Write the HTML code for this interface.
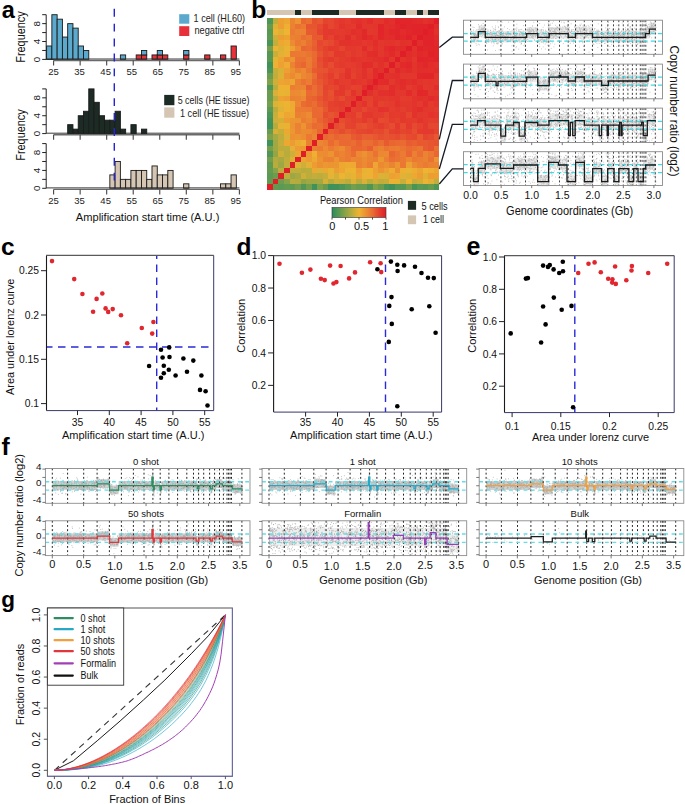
<!DOCTYPE html>
<html><head><meta charset="utf-8"><style>
html,body{margin:0;padding:0;background:#fff;}
svg{display:block;font-family:"Liberation Sans", sans-serif;}
</style></head><body>
<svg width="685" height="804" viewBox="0 0 685 804">
<rect width="685" height="804" fill="#fff"/>
<text x="1.8" y="17.6" font-size="23.5" text-anchor="start" fill="#000" font-weight="bold" >a</text>
<rect x="136.19" y="54.93" width="5.27" height="4.47" fill="#e8303a" stroke="#1a1a1a" stroke-width="0.9"/>
<rect x="141.46" y="54.93" width="5.27" height="4.47" fill="#e8303a" stroke="#1a1a1a" stroke-width="0.9"/>
<rect x="152" y="54.93" width="5.27" height="4.47" fill="#e8303a" stroke="#1a1a1a" stroke-width="0.9"/>
<rect x="157.27" y="54.93" width="5.27" height="4.47" fill="#e8303a" stroke="#1a1a1a" stroke-width="0.9"/>
<rect x="162.54" y="54.93" width="5.27" height="4.47" fill="#e8303a" stroke="#1a1a1a" stroke-width="0.9"/>
<rect x="183.62" y="54.93" width="5.27" height="4.47" fill="#e8303a" stroke="#1a1a1a" stroke-width="0.9"/>
<rect x="204.7" y="54.93" width="5.27" height="4.47" fill="#e8303a" stroke="#1a1a1a" stroke-width="0.9"/>
<rect x="220.51" y="54.93" width="5.27" height="4.47" fill="#e8303a" stroke="#1a1a1a" stroke-width="0.9"/>
<rect x="231.05" y="45.99" width="5.27" height="13.41" fill="#e8303a" stroke="#1a1a1a" stroke-width="0.9"/>
<rect x="46.6" y="45.99" width="5.27" height="13.41" fill="#5ba9cc" stroke="#1a1a1a" stroke-width="0.9"/>
<rect x="51.87" y="14.7" width="5.27" height="44.7" fill="#5ba9cc" stroke="#1a1a1a" stroke-width="0.9"/>
<rect x="57.14" y="19.17" width="5.27" height="40.23" fill="#5ba9cc" stroke="#1a1a1a" stroke-width="0.9"/>
<rect x="62.41" y="37.05" width="5.27" height="22.35" fill="#5ba9cc" stroke="#1a1a1a" stroke-width="0.9"/>
<rect x="67.68" y="23.64" width="5.27" height="35.76" fill="#5ba9cc" stroke="#1a1a1a" stroke-width="0.9"/>
<rect x="72.95" y="28.11" width="5.27" height="31.29" fill="#5ba9cc" stroke="#1a1a1a" stroke-width="0.9"/>
<rect x="78.22" y="45.99" width="5.27" height="13.41" fill="#5ba9cc" stroke="#1a1a1a" stroke-width="0.9"/>
<rect x="83.49" y="50.46" width="5.27" height="8.94" fill="#5ba9cc" stroke="#1a1a1a" stroke-width="0.9"/>
<rect x="120.38" y="54.93" width="5.27" height="4.47" fill="#5ba9cc" stroke="#1a1a1a" stroke-width="0.9"/>
<rect x="141.46" y="50.46" width="5.27" height="4.47" fill="#5ba9cc" stroke="#1a1a1a" stroke-width="0.9"/>
<rect x="157.27" y="50.46" width="5.27" height="4.47" fill="#5ba9cc" stroke="#1a1a1a" stroke-width="0.9"/>
<rect x="183.62" y="50.46" width="5.27" height="4.47" fill="#5ba9cc" stroke="#1a1a1a" stroke-width="0.9"/>
<line x1="46.2" y1="14.7" x2="46.2" y2="59.4" stroke="#222" stroke-width="1" />
<line x1="42.2" y1="59.4" x2="46.2" y2="59.4" stroke="#222" stroke-width="1" />
<line x1="42.2" y1="50.46" x2="46.2" y2="50.46" stroke="#222" stroke-width="1" />
<line x1="42.2" y1="41.52" x2="46.2" y2="41.52" stroke="#222" stroke-width="1" />
<line x1="42.2" y1="32.58" x2="46.2" y2="32.58" stroke="#222" stroke-width="1" />
<line x1="42.2" y1="23.64" x2="46.2" y2="23.64" stroke="#222" stroke-width="1" />
<line x1="42.2" y1="14.7" x2="46.2" y2="14.7" stroke="#222" stroke-width="1" />
<text x="39.6" y="59.4" font-size="9.8" text-anchor="middle" fill="#222" font-weight="normal" transform="rotate(-90 39.6 59.4)" >0</text>
<text x="39.6" y="41.52" font-size="9.8" text-anchor="middle" fill="#222" font-weight="normal" transform="rotate(-90 39.6 41.52)" >4</text>
<text x="39.6" y="23.64" font-size="9.8" text-anchor="middle" fill="#222" font-weight="normal" transform="rotate(-90 39.6 23.64)" >8</text>
<line x1="46.2" y1="59" x2="239.4" y2="59" stroke="#222" stroke-width="0.9" />
<line x1="53.6" y1="60.5" x2="239.38" y2="60.5" stroke="#6a6a6a" stroke-width="1.4" />
<line x1="53.6" y1="60.5" x2="53.6" y2="65.5" stroke="#444" stroke-width="1.1" />
<text x="53.6" y="74.6" font-size="9.5" text-anchor="middle" fill="#222" font-weight="normal" >25</text>
<line x1="80.14" y1="60.5" x2="80.14" y2="65.5" stroke="#444" stroke-width="1.1" />
<text x="79.63" y="74.6" font-size="9.5" text-anchor="middle" fill="#222" font-weight="normal" >35</text>
<line x1="106.68" y1="60.5" x2="106.68" y2="65.5" stroke="#444" stroke-width="1.1" />
<text x="105.66" y="74.6" font-size="9.5" text-anchor="middle" fill="#222" font-weight="normal" >45</text>
<line x1="133.22" y1="60.5" x2="133.22" y2="65.5" stroke="#444" stroke-width="1.1" />
<text x="131.69" y="74.6" font-size="9.5" text-anchor="middle" fill="#222" font-weight="normal" >55</text>
<line x1="159.76" y1="60.5" x2="159.76" y2="65.5" stroke="#444" stroke-width="1.1" />
<text x="157.72" y="74.6" font-size="9.5" text-anchor="middle" fill="#222" font-weight="normal" >65</text>
<line x1="186.3" y1="60.5" x2="186.3" y2="65.5" stroke="#444" stroke-width="1.1" />
<text x="183.75" y="74.6" font-size="9.5" text-anchor="middle" fill="#222" font-weight="normal" >75</text>
<line x1="212.84" y1="60.5" x2="212.84" y2="65.5" stroke="#444" stroke-width="1.1" />
<text x="209.78" y="74.6" font-size="9.5" text-anchor="middle" fill="#222" font-weight="normal" >85</text>
<line x1="239.38" y1="60.5" x2="239.38" y2="65.5" stroke="#444" stroke-width="1.1" />
<text x="235.81" y="74.6" font-size="9.5" text-anchor="middle" fill="#222" font-weight="normal" >95</text>
<rect x="67.68" y="124.66" width="5.27" height="8.94" fill="#1d2b25" stroke="#1a1a1a" stroke-width="0.9"/>
<rect x="72.95" y="129.13" width="5.27" height="4.47" fill="#1d2b25" stroke="#1a1a1a" stroke-width="0.9"/>
<rect x="78.22" y="115.72" width="5.27" height="17.88" fill="#1d2b25" stroke="#1a1a1a" stroke-width="0.9"/>
<rect x="83.49" y="111.25" width="5.27" height="22.35" fill="#1d2b25" stroke="#1a1a1a" stroke-width="0.9"/>
<rect x="88.76" y="88.9" width="5.27" height="44.7" fill="#1d2b25" stroke="#1a1a1a" stroke-width="0.9"/>
<rect x="94.03" y="102.31" width="5.27" height="31.29" fill="#1d2b25" stroke="#1a1a1a" stroke-width="0.9"/>
<rect x="99.3" y="115.72" width="5.27" height="17.88" fill="#1d2b25" stroke="#1a1a1a" stroke-width="0.9"/>
<rect x="104.57" y="120.19" width="5.27" height="13.41" fill="#1d2b25" stroke="#1a1a1a" stroke-width="0.9"/>
<rect x="109.84" y="120.19" width="5.27" height="13.41" fill="#1d2b25" stroke="#1a1a1a" stroke-width="0.9"/>
<rect x="115.11" y="111.25" width="5.27" height="22.35" fill="#1d2b25" stroke="#1a1a1a" stroke-width="0.9"/>
<rect x="120.38" y="129.13" width="5.27" height="4.47" fill="#1d2b25" stroke="#1a1a1a" stroke-width="0.9"/>
<rect x="130.92" y="124.66" width="5.27" height="8.94" fill="#1d2b25" stroke="#1a1a1a" stroke-width="0.9"/>
<rect x="141.46" y="129.13" width="5.27" height="4.47" fill="#1d2b25" stroke="#1a1a1a" stroke-width="0.9"/>
<line x1="46.2" y1="88.9" x2="46.2" y2="133.6" stroke="#222" stroke-width="1" />
<line x1="42.2" y1="133.6" x2="46.2" y2="133.6" stroke="#222" stroke-width="1" />
<line x1="42.2" y1="124.66" x2="46.2" y2="124.66" stroke="#222" stroke-width="1" />
<line x1="42.2" y1="115.72" x2="46.2" y2="115.72" stroke="#222" stroke-width="1" />
<line x1="42.2" y1="106.78" x2="46.2" y2="106.78" stroke="#222" stroke-width="1" />
<line x1="42.2" y1="97.84" x2="46.2" y2="97.84" stroke="#222" stroke-width="1" />
<line x1="42.2" y1="88.9" x2="46.2" y2="88.9" stroke="#222" stroke-width="1" />
<text x="39.6" y="133.6" font-size="9.8" text-anchor="middle" fill="#222" font-weight="normal" transform="rotate(-90 39.6 133.6)" >0</text>
<text x="39.6" y="115.72" font-size="9.8" text-anchor="middle" fill="#222" font-weight="normal" transform="rotate(-90 39.6 115.72)" >4</text>
<text x="39.6" y="97.84" font-size="9.8" text-anchor="middle" fill="#222" font-weight="normal" transform="rotate(-90 39.6 97.84)" >8</text>
<line x1="46.2" y1="133.2" x2="239.4" y2="133.2" stroke="#222" stroke-width="0.9" />
<line x1="53.6" y1="134.7" x2="239.38" y2="134.7" stroke="#6a6a6a" stroke-width="1.4" />
<line x1="53.6" y1="134.7" x2="53.6" y2="139.7" stroke="#444" stroke-width="1.1" />
<line x1="80.14" y1="134.7" x2="80.14" y2="139.7" stroke="#444" stroke-width="1.1" />
<line x1="106.68" y1="134.7" x2="106.68" y2="139.7" stroke="#444" stroke-width="1.1" />
<line x1="133.22" y1="134.7" x2="133.22" y2="139.7" stroke="#444" stroke-width="1.1" />
<line x1="159.76" y1="134.7" x2="159.76" y2="139.7" stroke="#444" stroke-width="1.1" />
<line x1="186.3" y1="134.7" x2="186.3" y2="139.7" stroke="#444" stroke-width="1.1" />
<line x1="212.84" y1="134.7" x2="212.84" y2="139.7" stroke="#444" stroke-width="1.1" />
<line x1="239.38" y1="134.7" x2="239.38" y2="139.7" stroke="#444" stroke-width="1.1" />
<rect x="109.84" y="174.89" width="5.27" height="13.41" fill="#d5c6b3" stroke="#1a1a1a" stroke-width="0.9"/>
<rect x="115.11" y="161.48" width="5.27" height="26.82" fill="#d5c6b3" stroke="#1a1a1a" stroke-width="0.9"/>
<rect x="120.38" y="179.36" width="5.27" height="8.94" fill="#d5c6b3" stroke="#1a1a1a" stroke-width="0.9"/>
<rect x="125.65" y="179.36" width="5.27" height="8.94" fill="#d5c6b3" stroke="#1a1a1a" stroke-width="0.9"/>
<rect x="130.92" y="170.42" width="5.27" height="17.88" fill="#d5c6b3" stroke="#1a1a1a" stroke-width="0.9"/>
<rect x="136.19" y="170.42" width="5.27" height="17.88" fill="#d5c6b3" stroke="#1a1a1a" stroke-width="0.9"/>
<rect x="141.46" y="170.42" width="5.27" height="17.88" fill="#d5c6b3" stroke="#1a1a1a" stroke-width="0.9"/>
<rect x="146.73" y="179.36" width="5.27" height="8.94" fill="#d5c6b3" stroke="#1a1a1a" stroke-width="0.9"/>
<rect x="152" y="165.95" width="5.27" height="22.35" fill="#d5c6b3" stroke="#1a1a1a" stroke-width="0.9"/>
<rect x="157.27" y="174.89" width="5.27" height="13.41" fill="#d5c6b3" stroke="#1a1a1a" stroke-width="0.9"/>
<rect x="162.54" y="174.89" width="5.27" height="13.41" fill="#d5c6b3" stroke="#1a1a1a" stroke-width="0.9"/>
<rect x="167.81" y="170.42" width="5.27" height="17.88" fill="#d5c6b3" stroke="#1a1a1a" stroke-width="0.9"/>
<rect x="183.62" y="183.83" width="5.27" height="4.47" fill="#d5c6b3" stroke="#1a1a1a" stroke-width="0.9"/>
<rect x="220.51" y="183.83" width="5.27" height="4.47" fill="#d5c6b3" stroke="#1a1a1a" stroke-width="0.9"/>
<rect x="225.78" y="183.83" width="5.27" height="4.47" fill="#d5c6b3" stroke="#1a1a1a" stroke-width="0.9"/>
<rect x="231.05" y="174.89" width="5.27" height="13.41" fill="#d5c6b3" stroke="#1a1a1a" stroke-width="0.9"/>
<line x1="46.2" y1="143.6" x2="46.2" y2="188.3" stroke="#222" stroke-width="1" />
<line x1="42.2" y1="188.3" x2="46.2" y2="188.3" stroke="#222" stroke-width="1" />
<line x1="42.2" y1="179.36" x2="46.2" y2="179.36" stroke="#222" stroke-width="1" />
<line x1="42.2" y1="170.42" x2="46.2" y2="170.42" stroke="#222" stroke-width="1" />
<line x1="42.2" y1="161.48" x2="46.2" y2="161.48" stroke="#222" stroke-width="1" />
<line x1="42.2" y1="152.54" x2="46.2" y2="152.54" stroke="#222" stroke-width="1" />
<line x1="42.2" y1="143.6" x2="46.2" y2="143.6" stroke="#222" stroke-width="1" />
<text x="39.6" y="188.3" font-size="9.8" text-anchor="middle" fill="#222" font-weight="normal" transform="rotate(-90 39.6 188.3)" >0</text>
<text x="39.6" y="170.42" font-size="9.8" text-anchor="middle" fill="#222" font-weight="normal" transform="rotate(-90 39.6 170.42)" >4</text>
<text x="39.6" y="152.54" font-size="9.8" text-anchor="middle" fill="#222" font-weight="normal" transform="rotate(-90 39.6 152.54)" >8</text>
<line x1="46.2" y1="187.9" x2="239.4" y2="187.9" stroke="#222" stroke-width="0.9" />
<line x1="53.6" y1="189.4" x2="239.38" y2="189.4" stroke="#6a6a6a" stroke-width="1.4" />
<line x1="53.6" y1="189.4" x2="53.6" y2="194.4" stroke="#444" stroke-width="1.1" />
<text x="53.6" y="203.5" font-size="9.5" text-anchor="middle" fill="#222" font-weight="normal" >25</text>
<line x1="80.14" y1="189.4" x2="80.14" y2="194.4" stroke="#444" stroke-width="1.1" />
<text x="79.63" y="203.5" font-size="9.5" text-anchor="middle" fill="#222" font-weight="normal" >35</text>
<line x1="106.68" y1="189.4" x2="106.68" y2="194.4" stroke="#444" stroke-width="1.1" />
<text x="105.66" y="203.5" font-size="9.5" text-anchor="middle" fill="#222" font-weight="normal" >45</text>
<line x1="133.22" y1="189.4" x2="133.22" y2="194.4" stroke="#444" stroke-width="1.1" />
<text x="131.69" y="203.5" font-size="9.5" text-anchor="middle" fill="#222" font-weight="normal" >55</text>
<line x1="159.76" y1="189.4" x2="159.76" y2="194.4" stroke="#444" stroke-width="1.1" />
<text x="157.72" y="203.5" font-size="9.5" text-anchor="middle" fill="#222" font-weight="normal" >65</text>
<line x1="186.3" y1="189.4" x2="186.3" y2="194.4" stroke="#444" stroke-width="1.1" />
<text x="183.75" y="203.5" font-size="9.5" text-anchor="middle" fill="#222" font-weight="normal" >75</text>
<line x1="212.84" y1="189.4" x2="212.84" y2="194.4" stroke="#444" stroke-width="1.1" />
<text x="209.78" y="203.5" font-size="9.5" text-anchor="middle" fill="#222" font-weight="normal" >85</text>
<line x1="239.38" y1="189.4" x2="239.38" y2="194.4" stroke="#444" stroke-width="1.1" />
<text x="235.81" y="203.5" font-size="9.5" text-anchor="middle" fill="#222" font-weight="normal" >95</text>
<line x1="114.3" y1="8.8" x2="114.3" y2="188.3" stroke="#2323d8" stroke-width="1.4" stroke-dasharray="7.9 7" stroke-dashoffset="0"/>
<rect x="179.2" y="14.2" width="10.1" height="9.5" fill="#5ba9cc"/>
<rect x="179.2" y="26.2" width="10.1" height="9.8" fill="#e8303a"/>
<text x="193.6" y="22.2" font-size="10.5" text-anchor="start" fill="#222" font-weight="normal" textLength="51.5" lengthAdjust="spacingAndGlyphs" >1 cell (HL60)</text>
<text x="194.4" y="34.2" font-size="10.5" text-anchor="start" fill="#222" font-weight="normal" textLength="49.9" lengthAdjust="spacingAndGlyphs" >negative ctrl</text>
<rect x="164.2" y="94.9" width="10.2" height="10.3" fill="#1d2b25"/>
<rect x="164.2" y="107.4" width="10.2" height="10.3" fill="#d5c6b3"/>
<text x="177.7" y="103.8" font-size="10.5" text-anchor="start" fill="#222" font-weight="normal" textLength="71.8" lengthAdjust="spacingAndGlyphs" >5 cells (HE tissue)</text>
<text x="180" y="116.5" font-size="10.5" text-anchor="start" fill="#222" font-weight="normal" textLength="69" lengthAdjust="spacingAndGlyphs" >1 cell (HE tissue)</text>
<text x="24.8" y="37" font-size="12.5" text-anchor="middle" fill="#111" font-weight="normal" transform="rotate(-90 24.8 37)" textLength="51.5" lengthAdjust="spacingAndGlyphs" >Frequency</text>
<text x="24.8" y="135" font-size="12.5" text-anchor="middle" fill="#111" font-weight="normal" transform="rotate(-90 24.8 135)" textLength="51.5" lengthAdjust="spacingAndGlyphs" >Frequency</text>
<text x="147.6" y="220.6" font-size="11.5" text-anchor="middle" fill="#111" font-weight="normal" textLength="143.5" lengthAdjust="spacingAndGlyphs" >Amplification start time (A.U.)</text>
<text x="251.3" y="17.9" font-size="24.5" text-anchor="start" fill="#000" font-weight="bold" >b</text>
<g shape-rendering="crispEdges">
<path fill="#4e9655" d="M267.35 18.00h5.70v5.70h-5.70z"/>
<path fill="#bfad3c" d="M272.90 18.00h5.70v5.70h-5.70z"/>
<path fill="#eda032" d="M278.44 18.00h5.70v5.70h-5.70z"/>
<path fill="#eda632" d="M283.99 18.00h5.70v5.70h-5.70z"/>
<path fill="#eb8432" d="M289.54 18.00h5.70v5.70h-5.70z"/>
<path fill="#ec9432" d="M295.08 18.00h5.70v5.70h-5.70z"/>
<path fill="#e96832" d="M300.63 18.00h5.70v5.70h-5.70z"/>
<path fill="#ea7032" d="M306.18 18.00h5.70v5.70h-5.70z"/>
<path fill="#e65130" d="M311.72 18.00h5.70v5.70h-5.70z"/>
<path fill="#e75830" d="M317.27 18.00h5.70v5.70h-5.70z"/>
<path fill="#e5432e" d="M322.82 18.00h5.70v5.70h-5.70z"/>
<path fill="#e5462f" d="M328.36 18.00h5.70v5.70h-5.70z"/>
<path fill="#e43d2e" d="M333.91 18.00h5.70v5.70h-5.70z"/>
<path fill="#e3372d" d="M339.46 18.00h5.70v5.70h-5.70z"/>
<path fill="#e43b2e" d="M345.00 18.00h5.70v5.70h-5.70z"/>
<path fill="#e3332c" d="M350.55 18.00h5.70v5.70h-5.70z"/>
<path fill="#e2312c" d="M356.10 18.00h5.70v5.70h-5.70z"/>
<path fill="#e3352c" d="M361.65 18.00h5.70v5.70h-5.70z"/>
<path fill="#e22d2b" d="M367.19 18.00h5.70v5.70h-5.70z"/>
<path fill="#e3362d" d="M372.74 18.00h5.70v5.70h-5.70z"/>
<path fill="#e3352c" d="M378.29 18.00h5.70v5.70h-5.70z"/>
<path fill="#e22c2b" d="M383.83 18.00h5.70v5.70h-5.70z"/>
<path fill="#e2312c" d="M389.38 18.00h5.70v5.70h-5.70z"/>
<path fill="#e12429" d="M394.93 18.00h5.70v5.70h-5.70z"/>
<path fill="#e12529" d="M400.47 18.00h5.70v5.70h-5.70z"/>
<path fill="#e12529" d="M406.02 18.00h5.70v5.70h-5.70z"/>
<path fill="#e1282a" d="M411.57 18.00h5.70v5.70h-5.70z"/>
<path fill="#e22a2a" d="M417.11 18.00h5.70v5.70h-5.70z"/>
<path fill="#e2312b" d="M422.66 18.00h5.70v5.70h-5.70z"/>
<path fill="#e22c2b" d="M428.21 18.00h5.70v5.70h-5.70z"/>
<path fill="#e01e28" d="M433.75 18.00h5.70v5.70h-5.70z"/>
<path fill="#679c4f" d="M267.35 23.55h5.70v5.70h-5.70z"/>
<path fill="#dfb235" d="M272.90 23.55h5.70v5.70h-5.70z"/>
<path fill="#ed9d32" d="M278.44 23.55h5.70v5.70h-5.70z"/>
<path fill="#eeaf32" d="M283.99 23.55h5.70v5.70h-5.70z"/>
<path fill="#eb8232" d="M289.54 23.55h5.70v5.70h-5.70z"/>
<path fill="#ea7232" d="M295.08 23.55h5.70v5.70h-5.70z"/>
<path fill="#eb7932" d="M300.63 23.55h5.70v5.70h-5.70z"/>
<path fill="#e75430" d="M306.18 23.55h5.70v5.70h-5.70z"/>
<path fill="#e75530" d="M311.72 23.55h5.70v5.70h-5.70z"/>
<path fill="#e5492f" d="M317.27 23.55h5.70v5.70h-5.70z"/>
<path fill="#e33a2d" d="M322.82 23.55h5.70v5.70h-5.70z"/>
<path fill="#e5462f" d="M328.36 23.55h5.70v5.70h-5.70z"/>
<path fill="#e43e2e" d="M333.91 23.55h5.70v5.70h-5.70z"/>
<path fill="#e3332c" d="M339.46 23.55h5.70v5.70h-5.70z"/>
<path fill="#e3392d" d="M345.00 23.55h5.70v5.70h-5.70z"/>
<path fill="#e43a2d" d="M350.55 23.55h5.70v5.70h-5.70z"/>
<path fill="#e22c2b" d="M356.10 23.55h5.70v5.70h-5.70z"/>
<path fill="#e3372d" d="M361.65 23.55h5.70v5.70h-5.70z"/>
<path fill="#e3362c" d="M367.19 23.55h5.70v5.70h-5.70z"/>
<path fill="#e3352c" d="M372.74 23.55h5.70v5.70h-5.70z"/>
<path fill="#e12629" d="M378.29 23.55h5.70v5.70h-5.70z"/>
<path fill="#e22f2b" d="M383.83 23.55h5.70v5.70h-5.70z"/>
<path fill="#e22d2b" d="M389.38 23.55h5.70v5.70h-5.70z"/>
<path fill="#e1272a" d="M394.93 23.55h5.70v5.70h-5.70z"/>
<path fill="#e12229" d="M400.47 23.55h5.70v5.70h-5.70z"/>
<path fill="#e12629" d="M406.02 23.55h5.70v5.70h-5.70z"/>
<path fill="#e12429" d="M411.57 23.55h5.70v5.70h-5.70z"/>
<path fill="#e12429" d="M417.11 23.55h5.70v5.70h-5.70z"/>
<path fill="#e12429" d="M422.66 23.55h5.70v5.70h-5.70z"/>
<path fill="#e01e28" d="M428.21 23.55h5.70v5.70h-5.70z"/>
<path fill="#e22c2b" d="M433.75 23.55h5.70v5.70h-5.70z"/>
<path fill="#579853" d="M267.35 29.09h5.70v5.70h-5.70z"/>
<path fill="#ecb432" d="M272.90 29.09h5.70v5.70h-5.70z"/>
<path fill="#dfb235" d="M278.44 29.09h5.70v5.70h-5.70z"/>
<path fill="#eeb432" d="M283.99 29.09h5.70v5.70h-5.70z"/>
<path fill="#eb7b32" d="M289.54 29.09h5.70v5.70h-5.70z"/>
<path fill="#eb8432" d="M295.08 29.09h5.70v5.70h-5.70z"/>
<path fill="#eb8332" d="M300.63 29.09h5.70v5.70h-5.70z"/>
<path fill="#e85b31" d="M306.18 29.09h5.70v5.70h-5.70z"/>
<path fill="#e75930" d="M311.72 29.09h5.70v5.70h-5.70z"/>
<path fill="#e5442f" d="M317.27 29.09h5.70v5.70h-5.70z"/>
<path fill="#e33a2d" d="M322.82 29.09h5.70v5.70h-5.70z"/>
<path fill="#e3382d" d="M328.36 29.09h5.70v5.70h-5.70z"/>
<path fill="#e33a2d" d="M333.91 29.09h5.70v5.70h-5.70z"/>
<path fill="#e43a2d" d="M339.46 29.09h5.70v5.70h-5.70z"/>
<path fill="#e3362d" d="M345.00 29.09h5.70v5.70h-5.70z"/>
<path fill="#e22f2b" d="M350.55 29.09h5.70v5.70h-5.70z"/>
<path fill="#e3322c" d="M356.10 29.09h5.70v5.70h-5.70z"/>
<path fill="#e1292a" d="M361.65 29.09h5.70v5.70h-5.70z"/>
<path fill="#e3392d" d="M367.19 29.09h5.70v5.70h-5.70z"/>
<path fill="#e3362c" d="M372.74 29.09h5.70v5.70h-5.70z"/>
<path fill="#e12529" d="M378.29 29.09h5.70v5.70h-5.70z"/>
<path fill="#e22e2b" d="M383.83 29.09h5.70v5.70h-5.70z"/>
<path fill="#e1272a" d="M389.38 29.09h5.70v5.70h-5.70z"/>
<path fill="#e12629" d="M394.93 29.09h5.70v5.70h-5.70z"/>
<path fill="#e22b2a" d="M400.47 29.09h5.70v5.70h-5.70z"/>
<path fill="#e1272a" d="M406.02 29.09h5.70v5.70h-5.70z"/>
<path fill="#e12429" d="M411.57 29.09h5.70v5.70h-5.70z"/>
<path fill="#e12429" d="M417.11 29.09h5.70v5.70h-5.70z"/>
<path fill="#e01e28" d="M422.66 29.09h5.70v5.70h-5.70z"/>
<path fill="#e12429" d="M428.21 29.09h5.70v5.70h-5.70z"/>
<path fill="#e2312b" d="M433.75 29.09h5.70v5.70h-5.70z"/>
<path fill="#5c9952" d="M267.35 34.64h5.70v5.70h-5.70z"/>
<path fill="#d0af38" d="M272.90 34.64h5.70v5.70h-5.70z"/>
<path fill="#ed9e32" d="M278.44 34.64h5.70v5.70h-5.70z"/>
<path fill="#eda332" d="M283.99 34.64h5.70v5.70h-5.70z"/>
<path fill="#eb8232" d="M289.54 34.64h5.70v5.70h-5.70z"/>
<path fill="#eb7e32" d="M295.08 34.64h5.70v5.70h-5.70z"/>
<path fill="#ea6f32" d="M300.63 34.64h5.70v5.70h-5.70z"/>
<path fill="#eb7632" d="M306.18 34.64h5.70v5.70h-5.70z"/>
<path fill="#e85930" d="M311.72 34.64h5.70v5.70h-5.70z"/>
<path fill="#e85930" d="M317.27 34.64h5.70v5.70h-5.70z"/>
<path fill="#e43b2d" d="M322.82 34.64h5.70v5.70h-5.70z"/>
<path fill="#e4412e" d="M328.36 34.64h5.70v5.70h-5.70z"/>
<path fill="#e3342c" d="M333.91 34.64h5.70v5.70h-5.70z"/>
<path fill="#e3382d" d="M339.46 34.64h5.70v5.70h-5.70z"/>
<path fill="#e22e2b" d="M345.00 34.64h5.70v5.70h-5.70z"/>
<path fill="#e43a2d" d="M350.55 34.64h5.70v5.70h-5.70z"/>
<path fill="#e2302b" d="M356.10 34.64h5.70v5.70h-5.70z"/>
<path fill="#e1272a" d="M361.65 34.64h5.70v5.70h-5.70z"/>
<path fill="#e22d2b" d="M367.19 34.64h5.70v5.70h-5.70z"/>
<path fill="#e3342c" d="M372.74 34.64h5.70v5.70h-5.70z"/>
<path fill="#e1272a" d="M378.29 34.64h5.70v5.70h-5.70z"/>
<path fill="#e22e2b" d="M383.83 34.64h5.70v5.70h-5.70z"/>
<path fill="#e22c2b" d="M389.38 34.64h5.70v5.70h-5.70z"/>
<path fill="#e12429" d="M394.93 34.64h5.70v5.70h-5.70z"/>
<path fill="#e1292a" d="M400.47 34.64h5.70v5.70h-5.70z"/>
<path fill="#e12329" d="M406.02 34.64h5.70v5.70h-5.70z"/>
<path fill="#e22d2b" d="M411.57 34.64h5.70v5.70h-5.70z"/>
<path fill="#e01e28" d="M417.11 34.64h5.70v5.70h-5.70z"/>
<path fill="#e12429" d="M422.66 34.64h5.70v5.70h-5.70z"/>
<path fill="#e12429" d="M428.21 34.64h5.70v5.70h-5.70z"/>
<path fill="#e22a2a" d="M433.75 34.64h5.70v5.70h-5.70z"/>
<path fill="#4a9556" d="M267.35 40.19h5.70v5.70h-5.70z"/>
<path fill="#c4ae3b" d="M272.90 40.19h5.70v5.70h-5.70z"/>
<path fill="#eda832" d="M278.44 40.19h5.70v5.70h-5.70z"/>
<path fill="#eeac32" d="M283.99 40.19h5.70v5.70h-5.70z"/>
<path fill="#ec8c32" d="M289.54 40.19h5.70v5.70h-5.70z"/>
<path fill="#eb7932" d="M295.08 40.19h5.70v5.70h-5.70z"/>
<path fill="#eb8032" d="M300.63 40.19h5.70v5.70h-5.70z"/>
<path fill="#ea7032" d="M306.18 40.19h5.70v5.70h-5.70z"/>
<path fill="#e96131" d="M311.72 40.19h5.70v5.70h-5.70z"/>
<path fill="#e5482f" d="M317.27 40.19h5.70v5.70h-5.70z"/>
<path fill="#e64e2f" d="M322.82 40.19h5.70v5.70h-5.70z"/>
<path fill="#e5492f" d="M328.36 40.19h5.70v5.70h-5.70z"/>
<path fill="#e43d2e" d="M333.91 40.19h5.70v5.70h-5.70z"/>
<path fill="#e2322c" d="M339.46 40.19h5.70v5.70h-5.70z"/>
<path fill="#e3322c" d="M345.00 40.19h5.70v5.70h-5.70z"/>
<path fill="#e3332c" d="M350.55 40.19h5.70v5.70h-5.70z"/>
<path fill="#e3332c" d="M356.10 40.19h5.70v5.70h-5.70z"/>
<path fill="#e3382d" d="M361.65 40.19h5.70v5.70h-5.70z"/>
<path fill="#e3352c" d="M367.19 40.19h5.70v5.70h-5.70z"/>
<path fill="#e22d2b" d="M372.74 40.19h5.70v5.70h-5.70z"/>
<path fill="#e3362c" d="M378.29 40.19h5.70v5.70h-5.70z"/>
<path fill="#e3342c" d="M383.83 40.19h5.70v5.70h-5.70z"/>
<path fill="#e3342c" d="M389.38 40.19h5.70v5.70h-5.70z"/>
<path fill="#e3372d" d="M394.93 40.19h5.70v5.70h-5.70z"/>
<path fill="#e2302b" d="M400.47 40.19h5.70v5.70h-5.70z"/>
<path fill="#e3322c" d="M406.02 40.19h5.70v5.70h-5.70z"/>
<path fill="#e01e28" d="M411.57 40.19h5.70v5.70h-5.70z"/>
<path fill="#e22d2b" d="M417.11 40.19h5.70v5.70h-5.70z"/>
<path fill="#e12429" d="M422.66 40.19h5.70v5.70h-5.70z"/>
<path fill="#e12429" d="M428.21 40.19h5.70v5.70h-5.70z"/>
<path fill="#e1282a" d="M433.75 40.19h5.70v5.70h-5.70z"/>
<path fill="#769f4c" d="M267.35 45.73h5.70v5.70h-5.70z"/>
<path fill="#ecb432" d="M272.90 45.73h5.70v5.70h-5.70z"/>
<path fill="#ddb135" d="M278.44 45.73h5.70v5.70h-5.70z"/>
<path fill="#e9b333" d="M283.99 45.73h5.70v5.70h-5.70z"/>
<path fill="#eda132" d="M289.54 45.73h5.70v5.70h-5.70z"/>
<path fill="#ec8832" d="M295.08 45.73h5.70v5.70h-5.70z"/>
<path fill="#e96531" d="M300.63 45.73h5.70v5.70h-5.70z"/>
<path fill="#ea6a32" d="M306.18 45.73h5.70v5.70h-5.70z"/>
<path fill="#e85c31" d="M311.72 45.73h5.70v5.70h-5.70z"/>
<path fill="#e64a2f" d="M317.27 45.73h5.70v5.70h-5.70z"/>
<path fill="#e5422e" d="M322.82 45.73h5.70v5.70h-5.70z"/>
<path fill="#e43a2d" d="M328.36 45.73h5.70v5.70h-5.70z"/>
<path fill="#e43b2d" d="M333.91 45.73h5.70v5.70h-5.70z"/>
<path fill="#e5452f" d="M339.46 45.73h5.70v5.70h-5.70z"/>
<path fill="#e3392d" d="M345.00 45.73h5.70v5.70h-5.70z"/>
<path fill="#e3382d" d="M350.55 45.73h5.70v5.70h-5.70z"/>
<path fill="#e43b2d" d="M356.10 45.73h5.70v5.70h-5.70z"/>
<path fill="#e22b2a" d="M361.65 45.73h5.70v5.70h-5.70z"/>
<path fill="#e33a2d" d="M367.19 45.73h5.70v5.70h-5.70z"/>
<path fill="#e2302b" d="M372.74 45.73h5.70v5.70h-5.70z"/>
<path fill="#e3362d" d="M378.29 45.73h5.70v5.70h-5.70z"/>
<path fill="#e22b2b" d="M383.83 45.73h5.70v5.70h-5.70z"/>
<path fill="#e1272a" d="M389.38 45.73h5.70v5.70h-5.70z"/>
<path fill="#e22e2b" d="M394.93 45.73h5.70v5.70h-5.70z"/>
<path fill="#e22b2b" d="M400.47 45.73h5.70v5.70h-5.70z"/>
<path fill="#e01e28" d="M406.02 45.73h5.70v5.70h-5.70z"/>
<path fill="#e3322c" d="M411.57 45.73h5.70v5.70h-5.70z"/>
<path fill="#e12329" d="M417.11 45.73h5.70v5.70h-5.70z"/>
<path fill="#e1272a" d="M422.66 45.73h5.70v5.70h-5.70z"/>
<path fill="#e12629" d="M428.21 45.73h5.70v5.70h-5.70z"/>
<path fill="#e12529" d="M433.75 45.73h5.70v5.70h-5.70z"/>
<path fill="#569853" d="M267.35 51.28h5.70v5.70h-5.70z"/>
<path fill="#c9ae39" d="M272.90 51.28h5.70v5.70h-5.70z"/>
<path fill="#e1b235" d="M278.44 51.28h5.70v5.70h-5.70z"/>
<path fill="#eeaf32" d="M283.99 51.28h5.70v5.70h-5.70z"/>
<path fill="#eb7832" d="M289.54 51.28h5.70v5.70h-5.70z"/>
<path fill="#eb7932" d="M295.08 51.28h5.70v5.70h-5.70z"/>
<path fill="#eb7b32" d="M300.63 51.28h5.70v5.70h-5.70z"/>
<path fill="#ea7432" d="M306.18 51.28h5.70v5.70h-5.70z"/>
<path fill="#ea6b32" d="M311.72 51.28h5.70v5.70h-5.70z"/>
<path fill="#e75430" d="M317.27 51.28h5.70v5.70h-5.70z"/>
<path fill="#e5442f" d="M322.82 51.28h5.70v5.70h-5.70z"/>
<path fill="#e64b2f" d="M328.36 51.28h5.70v5.70h-5.70z"/>
<path fill="#e3392d" d="M333.91 51.28h5.70v5.70h-5.70z"/>
<path fill="#e3392d" d="M339.46 51.28h5.70v5.70h-5.70z"/>
<path fill="#e43f2e" d="M345.00 51.28h5.70v5.70h-5.70z"/>
<path fill="#e3392d" d="M350.55 51.28h5.70v5.70h-5.70z"/>
<path fill="#e43c2e" d="M356.10 51.28h5.70v5.70h-5.70z"/>
<path fill="#e3362d" d="M361.65 51.28h5.70v5.70h-5.70z"/>
<path fill="#e22e2b" d="M367.19 51.28h5.70v5.70h-5.70z"/>
<path fill="#e22c2b" d="M372.74 51.28h5.70v5.70h-5.70z"/>
<path fill="#e3372d" d="M378.29 51.28h5.70v5.70h-5.70z"/>
<path fill="#e2312c" d="M383.83 51.28h5.70v5.70h-5.70z"/>
<path fill="#e22a2a" d="M389.38 51.28h5.70v5.70h-5.70z"/>
<path fill="#e3342c" d="M394.93 51.28h5.70v5.70h-5.70z"/>
<path fill="#e01e28" d="M400.47 51.28h5.70v5.70h-5.70z"/>
<path fill="#e22b2b" d="M406.02 51.28h5.70v5.70h-5.70z"/>
<path fill="#e2302b" d="M411.57 51.28h5.70v5.70h-5.70z"/>
<path fill="#e1292a" d="M417.11 51.28h5.70v5.70h-5.70z"/>
<path fill="#e22b2a" d="M422.66 51.28h5.70v5.70h-5.70z"/>
<path fill="#e12229" d="M428.21 51.28h5.70v5.70h-5.70z"/>
<path fill="#e12529" d="M433.75 51.28h5.70v5.70h-5.70z"/>
<path fill="#579853" d="M267.35 56.83h5.70v5.70h-5.70z"/>
<path fill="#e7b333" d="M272.90 56.83h5.70v5.70h-5.70z"/>
<path fill="#eda532" d="M278.44 56.83h5.70v5.70h-5.70z"/>
<path fill="#ec8f32" d="M283.99 56.83h5.70v5.70h-5.70z"/>
<path fill="#ec9632" d="M289.54 56.83h5.70v5.70h-5.70z"/>
<path fill="#ea7232" d="M295.08 56.83h5.70v5.70h-5.70z"/>
<path fill="#ea7132" d="M300.63 56.83h5.70v5.70h-5.70z"/>
<path fill="#eb7c32" d="M306.18 56.83h5.70v5.70h-5.70z"/>
<path fill="#ea6832" d="M311.72 56.83h5.70v5.70h-5.70z"/>
<path fill="#e64b2f" d="M317.27 56.83h5.70v5.70h-5.70z"/>
<path fill="#e43f2e" d="M322.82 56.83h5.70v5.70h-5.70z"/>
<path fill="#e43a2d" d="M328.36 56.83h5.70v5.70h-5.70z"/>
<path fill="#e5422e" d="M333.91 56.83h5.70v5.70h-5.70z"/>
<path fill="#e43b2d" d="M339.46 56.83h5.70v5.70h-5.70z"/>
<path fill="#e3392d" d="M345.00 56.83h5.70v5.70h-5.70z"/>
<path fill="#e3322c" d="M350.55 56.83h5.70v5.70h-5.70z"/>
<path fill="#e3352c" d="M356.10 56.83h5.70v5.70h-5.70z"/>
<path fill="#e3362d" d="M361.65 56.83h5.70v5.70h-5.70z"/>
<path fill="#e3342c" d="M367.19 56.83h5.70v5.70h-5.70z"/>
<path fill="#e2302b" d="M372.74 56.83h5.70v5.70h-5.70z"/>
<path fill="#e22f2b" d="M378.29 56.83h5.70v5.70h-5.70z"/>
<path fill="#e1282a" d="M383.83 56.83h5.70v5.70h-5.70z"/>
<path fill="#e3372d" d="M389.38 56.83h5.70v5.70h-5.70z"/>
<path fill="#e01e28" d="M394.93 56.83h5.70v5.70h-5.70z"/>
<path fill="#e3342c" d="M400.47 56.83h5.70v5.70h-5.70z"/>
<path fill="#e22e2b" d="M406.02 56.83h5.70v5.70h-5.70z"/>
<path fill="#e3372d" d="M411.57 56.83h5.70v5.70h-5.70z"/>
<path fill="#e12429" d="M417.11 56.83h5.70v5.70h-5.70z"/>
<path fill="#e12629" d="M422.66 56.83h5.70v5.70h-5.70z"/>
<path fill="#e1272a" d="M428.21 56.83h5.70v5.70h-5.70z"/>
<path fill="#e12429" d="M433.75 56.83h5.70v5.70h-5.70z"/>
<path fill="#419259" d="M267.35 62.37h5.70v5.70h-5.70z"/>
<path fill="#eeb132" d="M272.90 62.37h5.70v5.70h-5.70z"/>
<path fill="#eda132" d="M278.44 62.37h5.70v5.70h-5.70z"/>
<path fill="#eeac32" d="M283.99 62.37h5.70v5.70h-5.70z"/>
<path fill="#eb8432" d="M289.54 62.37h5.70v5.70h-5.70z"/>
<path fill="#ea6d32" d="M295.08 62.37h5.70v5.70h-5.70z"/>
<path fill="#e96531" d="M300.63 62.37h5.70v5.70h-5.70z"/>
<path fill="#eb7a32" d="M306.18 62.37h5.70v5.70h-5.70z"/>
<path fill="#e96631" d="M311.72 62.37h5.70v5.70h-5.70z"/>
<path fill="#e64f2f" d="M317.27 62.37h5.70v5.70h-5.70z"/>
<path fill="#e5422e" d="M322.82 62.37h5.70v5.70h-5.70z"/>
<path fill="#e64c2f" d="M328.36 62.37h5.70v5.70h-5.70z"/>
<path fill="#e43d2e" d="M333.91 62.37h5.70v5.70h-5.70z"/>
<path fill="#e43a2d" d="M339.46 62.37h5.70v5.70h-5.70z"/>
<path fill="#e43c2e" d="M345.00 62.37h5.70v5.70h-5.70z"/>
<path fill="#e43b2d" d="M350.55 62.37h5.70v5.70h-5.70z"/>
<path fill="#e3372d" d="M356.10 62.37h5.70v5.70h-5.70z"/>
<path fill="#e22b2b" d="M361.65 62.37h5.70v5.70h-5.70z"/>
<path fill="#e22d2b" d="M367.19 62.37h5.70v5.70h-5.70z"/>
<path fill="#e3382d" d="M372.74 62.37h5.70v5.70h-5.70z"/>
<path fill="#e2302b" d="M378.29 62.37h5.70v5.70h-5.70z"/>
<path fill="#e3392d" d="M383.83 62.37h5.70v5.70h-5.70z"/>
<path fill="#e01e28" d="M389.38 62.37h5.70v5.70h-5.70z"/>
<path fill="#e3372d" d="M394.93 62.37h5.70v5.70h-5.70z"/>
<path fill="#e22a2a" d="M400.47 62.37h5.70v5.70h-5.70z"/>
<path fill="#e1272a" d="M406.02 62.37h5.70v5.70h-5.70z"/>
<path fill="#e3342c" d="M411.57 62.37h5.70v5.70h-5.70z"/>
<path fill="#e22c2b" d="M417.11 62.37h5.70v5.70h-5.70z"/>
<path fill="#e1272a" d="M422.66 62.37h5.70v5.70h-5.70z"/>
<path fill="#e22d2b" d="M428.21 62.37h5.70v5.70h-5.70z"/>
<path fill="#e2312c" d="M433.75 62.37h5.70v5.70h-5.70z"/>
<path fill="#4c9556" d="M267.35 67.92h5.70v5.70h-5.70z"/>
<path fill="#c5ae3a" d="M272.90 67.92h5.70v5.70h-5.70z"/>
<path fill="#d9b136" d="M278.44 67.92h5.70v5.70h-5.70z"/>
<path fill="#ed9f32" d="M283.99 67.92h5.70v5.70h-5.70z"/>
<path fill="#ec9132" d="M289.54 67.92h5.70v5.70h-5.70z"/>
<path fill="#eb7f32" d="M295.08 67.92h5.70v5.70h-5.70z"/>
<path fill="#ec8932" d="M300.63 67.92h5.70v5.70h-5.70z"/>
<path fill="#ea7432" d="M306.18 67.92h5.70v5.70h-5.70z"/>
<path fill="#e85a30" d="M311.72 67.92h5.70v5.70h-5.70z"/>
<path fill="#e75430" d="M317.27 67.92h5.70v5.70h-5.70z"/>
<path fill="#e75230" d="M322.82 67.92h5.70v5.70h-5.70z"/>
<path fill="#e5442f" d="M328.36 67.92h5.70v5.70h-5.70z"/>
<path fill="#e5472f" d="M333.91 67.92h5.70v5.70h-5.70z"/>
<path fill="#e5442f" d="M339.46 67.92h5.70v5.70h-5.70z"/>
<path fill="#e3332c" d="M345.00 67.92h5.70v5.70h-5.70z"/>
<path fill="#e43e2e" d="M350.55 67.92h5.70v5.70h-5.70z"/>
<path fill="#e43a2d" d="M356.10 67.92h5.70v5.70h-5.70z"/>
<path fill="#e2302b" d="M361.65 67.92h5.70v5.70h-5.70z"/>
<path fill="#e43d2e" d="M367.19 67.92h5.70v5.70h-5.70z"/>
<path fill="#e22a2a" d="M372.74 67.92h5.70v5.70h-5.70z"/>
<path fill="#e2322c" d="M378.29 67.92h5.70v5.70h-5.70z"/>
<path fill="#e01e28" d="M383.83 67.92h5.70v5.70h-5.70z"/>
<path fill="#e3392d" d="M389.38 67.92h5.70v5.70h-5.70z"/>
<path fill="#e1282a" d="M394.93 67.92h5.70v5.70h-5.70z"/>
<path fill="#e2312c" d="M400.47 67.92h5.70v5.70h-5.70z"/>
<path fill="#e22b2b" d="M406.02 67.92h5.70v5.70h-5.70z"/>
<path fill="#e3342c" d="M411.57 67.92h5.70v5.70h-5.70z"/>
<path fill="#e22e2b" d="M417.11 67.92h5.70v5.70h-5.70z"/>
<path fill="#e22e2b" d="M422.66 67.92h5.70v5.70h-5.70z"/>
<path fill="#e22f2b" d="M428.21 67.92h5.70v5.70h-5.70z"/>
<path fill="#e22c2b" d="M433.75 67.92h5.70v5.70h-5.70z"/>
<path fill="#6c9d4e" d="M267.35 73.47h5.70v5.70h-5.70z"/>
<path fill="#c2ad3b" d="M272.90 73.47h5.70v5.70h-5.70z"/>
<path fill="#dbb136" d="M278.44 73.47h5.70v5.70h-5.70z"/>
<path fill="#ec9432" d="M283.99 73.47h5.70v5.70h-5.70z"/>
<path fill="#ec8a32" d="M289.54 73.47h5.70v5.70h-5.70z"/>
<path fill="#ec9832" d="M295.08 73.47h5.70v5.70h-5.70z"/>
<path fill="#ec8732" d="M300.63 73.47h5.70v5.70h-5.70z"/>
<path fill="#eb8132" d="M306.18 73.47h5.70v5.70h-5.70z"/>
<path fill="#ea6e32" d="M311.72 73.47h5.70v5.70h-5.70z"/>
<path fill="#e65030" d="M317.27 73.47h5.70v5.70h-5.70z"/>
<path fill="#e5472f" d="M322.82 73.47h5.70v5.70h-5.70z"/>
<path fill="#e43d2e" d="M328.36 73.47h5.70v5.70h-5.70z"/>
<path fill="#e64b2f" d="M333.91 73.47h5.70v5.70h-5.70z"/>
<path fill="#e43c2e" d="M339.46 73.47h5.70v5.70h-5.70z"/>
<path fill="#e3322c" d="M345.00 73.47h5.70v5.70h-5.70z"/>
<path fill="#e5422e" d="M350.55 73.47h5.70v5.70h-5.70z"/>
<path fill="#e3392d" d="M356.10 73.47h5.70v5.70h-5.70z"/>
<path fill="#e2312c" d="M361.65 73.47h5.70v5.70h-5.70z"/>
<path fill="#e33a2d" d="M367.19 73.47h5.70v5.70h-5.70z"/>
<path fill="#e22b2a" d="M372.74 73.47h5.70v5.70h-5.70z"/>
<path fill="#e01e28" d="M378.29 73.47h5.70v5.70h-5.70z"/>
<path fill="#e2322c" d="M383.83 73.47h5.70v5.70h-5.70z"/>
<path fill="#e2302b" d="M389.38 73.47h5.70v5.70h-5.70z"/>
<path fill="#e22f2b" d="M394.93 73.47h5.70v5.70h-5.70z"/>
<path fill="#e3372d" d="M400.47 73.47h5.70v5.70h-5.70z"/>
<path fill="#e3362d" d="M406.02 73.47h5.70v5.70h-5.70z"/>
<path fill="#e3362c" d="M411.57 73.47h5.70v5.70h-5.70z"/>
<path fill="#e1272a" d="M417.11 73.47h5.70v5.70h-5.70z"/>
<path fill="#e12529" d="M422.66 73.47h5.70v5.70h-5.70z"/>
<path fill="#e12629" d="M428.21 73.47h5.70v5.70h-5.70z"/>
<path fill="#e3352c" d="M433.75 73.47h5.70v5.70h-5.70z"/>
<path fill="#80a249" d="M267.35 79.01h5.70v5.70h-5.70z"/>
<path fill="#cfaf38" d="M272.90 79.01h5.70v5.70h-5.70z"/>
<path fill="#eda432" d="M278.44 79.01h5.70v5.70h-5.70z"/>
<path fill="#eda132" d="M283.99 79.01h5.70v5.70h-5.70z"/>
<path fill="#eda632" d="M289.54 79.01h5.70v5.70h-5.70z"/>
<path fill="#eb8032" d="M295.08 79.01h5.70v5.70h-5.70z"/>
<path fill="#ea7232" d="M300.63 79.01h5.70v5.70h-5.70z"/>
<path fill="#eb7c32" d="M306.18 79.01h5.70v5.70h-5.70z"/>
<path fill="#e96331" d="M311.72 79.01h5.70v5.70h-5.70z"/>
<path fill="#e75830" d="M317.27 79.01h5.70v5.70h-5.70z"/>
<path fill="#e64b2f" d="M322.82 79.01h5.70v5.70h-5.70z"/>
<path fill="#e5422e" d="M328.36 79.01h5.70v5.70h-5.70z"/>
<path fill="#e3372d" d="M333.91 79.01h5.70v5.70h-5.70z"/>
<path fill="#e43d2e" d="M339.46 79.01h5.70v5.70h-5.70z"/>
<path fill="#e43c2e" d="M345.00 79.01h5.70v5.70h-5.70z"/>
<path fill="#e3332c" d="M350.55 79.01h5.70v5.70h-5.70z"/>
<path fill="#e3372d" d="M356.10 79.01h5.70v5.70h-5.70z"/>
<path fill="#e43a2d" d="M361.65 79.01h5.70v5.70h-5.70z"/>
<path fill="#e2312c" d="M367.19 79.01h5.70v5.70h-5.70z"/>
<path fill="#e01e28" d="M372.74 79.01h5.70v5.70h-5.70z"/>
<path fill="#e22b2a" d="M378.29 79.01h5.70v5.70h-5.70z"/>
<path fill="#e22a2a" d="M383.83 79.01h5.70v5.70h-5.70z"/>
<path fill="#e3382d" d="M389.38 79.01h5.70v5.70h-5.70z"/>
<path fill="#e2302b" d="M394.93 79.01h5.70v5.70h-5.70z"/>
<path fill="#e22c2b" d="M400.47 79.01h5.70v5.70h-5.70z"/>
<path fill="#e2302b" d="M406.02 79.01h5.70v5.70h-5.70z"/>
<path fill="#e22d2b" d="M411.57 79.01h5.70v5.70h-5.70z"/>
<path fill="#e3342c" d="M417.11 79.01h5.70v5.70h-5.70z"/>
<path fill="#e3362c" d="M422.66 79.01h5.70v5.70h-5.70z"/>
<path fill="#e3352c" d="M428.21 79.01h5.70v5.70h-5.70z"/>
<path fill="#e3362d" d="M433.75 79.01h5.70v5.70h-5.70z"/>
<path fill="#4f9655" d="M267.35 84.56h5.70v5.70h-5.70z"/>
<path fill="#baac3d" d="M272.90 84.56h5.70v5.70h-5.70z"/>
<path fill="#eeb232" d="M278.44 84.56h5.70v5.70h-5.70z"/>
<path fill="#eeb132" d="M283.99 84.56h5.70v5.70h-5.70z"/>
<path fill="#eb7e32" d="M289.54 84.56h5.70v5.70h-5.70z"/>
<path fill="#eb8432" d="M295.08 84.56h5.70v5.70h-5.70z"/>
<path fill="#eb8532" d="M300.63 84.56h5.70v5.70h-5.70z"/>
<path fill="#e85d31" d="M306.18 84.56h5.70v5.70h-5.70z"/>
<path fill="#ea6e32" d="M311.72 84.56h5.70v5.70h-5.70z"/>
<path fill="#e85d31" d="M317.27 84.56h5.70v5.70h-5.70z"/>
<path fill="#e5432e" d="M322.82 84.56h5.70v5.70h-5.70z"/>
<path fill="#e5482f" d="M328.36 84.56h5.70v5.70h-5.70z"/>
<path fill="#e5442e" d="M333.91 84.56h5.70v5.70h-5.70z"/>
<path fill="#e3372d" d="M339.46 84.56h5.70v5.70h-5.70z"/>
<path fill="#e43c2e" d="M345.00 84.56h5.70v5.70h-5.70z"/>
<path fill="#e5432e" d="M350.55 84.56h5.70v5.70h-5.70z"/>
<path fill="#e4412e" d="M356.10 84.56h5.70v5.70h-5.70z"/>
<path fill="#e2312c" d="M361.65 84.56h5.70v5.70h-5.70z"/>
<path fill="#e01e28" d="M367.19 84.56h5.70v5.70h-5.70z"/>
<path fill="#e2312c" d="M372.74 84.56h5.70v5.70h-5.70z"/>
<path fill="#e33a2d" d="M378.29 84.56h5.70v5.70h-5.70z"/>
<path fill="#e43d2e" d="M383.83 84.56h5.70v5.70h-5.70z"/>
<path fill="#e22d2b" d="M389.38 84.56h5.70v5.70h-5.70z"/>
<path fill="#e3342c" d="M394.93 84.56h5.70v5.70h-5.70z"/>
<path fill="#e22e2b" d="M400.47 84.56h5.70v5.70h-5.70z"/>
<path fill="#e33a2d" d="M406.02 84.56h5.70v5.70h-5.70z"/>
<path fill="#e3352c" d="M411.57 84.56h5.70v5.70h-5.70z"/>
<path fill="#e22d2b" d="M417.11 84.56h5.70v5.70h-5.70z"/>
<path fill="#e3392d" d="M422.66 84.56h5.70v5.70h-5.70z"/>
<path fill="#e3362c" d="M428.21 84.56h5.70v5.70h-5.70z"/>
<path fill="#e22d2b" d="M433.75 84.56h5.70v5.70h-5.70z"/>
<path fill="#699c4f" d="M267.35 90.11h5.70v5.70h-5.70z"/>
<path fill="#dab136" d="M272.90 90.11h5.70v5.70h-5.70z"/>
<path fill="#ebb333" d="M278.44 90.11h5.70v5.70h-5.70z"/>
<path fill="#e8b333" d="M283.99 90.11h5.70v5.70h-5.70z"/>
<path fill="#ec8932" d="M289.54 90.11h5.70v5.70h-5.70z"/>
<path fill="#ec8c32" d="M295.08 90.11h5.70v5.70h-5.70z"/>
<path fill="#ec9232" d="M300.63 90.11h5.70v5.70h-5.70z"/>
<path fill="#ea6a32" d="M306.18 90.11h5.70v5.70h-5.70z"/>
<path fill="#ea7032" d="M311.72 90.11h5.70v5.70h-5.70z"/>
<path fill="#e86031" d="M317.27 90.11h5.70v5.70h-5.70z"/>
<path fill="#e5462f" d="M322.82 90.11h5.70v5.70h-5.70z"/>
<path fill="#e75130" d="M328.36 90.11h5.70v5.70h-5.70z"/>
<path fill="#e33a2d" d="M333.91 90.11h5.70v5.70h-5.70z"/>
<path fill="#e3392d" d="M339.46 90.11h5.70v5.70h-5.70z"/>
<path fill="#e5482f" d="M345.00 90.11h5.70v5.70h-5.70z"/>
<path fill="#e3332c" d="M350.55 90.11h5.70v5.70h-5.70z"/>
<path fill="#e4402e" d="M356.10 90.11h5.70v5.70h-5.70z"/>
<path fill="#e01e28" d="M361.65 90.11h5.70v5.70h-5.70z"/>
<path fill="#e2312c" d="M367.19 90.11h5.70v5.70h-5.70z"/>
<path fill="#e43a2d" d="M372.74 90.11h5.70v5.70h-5.70z"/>
<path fill="#e2312c" d="M378.29 90.11h5.70v5.70h-5.70z"/>
<path fill="#e2302b" d="M383.83 90.11h5.70v5.70h-5.70z"/>
<path fill="#e22b2b" d="M389.38 90.11h5.70v5.70h-5.70z"/>
<path fill="#e3362d" d="M394.93 90.11h5.70v5.70h-5.70z"/>
<path fill="#e3362d" d="M400.47 90.11h5.70v5.70h-5.70z"/>
<path fill="#e22b2a" d="M406.02 90.11h5.70v5.70h-5.70z"/>
<path fill="#e3382d" d="M411.57 90.11h5.70v5.70h-5.70z"/>
<path fill="#e1272a" d="M417.11 90.11h5.70v5.70h-5.70z"/>
<path fill="#e1292a" d="M422.66 90.11h5.70v5.70h-5.70z"/>
<path fill="#e3372d" d="M428.21 90.11h5.70v5.70h-5.70z"/>
<path fill="#e3352c" d="M433.75 90.11h5.70v5.70h-5.70z"/>
<path fill="#689c4f" d="M267.35 95.65h5.70v5.70h-5.70z"/>
<path fill="#baac3d" d="M272.90 95.65h5.70v5.70h-5.70z"/>
<path fill="#eda332" d="M278.44 95.65h5.70v5.70h-5.70z"/>
<path fill="#ed9d32" d="M283.99 95.65h5.70v5.70h-5.70z"/>
<path fill="#eb8232" d="M289.54 95.65h5.70v5.70h-5.70z"/>
<path fill="#eb8432" d="M295.08 95.65h5.70v5.70h-5.70z"/>
<path fill="#ec8932" d="M300.63 95.65h5.70v5.70h-5.70z"/>
<path fill="#e96631" d="M306.18 95.65h5.70v5.70h-5.70z"/>
<path fill="#e96131" d="M311.72 95.65h5.70v5.70h-5.70z"/>
<path fill="#e75530" d="M317.27 95.65h5.70v5.70h-5.70z"/>
<path fill="#e5472f" d="M322.82 95.65h5.70v5.70h-5.70z"/>
<path fill="#e64e2f" d="M328.36 95.65h5.70v5.70h-5.70z"/>
<path fill="#e5422e" d="M333.91 95.65h5.70v5.70h-5.70z"/>
<path fill="#e64b2f" d="M339.46 95.65h5.70v5.70h-5.70z"/>
<path fill="#e43c2e" d="M345.00 95.65h5.70v5.70h-5.70z"/>
<path fill="#e43b2d" d="M350.55 95.65h5.70v5.70h-5.70z"/>
<path fill="#e01e28" d="M356.10 95.65h5.70v5.70h-5.70z"/>
<path fill="#e4402e" d="M361.65 95.65h5.70v5.70h-5.70z"/>
<path fill="#e4412e" d="M367.19 95.65h5.70v5.70h-5.70z"/>
<path fill="#e3372d" d="M372.74 95.65h5.70v5.70h-5.70z"/>
<path fill="#e3392d" d="M378.29 95.65h5.70v5.70h-5.70z"/>
<path fill="#e43a2d" d="M383.83 95.65h5.70v5.70h-5.70z"/>
<path fill="#e3372d" d="M389.38 95.65h5.70v5.70h-5.70z"/>
<path fill="#e3352c" d="M394.93 95.65h5.70v5.70h-5.70z"/>
<path fill="#e43c2e" d="M400.47 95.65h5.70v5.70h-5.70z"/>
<path fill="#e43b2d" d="M406.02 95.65h5.70v5.70h-5.70z"/>
<path fill="#e3332c" d="M411.57 95.65h5.70v5.70h-5.70z"/>
<path fill="#e2302b" d="M417.11 95.65h5.70v5.70h-5.70z"/>
<path fill="#e3322c" d="M422.66 95.65h5.70v5.70h-5.70z"/>
<path fill="#e22c2b" d="M428.21 95.65h5.70v5.70h-5.70z"/>
<path fill="#e2312c" d="M433.75 95.65h5.70v5.70h-5.70z"/>
<path fill="#759f4c" d="M267.35 101.20h5.70v5.70h-5.70z"/>
<path fill="#deb235" d="M272.90 101.20h5.70v5.70h-5.70z"/>
<path fill="#e7b333" d="M278.44 101.20h5.70v5.70h-5.70z"/>
<path fill="#ecb432" d="M283.99 101.20h5.70v5.70h-5.70z"/>
<path fill="#eda932" d="M289.54 101.20h5.70v5.70h-5.70z"/>
<path fill="#eb8632" d="M295.08 101.20h5.70v5.70h-5.70z"/>
<path fill="#ea6c32" d="M300.63 101.20h5.70v5.70h-5.70z"/>
<path fill="#e96631" d="M306.18 101.20h5.70v5.70h-5.70z"/>
<path fill="#ea6d32" d="M311.72 101.20h5.70v5.70h-5.70z"/>
<path fill="#e85b31" d="M317.27 101.20h5.70v5.70h-5.70z"/>
<path fill="#e64f2f" d="M322.82 101.20h5.70v5.70h-5.70z"/>
<path fill="#e4412e" d="M328.36 101.20h5.70v5.70h-5.70z"/>
<path fill="#e43e2e" d="M333.91 101.20h5.70v5.70h-5.70z"/>
<path fill="#e43b2d" d="M339.46 101.20h5.70v5.70h-5.70z"/>
<path fill="#e4402e" d="M345.00 101.20h5.70v5.70h-5.70z"/>
<path fill="#e01e28" d="M350.55 101.20h5.70v5.70h-5.70z"/>
<path fill="#e43b2d" d="M356.10 101.20h5.70v5.70h-5.70z"/>
<path fill="#e3332c" d="M361.65 101.20h5.70v5.70h-5.70z"/>
<path fill="#e5432e" d="M367.19 101.20h5.70v5.70h-5.70z"/>
<path fill="#e3332c" d="M372.74 101.20h5.70v5.70h-5.70z"/>
<path fill="#e5422e" d="M378.29 101.20h5.70v5.70h-5.70z"/>
<path fill="#e43e2e" d="M383.83 101.20h5.70v5.70h-5.70z"/>
<path fill="#e43b2d" d="M389.38 101.20h5.70v5.70h-5.70z"/>
<path fill="#e3322c" d="M394.93 101.20h5.70v5.70h-5.70z"/>
<path fill="#e3392d" d="M400.47 101.20h5.70v5.70h-5.70z"/>
<path fill="#e3382d" d="M406.02 101.20h5.70v5.70h-5.70z"/>
<path fill="#e3332c" d="M411.57 101.20h5.70v5.70h-5.70z"/>
<path fill="#e43a2d" d="M417.11 101.20h5.70v5.70h-5.70z"/>
<path fill="#e22f2b" d="M422.66 101.20h5.70v5.70h-5.70z"/>
<path fill="#e43a2d" d="M428.21 101.20h5.70v5.70h-5.70z"/>
<path fill="#e3332c" d="M433.75 101.20h5.70v5.70h-5.70z"/>
<path fill="#5c9952" d="M267.35 106.75h5.70v5.70h-5.70z"/>
<path fill="#bbac3c" d="M272.90 106.75h5.70v5.70h-5.70z"/>
<path fill="#e0b235" d="M278.44 106.75h5.70v5.70h-5.70z"/>
<path fill="#eeb232" d="M283.99 106.75h5.70v5.70h-5.70z"/>
<path fill="#edab32" d="M289.54 106.75h5.70v5.70h-5.70z"/>
<path fill="#eb7b32" d="M295.08 106.75h5.70v5.70h-5.70z"/>
<path fill="#eb7b32" d="M300.63 106.75h5.70v5.70h-5.70z"/>
<path fill="#eb7932" d="M306.18 106.75h5.70v5.70h-5.70z"/>
<path fill="#ea6932" d="M311.72 106.75h5.70v5.70h-5.70z"/>
<path fill="#ea6a32" d="M317.27 106.75h5.70v5.70h-5.70z"/>
<path fill="#e75730" d="M322.82 106.75h5.70v5.70h-5.70z"/>
<path fill="#e5432e" d="M328.36 106.75h5.70v5.70h-5.70z"/>
<path fill="#e5442f" d="M333.91 106.75h5.70v5.70h-5.70z"/>
<path fill="#e43e2e" d="M339.46 106.75h5.70v5.70h-5.70z"/>
<path fill="#e01e28" d="M345.00 106.75h5.70v5.70h-5.70z"/>
<path fill="#e4402e" d="M350.55 106.75h5.70v5.70h-5.70z"/>
<path fill="#e43c2e" d="M356.10 106.75h5.70v5.70h-5.70z"/>
<path fill="#e5482f" d="M361.65 106.75h5.70v5.70h-5.70z"/>
<path fill="#e43c2e" d="M367.19 106.75h5.70v5.70h-5.70z"/>
<path fill="#e43c2e" d="M372.74 106.75h5.70v5.70h-5.70z"/>
<path fill="#e3322c" d="M378.29 106.75h5.70v5.70h-5.70z"/>
<path fill="#e3332c" d="M383.83 106.75h5.70v5.70h-5.70z"/>
<path fill="#e43c2e" d="M389.38 106.75h5.70v5.70h-5.70z"/>
<path fill="#e3392d" d="M394.93 106.75h5.70v5.70h-5.70z"/>
<path fill="#e43f2e" d="M400.47 106.75h5.70v5.70h-5.70z"/>
<path fill="#e3392d" d="M406.02 106.75h5.70v5.70h-5.70z"/>
<path fill="#e3322c" d="M411.57 106.75h5.70v5.70h-5.70z"/>
<path fill="#e22e2b" d="M417.11 106.75h5.70v5.70h-5.70z"/>
<path fill="#e3362d" d="M422.66 106.75h5.70v5.70h-5.70z"/>
<path fill="#e3392d" d="M428.21 106.75h5.70v5.70h-5.70z"/>
<path fill="#e43b2e" d="M433.75 106.75h5.70v5.70h-5.70z"/>
<path fill="#4c9556" d="M267.35 112.30h5.70v5.70h-5.70z"/>
<path fill="#c9ae3a" d="M272.90 112.30h5.70v5.70h-5.70z"/>
<path fill="#ecb432" d="M278.44 112.30h5.70v5.70h-5.70z"/>
<path fill="#eda632" d="M283.99 112.30h5.70v5.70h-5.70z"/>
<path fill="#eda832" d="M289.54 112.30h5.70v5.70h-5.70z"/>
<path fill="#eb8032" d="M295.08 112.30h5.70v5.70h-5.70z"/>
<path fill="#eb8332" d="M300.63 112.30h5.70v5.70h-5.70z"/>
<path fill="#ec8b32" d="M306.18 112.30h5.70v5.70h-5.70z"/>
<path fill="#ea6932" d="M311.72 112.30h5.70v5.70h-5.70z"/>
<path fill="#ea6932" d="M317.27 112.30h5.70v5.70h-5.70z"/>
<path fill="#e64d2f" d="M322.82 112.30h5.70v5.70h-5.70z"/>
<path fill="#e75530" d="M328.36 112.30h5.70v5.70h-5.70z"/>
<path fill="#e64d2f" d="M333.91 112.30h5.70v5.70h-5.70z"/>
<path fill="#e01e28" d="M339.46 112.30h5.70v5.70h-5.70z"/>
<path fill="#e43e2e" d="M345.00 112.30h5.70v5.70h-5.70z"/>
<path fill="#e43b2d" d="M350.55 112.30h5.70v5.70h-5.70z"/>
<path fill="#e64b2f" d="M356.10 112.30h5.70v5.70h-5.70z"/>
<path fill="#e3392d" d="M361.65 112.30h5.70v5.70h-5.70z"/>
<path fill="#e3372d" d="M367.19 112.30h5.70v5.70h-5.70z"/>
<path fill="#e43d2e" d="M372.74 112.30h5.70v5.70h-5.70z"/>
<path fill="#e43c2e" d="M378.29 112.30h5.70v5.70h-5.70z"/>
<path fill="#e5442f" d="M383.83 112.30h5.70v5.70h-5.70z"/>
<path fill="#e43a2d" d="M389.38 112.30h5.70v5.70h-5.70z"/>
<path fill="#e43b2d" d="M394.93 112.30h5.70v5.70h-5.70z"/>
<path fill="#e3392d" d="M400.47 112.30h5.70v5.70h-5.70z"/>
<path fill="#e5452f" d="M406.02 112.30h5.70v5.70h-5.70z"/>
<path fill="#e2322c" d="M411.57 112.30h5.70v5.70h-5.70z"/>
<path fill="#e3382d" d="M417.11 112.30h5.70v5.70h-5.70z"/>
<path fill="#e43a2d" d="M422.66 112.30h5.70v5.70h-5.70z"/>
<path fill="#e3332c" d="M428.21 112.30h5.70v5.70h-5.70z"/>
<path fill="#e3372d" d="M433.75 112.30h5.70v5.70h-5.70z"/>
<path fill="#409259" d="M267.35 117.84h5.70v5.70h-5.70z"/>
<path fill="#ceaf39" d="M272.90 117.84h5.70v5.70h-5.70z"/>
<path fill="#d4b037" d="M278.44 117.84h5.70v5.70h-5.70z"/>
<path fill="#ed9e32" d="M283.99 117.84h5.70v5.70h-5.70z"/>
<path fill="#ec9632" d="M289.54 117.84h5.70v5.70h-5.70z"/>
<path fill="#ec9332" d="M295.08 117.84h5.70v5.70h-5.70z"/>
<path fill="#eb7c32" d="M300.63 117.84h5.70v5.70h-5.70z"/>
<path fill="#eb8532" d="M306.18 117.84h5.70v5.70h-5.70z"/>
<path fill="#eb7932" d="M311.72 117.84h5.70v5.70h-5.70z"/>
<path fill="#e96431" d="M317.27 117.84h5.70v5.70h-5.70z"/>
<path fill="#e75730" d="M322.82 117.84h5.70v5.70h-5.70z"/>
<path fill="#e64c2f" d="M328.36 117.84h5.70v5.70h-5.70z"/>
<path fill="#e01e28" d="M333.91 117.84h5.70v5.70h-5.70z"/>
<path fill="#e64d2f" d="M339.46 117.84h5.70v5.70h-5.70z"/>
<path fill="#e5442f" d="M345.00 117.84h5.70v5.70h-5.70z"/>
<path fill="#e43e2e" d="M350.55 117.84h5.70v5.70h-5.70z"/>
<path fill="#e5422e" d="M356.10 117.84h5.70v5.70h-5.70z"/>
<path fill="#e33a2d" d="M361.65 117.84h5.70v5.70h-5.70z"/>
<path fill="#e5442e" d="M367.19 117.84h5.70v5.70h-5.70z"/>
<path fill="#e3372d" d="M372.74 117.84h5.70v5.70h-5.70z"/>
<path fill="#e64b2f" d="M378.29 117.84h5.70v5.70h-5.70z"/>
<path fill="#e5472f" d="M383.83 117.84h5.70v5.70h-5.70z"/>
<path fill="#e43d2e" d="M389.38 117.84h5.70v5.70h-5.70z"/>
<path fill="#e5422e" d="M394.93 117.84h5.70v5.70h-5.70z"/>
<path fill="#e3392d" d="M400.47 117.84h5.70v5.70h-5.70z"/>
<path fill="#e43b2d" d="M406.02 117.84h5.70v5.70h-5.70z"/>
<path fill="#e43d2e" d="M411.57 117.84h5.70v5.70h-5.70z"/>
<path fill="#e3342c" d="M417.11 117.84h5.70v5.70h-5.70z"/>
<path fill="#e33a2d" d="M422.66 117.84h5.70v5.70h-5.70z"/>
<path fill="#e43e2e" d="M428.21 117.84h5.70v5.70h-5.70z"/>
<path fill="#e43d2e" d="M433.75 117.84h5.70v5.70h-5.70z"/>
<path fill="#3d915a" d="M267.35 123.39h5.70v5.70h-5.70z"/>
<path fill="#b5ab3e" d="M272.90 123.39h5.70v5.70h-5.70z"/>
<path fill="#e6b334" d="M278.44 123.39h5.70v5.70h-5.70z"/>
<path fill="#e8b333" d="M283.99 123.39h5.70v5.70h-5.70z"/>
<path fill="#ec9332" d="M289.54 123.39h5.70v5.70h-5.70z"/>
<path fill="#eb8132" d="M295.08 123.39h5.70v5.70h-5.70z"/>
<path fill="#ec9332" d="M300.63 123.39h5.70v5.70h-5.70z"/>
<path fill="#eb7b32" d="M306.18 123.39h5.70v5.70h-5.70z"/>
<path fill="#ea6a32" d="M311.72 123.39h5.70v5.70h-5.70z"/>
<path fill="#ea6e32" d="M317.27 123.39h5.70v5.70h-5.70z"/>
<path fill="#e85e31" d="M322.82 123.39h5.70v5.70h-5.70z"/>
<path fill="#e01e28" d="M328.36 123.39h5.70v5.70h-5.70z"/>
<path fill="#e64c2f" d="M333.91 123.39h5.70v5.70h-5.70z"/>
<path fill="#e75530" d="M339.46 123.39h5.70v5.70h-5.70z"/>
<path fill="#e5432e" d="M345.00 123.39h5.70v5.70h-5.70z"/>
<path fill="#e4412e" d="M350.55 123.39h5.70v5.70h-5.70z"/>
<path fill="#e64e2f" d="M356.10 123.39h5.70v5.70h-5.70z"/>
<path fill="#e75130" d="M361.65 123.39h5.70v5.70h-5.70z"/>
<path fill="#e5482f" d="M367.19 123.39h5.70v5.70h-5.70z"/>
<path fill="#e5422e" d="M372.74 123.39h5.70v5.70h-5.70z"/>
<path fill="#e43d2e" d="M378.29 123.39h5.70v5.70h-5.70z"/>
<path fill="#e5442f" d="M383.83 123.39h5.70v5.70h-5.70z"/>
<path fill="#e64c2f" d="M389.38 123.39h5.70v5.70h-5.70z"/>
<path fill="#e43a2d" d="M394.93 123.39h5.70v5.70h-5.70z"/>
<path fill="#e64b2f" d="M400.47 123.39h5.70v5.70h-5.70z"/>
<path fill="#e43a2d" d="M406.02 123.39h5.70v5.70h-5.70z"/>
<path fill="#e5492f" d="M411.57 123.39h5.70v5.70h-5.70z"/>
<path fill="#e4412e" d="M417.11 123.39h5.70v5.70h-5.70z"/>
<path fill="#e3382d" d="M422.66 123.39h5.70v5.70h-5.70z"/>
<path fill="#e5462f" d="M428.21 123.39h5.70v5.70h-5.70z"/>
<path fill="#e5462f" d="M433.75 123.39h5.70v5.70h-5.70z"/>
<path fill="#669b50" d="M267.35 128.94h5.70v5.70h-5.70z"/>
<path fill="#d7b137" d="M272.90 128.94h5.70v5.70h-5.70z"/>
<path fill="#c5ae3a" d="M278.44 128.94h5.70v5.70h-5.70z"/>
<path fill="#eda832" d="M283.99 128.94h5.70v5.70h-5.70z"/>
<path fill="#ec9832" d="M289.54 128.94h5.70v5.70h-5.70z"/>
<path fill="#eb8332" d="M295.08 128.94h5.70v5.70h-5.70z"/>
<path fill="#ec8c32" d="M300.63 128.94h5.70v5.70h-5.70z"/>
<path fill="#ec8932" d="M306.18 128.94h5.70v5.70h-5.70z"/>
<path fill="#eb8032" d="M311.72 128.94h5.70v5.70h-5.70z"/>
<path fill="#e96832" d="M317.27 128.94h5.70v5.70h-5.70z"/>
<path fill="#e01e28" d="M322.82 128.94h5.70v5.70h-5.70z"/>
<path fill="#e85e31" d="M328.36 128.94h5.70v5.70h-5.70z"/>
<path fill="#e75730" d="M333.91 128.94h5.70v5.70h-5.70z"/>
<path fill="#e64d2f" d="M339.46 128.94h5.70v5.70h-5.70z"/>
<path fill="#e75730" d="M345.00 128.94h5.70v5.70h-5.70z"/>
<path fill="#e64f2f" d="M350.55 128.94h5.70v5.70h-5.70z"/>
<path fill="#e5472f" d="M356.10 128.94h5.70v5.70h-5.70z"/>
<path fill="#e5462f" d="M361.65 128.94h5.70v5.70h-5.70z"/>
<path fill="#e5432e" d="M367.19 128.94h5.70v5.70h-5.70z"/>
<path fill="#e64b2f" d="M372.74 128.94h5.70v5.70h-5.70z"/>
<path fill="#e5472f" d="M378.29 128.94h5.70v5.70h-5.70z"/>
<path fill="#e75230" d="M383.83 128.94h5.70v5.70h-5.70z"/>
<path fill="#e5422e" d="M389.38 128.94h5.70v5.70h-5.70z"/>
<path fill="#e43f2e" d="M394.93 128.94h5.70v5.70h-5.70z"/>
<path fill="#e5442f" d="M400.47 128.94h5.70v5.70h-5.70z"/>
<path fill="#e5422e" d="M406.02 128.94h5.70v5.70h-5.70z"/>
<path fill="#e64e2f" d="M411.57 128.94h5.70v5.70h-5.70z"/>
<path fill="#e43b2d" d="M417.11 128.94h5.70v5.70h-5.70z"/>
<path fill="#e33a2d" d="M422.66 128.94h5.70v5.70h-5.70z"/>
<path fill="#e33a2d" d="M428.21 128.94h5.70v5.70h-5.70z"/>
<path fill="#e5432e" d="M433.75 128.94h5.70v5.70h-5.70z"/>
<path fill="#7ea14a" d="M267.35 134.48h5.70v5.70h-5.70z"/>
<path fill="#a5a941" d="M272.90 134.48h5.70v5.70h-5.70z"/>
<path fill="#bead3c" d="M278.44 134.48h5.70v5.70h-5.70z"/>
<path fill="#dbb136" d="M283.99 134.48h5.70v5.70h-5.70z"/>
<path fill="#ec9032" d="M289.54 134.48h5.70v5.70h-5.70z"/>
<path fill="#ec9332" d="M295.08 134.48h5.70v5.70h-5.70z"/>
<path fill="#ec8d32" d="M300.63 134.48h5.70v5.70h-5.70z"/>
<path fill="#eb7932" d="M306.18 134.48h5.70v5.70h-5.70z"/>
<path fill="#eb8632" d="M311.72 134.48h5.70v5.70h-5.70z"/>
<path fill="#e01e28" d="M317.27 134.48h5.70v5.70h-5.70z"/>
<path fill="#e96832" d="M322.82 134.48h5.70v5.70h-5.70z"/>
<path fill="#ea6e32" d="M328.36 134.48h5.70v5.70h-5.70z"/>
<path fill="#e96431" d="M333.91 134.48h5.70v5.70h-5.70z"/>
<path fill="#ea6932" d="M339.46 134.48h5.70v5.70h-5.70z"/>
<path fill="#ea6a32" d="M345.00 134.48h5.70v5.70h-5.70z"/>
<path fill="#e85b31" d="M350.55 134.48h5.70v5.70h-5.70z"/>
<path fill="#e75530" d="M356.10 134.48h5.70v5.70h-5.70z"/>
<path fill="#e86031" d="M361.65 134.48h5.70v5.70h-5.70z"/>
<path fill="#e85d31" d="M367.19 134.48h5.70v5.70h-5.70z"/>
<path fill="#e75830" d="M372.74 134.48h5.70v5.70h-5.70z"/>
<path fill="#e65030" d="M378.29 134.48h5.70v5.70h-5.70z"/>
<path fill="#e75430" d="M383.83 134.48h5.70v5.70h-5.70z"/>
<path fill="#e64f2f" d="M389.38 134.48h5.70v5.70h-5.70z"/>
<path fill="#e64b2f" d="M394.93 134.48h5.70v5.70h-5.70z"/>
<path fill="#e75430" d="M400.47 134.48h5.70v5.70h-5.70z"/>
<path fill="#e64a2f" d="M406.02 134.48h5.70v5.70h-5.70z"/>
<path fill="#e5482f" d="M411.57 134.48h5.70v5.70h-5.70z"/>
<path fill="#e85930" d="M417.11 134.48h5.70v5.70h-5.70z"/>
<path fill="#e5442f" d="M422.66 134.48h5.70v5.70h-5.70z"/>
<path fill="#e5492f" d="M428.21 134.48h5.70v5.70h-5.70z"/>
<path fill="#e75830" d="M433.75 134.48h5.70v5.70h-5.70z"/>
<path fill="#3f9259" d="M267.35 140.03h5.70v5.70h-5.70z"/>
<path fill="#a1a842" d="M272.90 140.03h5.70v5.70h-5.70z"/>
<path fill="#c3ad3b" d="M278.44 140.03h5.70v5.70h-5.70z"/>
<path fill="#eda832" d="M283.99 140.03h5.70v5.70h-5.70z"/>
<path fill="#ed9b32" d="M289.54 140.03h5.70v5.70h-5.70z"/>
<path fill="#edaa32" d="M295.08 140.03h5.70v5.70h-5.70z"/>
<path fill="#eeaf32" d="M300.63 140.03h5.70v5.70h-5.70z"/>
<path fill="#eb8032" d="M306.18 140.03h5.70v5.70h-5.70z"/>
<path fill="#e01e28" d="M311.72 140.03h5.70v5.70h-5.70z"/>
<path fill="#eb8632" d="M317.27 140.03h5.70v5.70h-5.70z"/>
<path fill="#eb8032" d="M322.82 140.03h5.70v5.70h-5.70z"/>
<path fill="#ea6a32" d="M328.36 140.03h5.70v5.70h-5.70z"/>
<path fill="#eb7932" d="M333.91 140.03h5.70v5.70h-5.70z"/>
<path fill="#ea6932" d="M339.46 140.03h5.70v5.70h-5.70z"/>
<path fill="#ea6932" d="M345.00 140.03h5.70v5.70h-5.70z"/>
<path fill="#ea6d32" d="M350.55 140.03h5.70v5.70h-5.70z"/>
<path fill="#e96131" d="M356.10 140.03h5.70v5.70h-5.70z"/>
<path fill="#ea7032" d="M361.65 140.03h5.70v5.70h-5.70z"/>
<path fill="#ea6e32" d="M367.19 140.03h5.70v5.70h-5.70z"/>
<path fill="#e96331" d="M372.74 140.03h5.70v5.70h-5.70z"/>
<path fill="#ea6e32" d="M378.29 140.03h5.70v5.70h-5.70z"/>
<path fill="#e85a30" d="M383.83 140.03h5.70v5.70h-5.70z"/>
<path fill="#e96631" d="M389.38 140.03h5.70v5.70h-5.70z"/>
<path fill="#ea6832" d="M394.93 140.03h5.70v5.70h-5.70z"/>
<path fill="#ea6b32" d="M400.47 140.03h5.70v5.70h-5.70z"/>
<path fill="#e85c31" d="M406.02 140.03h5.70v5.70h-5.70z"/>
<path fill="#e96131" d="M411.57 140.03h5.70v5.70h-5.70z"/>
<path fill="#e85930" d="M417.11 140.03h5.70v5.70h-5.70z"/>
<path fill="#e75930" d="M422.66 140.03h5.70v5.70h-5.70z"/>
<path fill="#e75530" d="M428.21 140.03h5.70v5.70h-5.70z"/>
<path fill="#e65130" d="M433.75 140.03h5.70v5.70h-5.70z"/>
<path fill="#739f4c" d="M267.35 145.58h5.70v5.70h-5.70z"/>
<path fill="#a1a842" d="M272.90 145.58h5.70v5.70h-5.70z"/>
<path fill="#bbac3c" d="M278.44 145.58h5.70v5.70h-5.70z"/>
<path fill="#bbac3c" d="M283.99 145.58h5.70v5.70h-5.70z"/>
<path fill="#e3b234" d="M289.54 145.58h5.70v5.70h-5.70z"/>
<path fill="#ed9b32" d="M295.08 145.58h5.70v5.70h-5.70z"/>
<path fill="#ed9932" d="M300.63 145.58h5.70v5.70h-5.70z"/>
<path fill="#e01e28" d="M306.18 145.58h5.70v5.70h-5.70z"/>
<path fill="#eb8032" d="M311.72 145.58h5.70v5.70h-5.70z"/>
<path fill="#eb7932" d="M317.27 145.58h5.70v5.70h-5.70z"/>
<path fill="#ec8932" d="M322.82 145.58h5.70v5.70h-5.70z"/>
<path fill="#eb7b32" d="M328.36 145.58h5.70v5.70h-5.70z"/>
<path fill="#eb8532" d="M333.91 145.58h5.70v5.70h-5.70z"/>
<path fill="#ec8b32" d="M339.46 145.58h5.70v5.70h-5.70z"/>
<path fill="#eb7932" d="M345.00 145.58h5.70v5.70h-5.70z"/>
<path fill="#e96631" d="M350.55 145.58h5.70v5.70h-5.70z"/>
<path fill="#e96631" d="M356.10 145.58h5.70v5.70h-5.70z"/>
<path fill="#ea6a32" d="M361.65 145.58h5.70v5.70h-5.70z"/>
<path fill="#e85d31" d="M367.19 145.58h5.70v5.70h-5.70z"/>
<path fill="#eb7c32" d="M372.74 145.58h5.70v5.70h-5.70z"/>
<path fill="#eb8132" d="M378.29 145.58h5.70v5.70h-5.70z"/>
<path fill="#ea7432" d="M383.83 145.58h5.70v5.70h-5.70z"/>
<path fill="#eb7a32" d="M389.38 145.58h5.70v5.70h-5.70z"/>
<path fill="#eb7c32" d="M394.93 145.58h5.70v5.70h-5.70z"/>
<path fill="#ea7432" d="M400.47 145.58h5.70v5.70h-5.70z"/>
<path fill="#ea6a32" d="M406.02 145.58h5.70v5.70h-5.70z"/>
<path fill="#ea7032" d="M411.57 145.58h5.70v5.70h-5.70z"/>
<path fill="#eb7632" d="M417.11 145.58h5.70v5.70h-5.70z"/>
<path fill="#e85b31" d="M422.66 145.58h5.70v5.70h-5.70z"/>
<path fill="#e75430" d="M428.21 145.58h5.70v5.70h-5.70z"/>
<path fill="#ea7032" d="M433.75 145.58h5.70v5.70h-5.70z"/>
<path fill="#519655" d="M267.35 151.12h5.70v5.70h-5.70z"/>
<path fill="#94a644" d="M272.90 151.12h5.70v5.70h-5.70z"/>
<path fill="#cfaf38" d="M278.44 151.12h5.70v5.70h-5.70z"/>
<path fill="#b8ac3d" d="M283.99 151.12h5.70v5.70h-5.70z"/>
<path fill="#ceaf39" d="M289.54 151.12h5.70v5.70h-5.70z"/>
<path fill="#eda632" d="M295.08 151.12h5.70v5.70h-5.70z"/>
<path fill="#e01e28" d="M300.63 151.12h5.70v5.70h-5.70z"/>
<path fill="#ed9932" d="M306.18 151.12h5.70v5.70h-5.70z"/>
<path fill="#eeaf32" d="M311.72 151.12h5.70v5.70h-5.70z"/>
<path fill="#ec8d32" d="M317.27 151.12h5.70v5.70h-5.70z"/>
<path fill="#ec8c32" d="M322.82 151.12h5.70v5.70h-5.70z"/>
<path fill="#ec9332" d="M328.36 151.12h5.70v5.70h-5.70z"/>
<path fill="#eb7c32" d="M333.91 151.12h5.70v5.70h-5.70z"/>
<path fill="#eb8332" d="M339.46 151.12h5.70v5.70h-5.70z"/>
<path fill="#eb7b32" d="M345.00 151.12h5.70v5.70h-5.70z"/>
<path fill="#ea6c32" d="M350.55 151.12h5.70v5.70h-5.70z"/>
<path fill="#ec8932" d="M356.10 151.12h5.70v5.70h-5.70z"/>
<path fill="#ec9232" d="M361.65 151.12h5.70v5.70h-5.70z"/>
<path fill="#eb8532" d="M367.19 151.12h5.70v5.70h-5.70z"/>
<path fill="#ea7232" d="M372.74 151.12h5.70v5.70h-5.70z"/>
<path fill="#ec8732" d="M378.29 151.12h5.70v5.70h-5.70z"/>
<path fill="#ec8932" d="M383.83 151.12h5.70v5.70h-5.70z"/>
<path fill="#e96531" d="M389.38 151.12h5.70v5.70h-5.70z"/>
<path fill="#ea7132" d="M394.93 151.12h5.70v5.70h-5.70z"/>
<path fill="#eb7b32" d="M400.47 151.12h5.70v5.70h-5.70z"/>
<path fill="#e96531" d="M406.02 151.12h5.70v5.70h-5.70z"/>
<path fill="#eb8032" d="M411.57 151.12h5.70v5.70h-5.70z"/>
<path fill="#ea6f32" d="M417.11 151.12h5.70v5.70h-5.70z"/>
<path fill="#eb8332" d="M422.66 151.12h5.70v5.70h-5.70z"/>
<path fill="#eb7932" d="M428.21 151.12h5.70v5.70h-5.70z"/>
<path fill="#e96832" d="M433.75 151.12h5.70v5.70h-5.70z"/>
<path fill="#729e4d" d="M267.35 156.67h5.70v5.70h-5.70z"/>
<path fill="#b3ab3e" d="M272.90 156.67h5.70v5.70h-5.70z"/>
<path fill="#a8a940" d="M278.44 156.67h5.70v5.70h-5.70z"/>
<path fill="#c2ad3b" d="M283.99 156.67h5.70v5.70h-5.70z"/>
<path fill="#deb235" d="M289.54 156.67h5.70v5.70h-5.70z"/>
<path fill="#e01e28" d="M295.08 156.67h5.70v5.70h-5.70z"/>
<path fill="#eda632" d="M300.63 156.67h5.70v5.70h-5.70z"/>
<path fill="#ed9b32" d="M306.18 156.67h5.70v5.70h-5.70z"/>
<path fill="#edaa32" d="M311.72 156.67h5.70v5.70h-5.70z"/>
<path fill="#ec9332" d="M317.27 156.67h5.70v5.70h-5.70z"/>
<path fill="#eb8332" d="M322.82 156.67h5.70v5.70h-5.70z"/>
<path fill="#eb8132" d="M328.36 156.67h5.70v5.70h-5.70z"/>
<path fill="#ec9332" d="M333.91 156.67h5.70v5.70h-5.70z"/>
<path fill="#eb8032" d="M339.46 156.67h5.70v5.70h-5.70z"/>
<path fill="#eb7b32" d="M345.00 156.67h5.70v5.70h-5.70z"/>
<path fill="#eb8632" d="M350.55 156.67h5.70v5.70h-5.70z"/>
<path fill="#eb8432" d="M356.10 156.67h5.70v5.70h-5.70z"/>
<path fill="#ec8c32" d="M361.65 156.67h5.70v5.70h-5.70z"/>
<path fill="#eb8432" d="M367.19 156.67h5.70v5.70h-5.70z"/>
<path fill="#eb8032" d="M372.74 156.67h5.70v5.70h-5.70z"/>
<path fill="#ec9832" d="M378.29 156.67h5.70v5.70h-5.70z"/>
<path fill="#eb7f32" d="M383.83 156.67h5.70v5.70h-5.70z"/>
<path fill="#ea6d32" d="M389.38 156.67h5.70v5.70h-5.70z"/>
<path fill="#ea7232" d="M394.93 156.67h5.70v5.70h-5.70z"/>
<path fill="#eb7932" d="M400.47 156.67h5.70v5.70h-5.70z"/>
<path fill="#ec8832" d="M406.02 156.67h5.70v5.70h-5.70z"/>
<path fill="#eb7932" d="M411.57 156.67h5.70v5.70h-5.70z"/>
<path fill="#eb7e32" d="M417.11 156.67h5.70v5.70h-5.70z"/>
<path fill="#eb8432" d="M422.66 156.67h5.70v5.70h-5.70z"/>
<path fill="#ea7232" d="M428.21 156.67h5.70v5.70h-5.70z"/>
<path fill="#ec9432" d="M433.75 156.67h5.70v5.70h-5.70z"/>
<path fill="#5f9a51" d="M267.35 162.22h5.70v5.70h-5.70z"/>
<path fill="#b9ac3d" d="M272.90 162.22h5.70v5.70h-5.70z"/>
<path fill="#9da842" d="M278.44 162.22h5.70v5.70h-5.70z"/>
<path fill="#c4ae3b" d="M283.99 162.22h5.70v5.70h-5.70z"/>
<path fill="#e01e28" d="M289.54 162.22h5.70v5.70h-5.70z"/>
<path fill="#deb235" d="M295.08 162.22h5.70v5.70h-5.70z"/>
<path fill="#ceaf39" d="M300.63 162.22h5.70v5.70h-5.70z"/>
<path fill="#e3b234" d="M306.18 162.22h5.70v5.70h-5.70z"/>
<path fill="#ed9b32" d="M311.72 162.22h5.70v5.70h-5.70z"/>
<path fill="#ec9032" d="M317.27 162.22h5.70v5.70h-5.70z"/>
<path fill="#ec9832" d="M322.82 162.22h5.70v5.70h-5.70z"/>
<path fill="#ec9332" d="M328.36 162.22h5.70v5.70h-5.70z"/>
<path fill="#ec9632" d="M333.91 162.22h5.70v5.70h-5.70z"/>
<path fill="#eda832" d="M339.46 162.22h5.70v5.70h-5.70z"/>
<path fill="#edab32" d="M345.00 162.22h5.70v5.70h-5.70z"/>
<path fill="#eda932" d="M350.55 162.22h5.70v5.70h-5.70z"/>
<path fill="#eb8232" d="M356.10 162.22h5.70v5.70h-5.70z"/>
<path fill="#ec8932" d="M361.65 162.22h5.70v5.70h-5.70z"/>
<path fill="#eb7e32" d="M367.19 162.22h5.70v5.70h-5.70z"/>
<path fill="#eda632" d="M372.74 162.22h5.70v5.70h-5.70z"/>
<path fill="#ec8a32" d="M378.29 162.22h5.70v5.70h-5.70z"/>
<path fill="#ec9132" d="M383.83 162.22h5.70v5.70h-5.70z"/>
<path fill="#eb8432" d="M389.38 162.22h5.70v5.70h-5.70z"/>
<path fill="#ec9632" d="M394.93 162.22h5.70v5.70h-5.70z"/>
<path fill="#eb7832" d="M400.47 162.22h5.70v5.70h-5.70z"/>
<path fill="#eda132" d="M406.02 162.22h5.70v5.70h-5.70z"/>
<path fill="#ec8c32" d="M411.57 162.22h5.70v5.70h-5.70z"/>
<path fill="#eb8232" d="M417.11 162.22h5.70v5.70h-5.70z"/>
<path fill="#eb7b32" d="M422.66 162.22h5.70v5.70h-5.70z"/>
<path fill="#eb8232" d="M428.21 162.22h5.70v5.70h-5.70z"/>
<path fill="#eb8432" d="M433.75 162.22h5.70v5.70h-5.70z"/>
<path fill="#649b50" d="M267.35 167.76h5.70v5.70h-5.70z"/>
<path fill="#86a447" d="M272.90 167.76h5.70v5.70h-5.70z"/>
<path fill="#bead3c" d="M278.44 167.76h5.70v5.70h-5.70z"/>
<path fill="#e01e28" d="M283.99 167.76h5.70v5.70h-5.70z"/>
<path fill="#c4ae3b" d="M289.54 167.76h5.70v5.70h-5.70z"/>
<path fill="#c2ad3b" d="M295.08 167.76h5.70v5.70h-5.70z"/>
<path fill="#b8ac3d" d="M300.63 167.76h5.70v5.70h-5.70z"/>
<path fill="#bbac3c" d="M306.18 167.76h5.70v5.70h-5.70z"/>
<path fill="#eda832" d="M311.72 167.76h5.70v5.70h-5.70z"/>
<path fill="#dbb136" d="M317.27 167.76h5.70v5.70h-5.70z"/>
<path fill="#eda832" d="M322.82 167.76h5.70v5.70h-5.70z"/>
<path fill="#e8b333" d="M328.36 167.76h5.70v5.70h-5.70z"/>
<path fill="#ed9e32" d="M333.91 167.76h5.70v5.70h-5.70z"/>
<path fill="#eda632" d="M339.46 167.76h5.70v5.70h-5.70z"/>
<path fill="#eeb232" d="M345.00 167.76h5.70v5.70h-5.70z"/>
<path fill="#ecb432" d="M350.55 167.76h5.70v5.70h-5.70z"/>
<path fill="#ed9d32" d="M356.10 167.76h5.70v5.70h-5.70z"/>
<path fill="#e8b333" d="M361.65 167.76h5.70v5.70h-5.70z"/>
<path fill="#eeb132" d="M367.19 167.76h5.70v5.70h-5.70z"/>
<path fill="#eda132" d="M372.74 167.76h5.70v5.70h-5.70z"/>
<path fill="#ec9432" d="M378.29 167.76h5.70v5.70h-5.70z"/>
<path fill="#ed9f32" d="M383.83 167.76h5.70v5.70h-5.70z"/>
<path fill="#eeac32" d="M389.38 167.76h5.70v5.70h-5.70z"/>
<path fill="#ec8f32" d="M394.93 167.76h5.70v5.70h-5.70z"/>
<path fill="#eeaf32" d="M400.47 167.76h5.70v5.70h-5.70z"/>
<path fill="#e9b333" d="M406.02 167.76h5.70v5.70h-5.70z"/>
<path fill="#eeac32" d="M411.57 167.76h5.70v5.70h-5.70z"/>
<path fill="#eda332" d="M417.11 167.76h5.70v5.70h-5.70z"/>
<path fill="#eeb432" d="M422.66 167.76h5.70v5.70h-5.70z"/>
<path fill="#eeaf32" d="M428.21 167.76h5.70v5.70h-5.70z"/>
<path fill="#eda632" d="M433.75 167.76h5.70v5.70h-5.70z"/>
<path fill="#5c9952" d="M267.35 173.31h5.70v5.70h-5.70z"/>
<path fill="#6c9d4e" d="M272.90 173.31h5.70v5.70h-5.70z"/>
<path fill="#e01e28" d="M278.44 173.31h5.70v5.70h-5.70z"/>
<path fill="#bead3c" d="M283.99 173.31h5.70v5.70h-5.70z"/>
<path fill="#9da842" d="M289.54 173.31h5.70v5.70h-5.70z"/>
<path fill="#a8a940" d="M295.08 173.31h5.70v5.70h-5.70z"/>
<path fill="#cfaf38" d="M300.63 173.31h5.70v5.70h-5.70z"/>
<path fill="#bbac3c" d="M306.18 173.31h5.70v5.70h-5.70z"/>
<path fill="#c3ad3b" d="M311.72 173.31h5.70v5.70h-5.70z"/>
<path fill="#bead3c" d="M317.27 173.31h5.70v5.70h-5.70z"/>
<path fill="#c5ae3a" d="M322.82 173.31h5.70v5.70h-5.70z"/>
<path fill="#e6b334" d="M328.36 173.31h5.70v5.70h-5.70z"/>
<path fill="#d4b037" d="M333.91 173.31h5.70v5.70h-5.70z"/>
<path fill="#ecb432" d="M339.46 173.31h5.70v5.70h-5.70z"/>
<path fill="#e0b235" d="M345.00 173.31h5.70v5.70h-5.70z"/>
<path fill="#e7b333" d="M350.55 173.31h5.70v5.70h-5.70z"/>
<path fill="#eda332" d="M356.10 173.31h5.70v5.70h-5.70z"/>
<path fill="#ebb333" d="M361.65 173.31h5.70v5.70h-5.70z"/>
<path fill="#eeb232" d="M367.19 173.31h5.70v5.70h-5.70z"/>
<path fill="#eda432" d="M372.74 173.31h5.70v5.70h-5.70z"/>
<path fill="#dbb136" d="M378.29 173.31h5.70v5.70h-5.70z"/>
<path fill="#d9b136" d="M383.83 173.31h5.70v5.70h-5.70z"/>
<path fill="#eda132" d="M389.38 173.31h5.70v5.70h-5.70z"/>
<path fill="#eda532" d="M394.93 173.31h5.70v5.70h-5.70z"/>
<path fill="#e1b235" d="M400.47 173.31h5.70v5.70h-5.70z"/>
<path fill="#ddb135" d="M406.02 173.31h5.70v5.70h-5.70z"/>
<path fill="#eda832" d="M411.57 173.31h5.70v5.70h-5.70z"/>
<path fill="#ed9e32" d="M417.11 173.31h5.70v5.70h-5.70z"/>
<path fill="#dfb235" d="M422.66 173.31h5.70v5.70h-5.70z"/>
<path fill="#ed9d32" d="M428.21 173.31h5.70v5.70h-5.70z"/>
<path fill="#eda032" d="M433.75 173.31h5.70v5.70h-5.70z"/>
<path fill="#629b50" d="M267.35 178.86h5.70v5.70h-5.70z"/>
<path fill="#e01e28" d="M272.90 178.86h5.70v5.70h-5.70z"/>
<path fill="#6c9d4e" d="M278.44 178.86h5.70v5.70h-5.70z"/>
<path fill="#86a447" d="M283.99 178.86h5.70v5.70h-5.70z"/>
<path fill="#b9ac3d" d="M289.54 178.86h5.70v5.70h-5.70z"/>
<path fill="#b3ab3e" d="M295.08 178.86h5.70v5.70h-5.70z"/>
<path fill="#94a644" d="M300.63 178.86h5.70v5.70h-5.70z"/>
<path fill="#a1a842" d="M306.18 178.86h5.70v5.70h-5.70z"/>
<path fill="#a1a842" d="M311.72 178.86h5.70v5.70h-5.70z"/>
<path fill="#a5a941" d="M317.27 178.86h5.70v5.70h-5.70z"/>
<path fill="#d7b137" d="M322.82 178.86h5.70v5.70h-5.70z"/>
<path fill="#b5ab3e" d="M328.36 178.86h5.70v5.70h-5.70z"/>
<path fill="#ceaf39" d="M333.91 178.86h5.70v5.70h-5.70z"/>
<path fill="#c9ae3a" d="M339.46 178.86h5.70v5.70h-5.70z"/>
<path fill="#bbac3c" d="M345.00 178.86h5.70v5.70h-5.70z"/>
<path fill="#deb235" d="M350.55 178.86h5.70v5.70h-5.70z"/>
<path fill="#baac3d" d="M356.10 178.86h5.70v5.70h-5.70z"/>
<path fill="#dab136" d="M361.65 178.86h5.70v5.70h-5.70z"/>
<path fill="#baac3d" d="M367.19 178.86h5.70v5.70h-5.70z"/>
<path fill="#cfaf38" d="M372.74 178.86h5.70v5.70h-5.70z"/>
<path fill="#c2ad3b" d="M378.29 178.86h5.70v5.70h-5.70z"/>
<path fill="#c5ae3a" d="M383.83 178.86h5.70v5.70h-5.70z"/>
<path fill="#eeb132" d="M389.38 178.86h5.70v5.70h-5.70z"/>
<path fill="#e7b333" d="M394.93 178.86h5.70v5.70h-5.70z"/>
<path fill="#c9ae39" d="M400.47 178.86h5.70v5.70h-5.70z"/>
<path fill="#ecb432" d="M406.02 178.86h5.70v5.70h-5.70z"/>
<path fill="#c4ae3b" d="M411.57 178.86h5.70v5.70h-5.70z"/>
<path fill="#d0af38" d="M417.11 178.86h5.70v5.70h-5.70z"/>
<path fill="#ecb432" d="M422.66 178.86h5.70v5.70h-5.70z"/>
<path fill="#dfb235" d="M428.21 178.86h5.70v5.70h-5.70z"/>
<path fill="#bfad3c" d="M433.75 178.86h5.70v5.70h-5.70z"/>
<path fill="#e01e28" d="M267.35 184.40h5.70v5.70h-5.70z"/>
<path fill="#629b50" d="M272.90 184.40h5.70v5.70h-5.70z"/>
<path fill="#5c9952" d="M278.44 184.40h5.70v5.70h-5.70z"/>
<path fill="#649b50" d="M283.99 184.40h5.70v5.70h-5.70z"/>
<path fill="#5f9a51" d="M289.54 184.40h5.70v5.70h-5.70z"/>
<path fill="#729e4d" d="M295.08 184.40h5.70v5.70h-5.70z"/>
<path fill="#519655" d="M300.63 184.40h5.70v5.70h-5.70z"/>
<path fill="#739f4c" d="M306.18 184.40h5.70v5.70h-5.70z"/>
<path fill="#3f9259" d="M311.72 184.40h5.70v5.70h-5.70z"/>
<path fill="#7ea14a" d="M317.27 184.40h5.70v5.70h-5.70z"/>
<path fill="#669b50" d="M322.82 184.40h5.70v5.70h-5.70z"/>
<path fill="#3d915a" d="M328.36 184.40h5.70v5.70h-5.70z"/>
<path fill="#409259" d="M333.91 184.40h5.70v5.70h-5.70z"/>
<path fill="#4c9556" d="M339.46 184.40h5.70v5.70h-5.70z"/>
<path fill="#5c9952" d="M345.00 184.40h5.70v5.70h-5.70z"/>
<path fill="#759f4c" d="M350.55 184.40h5.70v5.70h-5.70z"/>
<path fill="#689c4f" d="M356.10 184.40h5.70v5.70h-5.70z"/>
<path fill="#699c4f" d="M361.65 184.40h5.70v5.70h-5.70z"/>
<path fill="#4f9655" d="M367.19 184.40h5.70v5.70h-5.70z"/>
<path fill="#80a249" d="M372.74 184.40h5.70v5.70h-5.70z"/>
<path fill="#6c9d4e" d="M378.29 184.40h5.70v5.70h-5.70z"/>
<path fill="#4c9556" d="M383.83 184.40h5.70v5.70h-5.70z"/>
<path fill="#419259" d="M389.38 184.40h5.70v5.70h-5.70z"/>
<path fill="#579853" d="M394.93 184.40h5.70v5.70h-5.70z"/>
<path fill="#569853" d="M400.47 184.40h5.70v5.70h-5.70z"/>
<path fill="#769f4c" d="M406.02 184.40h5.70v5.70h-5.70z"/>
<path fill="#4a9556" d="M411.57 184.40h5.70v5.70h-5.70z"/>
<path fill="#5c9952" d="M417.11 184.40h5.70v5.70h-5.70z"/>
<path fill="#579853" d="M422.66 184.40h5.70v5.70h-5.70z"/>
<path fill="#679c4f" d="M428.21 184.40h5.70v5.70h-5.70z"/>
<path fill="#4e9655" d="M433.75 184.40h5.70v5.70h-5.70z"/>
</g>
<rect x="267.35" y="10" width="5.7" height="5.2" fill="#d5c6b3" shape-rendering="crispEdges"/>
<rect x="272.9" y="10" width="5.7" height="5.2" fill="#d5c6b3" shape-rendering="crispEdges"/>
<rect x="278.44" y="10" width="5.7" height="5.2" fill="#d5c6b3" shape-rendering="crispEdges"/>
<rect x="283.99" y="10" width="5.7" height="5.2" fill="#d5c6b3" shape-rendering="crispEdges"/>
<rect x="289.54" y="10" width="5.7" height="5.2" fill="#d5c6b3" shape-rendering="crispEdges"/>
<rect x="295.08" y="10" width="5.7" height="5.2" fill="#1d2b25" shape-rendering="crispEdges"/>
<rect x="300.63" y="10" width="5.7" height="5.2" fill="#d5c6b3" shape-rendering="crispEdges"/>
<rect x="306.18" y="10" width="5.7" height="5.2" fill="#d5c6b3" shape-rendering="crispEdges"/>
<rect x="311.72" y="10" width="5.7" height="5.2" fill="#1d2b25" shape-rendering="crispEdges"/>
<rect x="317.27" y="10" width="5.7" height="5.2" fill="#1d2b25" shape-rendering="crispEdges"/>
<rect x="322.82" y="10" width="5.7" height="5.2" fill="#1d2b25" shape-rendering="crispEdges"/>
<rect x="328.36" y="10" width="5.7" height="5.2" fill="#1d2b25" shape-rendering="crispEdges"/>
<rect x="333.91" y="10" width="5.7" height="5.2" fill="#1d2b25" shape-rendering="crispEdges"/>
<rect x="339.46" y="10" width="5.7" height="5.2" fill="#d5c6b3" shape-rendering="crispEdges"/>
<rect x="345" y="10" width="5.7" height="5.2" fill="#d5c6b3" shape-rendering="crispEdges"/>
<rect x="350.55" y="10" width="5.7" height="5.2" fill="#d5c6b3" shape-rendering="crispEdges"/>
<rect x="356.1" y="10" width="5.7" height="5.2" fill="#1d2b25" shape-rendering="crispEdges"/>
<rect x="361.65" y="10" width="5.7" height="5.2" fill="#1d2b25" shape-rendering="crispEdges"/>
<rect x="367.19" y="10" width="5.7" height="5.2" fill="#1d2b25" shape-rendering="crispEdges"/>
<rect x="372.74" y="10" width="5.7" height="5.2" fill="#1d2b25" shape-rendering="crispEdges"/>
<rect x="378.29" y="10" width="5.7" height="5.2" fill="#1d2b25" shape-rendering="crispEdges"/>
<rect x="383.83" y="10" width="5.7" height="5.2" fill="#d5c6b3" shape-rendering="crispEdges"/>
<rect x="389.38" y="10" width="5.7" height="5.2" fill="#d5c6b3" shape-rendering="crispEdges"/>
<rect x="394.93" y="10" width="5.7" height="5.2" fill="#1d2b25" shape-rendering="crispEdges"/>
<rect x="400.47" y="10" width="5.7" height="5.2" fill="#1d2b25" shape-rendering="crispEdges"/>
<rect x="406.02" y="10" width="5.7" height="5.2" fill="#d5c6b3" shape-rendering="crispEdges"/>
<rect x="411.57" y="10" width="5.7" height="5.2" fill="#d5c6b3" shape-rendering="crispEdges"/>
<rect x="417.11" y="10" width="5.7" height="5.2" fill="#1d2b25" shape-rendering="crispEdges"/>
<rect x="422.66" y="10" width="5.7" height="5.2" fill="#d5c6b3" shape-rendering="crispEdges"/>
<rect x="428.21" y="10" width="5.7" height="5.2" fill="#1d2b25" shape-rendering="crispEdges"/>
<rect x="433.75" y="10" width="5.7" height="5.2" fill="#1d2b25" shape-rendering="crispEdges"/>
<text x="361.4" y="203.8" font-size="11" text-anchor="middle" fill="#111" font-weight="normal" textLength="83" lengthAdjust="spacingAndGlyphs" >Pearson Correlation</text>
<defs><linearGradient id="cg" x1="0" x2="1" y1="0" y2="0"><stop offset="0.000" stop-color="#288c5f"/><stop offset="0.025" stop-color="#328e5c"/><stop offset="0.050" stop-color="#3c915a"/><stop offset="0.075" stop-color="#469458"/><stop offset="0.100" stop-color="#509655"/><stop offset="0.125" stop-color="#5a9852"/><stop offset="0.150" stop-color="#649b50"/><stop offset="0.175" stop-color="#6e9e4e"/><stop offset="0.200" stop-color="#78a04b"/><stop offset="0.225" stop-color="#82a248"/><stop offset="0.250" stop-color="#8ca546"/><stop offset="0.275" stop-color="#96a644"/><stop offset="0.300" stop-color="#a0a842"/><stop offset="0.325" stop-color="#a9aa40"/><stop offset="0.350" stop-color="#b3ab3e"/><stop offset="0.375" stop-color="#bdac3c"/><stop offset="0.400" stop-color="#c7ae3a"/><stop offset="0.425" stop-color="#d1b038"/><stop offset="0.450" stop-color="#dab136"/><stop offset="0.475" stop-color="#e4b234"/><stop offset="0.500" stop-color="#eeb432"/><stop offset="0.525" stop-color="#eead32"/><stop offset="0.550" stop-color="#eda632"/><stop offset="0.575" stop-color="#ed9e32"/><stop offset="0.600" stop-color="#ec9732"/><stop offset="0.625" stop-color="#ec9032"/><stop offset="0.650" stop-color="#ec8932"/><stop offset="0.675" stop-color="#eb8232"/><stop offset="0.700" stop-color="#eb7a32"/><stop offset="0.725" stop-color="#ea7332"/><stop offset="0.750" stop-color="#ea6c32"/><stop offset="0.775" stop-color="#e96331"/><stop offset="0.800" stop-color="#e85a30"/><stop offset="0.825" stop-color="#e75130"/><stop offset="0.850" stop-color="#e5492f"/><stop offset="0.875" stop-color="#e4402e"/><stop offset="0.900" stop-color="#e3392d"/><stop offset="0.925" stop-color="#e2322c"/><stop offset="0.950" stop-color="#e22b2a"/><stop offset="0.975" stop-color="#e12529"/><stop offset="1.000" stop-color="#e01e28"/></linearGradient></defs>
<rect x="332" y="207.5" width="54" height="10" fill="url(#cg)" stroke="#333" stroke-width="0.6"/>
<line x1="332" y1="217.5" x2="332" y2="219.6" stroke="#222" stroke-width="0.8" />
<line x1="345.5" y1="217.5" x2="345.5" y2="219.6" stroke="#222" stroke-width="0.8" />
<line x1="359" y1="217.5" x2="359" y2="219.6" stroke="#222" stroke-width="0.8" />
<line x1="372.5" y1="217.5" x2="372.5" y2="219.6" stroke="#222" stroke-width="0.8" />
<line x1="386" y1="217.5" x2="386" y2="219.6" stroke="#222" stroke-width="0.8" />
<text x="332.2" y="230.3" font-size="11" text-anchor="middle" fill="#111" font-weight="normal" >0</text>
<text x="361.6" y="230.3" font-size="11" text-anchor="middle" fill="#111" font-weight="normal" >0.5</text>
<text x="385.3" y="230.3" font-size="11" text-anchor="middle" fill="#111" font-weight="normal" >1</text>
<rect x="407.9" y="200.9" width="8.2" height="8.9" fill="#1d2b25"/>
<rect x="407.9" y="215.4" width="8.2" height="8.8" fill="#d5c6b3"/>
<text x="421.5" y="209.6" font-size="10.8" text-anchor="start" fill="#111" font-weight="normal" textLength="26.1" lengthAdjust="spacingAndGlyphs" >5 cells</text>
<text x="423.1" y="223.3" font-size="10.8" text-anchor="start" fill="#111" font-weight="normal" textLength="20.9" lengthAdjust="spacingAndGlyphs" >1 cell</text>
<rect x="470.6" y="30.9" width="7.7" height="11.5" fill="#c8c8c8" opacity="0.38"/>
<rect x="478.3" y="25.2" width="7" height="11.5" fill="#c8c8c8" opacity="0.38"/>
<rect x="485.3" y="30.9" width="41.4" height="11.5" fill="#c8c8c8" opacity="0.38"/>
<rect x="526.7" y="27.1" width="11.1" height="11.5" fill="#c8c8c8" opacity="0.38"/>
<rect x="537.8" y="30.9" width="11.4" height="11.5" fill="#c8c8c8" opacity="0.38"/>
<rect x="549.2" y="27.1" width="19" height="11.5" fill="#c8c8c8" opacity="0.38"/>
<rect x="568.2" y="30.8" width="7.3" height="11.5" fill="#c8c8c8" opacity="0.38"/>
<rect x="575.5" y="27.1" width="17" height="11.5" fill="#c8c8c8" opacity="0.38"/>
<rect x="592.5" y="30.8" width="52.9" height="11.5" fill="#c8c8c8" opacity="0.38"/>
<rect x="645.4" y="27.1" width="4" height="11.5" fill="#c8c8c8" opacity="0.38"/>
<rect x="649.4" y="22.7" width="6.4" height="11.5" fill="#c8c8c8" opacity="0.38"/>
<path d="M470.8 31.4h0.8m-0.8 0.1h0.8m-0.7 5.5h0.8m-0.7 4.8h0.8m-0.8 -7.4h0.8m-0.6 7.3h0.8m-0.7 -2.4h0.8m-0.7 3.6h0.8m0.3 -15.8h0.8m-0.7 5.7h0.8m-0.5 3.9h0.8m-0.7 2.4h0.8m-0.7 -9h0.8m-0.5 3.2h0.8m-0.8 1.2h0.8m-0.8 6.6h0.8m-0.7 -7.4h0.8m-0.8 5.2h0.8m-0.7 3.2h0.8m-0.8 -7.7h0.8m-0.7 -6.9h0.8m-0.7 8h0.8m-0.7 0.5h0.8m-0.8 0.7h0.8m-0.8 -2.3h0.8m-0.6 0.8h0.8m-0.7 -0.2h0.8m-0.8 5.1h0.8m-0.8 -1.1h0.8m-0.7 1.3h0.8m-0.8 -5h0.8m-0.7 0h0.8m-0.5 -1h0.8m-0.7 3.9h0.8m-0.8 -2.2h0.8m-0.7 2.9h0.8m-0.8 0h0.8m-0.7 -5.6h0.8m-0.6 0.9h0.8m-0.6 2.4h0.8m-0.8 -2.2h0.8m-0.7 2.1h0.8m-0.7 7.2h0.8m-0.7 -12.7h0.8m-0.8 5h0.8m-0.4 0.2h0.8m-0.7 -0.9h0.8m-0.7 1.5h0.8m-0.7 -7h0.8m-0.8 15.5h0.8m-0.7 -8.9h0.8m-0.8 5h0.8m-0.6 -3.3h0.8m-0.7 2.9h0.8m-0.8 -0.6h0.8m-0.7 -5.6h0.8m-0.7 -0.7h0.8m-0.4 3.7h0.8m-0.8 -2.4h0.8m-0.7 -1.9h0.8m-0.7 -3.8h0.8m-0.7 10.9h0.8m-0.7 -1.8h0.8m-0.7 5.4h0.8m-0.8 -9.6h0.8m-0.8 1.5h0.8m-0.7 -0.2h0.8m-0.8 -11.4h0.8m-0.7 9.3h0.8m-0.3 -4.3h0.8m-0.6 4.9h0.8m-0.7 2.2h0.8m-0.8 8.3h0.8m-0.8 -12.9h0.8m-0.7 -4.1h0.8m-0.6 4.3h0.8m-0.7 -5.5h0.8m-0.7 4h0.8m-0.6 4.1h0.8m-0.8 -3.5h0.8m-0.8 -1.1h0.8m-0.4 1.8h0.8m-0.6 -1.9h0.8m-0.8 3.8h0.8m-0.6 0.6h0.8m-0.7 -1.4h0.8m-0.7 -3.8h0.8m-0.7 7.3h0.8m-0.7 -6.6h0.8m-0.7 1.3h0.8m-0.7 -2.1h0.8m-0.7 -4.1h0.8m-0.7 2.9h0.8m-0.7 4.4h0.8m-0.6 -3.4h0.8m-0.7 4.9h0.8m-0.8 3.1h0.8m-0.4 -8.7h0.8m-0.7 1.2h0.8m-0.8 5.6h0.8m-0.7 -5h0.8m-0.6 2.7h0.8m-0.8 0.3h0.8m-0.7 0.5h0.8m-0.7 -3.9h0.8m-0.6 -6.2h0.8m-0.8 5.2h0.8m-0.8 3.2h0.8m-0.7 -1.2h0.8m-0.7 -2.1h0.8m-0.5 5.6h0.8m-0.8 -4h0.8m-0.8 1.8h0.8m-0.8 -3.1h0.8m-0.7 -0.9h0.8m-0.7 5.6h0.8m-0.6 3.8h0.8m-0.6 -6.5h0.8m-0.8 -3.9h0.8m-0.8 7.9h0.8m-0.7 -7.3h0.8m-0.7 -1.9h0.8m-0.8 4.6h0.8m-0.8 0.7h0.8m-0.7 -0.5h0.8m-0.6 -5.5h0.8m-0.6 10.6h0.8m-0.7 -10.9h0.8m-0.8 6.4h0.8m-0.6 -6.3h0.8m-0.6 9.1h0.8m-0.7 -4.9h0.8m-0.3 11.6h0.8m-0.6 -6.7h0.8m-0.8 4.9h0.8m-0.7 3.7h0.8m-0.8 -2.5h0.8m-0.7 -2.3h0.8m-0.8 -1.2h0.8m-0.6 7h0.8m-0.8 -11.9h0.8m-0.8 -2.6h0.8m-0.7 7.3h0.8m-0.6 -3.4h0.8m-0.6 1.9h0.8m-0.8 6.8h0.8m-0.7 -6.7h0.8m-0.6 -0.7h0.8m-0.7 15.8h0.8m-0.7 -17.2h0.8m-0.7 4.3h0.8m-0.6 -6h0.8m-0.8 8.9h0.8m-0.8 -10h0.8m-0.5 8.1h0.8m-0.7 -4.5h0.8m-0.6 5.9h0.8m-0.7 2.6h0.8m-0.8 -3h0.8m-0.8 -1.6h0.8m-0.4 -0.9h0.8m-0.6 -1.7h0.8m-0.7 2.6h0.8m-0.8 -4h0.8m-0.1 1.2h0.8m-0.8 -0.4h0.8m-0.7 6.3h0.8m-0.7 -3h0.8m-0.7 -0.4h0.8m-0.6 0.9h0.8m-0.8 -7.7h0.8m-0.8 2.3h0.8m-0.8 0h0.8m-0.7 -2.3h0.8m-0.7 2.5h0.8m-0.7 4.7h0.8m-0.8 -1.5h0.8m-0.7 -3.4h0.8m-0.6 1.1h0.8m-0.7 3.1h0.8m-0.5 -0.7h0.8m-0.8 -2.1h0.8m-0.7 7.5h0.8m-0.7 -7.1h0.8m-0.8 8.3h0.8m-0.7 -2.9h0.8m-0.8 -1.5h0.8m-0.7 -6.1h0.8m-0.8 4.8h0.8m-0.7 -2.2h0.8m-0.6 -8h0.8m-0.8 7.3h0.8m-0.6 4.3h0.8m-0.8 -2.8h0.8m-0.7 4.1h0.8m-0.5 -0.3h0.8m-0.5 6.3h0.8m-0.8 -8.9h0.8m-0.7 -8h0.8m-0.7 2.1h0.8m-0.8 5h0.8m-0.6 1.3h0.8m-0.6 0.5h0.8m-0.8 4.7h0.8m-0.7 -10.4h0.8m-0.6 11.6h0.8m-0.3 -10.7h0.8m-0.8 1.9h0.8m-0.7 4.2h0.8m-0.8 -9.9h0.8m-0.7 6.9h0.8m-0.7 3.4h0.8m-0.6 -3.6h0.8m-0.7 2.8h0.8m-0.6 -2.7h0.8m-0.8 -8.2h0.8m-0.8 2.2h0.8m-0.7 20.5h0.8m-0.8 -14.1h0.8m-0.7 -10.4h0.8m-0.8 13.5h0.8m-0.7 -9.8h0.8m-0.8 9.7h0.8m-0.6 -4.1h0.8m-0.6 1.8h0.8m-0.8 0.8h0.8m-0.8 -3.5h0.8m-0.8 -1.2h0.8m-0.8 -0.6h0.8m-0.8 2.9h0.8m-0.7 3.3h0.8m-0.6 -1h0.8m-0.7 5.5h0.8m-0.7 -10.2h0.8m-0.7 8.4h0.8m-0.7 -6.6h0.8m-0.5 5.4h0.8m-0.7 -5h0.8m-0.8 8.5h0.8m-0.8 -12.3h0.8m-0.7 11.5h0.8m-0.8 -11.1h0.8m-0.8 6.7h0.8m-0.8 -3.1h0.8m-0.6 0.2h0.8m-0.7 -0.5h0.8m-0.6 -13.2h0.8m-0.7 13.5h0.8m-0.8 8.4h0.8m-0.5 -3.5h0.8m-0.8 -4.4h0.8m-0.7 -5h0.8m-0.7 12h0.8m-0.8 -7.4h0.8m-0.8 -8.5h0.8m-0.7 0h0.8m-0.6 12.5h0.8m-0.7 -6.9h0.8m-0.8 6.7h0.8m-0.7 -1.6h0.8m-0.7 -2.2h0.8m-0.7 14.3h0.8m-0.7 -16.1h0.8m-0.8 2.7h0.8m-0.8 -3.5h0.8m-0.7 5.2h0.8m-0.8 -7.6h0.8m-0.8 11h0.8m-0.6 -10.1h0.8m-0.4 3.8h0.8m-0.5 4.6h0.8m-0.8 -4h0.8m-0.7 -1.7h0.8m-0.6 5.6h0.8m-0.7 -1.6h0.8m-0.8 -2h0.8m-0.7 -1.8h0.8m-0.8 3.1h0.8m-0.8 2.7h0.8m-0.7 -6h0.8m-0.8 0.8h0.8m-0.7 -2.7h0.8m-0.7 0.1h0.8m-0.7 9.9h0.8m-0.7 -0.9h0.8m-0.7 -6.4h0.8m-0.8 0h0.8m-0.8 -2.7h0.8m-0.6 5h0.8m-0.7 12.2h0.8m-0.6 -17.7h0.8m-0.7 -0.4h0.8m-0.7 -9.1h0.8m-0.8 11.5h0.8m-0.7 10.3h0.8m-0.8 -0.6h0.8m-0.6 -7.1h0.8m-0.7 -0.2h0.8m-0.8 0.4h0.8m-0.6 3.2h0.8m-0.7 -9h0.8m-0.8 4.2h0.8m-0.6 -6h0.8m-0.7 7.2h0.8m-0.7 -0.2h0.8m-0.8 -1.1h0.8m-0.4 3.5h0.8m-0.7 -5.8h0.8m-0.7 0.9h0.8m-0.6 1.6h0.8m-0.8 0.5h0.8m-0.7 -2.2h0.8m-0.7 5.5h0.8m-0.5 -1.8h0.8m-0.7 2.9h0.8m-0.7 -3.6h0.8m-0.8 -9.5h0.8m-0.7 10.6h0.8m-0.5 0.3h0.8m-0.7 1.1h0.8m-0.8 -5.4h0.8m-0.6 6.8h0.8m-0.8 -3.8h0.8m-0.5 3.4h0.8m-0.7 -5.8h0.8m-0.8 -0.1h0.8m-0.8 5.1h0.8m-0.8 -0.4h0.8m-0.8 -2.3h0.8m-0.6 0.8h0.8m-0.8 0.1h0.8m-0.7 -4.4h0.8m-0.8 5.8h0.8m-0.8 -1.5h0.8m-0.7 -3.8h0.8m-0.5 6.3h0.8m-0.6 -5.1h0.8m-0.7 0.4h0.8m-0.8 2.5h0.8m-0.7 -2.6h0.8m-0.6 5h0.8m-0.8 2h0.8m-0.6 -9.5h0.8m-0.8 6.4h0.8m-0.6 -7h0.8m-0.8 -3.3h0.8m-0.7 8.1h0.8m-0.6 5h0.8m-0.8 -3.3h0.8m-0.6 -3.8h0.8m-0.8 4.5h0.8m-0.5 -7.4h0.8m-0.8 5.5h0.8m-0.7 -4.2h0.8m-0.8 4.2h0.8m-0.7 -1.9h0.8m-0.8 -13h0.8m-0.8 19.2h0.8m-0.3 -9.1h0.8m-0.4 -2.7h0.8m-0.4 5h0.8m-0.5 2.9h0.8m-0.7 -3h0.8m-0.6 3h0.8m-0.8 2.3h0.8m-0.5 -1.5h0.8m-0.8 -3.5h0.8m-0.5 -3h0.8m-0.7 6h0.8m-0.8 -3.7h0.8m-0.6 5.9h0.8m-0.5 -2.4h0.8m-0.6 -3.5h0.8m-0.7 4.6h0.8m-0.6 7.1h0.8m-0.7 -15.5h0.8m-0.8 20.9h0.8m-0.6 -10.2h0.8m-0.7 -3.3h0.8m-0.8 -1.3h0.8m-0.6 3.4h0.8m-0.5 -2.6h0.8m-0.7 0.2h0.8m-0.6 -4.4h0.8m-0.6 -1.4h0.8m-0.7 8.2h0.8m-0.1 -8.4h0.8m-0.8 5.3h0.8m-0.8 -5.6h0.8m-0.7 4.5h0.8m-0.6 -0.6h0.8m-0.8 -2.6h0.8m-0.8 -0.6h0.8m-0.6 11.6h0.8m-0.8 -5.5h0.8m-0.8 -4.1h0.8m-0.7 2.2h0.8m-0.7 1.8h0.8m-0.7 -1.8h0.8m-0.7 1.8h0.8m-0.7 -2.3h0.8m-0.8 7h0.8m-0.7 -13.4h0.8m-0.8 8.7h0.8m-0.4 -0.7h0.8m-0.8 -0.3h0.8m-0.8 -1.3h0.8m-0.6 12.2h0.8m-0.7 -9.3h0.8m-0.7 -1.6h0.8m-0.7 3.6h0.8m-0.8 -7.9h0.8m-0.7 7.6h0.8m-0.8 -6h0.8m-0.7 0.3h0.8m-0.8 4.1h0.8m-0.8 2.4h0.8m-0.7 -10.3h0.8m-0.7 16h0.8m-0.7 -11.7h0.8m-0.8 1h0.8m-0.7 -6.7h0.8m-0.7 6.8h0.8m-0.8 -8.1h0.8m-0.8 -3.7h0.8m-0.2 14h0.8m-0.6 -4.2h0.8m0 4.9h0.8m-0.6 10.2h0.8m-0.7 -8.5h0.8m-0.7 -9.6h0.8m-0.8 -0.9h0.8m-0.7 -0.6h0.8m-0.7 5.8h0.8m-0.8 -3.7h0.8m-0.7 8.1h0.8m-0.8 -1.6h0.8m-0.5 -4.7h0.8m-0.8 1.4h0.8m-0.6 6.1h0.8m-0.8 -7.2h0.8m-0.6 0.9h0.8m-0.7 7.6h0.8m-0.8 -7.6h0.8m-0.7 2.1h0.8m-0.8 -1.8h0.8m-0.5 -2.5h0.8m-0.8 6.5h0.8m-0.5 -7.2h0.8m-0.7 -2.1h0.8m-0.7 8.5h0.8m-0.6 6.2h0.8m-0.8 -11.5h0.8m-0.7 9h0.8m-0.7 1.7h0.8m-0.7 -0.1h0.8m-0.7 -5.7h0.8m-0.8 0.1h0.8m-0.7 -5.4h0.8m-0.7 -3h0.8m-0.6 5.3h0.8m-0.7 1.5h0.8m-0.5 -2.2h0.8m-0.7 -1.5h0.8m-0.7 2.8h0.8m-0.3 0.5h0.8m-0.8 4.9h0.8m-0.7 -5.8h0.8m-0.7 3.8h0.8m-0.8 -7.7h0.8m-0.7 3.5h0.8m-0.7 -8.9h0.8m-0.8 7.3h0.8m-0.5 3h0.8m-0.6 9.7h0.8m-0.8 -6.4h0.8m-0.6 -4.3h0.8m-0.8 3.1h0.8m-0.7 -4.1h0.8m-0.7 5.1h0.8m-0.8 -5h0.8m-0.6 10h0.8m-0.6 -5.5h0.8m-0.8 -1.3h0.8m-0.6 -0.4h0.8m-0.8 2.5h0.8m-0.6 7.1h0.8m-0.8 -7h0.8m-0.7 -1.4h0.8m-0.6 0.1h0.8m-0.7 -5.3h0.8m-0.7 6.7h0.8m-0.7 -2.8h0.8m-0.8 3.5h0.8m-0.8 -7.9h0.8m-0.7 2.3h0.8m-0.7 14.2h0.8m-0.8 -7.9h0.8m-0.3 -3.1h0.8m-0.7 -0.2h0.8m-0.7 -1.2h0.8m-0.6 0.7h0.8m-0.7 -7.4h0.8m-0.8 10.7h0.8m-0.6 -1.3h0.8m-0.8 -8.7h0.8m-0.6 20.2h0.8m-0.8 -16.6h0.8m-0.8 -4.5h0.8m-0.7 12h0.8m-0.6 -7.8h0.8m-0.5 5.8h0.8m-0.7 -7.4h0.8m-0.7 -2h0.8m-0.6 4.9h0.8m-0.7 -3.8h0.8m-0.5 1.4h0.8m-0.6 4.7h0.8m-0.6 -2.9h0.8m-0.8 -4.8h0.8m-0.8 6.5h0.8m-0.8 -3.1h0.8m-0.8 -4.1h0.8m-0.6 3.1h0.8m-0.4 -3.1h0.8m-0.8 8.9h0.8m-0.8 -7h0.8m-0.7 1.4h0.8m-0.7 -0.4h0.8m-0.8 -1.8h0.8m-0.7 3.2h0.8m-0.7 -5.7h0.8m-0.6 4.3h0.8m-0.8 3.9h0.8m-0.7 -0.3h0.8m-0.4 -5h0.8m-0.8 1.8h0.8m-0.7 5.7h0.8m-0.7 -3.5h0.8m-0.7 -4.9h0.8m-0.6 1.9h0.8m-0.7 5.9h0.8m-0.7 -2.4h0.8m-0.6 1.5h0.8m-0.8 -8.1h0.8m-0.8 2.7h0.8m-0.2 5.1h0.8m-0.8 -6h0.8m-0.7 7.7h0.8m-0.8 -11.9h0.8m-0.7 9.6h0.8m-0.7 1.3h0.8m-0.7 -10.8h0.8m-0.6 12.1h0.8m-0.8 -8.6h0.8m-0.8 4.7h0.8m-0.7 -4.8h0.8m-0.8 1.6h0.8m-0.5 1.7h0.8m-0.8 2.1h0.8m-0.7 1.6h0.8m-0.8 -5.5h0.8m-0.8 5.1h0.8m-0.6 -4.7h0.8m-0.8 6.9h0.8m-0.7 -7.8h0.8m-0.7 -8.1h0.8m-0.6 10.6h0.8m-0.5 6.7h0.8m-0.7 0.8h0.8m-0.6 -8.7h0.8m-0.5 3.4h0.8m-0.7 0h0.8m-0.7 -6h0.8m-0.7 6.9h0.8m-0.8 0.8h0.8m-0.7 -3.4h0.8m-0.6 -5.3h0.8m-0.8 8.7h0.8m-0.5 -1.7h0.8m-0.7 -4.1h0.8m-0.4 -0.2h0.8m-0.7 4.7h0.8m-0.6 -6.8h0.8m-0.8 3.4h0.8m-0.6 9.5h0.8m-0.7 -11.5h0.8m-0.5 2.3h0.8m-0.8 -0.9h0.8m-0.7 19.8h0.8m-0.7 -20.1h0.8m-0.8 -0.9h0.8m-0.7 7.6h0.8m-0.8 -1h0.8m-0.8 0.7h0.8m-0.8 -2.7h0.8m-0.7 -1.2h0.8m-0.8 -1.5h0.8m-0.7 -10h0.8m-0.7 12.3h0.8m-0.7 6.8h0.8m-0.7 -11.8h0.8m-0.7 13.1h0.8m-0.4 -1.6h0.8m-0.4 -11h0.8m-0.7 9.9h0.8m-0.7 -4.6h0.8m-0.5 8.6h0.8m-0.8 -9.9h0.8m-0.7 12.7h0.8m-0.6 -23.2h0.8m-0.6 13.5h0.8m-0.6 -6.6h0.8m-0.5 10h0.8m-0.5 -4.1h0.8m-0.8 -3.3h0.8m-0.7 3.7h0.8m-0.7 3.1h0.8m-0.7 -0.7h0.8m-0.7 -9.3h0.8m-0.6 5.1h0.8m-0.8 2.3h0.8m-0.8 -5.3h0.8m-0.8 -2.5h0.8m-0.7 19.5h0.8m-0.7 -18.5h0.8m-0.8 11.3h0.8m-0.6 -7.7h0.8m-0.7 5.6h0.8m-0.6 2.9h0.8m-0.6 -3.8h0.8m-0.3 -0.8h0.8m-0.8 -5.2h0.8m-0.6 -3h0.8m-0.8 4.4h0.8m-0.8 -0.1h0.8m-0.7 5.7h0.8m-0.7 -7.3h0.8m-0.8 -5.1h0.8m-0.8 12.7h0.8m-0.8 -6.3h0.8m-0.7 13.2h0.8m-0.7 -13.4h0.8m-0.7 -3.2h0.8m-0.6 12.6h0.8m-0.7 -9.8h0.8m-0.7 -0.7h0.8m-0.4 9h0.8m-0.8 -6h0.8m-0.8 5.3h0.8m-0.7 -5h0.8m-0.8 4.5h0.8m-0.5 -15.1h0.8m-0.7 14.9h0.8m-0.6 -5.8h0.8m-0.6 5h0.8m-0.7 -2.1h0.8m-0.8 6.9h0.8m-0.7 -7.8h0.8m-0.8 12.9h0.8m-0.6 -18.9h0.8m-0.7 2.5h0.8m-0.6 -1.6h0.8m-0.7 5.1h0.8m-0.6 -2.6h0.8m-0.7 9h0.8m-0.7 -5.7h0.8m-0.6 2.5h0.8m-0.8 -5.9h0.8m-0.7 2.5h0.8m-0.7 -4.4h0.8m-0.8 4.8h0.8m-0.7 2.4h0.8m-0.7 -0.3h0.8m-0.8 3.2h0.8m-0.7 -0.7h0.8m-0.8 -2.3h0.8m-0.8 -4h0.8m-0.8 0.1h0.8m-0.7 -1.6h0.8m-0.7 9.2h0.8m-0.8 -1h0.8m-0.8 -4.3h0.8m-0.7 -1.9h0.8m-0.7 10h0.8m-0.8 -8h0.8m-0.7 -0.2h0.8m-0.5 -4.3h0.8m-0.6 5.2h0.8m-0.7 0.8h0.8m-0.8 -3.3h0.8m-0.8 3.8h0.8m-0.7 -11.5h0.8m-0.7 -4.2h0.8m-0.6 12.9h0.8m-0.8 -6.3h0.8m-0.7 12.5h0.8m-0.7 -1.5h0.8m-0.7 -13.5h0.8m-0.6 10h0.8m-0.8 -4.5h0.8m-0.7 4.9h0.8m-0.7 -3.9h0.8m-0.6 0.5h0.8m-0.8 4.3h0.8m-0.6 -7.6h0.8m-0.6 -0.4h0.8m-0.7 4.1h0.8m-0.7 -7.1h0.8m-0.6 8.4h0.8m-0.8 -2.2h0.8m-0.8 0.2h0.8m-0.7 3.6h0.8m-0.8 -12.5h0.8m-0.8 15.3h0.8m-0.7 -10.1h0.8m-0.8 -6.5h0.8m-0.8 13h0.8m-0.7 -5.8h0.8m-0.8 12.5h0.8m-0.5 -12h0.8m-0.8 3.5h0.8m-0.8 -4.8h0.8m-0.6 2.4h0.8m-0.8 -4h0.8m-0.7 6h0.8m-0.8 0.3h0.8m-0.7 13.2h0.8m-0.6 -15.9h0.8m-0.8 -4.3h0.8m-0.5 10.1h0.8m-0.8 -2.5h0.8m-0.8 -1.5h0.8m-0.6 -4.8h0.8m-0.6 6.2h0.8m-0.7 7.2h0.8m-0.7 -19.7h0.8m-0.8 12.3h0.8m-0.7 -4.2h0.8m-0.7 2.3h0.8m-0.8 -5.5h0.8m-0.5 9.9h0.8m-0.6 -6.2h0.8m-0.7 0.2h0.8m-0.7 4.4h0.8m-0.8 1.4h0.8m-0.6 -16.6h0.8m-0.7 16.6h0.8m-0.7 -6.2h0.8m-0.7 -3.2h0.8m-0.8 7.5h0.8m-0.6 10.9h0.8m-0.7 -14.5h0.8m-0.7 -1h0.8m-0.7 5.6h0.8m-0.7 -7.1h0.8m-0.8 1.4h0.8m-0.7 0.7h0.8m-0.6 4.1h0.8m-0.7 -3h0.8m-0.7 11.2h0.8m-0.7 -14h0.8m-0.7 1.8h0.8m-0.7 -2.9h0.8m-0.8 0.6h0.8m-0.7 2.9h0.8m-0.8 -4.1h0.8m-0.7 5.6h0.8m-0.6 1.6h0.8m-0.8 -3.3h0.8m-0.7 3.4h0.8m-0.8 -10.5h0.8m-0.7 9.4h0.8m-0.8 -3.5h0.8m-0.8 1h0.8m-0.8 6.3h0.8m-0.6 -3.9h0.8m-0.7 3.8h0.8m-0.8 -10.1h0.8m-0.5 6.3h0.8m-0.7 -1.6h0.8m-0.6 -0.3h0.8m-0.7 -4.1h0.8m-0.8 0.8h0.8m-0.8 6.3h0.8m-0.7 -1.5h0.8m-0.7 -1.5h0.8m-0.8 -5.8h0.8m-0.7 9.9h0.8m-0.7 -0.1h0.8m-0.6 -6.1h0.8m-0.8 -3.1h0.8m-0.6 -0.1h0.8m-0.7 -0.2h0.8m-0.3 1.9h0.8m-0.8 8.4h0.8m-0.7 -9h0.8m-0.6 9h0.8m-0.7 -0.4h0.8m-0.7 3.6h0.8m-0.8 -6h0.8m-0.6 -1.5h0.8m-0.5 -1.9h0.8m-0.7 -3.5h0.8m-0.7 6.8h0.8m-0.2 -0.6h0.8m-0.7 0.5h0.8m-0.7 -7.6h0.8m-0.7 2.1h0.8m-0.7 3.8h0.8m-0.4 2.5h0.8m-0.7 -6.6h0.8m-0.7 6.1h0.8m-0.7 -3.5h0.8m-0.8 1.6h0.8m-0.8 0.7h0.8m-0.7 3.4h0.8m-0.8 4.5h0.8m-0.5 -4.7h0.8m-0.8 -3.7h0.8m-0.8 -3.8h0.8m-0.7 -7.3h0.8m-0.6 18.1h0.8m-0.8 -8.1h0.8m-0.4 -2.1h0.8m-0.4 4.5h0.8m-0.7 -1h0.8m-0.7 -6.4h0.8m-0.7 5h0.8m-0.5 -3.7h0.8m-0.7 6.2h0.8m-0.8 -3.3h0.8m-0.7 12.3h0.8m-0.8 -5.1h0.8m-0.1 -16.1h0.8m-0.8 11.5h0.8m-0.7 -1.4h0.8m-0.7 -6.2h0.8m-0.7 -3.3h0.8m-0.5 10.7h0.8m-0.7 -2.1h0.8m-0.7 -5.1h0.8m-0.8 5h0.8m-0.7 5.5h0.8m-0.5 -2.9h0.8m-0.7 -1.8h0.8m-0.8 -5.4h0.8m-0.8 9.4h0.8m-0.6 -0.9h0.8m-0.7 -6.1h0.8m-0.7 -1.3h0.8m-0.8 6.5h0.8m-0.5 -6.6h0.8m-0.7 1.3h0.8m-0.7 4.1h0.8m-0.5 0.3h0.8m-0.8 -0.8h0.8m-0.8 7.5h0.8m-0.8 -10.8h0.8m-0.6 7.4h0.8m-0.8 -2.9h0.8m-0.5 -2h0.8m-0.7 -3.3h0.8m-0.8 5.7h0.8m-0.7 -8.7h0.8m-0.6 12h0.8m-0.8 -11.2h0.8m-0.6 5h0.8m-0.6 1.2h0.8m-0.6 1.6h0.8m-0.8 -9.8h0.8m-0.7 6.5h0.8m-0.7 -3.7h0.8m-0.7 -2.7h0.8m-0.7 7.8h0.8m-0.8 3.3h0.8m-0.6 5.4h0.8m-0.7 -4.4h0.8m-0.7 -1.1h0.8m-0.5 0.1h0.8m-0.6 0.5h0.8m-0.8 -1.7h0.8m-0.6 -6.7h0.8m-0.8 7.2h0.8m-0.8 2h0.8m-0.8 -5.8h0.8m-0.7 -1.2h0.8m-0.8 8h0.8m-0.7 3.6h0.8m-0.7 -4h0.8m-0.7 -5.3h0.8m-0.6 3.2h0.8m-0.6 2.1h0.8m-0.8 5.9h0.8m-0.7 -10.9h0.8m-0.5 0.2h0.8m-0.7 4.9h0.8m-0.7 -0.5h0.8m-0.6 -0.1h0.8m-0.8 -0.7h0.8m-0.7 3.7h0.8m-0.8 -16.2h0.8m-0.8 12.6h0.8m-0.7 -2.8h0.8m-0.7 2.5h0.8m-0.6 -6.1h0.8m-0.7 1.4h0.8m-0.7 -0.2h0.8m-0.8 0.1h0.8m-0.7 -1.5h0.8m-0.7 3.5h0.8m-0.8 3.8h0.8m-0.4 0.5h0.8m-0.8 0.5h0.8m-0.6 -1.3h0.8m-0.7 -0.2h0.8m-0.8 -0.5h0.8m-0.8 0.9h0.8m-0.7 -1.3h0.8m-0.3 -6.2h0.8m-0.6 13.6h0.8m-0.8 -2.5h0.8m-0.7 -0.2h0.8m-0.6 -0.9h0.8m-0.7 -5.2h0.8m-0.8 -2.2h0.8m-0.6 8.1h0.8m-0.6 -2.8h0.8m-0.7 -10.1h0.8m-0.6 -1h0.8m-0.7 8.3h0.8m-0.8 -3h0.8m-0.7 4.8h0.8m-0.7 -0.8h0.8m-0.5 -5.2h0.8m-0.7 2.9h0.8m-0.6 -4.2h0.8m-0.7 6.9h0.8m-0.8 1.5h0.8m-0.8 1.1h0.8m-0.7 -0.7h0.8m-0.5 -9.9h0.8m-0.6 1.9h0.8m-0.6 5.5h0.8m-0.6 3.2h0.8m-0.7 -2.7h0.8m-0.7 -2.3h0.8m-0.8 -5.6h0.8m-0.8 5.9h0.8m-0.7 -8.1h0.8m-0.8 9.9h0.8m-0.7 -1.9h0.8m-0.8 -1.7h0.8m-0.7 5.7h0.8m-0.7 -7.1h0.8m-0.7 1.3h0.8m-0.8 -0.4h0.8m-0.7 20.1h0.8m-0.7 -16.8h0.8m-0.7 3.1h0.8m-0.7 -4.4h0.8m-0.6 -2.1h0.8m-0.6 0.3h0.8m-0.7 1.1h0.8m-0.8 -5.9h0.8m-0.7 4.6h0.8m-0.7 -0.3h0.8m0.2 -3.8h0.8m-0.8 19.6h0.8m-0.7 -18.3h0.8m-0.6 13.3h0.8m-0.6 -12.4h0.8m-0.7 -4.7h0.8m-0.7 3.5h0.8m-0.8 -2.9h0.8m-0.8 7.4h0.8m-0.7 -0.9h0.8m-0.7 -1.6h0.8m-0.8 2.8h0.8m-0.6 -7.5h0.8m-0.8 5.7h0.8m-0.7 0.4h0.8m-0.8 6.2h0.8m-0.7 -8.1h0.8m-0.8 5.3h0.8m-0.6 -2.4h0.8m-0.5 -8.8h0.8m-0.7 11.8h0.8m-0.5 -7.1h0.8m-0.6 10.2h0.8m-0.7 -6.4h0.8m-0.8 -0.8h0.8m-0.6 -4.5h0.8m-0.5 15.4h0.8m-0.6 -10h0.8m-0.8 -1.8h0.8m-0.8 5.2h0.8m-0.5 -2.3h0.8m-0.8 -4.4h0.8m-0.7 -3.4h0.8m-0.6 13.6h0.8m-0.6 6.9h0.8m-0.7 -8.4h0.8m-0.8 -8.2h0.8m-0.7 0.6h0.8m-0.6 -1.7h0.8m-0.8 -1.7h0.8m-0.7 5.4h0.8m-0.6 -2.6h0.8m-0.7 9.2h0.8m-0.8 -9.6h0.8m-0.1 20.2h0.8m-0.8 -12.6h0.8m-0.8 -4.4h0.8m-0.7 -0.4h0.8m-0.5 5.5h0.8m-0.8 -3.5h0.8m-0.6 2.4h0.8m-0.7 -6h0.8m-0.7 -2.1h0.8m-0.7 1.7h0.8m-0.8 5h0.8m-0.7 5.6h0.8m-0.8 -8.4h0.8m-0.7 4.2h0.8m-0.8 -8.6h0.8m-0.8 -1.8h0.8m-0.8 8.7h0.8m-0.7 -8.8h0.8m-0.7 10.7h0.8m-0.8 -6.3h0.8m-0.7 3h0.8m-0.8 -1.3h0.8m-0.7 -0.7h0.8m-0.7 1.9h0.8m-0.8 -0.6h0.8m-0.6 2.2h0.8m-0.7 -2.3h0.8m-0.8 -3.1h0.8m-0.4 0.3h0.8m-0.7 5.7h0.8m-0.7 4.9h0.8m-0.8 -5.1h0.8m-0.7 -2.8h0.8m-0.6 2.7h0.8m-0.3 -10.1h0.8m-0.7 8.3h0.8m-0.7 4.3h0.8m-0.7 -3.3h0.8m-0.6 -0.1h0.8m-0.5 17.6h0.8m-0.8 -25.6h0.8m-0.7 8.9h0.8m-0.3 -6.8h0.8m-0.6 3.5h0.8m-0.8 0.6h0.8m-0.8 0.7h0.8m-0.7 -2.2h0.8m-0.8 4h0.8m-0.7 4.6h0.8m-0.7 -7.8h0.8m-0.7 1.3h0.8m-0.8 -3.1h0.8m-0.7 3.2h0.8m-0.4 -0.1h0.8m-0.7 -0.6h0.8m-0.7 -7.9h0.8m-0.8 10.7h0.8m-0.7 -3.4h0.8m-0.7 2.9h0.8m-0.8 -1.7h0.8m-0.7 -0.9h0.8m-0.7 8.6h0.8m-0.8 -4.1h0.8m-0.7 12.6h0.8m-0.8 -19.6h0.8m-0.8 1.3h0.8m-0.6 2.5h0.8m-0.7 5.2h0.8m-0.7 -3.2h0.8m-0.8 1.7h0.8m-0.6 -5.8h0.8m-0.8 2.4h0.8m-0.7 -2.4h0.8m-0.7 -3.8h0.8m-0.7 12.6h0.8m-0.7 -11h0.8m-0.8 8.3h0.8m-0.8 -3.2h0.8m-0.7 1.5h0.8m-0.7 -10.1h0.8m-0.7 9.1h0.8m-0.8 -3.1h0.8m-0.7 1h0.8m-0.6 10.6h0.8m-0.6 1.1h0.8m-0.8 -8.3h0.8m-0.8 0.6h0.8m-0.7 3.3h0.8m-0.8 1.3h0.8m-0.6 -6.9h0.8m-0.7 0.1h0.8m-0.8 -3.4h0.8m-0.6 6.4h0.8m-0.8 2.2h0.8m-0.7 4.4h0.8m-0.6 -4.1h0.8m-0.7 -2h0.8m-0.7 -8.4h0.8m-0.7 -0.9h0.8m-0.6 8.9h0.8m-0.6 2h0.8m-0.7 -11.3h0.8m-0.8 12.7h0.8m-0.6 -8.3h0.8m-0.5 6.7h0.8m-0.7 -7.7h0.8m-0.8 5.8h0.8m-0.7 3h0.8m-0.7 1.8h0.8m-0.8 -3.8h0.8m-0.6 -1.5h0.8m-0.7 -5.5h0.8m-0.6 3.2h0.8m-0.7 6.2h0.8m-0.6 -4.1h0.8m-0.8 -3.7h0.8m-0.7 3.2h0.8m-0.7 -1.7h0.8m-0.7 -4.6h0.8m-0.8 8.2h0.8m-0.8 -2.4h0.8m-0.7 -4h0.8m-0.7 11.4h0.8m-0.7 -10.7h0.8m-0.8 6.6h0.8m-0.8 -6.1h0.8m-0.7 -1.2h0.8m-0.8 1.3h0.8m-0.6 3.4h0.8m-0.7 1.9h0.8m-0.8 1.6h0.8m-0.6 -5.7h0.8m-0.8 -2.6h0.8m-0.8 3.4h0.8m-0.8 -3.4h0.8m-0.8 7.3h0.8m-0.8 -2.8h0.8m-0.7 3.8h0.8m-0.8 7.3h0.8m-0.8 -8.8h0.8m-0.7 -4.6h0.8m-0.8 4.6h0.8m-0.7 -8.4h0.8m-0.6 -0.1h0.8m-0.7 1.4h0.8m-0.8 -7.7h0.8m-0.7 9.5h0.8m-0.8 1.1h0.8m-0.7 5h0.8m-0.8 -7.7h0.8m-0.6 8.4h0.8m-0.6 -6.5h0.8m-0.8 3h0.8m-0.8 -1.3h0.8m-0.8 5.7h0.8m-0.6 -4.9h0.8m-0.7 7.3h0.8m-0.5 -12.1h0.8m-0.6 6.8h0.8m-0.1 -4.9h0.8m-0.1 0.7h0.8m-0.7 9.3h0.8m-0.7 -6.5h0.8m-0.8 7.8h0.8m-0.7 -6h0.8m-0.6 -0.5h0.8m-0.7 -0.4h0.8m-0.8 3.2h0.8m-0.6 -10.2h0.8m-0.7 2.9h0.8m-0.8 -0.7h0.8m-0.7 1.7h0.8m-0.8 5.9h0.8m-0.7 -6.2h0.8m-0.7 7.8h0.8m-0.8 -9.6h0.8m-0.8 1.6h0.8m-0.7 4.6h0.8m-0.7 -1.6h0.8m-0.5 -2.6h0.8m-0.5 3.5h0.8m-0.6 -2.4h0.8m-0.8 5.3h0.8m-0.5 -4.1h0.8m-0.7 -2.4h0.8m-0.7 1.9h0.8m-0.7 -2h0.8m-0.6 3.5h0.8m-0.5 12.1h0.8m-0.7 -6.4h0.8m-0.6 -4.6h0.8m-0.7 0.7h0.8m-0.5 -4.3h0.8m-0.8 -2.9h0.8m-0.7 5.2h0.8m-0.8 2.5h0.8m-0.7 3.1h0.8m-0.7 -5.7h0.8m-0.6 -1.4h0.8m-0.7 2h0.8m-0.8 -10.2h0.8m-0.7 10.5h0.8m-0.6 1.4h0.8m-0.8 -7.3h0.8m-0.6 4.8h0.8m-0.7 -1.9h0.8m-0.8 -2h0.8m-0.8 7.1h0.8m-0.7 -9.9h0.8m-0.8 7.7h0.8m-0.6 -0.2h0.8m-0.6 1.4h0.8m-0.6 2.4h0.8m-0.7 6.7h0.8m-0.8 -11.9h0.8m-0.6 3.7h0.8m-0.8 -6.5h0.8m-0.8 7.6h0.8m-0.7 -0.8h0.8m-0.8 -8.6h0.8m-0.7 -5.3h0.8m-0.8 7.1h0.8m-0.7 11.3h0.8m-0.7 -14.4h0.8m-0.3 2.1h0.8m-0.7 -10.5h0.8m-0.8 10.2h0.8m-0.8 -7.6h0.8m-0.8 6.3h0.8m-0.7 1.6h0.8m-0.8 -0.9h0.8m-0.7 -1.7h0.8m-0.7 9.3h0.8m-0.7 -4h0.8m-0.5 -2h0.8m-0.8 3.9h0.8m-0.7 -5.6h0.8m-0.5 3.7h0.8m-0.8 3.2h0.8m-0.7 -10.4h0.8m-0.8 9.3h0.8m-0.6 -9h0.8m-0.7 7h0.8m-0.7 10.8h0.8m-0.7 -9.2h0.8m-0.5 -1.4h0.8m-0.6 2.3h0.8m-0.8 -5.3h0.8m-0.6 8.8h0.8m-0.6 -8.8h0.8m-0.5 8.7h0.8m-0.4 -5.2h0.8m-0.8 -1.1h0.8m-0.8 2h0.8m-0.7 7.4h0.8m-0.8 -2.4h0.8m-0.7 -5.6h0.8m-0.8 3.8h0.8m-0.7 -4.8h0.8m-0.7 0.1h0.8m-0.7 5.7h0.8m-0.5 -12.3h0.8m-0.7 6.7h0.8m-0.7 2.2h0.8m-0.8 -4.1h0.8m-0.6 -3.9h0.8m-0.7 4.3h0.8m-0.7 2.6h0.8m-0.7 -6.2h0.8m-0.5 13h0.8m-0.8 -1.1h0.8m-0.8 -6.5h0.8m-0.7 0.8h0.8m-0.8 -5h0.8m-0.4 4.3h0.8m-0.7 -1.3h0.8m-0.7 11.7h0.8m-0.7 -9.1h0.8m-0.5 -2.5h0.8m-0.7 0.8h0.8m-0.8 3.1h0.8m-0.7 -5.8h0.8m-0.8 0.4h0.8m-0.5 -1.8h0.8m-0.7 1.9h0.8m-0.6 -4.4h0.8m-0.8 2.1h0.8m-0.5 0.4h0.8m-0.8 1.2h0.8m-0.6 2.7h0.8m-0.7 -2.2h0.8m-0.8 5.1h0.8m-0.7 0.3h0.8m-0.7 1.3h0.8m-0.8 -6.3h0.8m-0.8 0h0.8m-0.7 3.7h0.8m-0.5 -1.5h0.8m-0.8 3.1h0.8m-0.6 7.3h0.8m-0.7 -21.2h0.8m-0.6 16.6h0.8m-0.6 -6.4h0.8m-0.8 0.1h0.8m-0.6 -5.3h0.8m-0.6 2.8h0.8m-0.8 1.5h0.8m-0.7 6.4h0.8m-0.7 -6.1h0.8m-0.8 -1.3h0.8m-0.6 4h0.8m-0.7 0.8h0.8m-0.8 3.4h0.8m-0.6 -9.7h0.8m-0.7 5.2h0.8m-0.8 5.2h0.8m-0.8 -4.8h0.8m-0.6 1.7h0.8m-0.8 -11.4h0.8m-0.7 7.4h0.8m-0.7 7.7h0.8m-0.8 -14.1h0.8m-0.7 13h0.8m-0.8 -7.2h0.8m-0.7 1.8h0.8m-0.7 0.1h0.8m-0.8 5.2h0.8m-0.8 -4.2h0.8m-0.6 7.6h0.8m-0.6 -4.5h0.8m-0.6 -3.4h0.8m-0.8 5h0.8m-0.8 -4h0.8m-0.8 -3.6h0.8m-0.7 -1.2h0.8m-0.7 4.3h0.8m-0.7 2.7h0.8m-0.7 -0.5h0.8m-0.6 -2.1h0.8m-0.7 -2.9h0.8m-0.6 0.8h0.8m-0.8 -0.3h0.8m-0.8 -3h0.8m-0.4 6.4h0.8m-0.8 7.1h0.8m-0.4 -10h0.8m-0.8 -4.7h0.8m-0.6 5.9h0.8m-0.7 3.6h0.8m-0.8 -2.8h0.8m-0.7 -3.4h0.8m-0.8 -3.8h0.8m-0.7 6.2h0.8m-0.7 -3.4h0.8m-0.7 2.8h0.8m-0.7 -13.5h0.8m-0.3 12.6h0.8m-0.8 -1.8h0.8m-0.1 -5h0.8m-0.7 2.5h0.8m-0.8 6.7h0.8m-0.7 11.3h0.8m-0.7 -14.7h0.8m-0.8 3.1h0.8m-0.6 2.4h0.8m-0.8 -4.9h0.8m-0.6 6.6h0.8m-0.8 -7h0.8m-0.7 0.4h0.8m-0.7 5.6h0.8m-0.8 -7.9h0.8m-0.7 8.9h0.8m-0.7 -1.4h0.8m-0.7 -6.2h0.8m-0.8 -1.1h0.8m-0.8 18.4h0.8m-0.7 -15.2h0.8m-0.8 4.3h0.8m-0.6 -5.8h0.8m-0.5 -3.4h0.8m-0.8 7h0.8m-0.7 -6.8h0.8m-0.7 1.1h0.8m-0.8 9.4h0.8m-0.7 -10.9h0.8m-0.8 8.5h0.8m-0.8 -12h0.8m-0.6 1.6h0.8m-0.8 0.7h0.8m-0.7 3.8h0.8m-0.8 5.3h0.8m-0.4 -0.7h0.8m-0.6 -7.8h0.8m-0.7 14.4h0.8m-0.8 -6h0.8m-0.5 -0.4h0.8m-0.8 -0.1h0.8m-0.5 2.3h0.8m-0.8 4.3h0.8m-0.7 -9.3h0.8m-0.8 2.5h0.8m-0.7 -4.8h0.8m-0.8 8.5h0.8m-0.6 -2.6h0.8m-0.6 -5.5h0.8m-0.8 0.5h0.8m-0.7 1.9h0.8m-0.6 9.5h0.8m-0.6 -7.3h0.8m-0.8 -6.9h0.8m-0.7 7.1h0.8m-0.6 -2.2h0.8m-0.5 -12.8h0.8m-0.8 12h0.8m-0.8 6.2h0.8m-0.7 -9.7h0.8m-0.6 -2.1h0.8m-0.8 4.8h0.8m-0.6 4h0.8m-0.8 -8.3h0.8m-0.7 10.4h0.8m-0.7 0.9h0.8m-0.8 -10.7h0.8m-0.3 -3.4h0.8m-0.8 5.8h0.8m-0.7 -6.8h0.8m-0.6 -0.1h0.8m-0.5 16.8h0.8m-0.6 -5.1h0.8m-0.7 -7.3h0.8m-0.7 1.6h0.8m-0.7 -3.6h0.8m-0.8 -0.2h0.8m-0.7 7.5h0.8m-0.8 -0.6h0.8m-0.7 0.2h0.8m-0.6 -1.9h0.8m-0.7 2.1h0.8m-0.7 3.2h0.8m-0.8 -1.7h0.8m-0.7 0.1h0.8m-0.7 -8.3h0.8m-0.8 10h0.8m-0.7 0.7h0.8m-0.8 5.4h0.8m-0.8 -9.6h0.8m-0.7 -6.6h0.8m-0.8 6.4h0.8m-0.7 -4.2h0.8m-0.6 13.1h0.8m-0.7 -11.8h0.8m-0.7 11.2h0.8m-0.6 -13.9h0.8m-0.5 -4.9h0.8m-0.7 17.4h0.8m-0.8 -11.8h0.8m-0.3 5.2h0.8m-0.8 -1.7h0.8m-0.7 1.4h0.8m-0.7 -1.3h0.8m-0.8 1.5h0.8m-0.7 4.5h0.8m-0.6 -5h0.8m-0.8 -2.4h0.8m-0.8 -1.4h0.8m-0.7 7.6h0.8m-0.7 0.6h0.8m-0.6 -11.7h0.8m-0.6 9.9h0.8m-0.8 -4.7h0.8m-0.7 1.5h0.8m-0.5 7.9h0.8m-0.8 -10.4h0.8m-0.3 -3.2h0.8m-0.8 2.1h0.8m-0.7 17.9h0.8m-0.7 -4.8h0.8m-0.7 -6.7h0.8m-0.8 2.7h0.8m-0.7 -6.1h0.8m-0.8 0.4h0.8m-0.7 5.3h0.8m-0.5 -2.4h0.8m-0.8 -1.1h0.8m-0.6 -1.3h0.8m-0.8 6.8h0.8m-0.7 -10.3h0.8m-0.6 9h0.8m-0.7 -4h0.8m-0.7 0.3h0.8m-0.6 7.2h0.8m-0.7 -10h0.8m-0.7 10.4h0.8m-0.7 -7.8h0.8m-0.8 12.9h0.8m-0.6 -13.3h0.8m-0.7 1.6h0.8m-0.8 10.1h0.8m-0.8 -5.4h0.8m-0.8 1.2h0.8m-0.7 -6.8h0.8m-0.3 -4.1h0.8m-0.6 1.5h0.8m-0.6 1.4h0.8m-0.7 -6h0.8m-0.5 2.3h0.8m-0.6 5h0.8m-0.8 4.8h0.8m-0.7 -3.4h0.8m-0.7 -0.3h0.8m-0.7 4.9h0.8m-0.4 -11.9h0.8m-0.5 4h0.8m-0.6 -6.7h0.8m-0.6 2.3h0.8m-0.7 -3.1h0.8m-0.7 15.3h0.8m-0.5 -14.6h0.8m-0.4 9.8h0.8m-0.8 -3.9h0.8m-0.6 -1.6h0.8m-0.8 2.7h0.8m-0.7 2.7h0.8m-0.6 -11.6h0.8m-0.8 6.8h0.8m-0.7 7.9h0.8m-0.7 -4h0.8m-0.7 -13.5h0.8m-0.8 11.7h0.8m-0.7 -2.8h0.8m-0.8 8.3h0.8m-0.7 0h0.8m-0.8 -6.2h0.8m-0.6 -0.8h0.8m-0.7 1.6h0.8m-0.8 -3.2h0.8m-0.7 2.9h0.8m-0.7 -5.3h0.8m-0.7 9.2h0.8m-0.7 -4.6h0.8m-0.8 1.2h0.8m-0.8 6.8h0.8m-0.7 -5.3h0.8m-0.7 0h0.8m-0.8 -0.8h0.8m-0.7 -0.6h0.8m-0.5 9.1h0.8m-0.8 -8.2h0.8m-0.7 -4.6h0.8m-0.7 3.4h0.8m-0.7 -3.1h0.8m-0.2 -0.3h0.8m-0.8 -0.6h0.8m-0.7 1.6h0.8m-0.7 0.8h0.8m-0.8 6.8h0.8m-0.6 -3.5h0.8m-0.6 -9.3h0.8m-0.8 7h0.8m-0.4 -11.4h0.8m-0.8 18h0.8m-0.6 -5.9h0.8m-0.6 -10.2h0.8m-0.8 6.2h0.8m-0.8 4.9h0.8m-0.7 -3.8h0.8m-0.7 3.6h0.8m-0.6 -0.1h0.8m-0.8 -5.3h0.8m-0.6 1.5h0.8m-0.7 2.6h0.8m-0.7 -7.6h0.8m-0.6 1.7h0.8m-0.8 -2h0.8m-0.6 -1.2h0.8m-0.7 16.7h0.8m-0.8 -16.2h0.8m-0.8 0.3h0.8m-0.7 1.1h0.8m-0.7 1.2h0.8m-0.8 4.3h0.8m-0.8 -1.9h0.8m-0.7 4h0.8m-0.5 -7h0.8m-0.8 -3.9h0.8m-0.7 9h0.8m-0.7 1.1h0.8m-0.7 -3h0.8m-0.8 2.2h0.8m-0.6 -2.4h0.8m-0.6 -1.2h0.8m-0.5 0.6h0.8m-0.8 6.2h0.8m-0.5 -2.8h0.8m-0.8 1h0.8m-0.6 -8.8h0.8m-0.8 9.9h0.8m-0.7 -9.1h0.8m-0.8 0.8h0.8m-0.8 -0.1h0.8m-0.8 -3.2h0.8m-0.3 2.9h0.8m-0.8 6.7h0.8m-0.7 -5.4h0.8m-0.8 2.9h0.8m-0.7 -10.1h0.8m-0.4 0.6h0.8m-0.6 1.3h0.8m-0.8 -0.1h0.8m-0.8 4.1h0.8m-0.7 -1.6h0.8m-0.7 -0.5h0.8m-0.8 7.3h0.8m-0.7 -0.9h0.8m-0.7 -4.3h0.8m-0.8 10.2h0.8m-0.8 -8.3h0.8m-0.7 -3.5h0.8m-0.7 0.7h0.8m-0.8 -2.8h0.8m-0.6 1.1h0.8m-0.7 6.9h0.8m-0.7 -3.8h0.8m-0.6 -2.3h0.8m-0.8 1.5h0.8m-0.7 1.1h0.8m-0.8 0.2h0.8m-0.6 -3h0.8m-0.6 6.8h0.8m-0.7 -2.5h0.8m-0.6 1.3h0.8m-0.8 -7.2h0.8m-0.8 0h0.8m-0.7 2.9h0.8m-0.8 -3.7h0.8m-0.7 5.4h0.8m-0.6 2.4h0.8m-0.7 -4.8h0.8m-0.5 1.2h0.8m-0.6 1h0.8m-0.8 -5.5h0.8m-0.6 2.6h0.8m-0.6 5.6h0.8m-0.2 -1.2h0.8m-0.6 -8.3h0.8m-0.7 6.3h0.8m-0.6 5.7h0.8m-0.5 -3.3h0.8m-0.8 -3h0.8" stroke="#b0b0b0" stroke-width="0.8" fill="none"/>
<path d="M470.6 20.2V54.3M485.4 20.2V54.3M500.9 20.2V54.3M513.8 20.2V54.3M525.5 20.2V54.3M537.5 20.2V54.3M548.8 20.2V54.3M559.5 20.2V54.3M568.2 20.2V54.3M575.5 20.2V54.3M584.3 20.2V54.3M592.5 20.2V54.3M601.6 20.2V54.3M607.8 20.2V54.3M613.5 20.2V54.3M618.8 20.2V54.3M623.3 20.2V54.3M627.9 20.2V54.3M632.4 20.2V54.3M636.3 20.2V54.3M640.3 20.2V54.3M642.1 20.2V54.3M644.0 20.2V54.3M645.8 20.2V54.3M655.3 20.2V54.3" stroke="#222" stroke-width="0.85" stroke-dasharray="2 2.1" fill="none"/>
<line x1="463.5" y1="33.6" x2="662.5" y2="33.6" stroke="#40dae4" stroke-width="1.25" stroke-dasharray="4.2 3"/>
<line x1="463.5" y1="41.2" x2="662.5" y2="41.2" stroke="#40dae4" stroke-width="1.25" stroke-dasharray="4.2 3"/>
<path d="M470.6 37.4H478.3V31.7H485.3V37.4H526.7V33.6H537.8V37.4H549.2V33.6H568.2V37.3H575.5V33.6H592.5V37.3H645.4V33.6H649.4V29.2H655.8" stroke="#1a1a1a" stroke-width="1.3" fill="none"/>
<rect x="463.5" y="20.2" width="199" height="34.1" fill="none" stroke="#8a8a8a" stroke-width="0.9"/>
<line x1="470.6" y1="54.3" x2="470.6" y2="56.9" stroke="#555" stroke-width="0.8" />
<line x1="501.15" y1="54.3" x2="501.15" y2="56.9" stroke="#555" stroke-width="0.8" />
<line x1="531.7" y1="54.3" x2="531.7" y2="56.9" stroke="#555" stroke-width="0.8" />
<line x1="562.25" y1="54.3" x2="562.25" y2="56.9" stroke="#555" stroke-width="0.8" />
<line x1="592.8" y1="54.3" x2="592.8" y2="56.9" stroke="#555" stroke-width="0.8" />
<line x1="623.35" y1="54.3" x2="623.35" y2="56.9" stroke="#555" stroke-width="0.8" />
<line x1="653.9" y1="54.3" x2="653.9" y2="56.9" stroke="#555" stroke-width="0.8" />
<path d="M439.3 47.6L452.3 37.2H463.5" stroke="#151a28" stroke-width="1.3" fill="none"/>
<rect x="470.6" y="74.9" width="7.7" height="11.5" fill="#c8c8c8" opacity="0.38"/>
<rect x="478.3" y="66.9" width="7" height="11.5" fill="#c8c8c8" opacity="0.38"/>
<rect x="485.3" y="74.9" width="10.8" height="11.5" fill="#c8c8c8" opacity="0.38"/>
<rect x="496.1" y="79.1" width="1.9" height="11.5" fill="#c8c8c8" opacity="0.38"/>
<rect x="498" y="74.9" width="28.7" height="11.5" fill="#c8c8c8" opacity="0.38"/>
<rect x="526.7" y="70.7" width="11.1" height="11.5" fill="#c8c8c8" opacity="0.38"/>
<rect x="537.8" y="79.1" width="11.4" height="11.5" fill="#c8c8c8" opacity="0.38"/>
<rect x="549.2" y="70.7" width="10.1" height="11.5" fill="#c8c8c8" opacity="0.38"/>
<rect x="559.3" y="68.8" width="1.3" height="11.5" fill="#c8c8c8" opacity="0.38"/>
<rect x="560.6" y="70.5" width="7.6" height="11.5" fill="#c8c8c8" opacity="0.38"/>
<rect x="568.2" y="74.5" width="7.3" height="11.5" fill="#c8c8c8" opacity="0.38"/>
<rect x="575.5" y="70.5" width="8.8" height="11.5" fill="#c8c8c8" opacity="0.38"/>
<rect x="584.3" y="74.5" width="17.3" height="11.5" fill="#c8c8c8" opacity="0.38"/>
<rect x="601.6" y="78.8" width="6.8" height="11.5" fill="#c8c8c8" opacity="0.38"/>
<rect x="608.4" y="74.5" width="39.7" height="11.5" fill="#c8c8c8" opacity="0.38"/>
<rect x="648.1" y="68.7" width="7.7" height="11.5" fill="#c8c8c8" opacity="0.38"/>
<path d="M470.6 83.3h0.8m-0.7 -5.5h0.8m-0.8 6.4h0.8m-0.7 -1.9h0.8m-0.7 -0.1h0.8m-0.6 -4.6h0.8m-0.7 1.4h0.8m-0.6 -9.2h0.8m-0.7 10.8h0.8m-0.8 -0.3h0.8m-0.7 -2.2h0.8m-0.7 7.4h0.8m-0.4 -1h0.8m-0.8 -4.9h0.8m-0.6 -3h0.8m-0.5 2.4h0.8m-0.7 -4.2h0.8m-0.7 10.3h0.8m-0.8 -8.2h0.8m-0.7 1.1h0.8m-0.7 0.9h0.8m-0.5 -2.5h0.8m-0.7 3.8h0.8m-0.8 -2.7h0.8m-0.7 9.4h0.8m-0.8 -5.8h0.8m-0.6 -4.7h0.8m-0.8 8.9h0.8m-0.8 3.6h0.8m-0.8 -3.3h0.8m-0.8 -3.6h0.8m-0.8 1.7h0.8m-0.7 -0.7h0.8m-0.8 7.4h0.8m-0.6 -12.2h0.8m-0.2 9h0.8m-0.8 -8.5h0.8m-0.7 16h0.8m-0.7 -16h0.8m-0.8 -1.8h0.8m-0.6 6.7h0.8m-0.5 -3.6h0.8m-0.5 -0.4h0.8m-0.6 1.4h0.8m-0.6 -7.5h0.8m-0.8 -1.4h0.8m-0.7 12.5h0.8m-0.7 -4.8h0.8m-0.6 6.3h0.8m-0.8 -3.4h0.8m-0.7 -3.5h0.8m-0.7 0.2h0.8m-0.7 5.7h0.8m-0.6 -8.3h0.8m-0.8 2.7h0.8m-0.7 2h0.8m-0.8 0h0.8m-0.7 -6.4h0.8m-0.5 4.1h0.8m-0.8 1.5h0.8m-0.6 -1.9h0.8m-0.8 17.4h0.8m-0.8 -14.6h0.8m-0.7 -14.7h0.8m-0.8 19.9h0.8m-0.8 -9.7h0.8m-0.4 7.9h0.8m-0.7 -4.7h0.8m-0.7 6.6h0.8m-0.8 -12h0.8m-0.5 -3.5h0.8m-0.6 0.2h0.8m-0.7 0.4h0.8m-0.7 7.5h0.8m-0.8 -8.8h0.8m-0.7 -0.6h0.8m-0.8 4.6h0.8m-0.7 0.9h0.8m-0.8 -4.5h0.8m-0.8 -2.3h0.8m-0.7 2h0.8m-0.7 3.8h0.8m-0.7 -9h0.8m-0.8 -0.3h0.8m-0.8 7.5h0.8m-0.8 -0.7h0.8m-0.8 -0.6h0.8m-0.6 18h0.8m-0.5 -16.7h0.8m-0.7 1.5h0.8m-0.4 -0.8h0.8m-0.7 2.2h0.8m-0.6 10.9h0.8m-0.8 -15.2h0.8m-0.7 7.5h0.8m-0.8 -7.7h0.8m-0.6 6.9h0.8m-0.7 -8.7h0.8m-0.7 6.1h0.8m-0.7 -1.2h0.8m-0.4 -0.6h0.8m-0.8 3.2h0.8m-0.8 -7.6h0.8m-0.5 -3h0.8m-0.8 9.5h0.8m-0.8 1h0.8m-0.7 -7h0.8m-0.7 3.8h0.8m-0.4 -5.9h0.8m-0.7 4.5h0.8m-0.7 -0.7h0.8m-0.7 5.5h0.8m-0.8 -10.4h0.8m-0.5 8.6h0.8m-0.8 -2.9h0.8m-0.7 -6.3h0.8m-0.4 3.4h0.8m-0.7 10h0.8m-0.8 -8.8h0.8m-0.7 1.3h0.8m-0.6 3.1h0.8m-0.7 -8.5h0.8m-0.4 12.3h0.8m-0.8 -3.6h0.8m-0.6 0.3h0.8m-0.8 -3.4h0.8m-0.7 -1.7h0.8m-0.8 -0.2h0.8m-0.8 -0.5h0.8m-0.7 9.8h0.8m-0.5 -0.9h0.8m-0.7 5.2h0.8m-0.7 1.7h0.8m-0.8 -5.7h0.8m-0.8 4.5h0.8m-0.6 -5.3h0.8m-0.8 13.6h0.8m-0.6 -13.5h0.8m-0.8 5.5h0.8m-0.7 -6.3h0.8m-0.5 6.7h0.8m-0.7 3.4h0.8m-0.8 -8.8h0.8m-0.5 -5h0.8m-0.7 8.9h0.8m-0.7 0.3h0.8m-0.7 -3.7h0.8m-0.8 -4.3h0.8m-0.8 1.1h0.8m-0.8 -2.5h0.8m-0.6 -0.5h0.8m-0.7 8.5h0.8m-0.8 -12.6h0.8m-0.7 4.9h0.8m-0.7 22h0.8m-0.8 -11.7h0.8m-0.8 -4.2h0.8m-0.8 -0.9h0.8m-0.6 -5h0.8m-0.7 6.8h0.8m-0.8 -4.7h0.8m-0.7 -5.9h0.8m-0.7 12.3h0.8m-0.7 0.2h0.8m-0.8 7.9h0.8m-0.8 -11.4h0.8m-0.8 -0.9h0.8m-0.8 -3.7h0.8m-0.7 2.2h0.8m-0.6 5h0.8m-0.6 -7.3h0.8m-0.7 4.4h0.8m-0.5 5.1h0.8m-0.8 -2.3h0.8m-0.7 -1.3h0.8m-0.7 -9.8h0.8m-0.3 17.7h0.8m-0.6 -9.9h0.8m-0.6 4.4h0.8m-0.8 0.4h0.8m-0.7 2.7h0.8m-0.8 -6.5h0.8m-0.7 8h0.8m-0.8 -10.4h0.8m-0.7 3.1h0.8m-0.3 -5.7h0.8m-0.5 5.4h0.8m-0.8 -1.3h0.8m-0.8 -9.1h0.8m-0.7 9.8h0.8m-0.7 7.7h0.8m-0.2 -4.9h0.8m-0.8 2.6h0.8m-0.8 -7.5h0.8m-0.8 4.3h0.8m-0.6 -8.1h0.8m-0.3 16.7h0.8m-0.8 -25.1h0.8m-0.7 8.9h0.8m-0.8 -0.8h0.8m-0.6 3.7h0.8m-0.8 -0.2h0.8m-0.4 0.5h0.8m-0.8 -3.4h0.8m-0.6 6.2h0.8m-0.7 0.8h0.8m-0.8 5.4h0.8m-0.6 -17.8h0.8m-0.8 5.7h0.8m-0.5 23h0.8m-0.8 -5.6h0.8m-0.8 -14.3h0.8m-0.8 0.5h0.8m-0.8 9h0.8m-0.7 -7.7h0.8m-0.7 12.7h0.8m-0.7 -17h0.8m-0.7 6.8h0.8m-0.6 3.7h0.8m-0.4 -4.8h0.8m-0.5 -1.9h0.8m-0.7 5.6h0.8m-0.6 -2.8h0.8m-0.8 -7.5h0.8m-0.7 3.9h0.8m-0.8 -8h0.8m-0.7 15.7h0.8m-0.6 -2.5h0.8m-0.6 4.2h0.8m-0.7 -3.6h0.8m-0.8 5.6h0.8m-0.7 -11.3h0.8m-0.6 -11.6h0.8m-0.8 12.4h0.8m-0.7 13.9h0.8m-0.8 -8h0.8m-0.7 -0.4h0.8m-0.8 3.7h0.8m-0.7 -2.1h0.8m-0.7 -0.5h0.8m-0.6 -4.4h0.8m-0.8 4.1h0.8m-0.5 4.9h0.8m-0.7 -4.8h0.8m-0.7 -11.1h0.8m-0.7 1.6h0.8m-0.7 0.9h0.8m-0.8 6.2h0.8m-0.6 -10.7h0.8m-0.8 12.8h0.8m-0.5 -3.7h0.8m-0.8 1.7h0.8m-0.7 -1.2h0.8m-0.8 -7.7h0.8m-0.7 1h0.8m-0.7 2.3h0.8m-0.6 0h0.8m-0.7 19.9h0.8m-0.5 -19.5h0.8m-0.4 10.9h0.8m-0.7 -8.6h0.8m-0.8 -2.3h0.8m-0.8 6.1h0.8m-0.6 -9.3h0.8m-0.8 7.7h0.8m-0.8 -7.7h0.8m-0.8 6.6h0.8m-0.7 -2.8h0.8m-0.7 3h0.8m-0.8 5.1h0.8m-0.7 -5.3h0.8m-0.8 3.5h0.8m-0.5 -2.4h0.8m-0.8 -3.2h0.8m-0.7 6.4h0.8m-0.7 -11h0.8m-0.6 -1.3h0.8m-0.6 20.9h0.8m-0.7 -12.1h0.8m-0.8 -8.9h0.8m-0.6 10.5h0.8m-0.8 -9h0.8m-0.5 -3.7h0.8m-0.5 12.9h0.8m-0.8 -4.1h0.8m-0.8 1.1h0.8m-0.8 -6.7h0.8m0 1.9h0.8m-0.6 1.3h0.8m-0.8 -0.5h0.8m-0.7 3.9h0.8m-0.6 6.1h0.8m-0.7 -7.7h0.8m-0.8 3.3h0.8m-0.7 -3.5h0.8m-0.7 3.6h0.8m-0.7 0.6h0.8m-0.8 -3.7h0.8m-0.7 -1.8h0.8m-0.7 -0.9h0.8m-0.8 4h0.8m-0.5 2h0.8m-0.7 1.4h0.8m-0.6 1.1h0.8m-0.6 -4.5h0.8m-0.8 15.7h0.8m-0.7 -12.2h0.8m-0.7 -7h0.8m-0.8 4.4h0.8m-0.8 2.7h0.8m-0.7 -5.3h0.8m-0.7 -3.3h0.8m-0.2 9.1h0.8m-0.7 -0.6h0.8m-0.4 -1.5h0.8m-0.7 -1.3h0.8m-0.8 0.8h0.8m-0.6 -1.9h0.8m-0.6 -3.5h0.8m-0.8 0h0.8m-0.6 18.1h0.8m-0.8 -16.4h0.8m-0.6 4.3h0.8m-0.6 -1.3h0.8m-0.7 0.7h0.8m-0.6 -0.4h0.8m-0.7 -9.1h0.8m-0.8 2.5h0.8m-0.6 2.2h0.8m-0.6 -1.8h0.8m-0.8 6.9h0.8m-0.5 -2.8h0.8m-0.4 -0.2h0.8m-0.7 14.3h0.8m-0.4 -13.7h0.8m-0.7 4.8h0.8m-0.8 -12.2h0.8m-0.7 7.9h0.8m-0.4 7.9h0.8m-0.6 -2.1h0.8m-0.7 -9.1h0.8m-0.8 -1.4h0.8m-0.8 -5.4h0.8m-0.6 3.9h0.8m-0.8 0.9h0.8m-0.4 -10.5h0.8m-0.7 27.6h0.8m-0.7 -12.2h0.8m-0.8 0.4h0.8m-0.7 -2.7h0.8m-0.8 9.4h0.8m-0.7 -9.5h0.8m-0.5 9.9h0.8m-0.8 -8.3h0.8m-0.8 4.3h0.8m-0.6 -3.3h0.8m-0.7 -0.4h0.8m-0.8 0.1h0.8m-0.7 -1.9h0.8m-0.8 3h0.8m-0.8 0.2h0.8m-0.7 5.9h0.8m-0.5 -3.7h0.8m-0.8 7h0.8m-0.7 -4.8h0.8m-0.8 -10.6h0.8m-0.8 0.7h0.8m-0.8 4.3h0.8m-0.7 4.9h0.8m-0.5 1.3h0.8m-0.8 0.2h0.8m-0.8 -9.9h0.8m-0.7 3.5h0.8m-0.6 -3.2h0.8m-0.8 0.1h0.8m-0.8 3.3h0.8m-0.8 9.1h0.8m-0.8 -12.8h0.8m-0.7 8h0.8m-0.6 -2.5h0.8m-0.6 9.8h0.8m-0.8 -11.9h0.8m-0.7 -2.8h0.8m-0.8 5.7h0.8m-0.7 -2.5h0.8m-0.8 -1h0.8m-0.7 0.5h0.8m-0.8 6.1h0.8m-0.7 0.4h0.8m-0.7 -12h0.8m-0.7 10.2h0.8m-0.8 -10.3h0.8m-0.7 -2.5h0.8m-0.6 10h0.8m-0.7 -7.5h0.8m-0.7 1.9h0.8m-0.8 0.2h0.8m-0.7 -1.3h0.8m-0.8 1.8h0.8m-0.6 8.5h0.8m-0.8 -12h0.8m-0.7 12.8h0.8m-0.8 -2.8h0.8m-0.5 -2.4h0.8m-0.7 3.8h0.8m-0.6 -3.7h0.8m-0.7 -2.1h0.8m-0.5 -0.8h0.8m-0.7 3h0.8m-0.8 2.9h0.8m-0.8 -5.2h0.8m-0.8 0.3h0.8m-0.6 1.9h0.8m-0.7 2.1h0.8m-0.6 -10.5h0.8m-0.8 3.7h0.8m-0.7 -2h0.8m-0.8 7.5h0.8m-0.6 -5h0.8m-0.5 0.5h0.8m-0.7 0.9h0.8m-0.7 4.2h0.8m-0.8 0.7h0.8m-0.8 -4.2h0.8m-0.3 5.6h0.8m-0.6 -8.1h0.8m-0.7 4.5h0.8m-0.7 3.1h0.8m-0.6 -11.1h0.8m-0.7 5.9h0.8m-0.8 4.5h0.8m-0.7 0.9h0.8m-0.7 -3.8h0.8m-0.7 -4.6h0.8m-0.7 2.7h0.8m-0.8 -4.4h0.8m-0.7 5.9h0.8m-0.7 -0.3h0.8m-0.3 1.8h0.8m-0.8 -3.4h0.8m-0.8 -1.7h0.8m-0.4 -1.1h0.8m-0.8 3.6h0.8m-0.5 1.6h0.8m-0.6 -5.8h0.8m-0.8 0.8h0.8m-0.6 7.3h0.8m-0.8 -9h0.8m-0.8 -3.8h0.8m-0.6 4.5h0.8m-0.5 2.1h0.8m-0.6 5.7h0.8m-0.8 -2.3h0.8m-0.8 5h0.8m-0.6 -0.7h0.8m-0.5 -0.3h0.8m-0.5 -5.3h0.8m-0.8 3h0.8m-0.7 -1.2h0.8m-0.7 1.2h0.8m-0.7 -4.8h0.8m-0.7 -2.5h0.8m-0.7 -3.8h0.8m-0.6 9.3h0.8m-0.8 0.4h0.8m-0.7 -6h0.8m-0.5 8h0.8m-0.7 -7h0.8m-0.8 13.9h0.8m-0.7 -9.2h0.8m-0.7 -10.6h0.8m-0.8 14.3h0.8m-0.5 0.8h0.8m-0.7 -12h0.8m-0.8 7.9h0.8m-0.7 -6.4h0.8m-0.8 21.2h0.8m-0.6 -12.5h0.8m-0.7 -3.3h0.8m-0.6 2h0.8m-0.8 -6.2h0.8m-0.6 2.3h0.8m-0.6 9h0.8m-0.7 -10.2h0.8m-0.8 4.2h0.8m-0.7 6.1h0.8m-0.8 -8.1h0.8m-0.8 -10.1h0.8m-0.6 11.9h0.8m-0.8 4.8h0.8m-0.8 -1.9h0.8m-0.7 -2.2h0.8m-0.8 1.5h0.8m-0.7 -1.9h0.8m-0.7 -1.4h0.8m-0.8 2.5h0.8m-0.7 5.2h0.8m-0.8 -3.1h0.8m-0.7 0.3h0.8m-0.8 -0.7h0.8m-0.7 -6.2h0.8m-0.7 1.6h0.8m-0.8 -6.9h0.8m-0.7 4.9h0.8m-0.7 4.5h0.8m-0.5 -5.4h0.8m-0.8 0.6h0.8m-0.6 -10.4h0.8m-0.8 10.5h0.8m-0.6 1.3h0.8m-0.7 -1.5h0.8m-0.7 -5.4h0.8m-0.6 5.4h0.8m-0.7 -2.9h0.8m-0.7 -8.9h0.8m-0.7 4.8h0.8m-0.8 5.3h0.8m-0.7 1.3h0.8m-0.7 -5.3h0.8m-0.8 7.1h0.8m-0.7 0.1h0.8m-0.7 0h0.8m-0.8 -3.6h0.8m-0.8 -4.5h0.8m-0.7 3.9h0.8m-0.8 -0.2h0.8m-0.7 2.5h0.8m-0.7 0.6h0.8m-0.7 -5.1h0.8m-0.5 3.7h0.8m-0.7 -3.3h0.8m-0.5 8h0.8m-0.8 -7.8h0.8m-0.6 14h0.8m-0.7 -8h0.8m-0.8 5.3h0.8m-0.7 -10.6h0.8m-0.7 5h0.8m-0.8 -2h0.8m-0.8 0.2h0.8m-0.7 -0.9h0.8m-0.7 2.3h0.8m-0.8 1.4h0.8m-0.8 2.7h0.8m-0.7 -9.5h0.8m-0.7 2.1h0.8m-0.7 -2.9h0.8m-0.2 11.9h0.8m-0.5 -10.1h0.8m-0.7 3.7h0.8m-0.7 1.4h0.8m-0.8 2h0.8m-0.4 -5.4h0.8m-0.8 14.3h0.8m-0.8 -10.9h0.8m-0.7 -1.9h0.8m-0.7 1.6h0.8m-0.7 16.4h0.8m-0.7 -19.1h0.8m-0.7 2.6h0.8m-0.7 -0.3h0.8m-0.7 -1.2h0.8m-0.7 2.7h0.8m-0.6 -11.3h0.8m-0.7 7.8h0.8m-0.8 -0.8h0.8m-0.7 1.4h0.8m-0.4 -6.7h0.8m-0.8 8.1h0.8m-0.7 -9.5h0.8m-0.5 9.9h0.8m-0.7 -1.5h0.8m-0.7 -6.3h0.8m-0.6 6.2h0.8m-0.8 -2.7h0.8m-0.7 -1.3h0.8m-0.7 6.7h0.8m-0.7 -2.6h0.8m-0.8 1.1h0.8m-0.7 -0.1h0.8m-0.8 0h0.8m-0.6 0.4h0.8m-0.8 -3.2h0.8m-0.6 -0.8h0.8m-0.3 2h0.8m-0.8 0.6h0.8m-0.8 -2.6h0.8m-0.4 0.6h0.8m-0.8 0.8h0.8m-0.5 -0.8h0.8m-0.6 -2.8h0.8m-0.7 7.4h0.8m-0.8 -2.1h0.8m-0.5 -4.7h0.8m-0.8 4.6h0.8m-0.7 2.7h0.8m-0.7 -0.2h0.8m-0.8 -3.2h0.8m-0.8 0.5h0.8m-0.7 -3.6h0.8m-0.7 4.8h0.8m-0.6 12.8h0.8m-0.7 -14.2h0.8m-0.7 5.8h0.8m-0.8 -3.6h0.8m-0.5 4.5h0.8m-0.7 6h0.8m-0.8 -4.5h0.8m-0.8 6.5h0.8m-0.7 -9.4h0.8m-0.7 -5.6h0.8m-0.8 5.9h0.8m-0.6 1.6h0.8m-0.8 -2.2h0.8m-0.7 1.7h0.8m-0.8 3.2h0.8m-0.8 1.5h0.8m-0.7 -18.7h0.8m-0.7 21.2h0.8m-0.7 -14.3h0.8m-0.8 3.9h0.8m-0.7 9.8h0.8m-0.8 -0.1h0.8m-0.5 -3.6h0.8m-0.7 2.2h0.8m-0.7 -1.7h0.8m-0.8 -10h0.8m-0.7 6h0.8m-0.8 -1.4h0.8m-0.6 -3.3h0.8m-0.5 11.2h0.8m-0.7 -5.1h0.8m-0.7 1.1h0.8m-0.6 0.9h0.8m-0.7 0.8h0.8m-0.8 -9.3h0.8m-0.4 19.9h0.8m-0.7 -15.3h0.8m-0.3 2h0.8m-0.6 -3.2h0.8m-0.8 7.7h0.8m-0.4 -10.8h0.8m-0.8 7.8h0.8m-0.7 7.5h0.8m-0.6 -12.3h0.8m-0.8 2.9h0.8m-0.6 -1.2h0.8m-0.7 -2h0.8m-0.7 2.5h0.8m-0.7 -2.8h0.8m-0.8 1.5h0.8m-0.6 7.7h0.8m-0.7 -10.7h0.8m-0.4 5.1h0.8m-0.8 -6.2h0.8m-0.7 3.6h0.8m-0.8 7.2h0.8m-0.7 -6.9h0.8m-0.8 4.4h0.8m-0.6 -2.8h0.8m-0.8 -5.8h0.8m-0.7 3.4h0.8m-0.8 -0.6h0.8m-0.7 1.7h0.8m-0.6 -2.6h0.8m-0.7 9.2h0.8m-0.6 -8.5h0.8m-0.7 6.3h0.8m-0.7 -2.2h0.8m-0.7 -4.1h0.8m-0.8 1.3h0.8m-0.5 4.7h0.8m-0.7 2.4h0.8m-0.8 -2.8h0.8m-0.6 0.6h0.8m-0.7 2.6h0.8m-0.7 -4.2h0.8m-0.6 -8h0.8m-0.7 9.2h0.8m-0.8 -3h0.8m-0.6 -0.8h0.8m-0.7 2.6h0.8m-0.8 -0.9h0.8m-0.7 -5h0.8m-0.7 5.4h0.8m-0.7 -3.5h0.8m-0.5 9.9h0.8m-0.7 -9.8h0.8m-0.8 -2.8h0.8m-0.8 6.5h0.8m-0.7 -1.6h0.8m-0.6 -2.4h0.8m-0.5 -5.4h0.8m-0.7 16.1h0.8m-0.8 -11h0.8m-0.7 7h0.8m-0.7 -8.6h0.8m-0.7 -10.2h0.8m-0.8 10h0.8m-0.7 1.6h0.8m-0.6 -1.3h0.8m-0.8 3.3h0.8m-0.8 7h0.8m-0.5 -10.2h0.8m-0.7 -0.4h0.8m-0.3 -3h0.8m-0.5 6.5h0.8m-0.8 -6.8h0.8m-0.7 -5h0.8m-0.6 17.8h0.8m-0.8 -12.8h0.8m-0.8 -0.6h0.8m-0.6 5.4h0.8m-0.1 -7.1h0.8m-0.8 1.6h0.8m-0.8 -0.1h0.8m-0.7 -3.8h0.8m-0.8 6.2h0.8m-0.8 17.4h0.8m-0.6 -19h0.8m-0.7 -2.2h0.8m-0.7 3.2h0.8m-0.8 2.1h0.8m-0.7 -8.8h0.8m-0.4 9.7h0.8m-0.6 -3.6h0.8m-0.6 -2.2h0.8m-0.8 2.7h0.8m-0.7 0.6h0.8m-0.7 7.1h0.8m-0.8 -3.2h0.8m-0.6 0.2h0.8m-0.7 2.8h0.8m-0.7 -11.9h0.8m-0.8 2.8h0.8m-0.8 10.8h0.8m-0.7 -8.8h0.8m-0.7 -7.4h0.8m-0.8 4.6h0.8m-0.8 1.7h0.8m-0.7 4.2h0.8m-0.5 -1.6h0.8m-0.6 0.2h0.8m-0.8 1.1h0.8m-0.6 5.3h0.8m-0.8 -7.8h0.8m-0.7 -3.9h0.8m-0.8 6.4h0.8m-0.8 -0.3h0.8m-0.7 1h0.8m-0.8 0.8h0.8m-0.6 4.2h0.8m-0.7 10.9h0.8m-0.7 -18.6h0.8m-0.8 -4.4h0.8m-0.8 6.7h0.8m-0.6 -8.9h0.8m-0.7 8.8h0.8m-0.7 -2.6h0.8m-0.6 3.9h0.8m-0.8 -4.4h0.8m-0.5 -4.5h0.8m-0.7 5.3h0.8m-0.6 1h0.8m-0.8 8.3h0.8m-0.7 -9.4h0.8m-0.7 -8.4h0.8m-0.8 26.6h0.8m-0.7 -17.1h0.8m-0.7 -2.3h0.8m-0.5 1.2h0.8m-0.8 -0.6h0.8m-0.8 0.1h0.8m-0.7 -0.7h0.8m-0.8 -5h0.8m-0.7 11.1h0.8m-0.7 -4.6h0.8m-0.8 1.7h0.8m-0.8 -9.7h0.8m-0.7 2.6h0.8m-0.7 3.9h0.8m-0.5 0.5h0.8m-0.4 -0.9h0.8m-0.7 -8h0.8m-0.8 10.3h0.8m-0.4 -2.1h0.8m-0.7 0.9h0.8m-0.7 -0.6h0.8m-0.7 1.9h0.8m-0.8 -4.8h0.8m-0.8 4.8h0.8m-0.5 -6.4h0.8m-0.6 4.7h0.8m-0.6 1h0.8m-0.7 -0.7h0.8m-0.6 -4.8h0.8m-0.8 11h0.8m-0.6 -12h0.8m-0.8 3.9h0.8m-0.6 -7.5h0.8m-0.7 9.5h0.8m-0.7 -2.1h0.8m-0.8 -0.8h0.8m-0.7 -3.8h0.8m-0.6 25.4h0.8m-0.7 -16.1h0.8m-0.8 -3.2h0.8m-0.7 1.3h0.8m-0.8 9.8h0.8m-0.6 -14.9h0.8m-0.8 1.4h0.8m-0.8 -0.4h0.8m-0.7 2.1h0.8m-0.7 9.1h0.8m-0.7 -9h0.8m-0.8 9.3h0.8m-0.7 -11.1h0.8m-0.8 8.8h0.8m-0.7 -10h0.8m-0.8 4.1h0.8m-0.8 3.3h0.8m-0.3 -10.3h0.8m-0.7 10.2h0.8m-0.8 -5.2h0.8m-0.8 6.1h0.8m-0.7 3.5h0.8m-0.7 -7.8h0.8m-0.7 6.3h0.8m-0.3 -5.4h0.8m-0.8 -2.3h0.8m-0.7 1h0.8m-0.7 2.3h0.8m-0.8 -2h0.8m-0.7 3.4h0.8m-0.4 -6h0.8m-0.7 4.1h0.8m-0.7 -0.5h0.8m-0.7 -1.4h0.8m-0.7 -3.6h0.8m0 0.7h0.8m-0.8 1h0.8m-0.8 1.4h0.8m-0.7 -5.1h0.8m-0.8 4.1h0.8m-0.7 -0.8h0.8m-0.8 -1.5h0.8m-0.7 3h0.8m-0.8 5.5h0.8m-0.7 -0.8h0.8m-0.7 -5.7h0.8m-0.3 5.7h0.8m-0.7 -1.7h0.8m-0.7 5.1h0.8m-0.8 -8.4h0.8m-0.8 4.6h0.8m-0.6 4.3h0.8m-0.7 10h0.8m-0.8 -20.2h0.8m-0.6 1.4h0.8m-0.7 1.2h0.8m-0.8 -4.6h0.8m-0.6 5.6h0.8m-0.6 -5.5h0.8m-0.7 0.9h0.8m-0.8 4.3h0.8m-0.8 -3.9h0.8m-0.8 5.4h0.8m-0.7 7.7h0.8m-0.7 -8.5h0.8m-0.6 -2.1h0.8m-0.6 6.7h0.8m-0.6 9.6h0.8m-0.6 -7.3h0.8m-0.8 -8.5h0.8m-0.7 9.9h0.8m-0.6 -10.3h0.8m-0.7 5.9h0.8m-0.8 -8.7h0.8m-0.8 13.3h0.8m-0.7 -1.3h0.8m-0.7 -4.1h0.8m-0.5 -7.1h0.8m-0.5 4.3h0.8m-0.6 -3.4h0.8m-0.8 4.6h0.8m-0.7 3.3h0.8m-0.8 -4.4h0.8m-0.7 -9.3h0.8m-0.8 12.4h0.8m-0.7 0.4h0.8m-0.7 -3.1h0.8m-0.4 0.3h0.8m-0.6 -9.9h0.8m-0.7 11.5h0.8m-0.7 -3.7h0.8m-0.8 -1.8h0.8m-0.6 13.8h0.8m-0.7 -4.9h0.8m-0.5 -0.3h0.8m-0.7 7.1h0.8m-0.7 -7.7h0.8m-0.7 -5.5h0.8m-0.7 0.9h0.8m-0.8 2.3h0.8m-0.7 4.1h0.8m-0.7 -4h0.8m-0.8 -8.5h0.8m-0.6 1.5h0.8m-0.6 16.6h0.8m-0.6 -6.5h0.8m-0.7 -0.3h0.8m-0.7 13.8h0.8m-0.8 -13.9h0.8m-0.7 -1.7h0.8m-0.8 -5.6h0.8m-0.7 5.9h0.8m-0.5 4.8h0.8m-0.8 -6.9h0.8m-0.7 -3.7h0.8m-0.2 5.7h0.8m-0.6 2.5h0.8m-0.7 0.3h0.8m-0.8 -3.1h0.8m-0.8 2.3h0.8m-0.8 -10.7h0.8m-0.7 -1.5h0.8m-0.8 9.5h0.8m-0.8 -2.6h0.8m-0.7 0.9h0.8m-0.7 4.6h0.8m-0.6 -9.6h0.8m-0.6 16.7h0.8m-0.8 3.3h0.8m-0.8 -14.5h0.8m-0.6 -5h0.8m-0.6 7.7h0.8m-0.7 0.6h0.8m-0.8 -4.7h0.8m-0.7 7h0.8m-0.7 -3.8h0.8m-0.4 -8.7h0.8m-0.8 5.9h0.8m-0.7 5.7h0.8m-0.8 1.3h0.8m-0.7 -18.5h0.8m-0.7 -1.1h0.8m-0.7 9.5h0.8m-0.4 -4.8h0.8m-0.7 10.6h0.8m-0.5 -7.1h0.8m-0.8 -0.7h0.8m-0.7 4.8h0.8m-0.5 3.8h0.8m-0.8 -3.2h0.8m-0.7 -0.8h0.8m-0.8 -0.3h0.8m-0.8 -6.8h0.8m-0.2 2.9h0.8m-0.8 2.6h0.8m-0.7 -4.1h0.8m-0.8 1h0.8m-0.7 0.7h0.8m-0.7 2.5h0.8m-0.7 4.7h0.8m-0.7 -3.1h0.8m-0.6 -6.2h0.8m-0.7 6.3h0.8m-0.5 -1.3h0.8m-0.8 0.3h0.8m-0.8 2.9h0.8m-0.8 0.7h0.8m-0.6 -1.3h0.8m-0.5 -6.7h0.8m-0.8 4.3h0.8m-0.7 -3.6h0.8m-0.7 -4.2h0.8m-0.8 3.7h0.8m-0.5 3.6h0.8m-0.8 -5.7h0.8m-0.8 10.8h0.8m-0.6 5.2h0.8m-0.8 -15.6h0.8m-0.7 1.8h0.8m-0.8 7.1h0.8m-0.7 -5.2h0.8m-0.6 -2.4h0.8m-0.7 6.8h0.8m-0.7 2.8h0.8m-0.8 -5.2h0.8m-0.8 1h0.8m-0.6 3.5h0.8m-0.6 2.1h0.8m-0.7 -7.9h0.8m-0.8 3.2h0.8m-0.7 -1.6h0.8m-0.6 4.6h0.8m-0.7 -6.9h0.8m-0.8 -2.9h0.8m-0.8 2.1h0.8m-0.7 0.1h0.8m-0.6 5.7h0.8m-0.8 -2.1h0.8m-0.8 1.9h0.8m-0.7 1.4h0.8m-0.8 -12.3h0.8m-0.5 8.2h0.8m-0.8 12.4h0.8m-0.6 -12.8h0.8m-0.8 5h0.8m-0.7 -1.9h0.8m-0.8 -0.2h0.8m-0.6 0.5h0.8m-0.8 -1.6h0.8m-0.4 0.7h0.8m-0.4 -2.8h0.8m-0.8 -3.4h0.8m-0.7 14.4h0.8m-0.7 -1.3h0.8m-0.8 -1.8h0.8m-0.8 -4h0.8m-0.7 -3.2h0.8m-0.7 2.7h0.8m-0.7 -7.3h0.8m-0.8 5.8h0.8m-0.8 -2.5h0.8m-0.7 -7.6h0.8m-0.8 8.7h0.8m-0.5 -1.1h0.8m-0.7 3h0.8m-0.7 3.2h0.8m-0.6 -0.2h0.8m-0.7 -7.2h0.8m-0.8 12.2h0.8m-0.7 -2.6h0.8m-0.7 -8.9h0.8m-0.7 4.6h0.8m-0.8 13h0.8m-0.7 -17h0.8m-0.7 7.1h0.8m-0.7 -1.2h0.8m-0.6 2.1h0.8m-0.6 -1.7h0.8m-0.7 -1.1h0.8m-0.7 -1.8h0.8m-0.7 -0.7h0.8m-0.7 3h0.8m-0.5 -1.7h0.8m-0.8 1h0.8m-0.6 6.4h0.8m-0.8 -5.6h0.8m-0.7 -0.3h0.8m-0.7 -6.6h0.8m-0.7 4.4h0.8m-0.7 3.7h0.8m-0.8 7.9h0.8m-0.7 -15.2h0.8m-0.7 6.9h0.8m-0.7 -3.1h0.8m-0.7 1.3h0.8m-0.7 -2.3h0.8m-0.7 2.8h0.8m-0.7 -14.3h0.8m-0.7 24.8h0.8m-0.7 -15.2h0.8m-0.6 -0.5h0.8m-0.6 1h0.8m-0.8 -2.3h0.8m-0.8 0.5h0.8m-0.5 4.4h0.8m-0.7 0.8h0.8m-0.8 3.4h0.8m-0.8 -0.8h0.8m-0.7 -3.3h0.8m-0.8 2.6h0.8m-0.7 4h0.8m-0.8 -12.8h0.8m-0.8 9.3h0.8m-0.7 1.1h0.8m-0.7 -4.9h0.8m-0.8 1.4h0.8m-0.6 -1.8h0.8m-0.7 5.2h0.8m-0.8 -3.6h0.8m-0.7 -0.1h0.8m-0.7 8h0.8m-0.8 -11.6h0.8m-0.7 2.8h0.8m-0.8 18h0.8m-0.7 -15.9h0.8m-0.7 0h0.8m-0.8 -2.9h0.8m-0.4 -0.5h0.8m-0.7 3.5h0.8m-0.7 -2.3h0.8m-0.5 13.9h0.8m-0.7 -16.1h0.8m-0.8 6.6h0.8m-0.7 0h0.8m-0.8 -3.6h0.8m-0.7 0.9h0.8m-0.5 -8h0.8m-0.8 6.6h0.8m-0.7 0.4h0.8m-0.7 3.4h0.8m-0.8 6.9h0.8m-0.6 -11.6h0.8m-0.8 -2.1h0.8m-0.7 4.1h0.8m-0.6 -3.3h0.8m-0.8 3.4h0.8m-0.8 -2.8h0.8m-0.7 7h0.8m-0.5 -10.8h0.8m-0.8 2.7h0.8m-0.7 2.4h0.8m-0.8 -6.4h0.8m-0.7 9.1h0.8m-0.7 -8h0.8m-0.7 -2.6h0.8m-0.7 6.5h0.8m-0.3 3.5h0.8m-0.7 -7.5h0.8m-0.7 -4.7h0.8m-0.7 15h0.8m-0.8 -4.9h0.8m-0.7 -4.9h0.8m-0.7 3.5h0.8m-0.6 -0.5h0.8m-0.6 1.1h0.8m-0.4 9.4h0.8m-0.8 -5.1h0.8m-0.7 0.1h0.8m-0.5 -2.8h0.8m-0.8 -3.7h0.8m-0.8 7.7h0.8m-0.7 -6.5h0.8m-0.7 2.6h0.8m-0.7 -5.6h0.8m-0.8 1.3h0.8m-0.2 12h0.8m-0.5 -12.1h0.8m-0.8 3.2h0.8m-0.3 -0.6h0.8m-0.6 1h0.8m-0.5 4.6h0.8m-0.7 -3.2h0.8m-0.7 -6h0.8m-0.8 4h0.8m-0.7 -0.9h0.8m-0.6 5h0.8m-0.7 -3.1h0.8m-0.5 -6.3h0.8m-0.6 4h0.8m-0.7 6.8h0.8m-0.8 -2.3h0.8m-0.7 -4.2h0.8m-0.6 1.8h0.8m-0.7 4.3h0.8m-0.7 4.7h0.8m-0.8 -2.5h0.8m-0.6 -11.2h0.8m-0.7 14.8h0.8m-0.4 -13.8h0.8m-0.8 0.2h0.8m-0.8 4.4h0.8m-0.6 -4.7h0.8m-0.8 3.9h0.8m-0.8 -1.4h0.8m-0.7 0.1h0.8m-0.7 2.7h0.8m-0.6 0.3h0.8m-0.5 -7.1h0.8m-0.7 5.7h0.8m-0.7 4.7h0.8m-0.7 -0.9h0.8m-0.8 1h0.8m-0.5 -2.4h0.8m-0.6 2.1h0.8m-0.7 1.4h0.8m-0.8 -1.9h0.8m-0.8 4h0.8m-0.7 -4.2h0.8m-0.8 -0.2h0.8m-0.6 9.7h0.8m-0.8 -7h0.8m-0.7 4h0.8m-0.3 -6.6h0.8m-0.8 5.1h0.8m-0.8 -9h0.8m-0.6 2.7h0.8m-0.7 1.8h0.8m-0.6 -3.3h0.8m-0.8 4.6h0.8m-0.7 -3.4h0.8m-0.7 7.1h0.8m-0.7 2.8h0.8m-0.6 -8.3h0.8m-0.5 -2.4h0.8m-0.8 4.2h0.8m-0.8 6.6h0.8m-0.8 4.9h0.8m-0.7 -21h0.8m-0.8 7.9h0.8m-0.6 -5.7h0.8m-0.8 2.1h0.8m-0.7 7.1h0.8m-0.7 0.1h0.8m-0.7 -3.5h0.8m-0.8 3.5h0.8m-0.6 -4.5h0.8m-0.6 2.2h0.8m-0.8 7h0.8m-0.8 -1h0.8m-0.7 -2.3h0.8m-0.6 -5.5h0.8m-0.7 4.7h0.8m-0.6 -12.5h0.8m-0.7 9.5h0.8m-0.6 -4.1h0.8m-0.6 1.7h0.8m-0.6 4.4h0.8m-0.6 -19h0.8m-0.8 13.4h0.8m-0.6 -1.5h0.8m-0.7 5.9h0.8m-0.7 -1.8h0.8m-0.7 -5.3h0.8m-0.6 4.7h0.8m-0.8 -3h0.8m-0.4 2.9h0.8m-0.8 -0.7h0.8m-0.8 3.1h0.8m-0.7 -3.9h0.8m-0.7 -0.8h0.8m-0.8 2h0.8m-0.7 -1.5h0.8m-0.7 -1.6h0.8m-0.8 -3.7h0.8m-0.7 5.6h0.8m-0.8 -0.2h0.8m-0.4 -4.2h0.8m-0.8 -0.9h0.8m-0.8 1.7h0.8m-0.6 0.8h0.8m-0.8 2.4h0.8m-0.6 -4.3h0.8m-0.8 4.2h0.8m-0.7 1.5h0.8m-0.8 -5.8h0.8m-0.7 6h0.8m-0.6 -0.3h0.8m-0.7 0.9h0.8m-0.7 -6.3h0.8m-0.7 -0.7h0.8m-0.8 -0.3h0.8m-0.8 7.1h0.8m-0.7 -1.9h0.8m-0.7 -2.9h0.8m-0.8 2.9h0.8m-0.7 5.7h0.8m-0.8 -8h0.8m-0.8 -3.5h0.8m-0.6 4.6h0.8m-0.8 -7.6h0.8m-0.8 3.4h0.8m-0.7 -1.3h0.8m-0.7 4.5h0.8m-0.7 -0.2h0.8m-0.6 1.9h0.8m-0.8 -3.5h0.8m-0.7 2.9h0.8m-0.5 -3.1h0.8m-0.7 -2.7h0.8m-0.5 0.1h0.8m-0.8 4.8h0.8m-0.5 -7.8h0.8m-0.7 10.7h0.8m-0.7 5.6h0.8m-0.8 -10.5h0.8m-0.8 3.1h0.8m-0.7 7.7h0.8m-0.8 -4.9h0.8m-0.6 -5.3h0.8m-0.8 1.2h0.8m-0.6 -4.2h0.8m-0.8 6h0.8m-0.8 -3.7h0.8m-0.6 -8.4h0.8m-0.5 12.6h0.8m-0.5 -6h0.8m-0.7 7.6h0.8m-0.8 4.1h0.8m-0.8 -5.7h0.8m-0.8 -7.4h0.8m-0.7 12.2h0.8m-0.7 -3.6h0.8m-0.6 -4.5h0.8m-0.5 -1.4h0.8m-0.6 4.7h0.8m-0.4 3h0.8m-0.8 -8.2h0.8m-0.7 -0.9h0.8m-0.3 2.1h0.8m-0.7 2.1h0.8m-0.8 -1.5h0.8m-0.7 5.8h0.8m-0.8 -5.3h0.8m-0.7 2h0.8m-0.8 3.1h0.8m-0.7 5.3h0.8m-0.8 -1.6h0.8m-0.8 -8.9h0.8m-0.7 -7.2h0.8m-0.4 12.1h0.8m-0.6 -5h0.8m-0.6 6.5h0.8m-0.7 -3.7h0.8m-0.8 0.3h0.8m-0.5 -12.2h0.8m-0.6 9.7h0.8m-0.7 8.1h0.8m-0.8 -12.6h0.8m-0.8 4.4h0.8m-0.7 -2.7h0.8m-0.8 1.3h0.8m-0.8 -0.2h0.8m-0.6 -3.1h0.8m-0.4 6.3h0.8m-0.6 0.1h0.8m-0.8 -5.8h0.8m-0.7 11.6h0.8m-0.8 -5.1h0.8m-0.8 -6h0.8m-0.7 13.9h0.8m-0.8 -11.2h0.8m-0.3 5.7h0.8m-0.8 -9.6h0.8m-0.7 -2.1h0.8m-0.7 5.6h0.8m-0.6 5.8h0.8m-0.8 -6.2h0.8m-0.7 -2.2h0.8m-0.8 4.7h0.8m-0.8 5.9h0.8m-0.8 -2.3h0.8m-0.5 -11.2h0.8m-0.7 14.5h0.8m-0.7 -8.2h0.8m-0.6 4.9h0.8m-0.7 -3h0.8m-0.5 -2h0.8m-0.5 -0.8h0.8m-0.8 -3.3h0.8m-0.4 -1.5h0.8m-0.7 3.6h0.8m-0.8 6.4h0.8m-0.8 -5.3h0.8m-0.7 4.6h0.8m-0.8 1h0.8m-0.7 -3.6h0.8m-0.8 0.8h0.8m-0.7 -0.2h0.8m-0.7 -1.3h0.8m-0.7 3h0.8m-0.8 -3.7h0.8m-0.7 3.5h0.8m-0.7 -5.1h0.8m-0.8 5.9h0.8m-0.6 -3.2h0.8m-0.8 5.2h0.8m-0.6 -7.7h0.8m-0.7 4.8h0.8m-0.7 1.7h0.8m-0.8 -1h0.8m-0.5 -3.7h0.8m-0.7 1.7h0.8m-0.8 -4.4h0.8m-0.7 4.9h0.8m-0.7 1h0.8m-0.6 -5.6h0.8m-0.7 7.2h0.8m-0.7 2.1h0.8m-0.8 -2.3h0.8m-0.6 -7.2h0.8m-0.8 6.7h0.8m-0.8 -2.4h0.8m-0.7 -2h0.8m-0.7 -6.9h0.8m-0.7 7.4h0.8m-0.5 1.6h0.8m-0.8 -13.7h0.8m-0.7 12h0.8m-0.8 -7h0.8m-0.8 5.9h0.8m-0.8 4.4h0.8m-0.4 -1.8h0.8m-0.8 -0.3h0.8m-0.7 -3.2h0.8m-0.7 -7.3h0.8m-0.7 12.5h0.8m-0.4 -4.4h0.8m-0.7 -8.6h0.8m-0.8 19h0.8m-0.7 -6.2h0.8m-0.8 -1.2h0.8m-0.6 -3.4h0.8m-0.8 7.5h0.8m-0.7 -4.9h0.8m-0.7 -3.4h0.8m-0.7 4.6h0.8m-0.7 5.6h0.8m-0.6 -5h0.8m-0.8 -10.9h0.8m-0.6 10.7h0.8m-0.5 -3.6h0.8m-0.7 6.5h0.8m-0.6 -7.7h0.8m-0.8 4.7h0.8m-0.6 -2h0.8m-0.7 -4.1h0.8m-0.5 6.2h0.8m-0.6 -0.9h0.8m-0.7 -0.9h0.8m-0.7 0.4h0.8m-0.5 4.2h0.8m-0.8 -5.3h0.8m-0.6 3h0.8m-0.6 -6.9h0.8m-0.8 7h0.8m-0.7 -2.7h0.8m-0.7 9h0.8m-0.7 -3.5h0.8m-0.8 2.1h0.8m-0.8 -6.9h0.8m-0.8 1.7h0.8m-0.6 -11.1h0.8m-0.6 17h0.8m-0.5 -0.6h0.8m-0.7 -8.4h0.8m-0.8 -1.2h0.8m-0.8 1.5h0.8m-0.6 -5.5h0.8m-0.7 10.5h0.8m-0.8 -2.2h0.8m-0.7 3.1h0.8m-0.7 12.6h0.8m-0.8 -11h0.8m-0.4 -2.3h0.8m-0.8 -6.9h0.8m-0.7 16.8h0.8m-0.7 -11h0.8m-0.8 3.5h0.8m-0.7 -11.1h0.8m-0.7 2.5h0.8m-0.8 4.4h0.8m-0.8 -1.9h0.8m-0.7 0.5h0.8m-0.8 4.9h0.8m-0.7 -7.1h0.8m-0.7 -4.9h0.8m-0.8 9.4h0.8m-0.7 -8.1h0.8m-0.8 4.4h0.8m-0.6 7.3h0.8m-0.1 -7.7h0.8m-0.8 2.1h0.8m-0.8 3.8h0.8m-0.8 -4.6h0.8m-0.8 3h0.8m-0.5 -2.3h0.8m-0.8 -0.6h0.8m-0.7 -1.4h0.8m-0.6 -3.3h0.8m-0.5 7.4h0.8m-0.6 4h0.8m-0.8 -13.6h0.8m-0.2 5.6h0.8m-0.7 -0.7h0.8m-0.7 -3.1h0.8m-0.3 7.2h0.8m-0.7 -0.6h0.8m-0.7 1.2h0.8m-0.8 -2.6h0.8m-0.7 -3.8h0.8m-0.8 -0.1h0.8m-0.5 5.2h0.8m-0.7 1.3h0.8m-0.6 -1.3h0.8m-0.7 -2.8h0.8m-0.6 2.4h0.8m0.2 6.1h0.8m-0.7 2.1h0.8m-0.8 -9h0.8m-0.7 2.9h0.8m-0.3 -3.6h0.8m-0.8 2.3h0.8m-0.6 -1.1h0.8m-0.8 -0.6h0.8m-0.7 3.1h0.8m-0.7 -2.1h0.8m-0.7 -0.5h0.8m-0.7 -3.8h0.8m-0.5 3.5h0.8m-0.7 -1.3h0.8m-0.7 -2.7h0.8m-0.8 8.9h0.8m-0.6 -6.7h0.8m-0.8 1.1h0.8m-0.8 16.1h0.8m-0.8 -20.7h0.8m-0.6 -3.8h0.8m-0.7 8.1h0.8m-0.8 -4.3h0.8m-0.8 10h0.8m-0.8 -6.7h0.8m-0.7 1.6h0.8m-0.8 4.4h0.8m-0.5 -4.4h0.8m-0.7 1.4h0.8m-0.8 -5.8h0.8m-0.8 12.5h0.8m-0.6 -8.6h0.8m-0.8 -2h0.8m-0.6 -1.4h0.8m-0.8 -4.5h0.8m-0.7 8.7h0.8m-0.8 -7.2h0.8m-0.6 4.7h0.8m-0.6 1.1h0.8m-0.8 1.4h0.8m-0.7 -0.6h0.8m-0.8 -2h0.8m-0.8 2.8h0.8m-0.8 -5.6h0.8m-0.7 5.3h0.8m-0.8 2.5h0.8m-0.8 5.6h0.8m-0.8 -5h0.8m-0.7 -9.3h0.8m-0.6 4.7h0.8m-0.6 -5.2h0.8m-0.7 1.3h0.8m-0.8 11.7h0.8m-0.6 -3.6h0.8m-0.7 -17.9h0.8m-0.7 14h0.8m-0.7 4.2h0.8m-0.6 -9.4h0.8m-0.8 5.5h0.8m-0.8 -1.4h0.8m-0.7 -8.8h0.8m-0.6 13.9h0.8m-0.8 -3.3h0.8m-0.6 0.5h0.8m-0.7 -6.8h0.8m-0.7 7h0.8m-0.4 4.6h0.8m-0.7 -4.7h0.8m-0.8 -8.9h0.8m-0.6 7.8h0.8m-0.8 3.6h0.8m-0.5 -7.3h0.8m-0.6 4h0.8m-0.7 -0.7h0.8m-0.5 0.3h0.8m-0.7 1.7h0.8m-0.7 -1.1h0.8m-0.8 -5.3h0.8m-0.6 5.1h0.8m-0.6 -0.5h0.8m-0.8 -3.7h0.8m-0.8 6.6h0.8m-0.5 -7.5h0.8m-0.7 13.3h0.8m-0.8 -6.2h0.8m-0.7 -8.5h0.8m-0.8 7.8h0.8m-0.5 -4h0.8m-0.7 8.9h0.8m-0.8 -2h0.8m-0.7 1.4h0.8m-0.7 -8.1h0.8m-0.6 5.1h0.8m-0.7 1.2h0.8m-0.8 -4.6h0.8m-0.7 3.5h0.8m-0.8 1h0.8m-0.6 -14h0.8m-0.8 3.7h0.8m-0.4 -1.3h0.8m-0.7 5.1h0.8m-0.8 -8h0.8m-0.8 10.9h0.8m-0.8 -9.1h0.8m-0.4 7.4h0.8m-0.5 -5h0.8m-0.8 0.2h0.8m-0.7 6.3h0.8m-0.7 -7.8h0.8m-0.7 2.1h0.8m-0.7 3.2h0.8m-0.7 1.9h0.8m-0.7 12.8h0.8m-0.8 -17.1h0.8m-0.7 -7.4h0.8m-0.5 1.6h0.8m-0.8 7.1h0.8m-0.6 -4.8h0.8m-0.6 -4h0.8m-0.7 3.3h0.8m-0.6 5h0.8m-0.7 3.9h0.8m-0.7 -4.7h0.8m-0.4 -1.7h0.8m-0.8 -1.3h0.8m-0.7 7h0.8m-0.8 -6.6h0.8m-0.6 -4.7h0.8m-0.8 1.3h0.8m-0.6 5.8h0.8m-0.5 -5h0.8m-0.6 7.4h0.8m-0.7 -4.9h0.8m-0.8 -1.2h0.8m-0.7 5.2h0.8m-0.7 -3.9h0.8m-0.8 -2.8h0.8m-0.8 4.4h0.8m-0.4 0.7h0.8m-0.7 2.3h0.8m-0.7 -3.9h0.8m-0.7 -0.4h0.8m-0.7 8.5h0.8m-0.6 -8h0.8m-0.5 -5.5h0.8m-0.8 2.9h0.8m-0.7 4.3h0.8m-0.7 -10h0.8m-0.8 19.4h0.8m-0.8 -12.9h0.8m-0.6 7.5h0.8m-0.8 -9.5h0.8m-0.7 1.6h0.8m-0.8 -3.8h0.8m-0.5 7.4h0.8m-0.8 -2.2h0.8m-0.7 3.6h0.8m-0.8 3.9h0.8m-0.8 -7.8h0.8m-0.8 12.6h0.8m-0.6 -17.4h0.8m-0.7 9.9h0.8m-0.8 1.2h0.8m-0.6 -7.4h0.8m-0.7 11.1h0.8m-0.8 -13.5h0.8m-0.7 2.8h0.8m-0.5 8.7h0.8" stroke="#b0b0b0" stroke-width="0.8" fill="none"/>
<path d="M470.6 64.1V98.8M485.4 64.1V98.8M500.9 64.1V98.8M513.8 64.1V98.8M525.5 64.1V98.8M537.5 64.1V98.8M548.8 64.1V98.8M559.5 64.1V98.8M568.2 64.1V98.8M575.5 64.1V98.8M584.3 64.1V98.8M592.5 64.1V98.8M601.6 64.1V98.8M607.8 64.1V98.8M613.5 64.1V98.8M618.8 64.1V98.8M623.3 64.1V98.8M627.9 64.1V98.8M632.4 64.1V98.8M636.3 64.1V98.8M640.3 64.1V98.8M642.1 64.1V98.8M644.0 64.1V98.8M645.8 64.1V98.8M655.3 64.1V98.8" stroke="#222" stroke-width="0.85" stroke-dasharray="2 2.1" fill="none"/>
<line x1="463.5" y1="77.2" x2="662.5" y2="77.2" stroke="#40dae4" stroke-width="1.25" stroke-dasharray="4.2 3"/>
<line x1="463.5" y1="85.2" x2="662.5" y2="85.2" stroke="#40dae4" stroke-width="1.25" stroke-dasharray="4.2 3"/>
<path d="M470.6 81.4H478.3V73.4H485.3V81.4H496.1V85.6H498.0V81.4H526.7V77.2H537.8V85.6H549.2V77.2H559.3V75.3H560.6V77.0H568.2V81.0H575.5V77.0H584.3V81.0H601.6V85.3H608.4V81.0H648.1V75.2H655.8" stroke="#1a1a1a" stroke-width="1.3" fill="none"/>
<rect x="463.5" y="64.1" width="199" height="34.7" fill="none" stroke="#8a8a8a" stroke-width="0.9"/>
<line x1="470.6" y1="98.8" x2="470.6" y2="101.4" stroke="#555" stroke-width="0.8" />
<line x1="501.15" y1="98.8" x2="501.15" y2="101.4" stroke="#555" stroke-width="0.8" />
<line x1="531.7" y1="98.8" x2="531.7" y2="101.4" stroke="#555" stroke-width="0.8" />
<line x1="562.25" y1="98.8" x2="562.25" y2="101.4" stroke="#555" stroke-width="0.8" />
<line x1="592.8" y1="98.8" x2="592.8" y2="101.4" stroke="#555" stroke-width="0.8" />
<line x1="623.35" y1="98.8" x2="623.35" y2="101.4" stroke="#555" stroke-width="0.8" />
<line x1="653.9" y1="98.8" x2="653.9" y2="101.4" stroke="#555" stroke-width="0.8" />
<path d="M439.3 139.3L452.3 80.5H463.5" stroke="#151a28" stroke-width="1.3" fill="none"/>
<rect x="470.6" y="118.7" width="6.9" height="11.5" fill="#c8c8c8" opacity="0.38"/>
<rect x="477.5" y="114.1" width="7.7" height="11.5" fill="#c8c8c8" opacity="0.38"/>
<rect x="485.2" y="118.7" width="15.6" height="11.5" fill="#c8c8c8" opacity="0.38"/>
<rect x="500.8" y="129.6" width="4.8" height="11.5" fill="#c8c8c8" opacity="0.38"/>
<rect x="505.6" y="118.7" width="8" height="11.5" fill="#c8c8c8" opacity="0.38"/>
<rect x="513.6" y="116" width="5.6" height="11.5" fill="#c8c8c8" opacity="0.38"/>
<rect x="519.2" y="129.6" width="5.7" height="11.5" fill="#c8c8c8" opacity="0.38"/>
<rect x="524.9" y="116" width="12.8" height="11.5" fill="#c8c8c8" opacity="0.38"/>
<rect x="537.7" y="118.7" width="11.3" height="11.5" fill="#c8c8c8" opacity="0.38"/>
<rect x="549" y="114.1" width="19.6" height="11.5" fill="#c8c8c8" opacity="0.38"/>
<rect x="568.6" y="129.2" width="1.7" height="11.5" fill="#c8c8c8" opacity="0.38"/>
<rect x="570.3" y="116" width="2.4" height="11.5" fill="#c8c8c8" opacity="0.38"/>
<rect x="572.7" y="129.2" width="2.4" height="11.5" fill="#c8c8c8" opacity="0.38"/>
<rect x="575.1" y="114.1" width="9.3" height="11.5" fill="#c8c8c8" opacity="0.38"/>
<rect x="584.4" y="118.7" width="14.8" height="11.5" fill="#c8c8c8" opacity="0.38"/>
<rect x="599.2" y="129.2" width="2.4" height="11.5" fill="#c8c8c8" opacity="0.38"/>
<rect x="601.6" y="118.7" width="5.6" height="11.5" fill="#c8c8c8" opacity="0.38"/>
<rect x="607.2" y="129.2" width="1.1" height="11.5" fill="#c8c8c8" opacity="0.38"/>
<rect x="608.3" y="118.7" width="10.6" height="11.5" fill="#c8c8c8" opacity="0.38"/>
<rect x="618.9" y="129.2" width="0.8" height="11.5" fill="#c8c8c8" opacity="0.38"/>
<rect x="619.7" y="116" width="1.6" height="11.5" fill="#c8c8c8" opacity="0.38"/>
<rect x="621.3" y="129.2" width="0.8" height="11.5" fill="#c8c8c8" opacity="0.38"/>
<rect x="622.1" y="118.7" width="19.6" height="11.5" fill="#c8c8c8" opacity="0.38"/>
<rect x="641.7" y="116" width="1.6" height="11.5" fill="#c8c8c8" opacity="0.38"/>
<rect x="643.3" y="129.2" width="4" height="11.5" fill="#c8c8c8" opacity="0.38"/>
<rect x="647.3" y="114.1" width="8.5" height="11.5" fill="#c8c8c8" opacity="0.38"/>
<path d="M470.7 124.0h0.8m-0.8 1.7h0.8m-0.6 0.3h0.8m-0.7 -12.6h0.8m-0.8 14.7h0.8m-0.6 -6.7h0.8m-0.8 -2.9h0.8m-0.6 -0.1h0.8m-0.6 -3h0.8m-0.5 9.7h0.8m-0.7 -4.4h0.8m-0.7 14.3h0.8m-0.8 1.1h0.8m-0.8 -11.5h0.8m-0.7 3.6h0.8m-0.7 -12.7h0.8m-0.7 -0.4h0.8m-0.8 9.6h0.8m-0.5 2.6h0.8m-0.7 -5.5h0.8m-0.7 11.2h0.8m-0.6 -11.6h0.8m-0.5 2.8h0.8m-0.8 -7.6h0.8m-0.7 1.5h0.8m-0.8 13.2h0.8m-0.7 -6.2h0.8m-0.8 -12.1h0.8m-0.8 28.4h0.8m-0.7 -18.9h0.8m-0.4 12.9h0.8m-0.7 -15.5h0.8m-0.7 17.5h0.8m-0.8 -14h0.8m-0.8 7.9h0.8m-0.8 8.1h0.8m-0.8 -7.5h0.8m-0.4 -13h0.8m-0.7 -3.3h0.8m-0.8 -2.1h0.8m-0.8 7.5h0.8m-0.7 -2h0.8m-0.6 7.6h0.8m-0.7 -2.3h0.8m-0.8 -7.6h0.8m-0.7 11.2h0.8m-0.7 -1.7h0.8m-0.8 2.2h0.8m-0.8 -6.2h0.8m-0.5 -6h0.8m-0.7 9.2h0.8m-0.5 -9.1h0.8m-0.8 12.5h0.8m-0.5 -10h0.8m-0.6 18.3h0.8m-0.7 -26.5h0.8m-0.8 15.2h0.8m-0.6 3h0.8m-0.8 11.8h0.8m-0.7 -24.2h0.8m-0.7 9.7h0.8m-0.8 -3.3h0.8m-0.7 -0.5h0.8m-0.7 0.2h0.8m-0.8 -0.9h0.8m-0.8 -2.4h0.8m-0.7 9.7h0.8m-0.7 -18.8h0.8m-0.4 15.4h0.8m-0.8 -14.2h0.8m-0.7 10.9h0.8m-0.6 -9.8h0.8m-0.7 5.1h0.8m-0.3 9.5h0.8m-0.8 -8.2h0.8m-0.6 -0.4h0.8m-0.7 7.5h0.8m-0.7 0.3h0.8m-0.7 -3.7h0.8m-0.8 -6.2h0.8m-0.5 13.4h0.8m-0.7 -9.8h0.8m-0.8 7.6h0.8m-0.7 -12h0.8m-0.8 6.4h0.8m-0.8 2.9h0.8m-0.7 -6h0.8m-0.8 8.4h0.8m-0.7 -5.1h0.8m-0.8 -0.8h0.8m-0.7 -1.9h0.8m-0.7 16.5h0.8m-0.7 3.8h0.8m-0.7 -21.6h0.8m-0.8 -3.5h0.8m-0.6 7.5h0.8m-0.8 -0.8h0.8m-0.7 -1.2h0.8m-0.5 -6.9h0.8m-0.7 -3.1h0.8m-0.7 10.6h0.8m-0.3 6.6h0.8m-0.8 -9.3h0.8m-0.8 -4h0.8m-0.7 13.3h0.8m-0.5 2.7h0.8m-0.5 -12.3h0.8m-0.7 -0.3h0.8m-0.8 16.4h0.8m-0.8 2.2h0.8m-0.7 -12.2h0.8m-0.7 1.7h0.8m-0.8 -5.4h0.8m-0.7 -10.1h0.8m-0.6 26.1h0.8m-0.8 -13.7h0.8m-0.7 -8.9h0.8m-0.8 4h0.8m-0.8 5.2h0.8m-0.8 7.4h0.8m-0.6 -11.8h0.8m-0.7 -0.8h0.8m-0.4 -1h0.8m-0.7 5.1h0.8m-0.8 5.5h0.8m-0.8 -7h0.8m-0.7 2.3h0.8m-0.7 -6.2h0.8m-0.7 2.4h0.8m-0.6 9.5h0.8m-0.8 -17.9h0.8m-0.6 9.7h0.8m-0.7 -2.2h0.8m-0.8 14.4h0.8m-0.8 1.1h0.8m-0.8 -13.8h0.8m-0.7 3h0.8m-0.6 -4.5h0.8m-0.8 4.2h0.8m-0.6 -5.9h0.8m-0.6 11.2h0.8m-0.7 -4.6h0.8m-0.7 6.6h0.8m-0.5 -5.7h0.8m-0.8 -0.3h0.8m-0.8 5.9h0.8m-0.6 -4.8h0.8m-0.4 -1.7h0.8m-0.8 -1.9h0.8m-0.5 -2.1h0.8m-0.8 -3.3h0.8m-0.7 -0.7h0.8m-0.7 -2.7h0.8m-0.5 1.1h0.8m-0.8 8.7h0.8m-0.7 3h0.8m-0.8 2.8h0.8m-0.7 -14.8h0.8m-0.7 21.1h0.8m-0.6 -5.3h0.8m-0.7 -4.6h0.8m-0.7 -0.4h0.8m-0.7 7.6h0.8m-0.5 7.3h0.8m-0.8 -16.2h0.8m-0.5 0.4h0.8m-0.8 -4.1h0.8m-0.8 7.9h0.8m-0.7 -5.3h0.8m-0.7 11.7h0.8m-0.7 -10.4h0.8m-0.8 -6.7h0.8m-0.7 2.5h0.8m-0.8 12.7h0.8m-0.7 -18.4h0.8m-0.7 22.3h0.8m-0.7 -5h0.8m-0.7 0.7h0.8m-0.7 -2.6h0.8m-0.7 -6.4h0.8m-0.8 2.7h0.8m-0.7 0.7h0.8m-0.8 -1.2h0.8m-0.7 3.5h0.8m-0.7 -1.8h0.8m-0.8 -3.4h0.8m-0.6 4.2h0.8m-0.5 11.3h0.8m-0.8 -14.1h0.8m-0.7 -0.1h0.8m-0.7 2.2h0.8m-0.5 -5h0.8m-0.8 6.4h0.8m-0.8 8h0.8m-0.4 -11.2h0.8m-0.8 -1.4h0.8m-0.7 6.3h0.8m-0.8 1.7h0.8m-0.7 -1.7h0.8m-0.8 -3.4h0.8m-0.8 3h0.8m-0.8 -4.4h0.8m-0.7 -7.5h0.8m-0.8 13.1h0.8m-0.8 -11.8h0.8m-0.8 0h0.8m-0.6 10.5h0.8m-0.7 -5.8h0.8m-0.8 -5.2h0.8m-0.8 4.1h0.8m-0.8 -1h0.8m-0.5 12.1h0.8m-0.7 -10.9h0.8m-0.7 6.5h0.8m-0.7 1.9h0.8m-0.7 -1.5h0.8m-0.7 -4.7h0.8m-0.4 -2h0.8m-0.7 4.4h0.8m-0.7 -7.3h0.8m-0.7 9.6h0.8m-0.8 -12.2h0.8m-0.4 17.9h0.8m-0.5 -11.5h0.8m-0.6 13.6h0.8m-0.8 -7.1h0.8m-0.8 -12.1h0.8m-0.8 7.4h0.8m-0.7 2.5h0.8m-0.8 0.3h0.8m-0.8 7.3h0.8m-0.7 -15.9h0.8m-0.8 -3h0.8m-0.7 -3.6h0.8m-0.7 4.8h0.8m-0.8 9.1h0.8m-0.7 1.5h0.8m-0.8 -15.3h0.8m-0.8 13.7h0.8m-0.7 -0.6h0.8m-0.7 -1h0.8m-0.7 1.5h0.8m-0.7 4.4h0.8m-0.7 -4.2h0.8m-0.7 -3.1h0.8m-0.7 2.9h0.8m-0.7 13.2h0.8m-0.5 -16.6h0.8m-0.7 11.8h0.8m-0.7 -15.7h0.8m-0.8 15.1h0.8m-0.7 -9.2h0.8m-0.7 2.5h0.8m-0.7 -3.4h0.8m-0.6 -8.7h0.8m-0.8 20.9h0.8m-0.7 -10.7h0.8m-0.6 16.4h0.8m-0.8 -25.2h0.8m-0.6 2.9h0.8m-0.8 6.5h0.8m-0.7 -14.5h0.8m-0.8 19.8h0.8m-0.6 -4.1h0.8m-0.8 -4.8h0.8m-0.5 -6.1h0.8m-0.8 6.1h0.8m-0.7 4.1h0.8m-0.5 -4h0.8m-0.7 1.2h0.8m-0.4 2.3h0.8m-0.8 -8.4h0.8m-0.6 11.1h0.8m-0.7 -4.2h0.8m-0.7 -3.9h0.8m-0.8 10.2h0.8m-0.8 -9.4h0.8m-0.7 -1.1h0.8m-0.7 -0.4h0.8m-0.8 10.9h0.8m-0.6 -14.7h0.8m-0.8 4.8h0.8m-0.7 6.1h0.8m-0.7 -3.3h0.8m-0.8 6.4h0.8m-0.6 -7.3h0.8m-0.6 -1.4h0.8m-0.7 13h0.8m-0.7 -0.8h0.8m-0.8 -4.3h0.8m-0.7 -5.4h0.8m-0.6 11.5h0.8m-0.8 -6h0.8m-0.7 -2.1h0.8m-0.7 8.7h0.8m-0.8 -4.4h0.8m-0.7 9.2h0.8m-0.7 -22.4h0.8m-0.8 10.5h0.8m-0.7 8.5h0.8m-0.6 -5.8h0.8m-0.6 -9.3h0.8m-0.7 2.7h0.8m-0.6 7.1h0.8m-0.8 2.7h0.8m-0.7 -2.3h0.8m-0.7 6h0.8m-0.6 -0.8h0.8m-0.6 3.5h0.8m-0.7 -12.5h0.8m-0.7 2h0.8m-0.6 6.6h0.8m-0.8 -6h0.8m-0.5 2.5h0.8m-0.7 7.7h0.8m-0.7 -7h0.8m-0.6 1.1h0.8m-0.8 -3.1h0.8m-0.7 -9.7h0.8m-0.6 -4.2h0.8m-0.8 9.5h0.8m-0.8 -15h0.8m-0.8 24.7h0.8m-0.8 -1.6h0.8m-0.7 -7.4h0.8m-0.8 8.2h0.8m-0.7 -0.5h0.8m-0.7 -8.2h0.8m-0.8 11.1h0.8m-0.7 0.1h0.8m-0.7 -11.9h0.8m-0.7 14.1h0.8m-0.6 -8.7h0.8m-0.7 6.3h0.8m-0.7 1.1h0.8m-0.5 -13.6h0.8m-0.8 8.8h0.8m-0.6 2.3h0.8m-0.7 -1.5h0.8m-0.7 3.1h0.8m-0.8 -15.1h0.8m-0.6 4.9h0.8m-0.6 -9.2h0.8m-0.7 -0.4h0.8m-0.6 12.9h0.8m-0.7 -15.7h0.8m-0.8 -1.2h0.8m-0.7 2h0.8m-0.7 -8h0.8m-0.8 11.6h0.8m-0.6 -3.1h0.8m-0.8 5.4h0.8m-0.7 2.9h0.8m-0.8 -2.6h0.8m-0.8 -1.5h0.8m-0.7 0.9h0.8m-0.7 3.5h0.8m-0.7 -4.7h0.8m-0.7 -1.6h0.8m-0.6 -4.8h0.8m-0.7 9.1h0.8m-0.8 -11.3h0.8m-0.7 -0.4h0.8m-0.7 8.5h0.8m-0.8 -1.2h0.8m-0.7 -4.7h0.8m-0.7 0.9h0.8m-0.6 10h0.8m-0.7 6.1h0.8m-0.7 -2h0.8m-0.8 -1.7h0.8m-0.7 -3.2h0.8m-0.7 -15.9h0.8m-0.8 2.4h0.8m-0.7 13.8h0.8m-0.8 -3.5h0.8m-0.8 16.9h0.8m-0.7 -9.1h0.8m-0.7 9.3h0.8m-0.7 -11.9h0.8m-0.8 -0.1h0.8m-0.7 -9.1h0.8m-0.7 7.8h0.8m-0.4 -5.5h0.8m-0.7 -3.9h0.8m-0.3 11h0.8m-0.7 0.9h0.8m-0.8 -7.7h0.8m-0.8 17.4h0.8m-0.7 -21.1h0.8m-0.6 9.6h0.8m-0.7 -10.8h0.8m-0.7 12.8h0.8m-0.7 4.6h0.8m-0.8 -13.7h0.8m-0.6 3.2h0.8m-0.8 8.3h0.8m-0.5 -4.9h0.8m-0.5 -0.3h0.8m-0.8 -2.3h0.8m-0.6 -9.8h0.8m-0.5 20.6h0.8m-0.8 5.4h0.8m-0.8 -24.3h0.8m-0.8 1.9h0.8m-0.7 8.8h0.8m-0.8 -3.7h0.8m-0.5 -3.7h0.8m-0.8 -7.7h0.8m-0.8 15.4h0.8m-0.7 6.2h0.8m-0.7 -19.9h0.8m-0.7 26.7h0.8m-0.6 -12.5h0.8m-0.8 -5.6h0.8m-0.7 1.2h0.8m-0.8 17.3h0.8m-0.7 -5.8h0.8m-0.7 -6.7h0.8m-0.7 -5.9h0.8m-0.8 6.6h0.8m-0.6 -11.7h0.8m-0.7 0.3h0.8m-0.8 -3.7h0.8m-0.4 13.9h0.8m-0.7 -11.6h0.8m-0.3 17.1h0.8m-0.8 -10h0.8m-0.7 2.1h0.8m-0.8 9.7h0.8m-0.7 -20.3h0.8m-0.8 9.6h0.8m-0.8 1.9h0.8m-0.7 -8.5h0.8m-0.7 -0.1h0.8m-0.7 5.8h0.8m-0.7 18.1h0.8m-0.7 -14.1h0.8m-0.8 -4.7h0.8m-0.7 -9.7h0.8m-0.8 8.3h0.8m-0.7 -4.8h0.8m-0.7 7.1h0.8m-0.7 -9h0.8m-0.7 5.5h0.8m-0.7 -10.2h0.8m-0.6 8.4h0.8m-0.6 6.5h0.8m-0.7 -5.9h0.8m-0.7 11.7h0.8m-0.7 -5.1h0.8m-0.8 8.5h0.8m-0.8 -5.6h0.8m-0.8 -2.6h0.8m-0.7 -1.4h0.8m-0.8 6.8h0.8m-0.7 -9h0.8m-0.5 -8.4h0.8m-0.7 14.8h0.8m-0.6 -10h0.8m-0.7 6.2h0.8m-0.8 -0.7h0.8m-0.8 1.3h0.8m-0.7 7.2h0.8m-0.7 -12.3h0.8m-0.7 7.4h0.8m-0.6 -7.6h0.8m-0.8 -9.7h0.8m-0.7 4.4h0.8m-0.8 13.4h0.8m-0.7 -13.7h0.8m-0.8 10.1h0.8m-0.7 1.5h0.8m-0.8 0.2h0.8m-0.4 7.2h0.8m-0.7 -16.8h0.8m-0.5 18.3h0.8m-0.8 -1.3h0.8m-0.8 -1.7h0.8m-0.6 2.2h0.8m-0.6 0.3h0.8m-0.8 -0.9h0.8m-0.7 1.8h0.8m-0.8 4.6h0.8m-0.6 -9.6h0.8m-0.8 1.1h0.8m-0.5 -1.4h0.8m-0.7 3.5h0.8m-0.8 -6.3h0.8m-0.6 5.6h0.8m-0.7 -10h0.8m-0.7 17.3h0.8m-0.7 -9.4h0.8m-0.8 0.2h0.8m-0.8 11.4h0.8m-0.8 -2.6h0.8m-0.7 -5.6h0.8m-0.5 -12.3h0.8m-0.8 12.7h0.8m-0.7 -4.9h0.8m-0.8 -0.6h0.8m-0.8 10.6h0.8m-0.8 -9.6h0.8m-0.8 -1.8h0.8m-0.8 0.3h0.8m-0.6 -12.6h0.8m-0.5 23.2h0.8m-0.5 -3.6h0.8m-0.6 -8.4h0.8m-0.5 8.8h0.8m-0.6 -15.8h0.8m-0.8 8.4h0.8m-0.6 7.9h0.8m-0.7 -1.1h0.8m-0.6 -1.4h0.8m-0.7 -6.4h0.8m-0.8 -16.8h0.8m-0.7 22.8h0.8m-0.8 5.4h0.8m-0.5 -14h0.8m-0.8 12h0.8m-0.6 3.5h0.8m-0.7 1.8h0.8m-0.5 -15.4h0.8m-0.6 7.8h0.8m-0.7 6.3h0.8m-0.7 -16.4h0.8m-0.7 -7.9h0.8m-0.8 10h0.8m-0.8 8.1h0.8m-0.6 -8.5h0.8m-0.8 -8.4h0.8m-0.8 3.9h0.8m-0.8 9h0.8m-0.7 0.7h0.8m-0.7 -7.6h0.8m-0.7 2.3h0.8m-0.6 -3.2h0.8m-0.8 5.9h0.8m-0.6 -12.8h0.8m-0.7 -1.3h0.8m-0.7 6.7h0.8m-0.8 18.5h0.8m-0.8 -3.9h0.8m-0.7 -4.4h0.8m-0.8 -2.9h0.8m-0.5 0.2h0.8m-0.5 -9h0.8m-0.4 21.5h0.8m-0.6 -20h0.8m-0.7 20.8h0.8m-0.8 -2.5h0.8m-0.7 -14.6h0.8m-0.7 -7.5h0.8m-0.7 -1.9h0.8m-0.8 12.4h0.8m-0.7 -15.9h0.8m-0.8 4.1h0.8m-0.6 5.1h0.8m-0.7 12.1h0.8m-0.8 -10.5h0.8m-0.7 -2.4h0.8m-0.8 -7h0.8m-0.7 3.2h0.8m-0.8 -1.2h0.8m-0.6 12.1h0.8m-0.7 1.9h0.8m-0.8 -2.3h0.8m-0.4 -5h0.8m-0.8 6.2h0.8m-0.7 -6.2h0.8m-0.6 4.6h0.8m-0.7 -11.5h0.8m-0.7 8.1h0.8m-0.6 -1.6h0.8m-0.6 15.9h0.8m-0.6 -12.6h0.8m-0.7 -8.1h0.8m-0.6 -0.9h0.8m-0.7 6.6h0.8m-0.5 -0.8h0.8m-0.6 -9.1h0.8m-0.8 12.4h0.8m-0.6 -0.3h0.8m-0.7 -8.5h0.8m-0.8 -0.2h0.8m-0.8 1h0.8m-0.8 8.5h0.8m-0.5 0.5h0.8m-0.8 -4.6h0.8m-0.7 7.3h0.8m-0.8 -7.8h0.8m-0.8 0.9h0.8m-0.7 8.3h0.8m-0.8 -4.4h0.8m-0.6 -1.4h0.8m-0.6 -10.7h0.8m-0.7 5.3h0.8m-0.8 -3.8h0.8m-0.6 11.3h0.8m-0.6 -4h0.8m-0.5 1.7h0.8m-0.7 -13.2h0.8m-0.7 13.2h0.8m-0.7 2.8h0.8m-0.7 -8.4h0.8m-0.7 -0.5h0.8m-0.8 3.6h0.8m-0.6 2.7h0.8m-0.8 -4.6h0.8m-0.7 -2.6h0.8m-0.8 6.3h0.8m-0.4 15.5h0.8m-0.7 -13.3h0.8m-0.8 -4.5h0.8m-0.7 2.2h0.8m-0.8 1.1h0.8m-0.8 -8h0.8m-0.7 16.1h0.8m-0.8 -11.5h0.8m-0.6 5.7h0.8m-0.7 -2.5h0.8m-0.8 6.2h0.8m-0.6 -11.7h0.8m-0.8 -5.1h0.8m-0.8 0.2h0.8m-0.6 15.3h0.8m-0.7 5.1h0.8m-0.8 -8.9h0.8m-0.8 5h0.8m-0.8 -7.6h0.8m-0.5 3.7h0.8m-0.6 -9.1h0.8m-0.7 6h0.8m-0.8 -2.7h0.8m-0.7 20.4h0.8m-0.7 -13.9h0.8m-0.6 -12.6h0.8m-0.8 4.5h0.8m-0.3 -5.4h0.8m-0.7 3.7h0.8m-0.7 0h0.8m-0.8 8.1h0.8m-0.7 0.2h0.8m-0.8 -7.8h0.8m-0.7 15.6h0.8m-0.7 -4.9h0.8m-0.8 -6.4h0.8m-0.7 1.5h0.8m-0.8 -0.7h0.8m-0.6 -7.2h0.8m-0.8 7.2h0.8m-0.7 15.9h0.8m-0.7 -22.5h0.8m-0.6 19.4h0.8m-0.8 -1.5h0.8m-0.7 0.6h0.8m-0.8 -9.3h0.8m-0.8 -13.9h0.8m-0.7 12.5h0.8m-0.8 4.1h0.8m-0.7 -0.3h0.8m-0.7 -1h0.8m-0.6 11.5h0.8m-0.8 -18.2h0.8m-0.6 3.8h0.8m-0.8 -11.5h0.8m-0.7 12.4h0.8m-0.8 -1.6h0.8m-0.7 4.2h0.8m-0.7 -2.3h0.8m-0.8 -3.6h0.8m-0.8 -2.6h0.8m-0.7 -8.5h0.8m-0.6 13.2h0.8m-0.8 3.1h0.8m-0.5 -5.6h0.8m-0.8 9.7h0.8m-0.6 -4.6h0.8m-0.7 9.7h0.8m-0.8 -4.7h0.8m-0.8 -8.9h0.8m-0.7 -2.3h0.8m-0.8 0.2h0.8m-0.7 15.9h0.8m-0.8 -9.9h0.8m-0.7 -13.2h0.8m-0.6 13.6h0.8m-0.8 -8.8h0.8m-0.8 6.2h0.8m-0.7 5.3h0.8m-0.8 0h0.8m-0.8 -4.7h0.8m-0.7 -11.3h0.8m-0.6 5.4h0.8m-0.7 0.5h0.8m-0.7 5.4h0.8m-0.6 1h0.8m-0.8 4.7h0.8m-0.7 -10.1h0.8m-0.6 8.8h0.8m-0.7 2.5h0.8m-0.8 -13.7h0.8m-0.8 4.2h0.8m-0.7 -0.1h0.8m-0.8 3.4h0.8m-0.6 0.9h0.8m-0.6 -4.8h0.8m-0.8 6.2h0.8m-0.6 -11.5h0.8m-0.8 15.5h0.8m-0.7 -3h0.8m-0.5 4.2h0.8m-0.7 -5.7h0.8m-0.7 1.6h0.8m-0.6 -8.4h0.8m-0.7 15.2h0.8m-0.8 -12.5h0.8m-0.6 -0.4h0.8m-0.7 9.8h0.8m-0.8 -6.9h0.8m-0.7 11.6h0.8m-0.8 -11.6h0.8m-0.7 4h0.8m-0.8 -1.1h0.8m-0.7 -1.2h0.8m-0.7 -8.1h0.8m-0.7 1.4h0.8m-0.7 12h0.8m-0.6 -6.7h0.8m-0.7 -6.3h0.8m-0.8 -1.7h0.8m-0.7 8.8h0.8m-0.8 -4.1h0.8m-0.7 0.3h0.8m-0.7 15.9h0.8m-0.7 0.4h0.8m-0.8 -17.5h0.8m-0.3 1.2h0.8m-0.8 16.1h0.8m-0.8 -6.8h0.8m-0.2 -7.6h0.8m-0.5 -0.1h0.8m-0.7 7.8h0.8m-0.8 -6.9h0.8m-0.5 0.1h0.8m-0.8 -9.5h0.8m-0.5 8.8h0.8m-0.7 -6.7h0.8m-0.7 12.1h0.8m-0.7 -2.3h0.8m-0.8 -17.4h0.8m-0.7 1.6h0.8m-0.5 21h0.8m-0.7 -6.5h0.8m-0.7 -8.7h0.8m-0.7 1.6h0.8m-0.4 0.1h0.8m-0.8 3h0.8m-0.7 3.4h0.8m-0.6 2.4h0.8m-0.7 3.2h0.8m-0.7 -6.6h0.8m-0.8 -3.5h0.8m-0.6 6.6h0.8m-0.8 -13.9h0.8m-0.4 6.5h0.8m-0.8 -10.3h0.8m-0.7 18.3h0.8m-0.8 2.3h0.8m-0.7 -16.7h0.8m-0.7 5.2h0.8m-0.7 -7.5h0.8m-0.7 5.3h0.8m-0.7 8.9h0.8m-0.8 -2h0.8m-0.7 3.3h0.8m-0.8 -6.6h0.8m-0.8 4.1h0.8m-0.7 -6h0.8m-0.8 7.5h0.8m-0.6 -1.1h0.8m-0.8 -6.1h0.8m-0.7 5.4h0.8m-0.8 -13.8h0.8m-0.4 21.1h0.8m-0.7 -8.7h0.8m-0.7 -0.9h0.8m-0.8 1.9h0.8m-0.8 5.5h0.8m-0.7 -3.3h0.8m-0.7 2.9h0.8m-0.7 -10.3h0.8m-0.7 7h0.8m-0.8 -4.4h0.8m-0.7 -0.2h0.8m-0.7 -7.6h0.8m-0.3 24h0.8m-0.6 -21.4h0.8m-0.5 10.3h0.8m-0.7 1.5h0.8m-0.6 1h0.8m-0.5 -17.8h0.8m-0.7 2.6h0.8m-0.5 13.6h0.8m-0.7 -7.6h0.8m-0.8 -0.4h0.8m-0.7 1h0.8m-0.8 4.2h0.8m-0.3 -4.1h0.8m-0.7 -4.8h0.8m-0.4 -3.3h0.8m-0.8 13.5h0.8m-0.8 -6.5h0.8m-0.7 4.2h0.8m-0.8 -7.7h0.8m-0.7 4.6h0.8m-0.8 -5.9h0.8m-0.8 1h0.8m-0.7 -4.2h0.8m-0.7 13.6h0.8m-0.7 -1.8h0.8m-0.8 -3.7h0.8m-0.8 8.6h0.8m-0.6 -1.6h0.8m-0.8 -5.5h0.8m-0.5 -5h0.8m-0.8 -2h0.8m-0.8 1.3h0.8m-0.6 14.2h0.8m-0.8 -4.9h0.8m-0.4 1h0.8m-0.7 -14.4h0.8m-0.8 15.3h0.8m-0.7 -7.6h0.8m-0.8 -0.9h0.8m-0.8 -6.1h0.8m-0.7 5.4h0.8m-0.7 1.8h0.8m-0.7 -2.9h0.8m-0.8 8.9h0.8m-0.7 15.6h0.8m-0.7 -16.9h0.8m-0.7 -8.8h0.8m-0.7 -0.7h0.8m-0.8 8.2h0.8m-0.6 15.6h0.8m-0.6 -27.1h0.8m-0.8 3.6h0.8m-0.8 16.6h0.8m-0.8 -15.6h0.8m-0.8 20.2h0.8m-0.7 -13.2h0.8m-0.7 15h0.8m-0.8 -23.7h0.8m-0.7 7h0.8m-0.5 2.1h0.8m-0.8 0.2h0.8m-0.6 -7h0.8m-0.7 1.2h0.8m-0.4 4.4h0.8m-0.8 -4h0.8m-0.8 10.9h0.8m-0.8 -1.9h0.8m-0.7 -7.8h0.8m-0.8 -0.6h0.8m-0.7 3.9h0.8m-0.2 -5.2h0.8m-0.7 0.2h0.8m-0.8 8.3h0.8m-0.7 -1.5h0.8m-0.8 -3.8h0.8m-0.8 7.2h0.8m-0.7 -13.4h0.8m-0.5 14.3h0.8m-0.7 1.8h0.8m-0.6 -9.3h0.8m-0.7 -6.3h0.8m-0.8 4.7h0.8m-0.7 4.8h0.8m-0.7 -7.1h0.8m-0.7 -2.5h0.8m-0.8 2.8h0.8m-0.8 -7.3h0.8m-0.5 8.3h0.8m-0.8 7.5h0.8m-0.5 -11.1h0.8m-0.6 12.9h0.8m-0.7 -8.1h0.8m-0.8 -0.1h0.8m-0.6 -1.4h0.8m-0.7 0.3h0.8m-0.7 -7.1h0.8m-0.7 18.2h0.8m-0.7 -18.2h0.8m-0.7 2.9h0.8m-0.6 10h0.8m-0.7 13.1h0.8m-0.8 -13h0.8m-0.8 -0.6h0.8m-0.7 -11.9h0.8m-0.6 10.1h0.8m-0.8 -5.1h0.8m-0.6 7.4h0.8m-0.7 8h0.8m-0.5 -7.7h0.8m-0.8 13.4h0.8m-0.7 -25h0.8m-0.7 7.8h0.8m-0.7 -1.2h0.8m-0.7 1h0.8m-0.8 17.8h0.8m-0.5 -14.5h0.8m-0.8 3.4h0.8m-0.7 -10.6h0.8m-0.7 12.9h0.8m-0.8 -9.9h0.8m-0.7 2.7h0.8m-0.8 -3.6h0.8m-0.7 3.7h0.8m-0.8 6.3h0.8m-0.6 -16h0.8m-0.8 -3.2h0.8m-0.7 12.7h0.8m-0.7 -6.7h0.8m-0.8 4h0.8m-0.7 9.7h0.8m-0.8 -6.9h0.8m-0.7 -11.8h0.8m-0.8 1.1h0.8m-0.7 8.2h0.8m-0.7 2.2h0.8m-0.7 -7.4h0.8m-0.7 -1.9h0.8m-0.8 1.9h0.8m-0.8 9.8h0.8m-0.8 5.4h0.8m-0.5 -11.9h0.8m-0.5 -1.4h0.8m-0.7 -2.8h0.8m-0.8 0.3h0.8m-0.7 9.8h0.8m-0.8 -1.6h0.8m-0.7 -7.4h0.8m-0.8 9.6h0.8m-0.7 14.3h0.8m-0.7 -21.2h0.8m-0.7 1.7h0.8m-0.7 1.4h0.8m-0.6 -9.9h0.8m-0.6 29.8h0.8m-0.7 -26.1h0.8m-0.6 5.5h0.8m-0.7 -5.4h0.8m-0.7 2h0.8m-0.8 -0.6h0.8m-0.7 1.3h0.8m-0.7 16.5h0.8m-0.7 -18.7h0.8m-0.7 14h0.8m-0.7 -19.6h0.8m-0.8 20.2h0.8m-0.8 0.6h0.8m-0.7 -13.7h0.8m-0.7 10.2h0.8m-0.4 -11.4h0.8m-0.8 9.4h0.8m-0.7 10.2h0.8m-0.8 0.8h0.8m-0.6 -7.5h0.8m-0.8 -1.5h0.8m-0.5 5.1h0.8m-0.7 2.2h0.8m-0.7 0.3h0.8m-0.8 -23h0.8m-0.5 17.1h0.8m-0.7 -2.1h0.8m-0.8 -8.5h0.8m-0.7 -2.4h0.8m-0.6 13.3h0.8m-0.6 -12h0.8m-0.7 7.5h0.8m-0.6 -7.1h0.8m-0.8 2.2h0.8m-0.7 -3.1h0.8m-0.8 -1.1h0.8m-0.7 19.6h0.8m-0.7 -15.4h0.8m-0.8 0.1h0.8m-0.8 19h0.8m-0.7 -29h0.8m-0.3 17h0.8m-0.8 -7.8h0.8m-0.8 2.4h0.8m-0.6 0.8h0.8m-0.7 1.1h0.8m-0.8 -7.3h0.8m-0.8 16.8h0.8m-0.6 -1.1h0.8m-0.7 1.6h0.8m-0.7 0.8h0.8m-0.8 -20.8h0.8m-0.6 10h0.8m-0.5 -9.7h0.8m-0.6 10.9h0.8m-0.7 -6.7h0.8m-0.8 17.9h0.8m-0.7 2.2h0.8m-0.7 -5h0.8m-0.6 -4.1h0.8m-0.6 -10.3h0.8m-0.6 12.2h0.8m-0.5 -15.6h0.8m-0.8 15.1h0.8m-0.8 2h0.8m-0.8 8.3h0.8m-0.8 -2.5h0.8m-0.7 -18.7h0.8m-0.7 -0.8h0.8m-0.6 -6h0.8m-0.7 14.5h0.8m-0.8 -5.9h0.8m-0.8 -1.9h0.8m-0.7 -7.4h0.8m-0.7 14.7h0.8m-0.8 -2.6h0.8m-0.8 5.6h0.8m-0.7 -6.3h0.8m-0.7 2.4h0.8m-0.4 4.5h0.8m-0.7 -9.1h0.8m-0.8 -11h0.8m-0.8 22.3h0.8m-0.7 1h0.8m-0.7 -17.9h0.8m-0.8 9.4h0.8m-0.8 -3h0.8m-0.5 -3h0.8m-0.5 -0.5h0.8m-0.7 -5.3h0.8m-0.6 6.5h0.8m-0.8 -1.2h0.8m-0.8 14h0.8m-0.7 -13.9h0.8m-0.7 -8.4h0.8m-0.8 8.1h0.8m-0.5 6.7h0.8m-0.7 -13.4h0.8m-0.7 6.8h0.8m-0.7 -4.3h0.8m-0.7 14.5h0.8m-0.8 -3.2h0.8m-0.8 -9.4h0.8m-0.8 13h0.8m-0.7 -3.1h0.8m-0.7 -11.7h0.8m-0.8 18.4h0.8m-0.8 -3.8h0.8m-0.6 -11.4h0.8m-0.8 3.4h0.8m-0.8 10.9h0.8m-0.6 -15.3h0.8m-0.6 -2.5h0.8m-0.7 9.2h0.8m-0.8 1.4h0.8m-0.8 -3.8h0.8m-0.8 -3.2h0.8m-0.7 12h0.8m-0.7 -12.7h0.8m-0.7 5.3h0.8m-0.8 -9.9h0.8m-0.7 16.6h0.8m-0.5 -3h0.8m-0.8 -1.4h0.8m-0.7 -12.3h0.8m-0.7 3.6h0.8m-0.8 12.5h0.8m-0.6 -15.6h0.8m-0.6 9.4h0.8m-0.7 -5.3h0.8m-0.8 8.2h0.8m-0.7 2.8h0.8m-0.6 0.2h0.8m-0.8 -5.5h0.8m-0.6 -9.9h0.8m-0.7 12.7h0.8m-0.7 -4.3h0.8m-0.7 -4.4h0.8m-0.4 6h0.8m-0.6 7h0.8m-0.8 -4.3h0.8m-0.7 4.7h0.8m-0.7 -19.5h0.8m-0.1 23.2h0.8m-0.8 -10.5h0.8m-0.8 15.7h0.8m-0.5 -24.6h0.8m-0.7 10.9h0.8m-0.8 3.1h0.8m-0.7 13.2h0.8m-0.7 -28.9h0.8m-0.8 13.6h0.8m-0.3 -3.1h0.8m-0.8 -4.6h0.8m-0.8 5.3h0.8m-0.7 -5h0.8m-0.7 -1.7h0.8m-0.8 0.5h0.8m-0.6 -1.6h0.8m-0.8 9.6h0.8m-0.7 4.7h0.8m-0.7 -8.2h0.8m-0.7 -1.2h0.8m-0.6 10.4h0.8m-0.7 -10.4h0.8m-0.7 7.4h0.8m-0.5 1h0.8m-0.5 2.3h0.8m-0.8 -10.1h0.8m-0.7 2.8h0.8m-0.8 -6h0.8m-0.8 4.7h0.8m-0.6 7h0.8m-0.8 -15.6h0.8m-0.8 10.1h0.8m-0.6 -2.2h0.8m-0.6 1.9h0.8m-0.7 7.2h0.8m-0.6 -1h0.8m-0.8 -15.7h0.8m-0.8 14.9h0.8m-0.5 -2.8h0.8m-0.6 -4.7h0.8m-0.8 7.1h0.8m-0.5 -9.4h0.8m-0.7 -1.8h0.8m-0.8 -2h0.8m-0.8 25.3h0.8m-0.6 -20.8h0.8m-0.8 -1.3h0.8m-0.7 18.4h0.8m-0.6 -13h0.8m-0.8 7.2h0.8m-0.4 -8.2h0.8m-0.8 5.6h0.8m-0.7 -18.5h0.8m-0.7 8.3h0.8m-0.8 -5.2h0.8m-0.7 6.1h0.8m-0.8 -1.5h0.8m-0.7 9.8h0.8m-0.5 -0.6h0.8m-0.7 -7.9h0.8m-0.5 4h0.8m-0.7 0h0.8m-0.2 -3.4h0.8m-0.7 5.2h0.8m-0.7 -4.3h0.8m-0.8 5.7h0.8m-0.7 -0.8h0.8m-0.7 -5.6h0.8m-0.7 -5.9h0.8m-0.8 4h0.8m-0.7 7.7h0.8m-0.8 -7h0.8m-0.7 4.5h0.8m-0.8 -0.2h0.8m-0.7 -11.2h0.8m-0.8 12.6h0.8m-0.8 12.2h0.8m-0.7 -25.6h0.8m-0.6 24.2h0.8m-0.6 -8.4h0.8m-0.8 5.9h0.8m-0.7 5.7h0.8m-0.8 -7.1h0.8m-0.6 -7.9h0.8m-0.7 6.5h0.8m-0.8 -1.3h0.8m-0.5 -7.5h0.8m-0.7 4.8h0.8m-0.7 4.6h0.8m-0.8 -7h0.8m-0.2 8.6h0.8m-0.8 -10.7h0.8m-0.8 7.6h0.8m-0.8 4.4h0.8m-0.7 0.3h0.8m-0.6 -1.6h0.8m-0.7 -13.3h0.8m-0.6 -0.2h0.8m-0.8 5.2h0.8m-0.8 3.5h0.8m-0.7 -13.7h0.8m-0.8 12.2h0.8m-0.6 3.9h0.8m-0.8 -6.8h0.8m-0.7 7.2h0.8m-0.5 -20.7h0.8m-0.6 21.1h0.8m-0.8 -8.7h0.8m-0.8 6.4h0.8m-0.7 -5.4h0.8m-0.6 3.5h0.8m-0.8 2.3h0.8m-0.7 6.8h0.8m-0.7 -8.7h0.8m-0.5 4.3h0.8m-0.2 -3.7h0.8m-0.8 1.7h0.8m-0.7 1.3h0.8m-0.8 -18h0.8m-0.7 9.7h0.8m-0.7 4.7h0.8m-0.7 -10.2h0.8m-0.8 -3.7h0.8m-0.6 -1.7h0.8m-0.8 3.3h0.8m-0.8 2.9h0.8m-0.7 18.2h0.8m-0.8 -9.3h0.8m-0.7 -4.1h0.8m-0.6 -8.7h0.8m-0.8 6h0.8m-0.7 13.2h0.8m-0.8 9.1h0.8m-0.7 -11.2h0.8m-0.8 -4.3h0.8m-0.8 -4.8h0.8m-0.7 9h0.8m-0.8 -16h0.8m-0.7 7.2h0.8m-0.8 -4.8h0.8m-0.7 10h0.8m-0.8 7.2h0.8m-0.6 -5.5h0.8m-0.7 -16.3h0.8m-0.6 7.5h0.8m-0.7 -0.5h0.8m-0.8 5.6h0.8m-0.7 7.7h0.8m-0.8 -12.7h0.8m-0.8 1.7h0.8m-0.6 4.9h0.8m-0.8 -13.1h0.8m-0.7 20.7h0.8m-0.8 -15.4h0.8m-0.7 0.9h0.8m-0.8 16.1h0.8m-0.7 -17.4h0.8m-0.8 5.1h0.8m-0.8 -2.6h0.8m-0.8 4.6h0.8m-0.7 0.3h0.8m-0.7 -7.2h0.8m-0.6 15h0.8m-0.6 1.8h0.8m-0.7 2.6h0.8m-0.6 -0.8h0.8m-0.8 -8.5h0.8m-0.7 2.1h0.8m-0.8 9.5h0.8m-0.7 -15.2h0.8m-0.7 11.3h0.8m-0.5 -4.1h0.8m-0.5 4.5h0.8m-0.8 -8.3h0.8m-0.5 10.5h0.8m-0.8 -10.1h0.8m-0.6 6.6h0.8m-0.8 -0.6h0.8m-0.7 1.7h0.8m-0.7 4.7h0.8m-0.6 -4.1h0.8m-0.8 -12.3h0.8m-0.8 10.1h0.8m-0.6 -8.5h0.8m-0.8 -2.6h0.8m-0.7 15.8h0.8m-0.8 -11.9h0.8m-0.6 -3.3h0.8m-0.8 -2.3h0.8m-0.7 1.9h0.8m-0.8 -6.9h0.8m-0.7 7.5h0.8m-0.8 3.2h0.8m-0.7 -9.5h0.8m-0.8 7.5h0.8m-0.5 1.9h0.8m-0.8 -10.5h0.8m-0.8 6.1h0.8m-0.7 -10.1h0.8m-0.8 11.4h0.8m-0.7 -0.6h0.8m-0.7 -1.8h0.8m-0.8 -1.6h0.8m-0.8 12.1h0.8m-0.8 -17.9h0.8m-0.7 20.6h0.8m-0.7 -7.7h0.8m-0.8 11.7h0.8m-0.8 -21.8h0.8m-0.6 -3.6h0.8m-0.7 11.5h0.8m-0.7 -6.2h0.8m-0.8 3.9h0.8m-0.8 -6.4h0.8m-0.7 11.8h0.8m-0.3 -10h0.8m-0.8 3.5h0.8m-0.2 -5.4h0.8m-0.8 13.4h0.8m-0.7 -5.1h0.8m-0.8 2.3h0.8m-0.8 -3.3h0.8m-0.7 17.6h0.8m-0.7 -17.3h0.8m-0.7 6.9h0.8m-0.5 -11h0.8m-0.8 -10.6h0.8m-0.6 21h0.8m-0.8 -9h0.8m-0.6 9.2h0.8m-0.6 -2.9h0.8m-0.8 -3.9h0.8m-0.6 3.1h0.8m-0.5 3.5h0.8m-0.8 -1.8h0.8m-0.7 -4.3h0.8m-0.6 3.9h0.8m-0.8 -5.8h0.8m-0.4 19.5h0.8m-0.7 -4.8h0.8m-0.8 -9.7h0.8m-0.7 10.5h0.8m-0.4 -6.8h0.8m-0.7 0.8h0.8m-0.7 -9.4h0.8m-0.7 7h0.8m-0.7 10.7h0.8m-0.8 -13.3h0.8m-0.5 2.5h0.8m-0.8 -0.4h0.8m-0.8 -6.5h0.8m-0.8 -0.8h0.8m-0.7 12.3h0.8m-0.8 -0.3h0.8m-0.8 -7.9h0.8m-0.7 7.5h0.8m-0.8 -5.9h0.8m-0.8 -7.6h0.8m-0.6 -0.7h0.8m-0.5 8.3h0.8m-0.7 -3.4h0.8m-0.7 9.8h0.8m-0.7 5.2h0.8m-0.7 -18.5h0.8m-0.7 14.5h0.8m-0.8 -12.3h0.8m-0.8 -5.8h0.8m-0.8 18.1h0.8m-0.7 -6.4h0.8m-0.8 -7h0.8m-0.8 10.7h0.8m-0.7 -11.2h0.8m-0.8 5.1h0.8m-0.7 2.5h0.8m-0.8 -2.3h0.8m-0.7 0.5h0.8m-0.8 -2.5h0.8m-0.7 -0.9h0.8m-0.8 2.8h0.8m-0.7 -1.6h0.8m-0.8 4.7h0.8m-0.6 -16.5h0.8m-0.6 14.3h0.8m-0.8 -0.6h0.8m-0.8 -3.2h0.8m-0.7 -0.8h0.8m-0.8 6.1h0.8m-0.3 -1.3h0.8m-0.8 -4.7h0.8m-0.8 -0.3h0.8m-0.7 3.1h0.8m-0.6 5.8h0.8m-0.8 -17.7h0.8m-0.7 20.9h0.8m-0.8 -19.3h0.8m-0.7 15.7h0.8m-0.6 -14.9h0.8m-0.7 9.1h0.8m-0.6 15.1h0.8m-0.7 -3.5h0.8m-0.7 -6.7h0.8m-0.8 -6.1h0.8m-0.8 9.5h0.8m-0.8 -0.9h0.8m-0.6 -5h0.8m-0.7 -3.4h0.8m-0.8 -10.9h0.8m-0.7 14.3h0.8m-0.5 -7.4h0.8m-0.7 12.4h0.8m-0.8 -1h0.8m-0.6 -8.4h0.8m-0.6 5h0.8m-0.6 -11h0.8m-0.7 -3.4h0.8m-0.7 12.1h0.8m-0.8 -4.2h0.8m-0.6 2.3h0.8m-0.7 0.4h0.8m-0.8 -5h0.8m-0.7 1.8h0.8m-0.3 -4.9h0.8m-0.7 7.6h0.8m-0.6 5.9h0.8m-0.7 -0.7h0.8m-0.6 -1h0.8m-0.6 0.7h0.8m-0.8 -3.9h0.8m-0.6 -3.9h0.8m-0.7 12.9h0.8m-0.8 -12.5h0.8m-0.5 2h0.8m-0.8 -0.9h0.8m-0.4 7.5h0.8m-0.7 -0.1h0.8m-0.7 -7.5h0.8m-0.4 12.7h0.8m-0.6 -12.4h0.8m-0.8 4.7h0.8m-0.8 -5.6h0.8m-0.8 -10.5h0.8m-0.7 18.7h0.8m-0.6 5.8h0.8m-0.7 -2.6h0.8m-0.8 -22.3h0.8m-0.6 22.2h0.8m-0.7 -16.8h0.8m-0.7 11.9h0.8m-0.6 -9.9h0.8m-0.7 1.2h0.8m-0.8 2.4h0.8m-0.8 4.3h0.8m-0.7 -3.8h0.8m-0.6 2.3h0.8m-0.8 14.7h0.8m-0.8 -29.2h0.8m-0.6 15.2h0.8m-0.5 14.4h0.8m-0.6 -14.7h0.8m-0.7 -7.6h0.8m-0.7 8h0.8m-0.7 1h0.8m-0.8 -7.5h0.8m-0.7 -7.8h0.8m-0.7 5.6h0.8m-0.8 -1.1h0.8m-0.6 -5.3h0.8m-0.6 11.1h0.8m-0.7 6.2h0.8m-0.7 -9.4h0.8m-0.7 5.7h0.8m-0.7 9.6h0.8m-0.7 -5.5h0.8m-0.3 -2.9h0.8m-0.6 7.1h0.8m-0.8 -2.8h0.8m-0.8 4.7h0.8m-0.7 6.7h0.8m-0.8 -6.2h0.8m-0.7 3.7h0.8m-0.7 -19.2h0.8m-0.7 1.4h0.8m-0.6 3.1h0.8m-0.6 -13.2h0.8m-0.7 19.5h0.8m-0.8 -9.1h0.8m-0.8 1.2h0.8m-0.7 2.4h0.8m-0.7 -1.5h0.8m-0.6 4.7h0.8m-0.7 5.2h0.8m-0.8 -9.7h0.8m-0.6 4.1h0.8m-0.4 -14.8h0.8m-0.8 7.5h0.8m-0.8 -1.1h0.8m-0.8 2h0.8m-0.7 3.4h0.8m-0.8 -2.4h0.8m-0.7 18.3h0.8m-0.6 -12h0.8m-0.4 -14.7h0.8m-0.7 26.8h0.8m-0.8 -24.3h0.8m-0.7 15.1h0.8m-0.7 -6.7h0.8m-0.7 -2.5h0.8m-0.8 5.5h0.8m-0.5 -1.3h0.8m-0.7 -6.1h0.8m-0.5 -4.9h0.8m-0.7 1.1h0.8m-0.8 17.9h0.8m-0.5 -2.5h0.8m-0.8 -11.5h0.8m-0.7 1.9h0.8m-0.8 4.6h0.8m-0.7 1.6h0.8m-0.6 -6.1h0.8m-0.7 6.9h0.8m-0.8 -2.8h0.8m-0.8 -2.9h0.8m-0.8 -3.5h0.8m-0.6 0h0.8m-0.8 3.4h0.8m-0.8 0.3h0.8m-0.7 -2.3h0.8m-0.7 -2.8h0.8m-0.8 1.8h0.8m-0.7 10.4h0.8m-0.8 -1.5h0.8m-0.7 -16.6h0.8m-0.8 15h0.8m-0.7 11.9h0.8m-0.5 -24.9h0.8m-0.8 13.2h0.8m-0.7 -5.3h0.8m-0.7 5.8h0.8m-0.7 -1.8h0.8m-0.7 2.9h0.8m-0.8 -8.7h0.8m-0.6 -0.6h0.8m-0.7 6.8h0.8m-0.8 -6.7h0.8m-0.7 11.5h0.8m-0.7 -4.9h0.8m-0.8 -5h0.8m-0.7 6.5h0.8m-0.8 -10.4h0.8m-0.8 -0.6h0.8m-0.8 19.4h0.8m-0.7 -4.4h0.8m-0.6 -8.5h0.8m-0.4 2.4h0.8m-0.4 -0.8h0.8m-0.8 -2.9h0.8m-0.6 7.1h0.8m-0.7 -10.6h0.8m-0.7 -2.6h0.8m-0.5 10.3h0.8m-0.8 -5.4h0.8m-0.7 16.4h0.8m-0.8 -8.5h0.8m-0.8 0h0.8m-0.6 -14h0.8m-0.8 5.3h0.8m-0.7 7h0.8m-0.8 -4.5h0.8m-0.5 1.7h0.8m-0.7 4.8h0.8m-0.8 -1.9h0.8m-0.6 -9.2h0.8m-0.8 9h0.8m-0.7 -9.6h0.8m-0.8 0h0.8m-0.1 -6.9h0.8m-0.8 14.3h0.8m-0.7 7.2h0.8m-0.6 -14.1h0.8m-0.8 11.9h0.8m-0.7 -3.7h0.8m-0.6 3.6h0.8m-0.7 -6.5h0.8m-0.8 -3.5h0.8m-0.8 -4.8h0.8m-0.3 10.6h0.8m-0.7 -8.3h0.8m-0.8 4.7h0.8m-0.7 9.3h0.8m-0.8 -17.5h0.8m-0.7 17.1h0.8m-0.7 -16.7h0.8m-0.6 4h0.8m-0.6 3.7h0.8m-0.8 -4.2h0.8m-0.7 19.3h0.8m-0.8 -15.2h0.8m-0.6 10.6h0.8m-0.7 -9.5h0.8m-0.8 10h0.8m-0.6 -14h0.8m-0.7 3.5h0.8m-0.5 0.5h0.8m-0.4 -1.7h0.8m-0.7 -0.4h0.8m-0.7 6.5h0.8m-0.7 -8.7h0.8m-0.6 22.1h0.8m-0.8 -11.7h0.8m-0.8 -10.4h0.8m-0.8 1.7h0.8m-0.7 3.3h0.8m-0.8 -8.6h0.8m-0.7 11.7h0.8m-0.7 -7.9h0.8m-0.8 1h0.8m-0.8 3.1h0.8m-0.7 3h0.8m-0.7 5.6h0.8m-0.8 5.5h0.8m-0.7 -11h0.8m-0.7 -5.1h0.8m-0.7 7.3h0.8m-0.7 -10.1h0.8m-0.8 10.6h0.8m-0.7 4.4h0.8m-0.6 4.2h0.8m-0.8 -8.3h0.8m-0.8 -3.3h0.8m-0.7 0.7h0.8m-0.7 9.7h0.8m-0.8 -0.2h0.8m-0.7 -11.3h0.8m-0.8 -10.9h0.8m-0.7 14.7h0.8m-0.7 -4.1h0.8m-0.7 -0.4h0.8m-0.6 5.5h0.8m-0.7 5.1h0.8m-0.7 -5h0.8m-0.8 -4.8h0.8m-0.7 -2.1h0.8m-0.7 4.7h0.8m-0.8 6.5h0.8m-0.7 -17.3h0.8m-0.8 7.1h0.8m-0.8 -11.3h0.8m-0.7 9.9h0.8m-0.5 1.7h0.8m-0.8 -4.4h0.8m-0.7 -8h0.8m-0.7 12.8h0.8m-0.8 5.5h0.8m-0.8 -0.4h0.8m-0.5 -6.9h0.8m-0.4 -2.8h0.8m-0.8 8.3h0.8m-0.7 8.2h0.8m-0.6 -15h0.8m-0.8 13.3h0.8m-0.7 -7.5h0.8m-0.6 -2.7h0.8m-0.8 -8h0.8m-0.7 10.3h0.8m-0.8 -10.8h0.8m-0.7 15.8h0.8m-0.7 -3.3h0.8m-0.5 5.2h0.8m-0.8 -6.3h0.8m-0.7 -2.8h0.8m-0.8 9.9h0.8m-0.8 -12.5h0.8m-0.8 7.3h0.8m-0.7 -8.5h0.8m-0.6 4.6h0.8m-0.8 -8.8h0.8m-0.4 12.1h0.8m-0.8 -3.5h0.8m-0.7 -4h0.8m-0.7 8.3h0.8m-0.6 -6.5h0.8m-0.5 2.6h0.8m-0.7 -2.2h0.8m-0.8 -7.6h0.8m-0.7 9.7h0.8m-0.6 9.4h0.8m-0.7 -11.6h0.8m-0.7 -8h0.8m-0.8 10.8h0.8m-0.7 -1.5h0.8m-0.7 10h0.8m-0.8 -2.9h0.8m-0.7 1h0.8m-0.8 5.7h0.8m-0.8 1.1h0.8m-0.6 -8h0.8m-0.7 -7.1h0.8m-0.7 11.2h0.8m-0.8 -5h0.8m-0.7 -13.4h0.8m-0.7 18.5h0.8m-0.7 -3.1h0.8m-0.8 -2.7h0.8m-0.8 3h0.8m-0.6 0h0.8m-0.7 4.3h0.8m-0.5 -3.2h0.8m-0.7 4.1h0.8m-0.7 -7.4h0.8m-0.8 6h0.8m-0.7 -2.3h0.8m-0.6 4.4h0.8m-0.8 -5.5h0.8m-0.7 6.6h0.8m-0.8 -11.8h0.8m-0.8 12.6h0.8m-0.8 -5.2h0.8m-0.8 5.8h0.8m-0.5 -5.6h0.8m-0.7 3.6h0.8m-0.1 -3.9h0.8m-0.7 -1h0.8m-0.7 -0.3h0.8m-0.8 0h0.8m-0.8 2.3h0.8m-0.5 -7.6h0.8m-0.6 12h0.8m-0.5 -29.5h0.8m-0.7 11.6h0.8m-0.7 5.6h0.8m-0.7 -4.7h0.8m-0.6 6.3h0.8m-0.7 -13.6h0.8m-0.7 5.4h0.8m-0.7 3.8h0.8m-0.8 -3.5h0.8m-0.7 -7.3h0.8m-0.7 8.2h0.8m-0.7 -1.9h0.8m-0.6 -3.7h0.8m-0.7 2.5h0.8m-0.7 -5.8h0.8m-0.7 2.5h0.8m-0.8 10.2h0.8m-0.7 2.6h0.8m-0.8 11.8h0.8m-0.6 -26.7h0.8m-0.7 13.8h0.8m-0.8 -0.4h0.8m-0.7 -4.5h0.8m-0.7 6.7h0.8m-0.7 -8.4h0.8m-0.6 -1.8h0.8m-0.2 -5h0.8m-0.4 11.8h0.8m-0.7 -11.4h0.8m-0.7 18.7h0.8m-0.6 -9.2h0.8m-0.7 15.5h0.8m-0.6 -28.1h0.8m-0.6 10.9h0.8m-0.6 2.2h0.8m-0.8 5.7h0.8m-0.6 -7.9h0.8m-0.6 15.6h0.8m-0.8 -13h0.8m-0.8 2.3h0.8m-0.6 -7.9h0.8m-0.8 -3.4h0.8m-0.7 8.3h0.8m-0.8 -12.2h0.8m-0.7 9.1h0.8m-0.7 -1.1h0.8m-0.7 10.5h0.8m-0.8 -16.3h0.8m-0.8 3.7h0.8m-0.8 -7h0.8m-0.7 2.9h0.8m-0.8 13.6h0.8m-0.8 -2.4h0.8m-0.8 -10.5h0.8m-0.7 -3.7h0.8m-0.7 6.6h0.8m-0.8 3.3h0.8m-0.8 2.2h0.8m-0.6 6.4h0.8m-0.7 -10.4h0.8m-0.8 3.9h0.8m-0.6 -9.9h0.8m-0.6 2.4h0.8m-0.8 5.2h0.8m-0.7 -0.3h0.8m-0.8 -4.6h0.8m-0.8 5.4h0.8m-0.8 -4.9h0.8m-0.8 -2.9h0.8m-0.7 4.9h0.8m-0.7 -1.9h0.8m-0.8 -7.6h0.8m-0.8 17.6h0.8m-0.7 -7.6h0.8m-0.7 0h0.8m-0.6 -1.2h0.8m-0.8 -3.6h0.8m-0.7 6.4h0.8m-0.5 -9.5h0.8m-0.8 14h0.8m-0.8 -4.3h0.8m-0.5 5.5h0.8m-0.8 -14.6h0.8m-0.7 24.2h0.8" stroke="#b0b0b0" stroke-width="0.8" fill="none"/>
<path d="M470.6 108.1V142.5M485.4 108.1V142.5M500.9 108.1V142.5M513.8 108.1V142.5M525.5 108.1V142.5M537.5 108.1V142.5M548.8 108.1V142.5M559.5 108.1V142.5M568.2 108.1V142.5M575.5 108.1V142.5M584.3 108.1V142.5M592.5 108.1V142.5M601.6 108.1V142.5M607.8 108.1V142.5M613.5 108.1V142.5M618.8 108.1V142.5M623.3 108.1V142.5M627.9 108.1V142.5M632.4 108.1V142.5M636.3 108.1V142.5M640.3 108.1V142.5M642.1 108.1V142.5M644.0 108.1V142.5M645.8 108.1V142.5M655.3 108.1V142.5" stroke="#222" stroke-width="0.85" stroke-dasharray="2 2.1" fill="none"/>
<line x1="463.5" y1="121.4" x2="662.5" y2="121.4" stroke="#40dae4" stroke-width="1.25" stroke-dasharray="4.2 3"/>
<line x1="463.5" y1="129.4" x2="662.5" y2="129.4" stroke="#40dae4" stroke-width="1.25" stroke-dasharray="4.2 3"/>
<path d="M470.6 125.2H477.5V120.6H485.2V125.2H500.8V136.1H505.6V125.2H513.6V122.5H519.2V136.1H524.9V122.5H537.7V125.2H549.0V120.6H568.6V135.7H570.3V122.5H572.7V135.7H575.1V120.6H584.4V125.2H599.2V135.7H601.6V125.2H607.2V135.7H608.3V125.2H618.9V135.7H619.7V122.5H621.3V135.7H622.1V125.2H641.7V122.5H643.3V135.7H647.3V120.6H655.8" stroke="#1a1a1a" stroke-width="1.3" fill="none"/>
<rect x="463.5" y="108.1" width="199" height="34.4" fill="none" stroke="#8a8a8a" stroke-width="0.9"/>
<line x1="470.6" y1="142.5" x2="470.6" y2="145.1" stroke="#555" stroke-width="0.8" />
<line x1="501.15" y1="142.5" x2="501.15" y2="145.1" stroke="#555" stroke-width="0.8" />
<line x1="531.7" y1="142.5" x2="531.7" y2="145.1" stroke="#555" stroke-width="0.8" />
<line x1="562.25" y1="142.5" x2="562.25" y2="145.1" stroke="#555" stroke-width="0.8" />
<line x1="592.8" y1="142.5" x2="592.8" y2="145.1" stroke="#555" stroke-width="0.8" />
<line x1="623.35" y1="142.5" x2="623.35" y2="145.1" stroke="#555" stroke-width="0.8" />
<line x1="653.9" y1="142.5" x2="653.9" y2="145.1" stroke="#555" stroke-width="0.8" />
<path d="M439.3 169.0L452.3 124.4H463.5" stroke="#151a28" stroke-width="1.3" fill="none"/>
<rect x="470.6" y="161.8" width="2.9" height="11.5" fill="#c8c8c8" opacity="0.38"/>
<rect x="473.5" y="175.1" width="4.8" height="11.5" fill="#c8c8c8" opacity="0.38"/>
<rect x="478.3" y="161.8" width="6.9" height="11.5" fill="#c8c8c8" opacity="0.38"/>
<rect x="485.2" y="157.3" width="15.2" height="11.5" fill="#c8c8c8" opacity="0.38"/>
<rect x="500.4" y="161.8" width="13.2" height="11.5" fill="#c8c8c8" opacity="0.38"/>
<rect x="513.6" y="158.5" width="24.1" height="11.5" fill="#c8c8c8" opacity="0.38"/>
<rect x="537.7" y="175.1" width="10.9" height="11.5" fill="#c8c8c8" opacity="0.38"/>
<rect x="548.6" y="155.8" width="9.9" height="11.5" fill="#c8c8c8" opacity="0.38"/>
<rect x="558.5" y="158.5" width="8.5" height="11.5" fill="#c8c8c8" opacity="0.38"/>
<rect x="567" y="175.1" width="8.6" height="11.5" fill="#c8c8c8" opacity="0.38"/>
<rect x="575.6" y="155.8" width="8.8" height="11.5" fill="#c8c8c8" opacity="0.38"/>
<rect x="584.4" y="175.1" width="8.3" height="11.5" fill="#c8c8c8" opacity="0.38"/>
<rect x="592.7" y="162.1" width="8.9" height="11.5" fill="#c8c8c8" opacity="0.38"/>
<rect x="601.6" y="175.1" width="6.1" height="11.5" fill="#c8c8c8" opacity="0.38"/>
<rect x="607.7" y="162.1" width="6.4" height="11.5" fill="#c8c8c8" opacity="0.38"/>
<rect x="614.1" y="175.1" width="4.8" height="11.5" fill="#c8c8c8" opacity="0.38"/>
<rect x="618.9" y="162.1" width="10" height="11.5" fill="#c8c8c8" opacity="0.38"/>
<rect x="628.9" y="175.1" width="4.8" height="11.5" fill="#c8c8c8" opacity="0.38"/>
<rect x="633.7" y="162.1" width="4.3" height="11.5" fill="#c8c8c8" opacity="0.38"/>
<rect x="638" y="175.1" width="5.3" height="11.5" fill="#c8c8c8" opacity="0.38"/>
<rect x="643.3" y="162.1" width="2.4" height="11.5" fill="#c8c8c8" opacity="0.38"/>
<rect x="645.7" y="158.5" width="10.1" height="11.5" fill="#c8c8c8" opacity="0.38"/>
<path d="M470.7 164.8h0.8m-0.8 10.7h0.8m-0.8 -18.9h0.8m-0.6 10.8h0.8m-0.7 10.3h0.8m-0.7 -2.1h0.8m-0.8 -18.9h0.8m-0.6 14.3h0.8m-0.4 -11h0.8m-0.6 -7.2h0.8m-0.8 9.9h0.8m-0.7 15.6h0.8m-0.6 -12.1h0.8m-0.8 6.2h0.8m-0.8 -4.7h0.8m-0.7 -1.5h0.8m-0.8 1.8h0.8m-0.8 2.2h0.8m-0.4 -2.6h0.8m-0.8 1.3h0.8m-0.6 -0.6h0.8m-0.8 10h0.8m-0.5 -6.1h0.8m-0.8 -4.4h0.8m-0.7 -0.1h0.8m-0.8 -2.9h0.8m-0.7 2.5h0.8m-0.8 10.5h0.8m-0.6 6.4h0.8m-0.7 -4.9h0.8m-0.7 -1.2h0.8m-0.7 2.3h0.8m-0.7 4h0.8m-0.8 -9.5h0.8m-0.7 4.1h0.8m-0.8 -12.4h0.8m-0.6 6.8h0.8m-0.6 5.1h0.8m-0.7 1.4h0.8m-0.8 -0.6h0.8m-0.3 0.2h0.8m-0.8 -0.1h0.8m-0.4 -25h0.8m-0.7 23.7h0.8m-0.8 -7h0.8m-0.5 7h0.8m-0.8 -4.9h0.8m-0.7 4.6h0.8m-0.7 -4.5h0.8m-0.5 6.6h0.8m-0.5 -1.4h0.8m-0.8 4.2h0.8m-0.7 -17.8h0.8m-0.6 5.9h0.8m-0.7 -0.1h0.8m-0.8 6.6h0.8m-0.8 3.5h0.8m-0.7 -11.6h0.8m-0.8 6.2h0.8m-0.7 -2.9h0.8m-0.6 -2h0.8m-0.7 10.5h0.8m-0.6 -26.8h0.8m-0.6 8.4h0.8m-0.7 21.1h0.8m-0.7 -9h0.8m-0.1 -5.5h0.8m-0.8 6.5h0.8m-0.8 -4.3h0.8m-0.7 -13.6h0.8m-0.7 11.8h0.8m-0.5 0.5h0.8m-0.7 -13h0.8m-0.7 1.6h0.8m-0.8 3h0.8m-0.7 5.9h0.8m-0.8 0.9h0.8m-0.7 4.4h0.8m-0.7 -0.6h0.8m-0.5 -1h0.8m-0.6 -4.8h0.8m-0.8 -3.8h0.8m-0.6 7.2h0.8m-0.3 -6.9h0.8m-0.7 2.8h0.8m-0.8 -3.7h0.8m-0.8 -1h0.8m-0.8 2.8h0.8m-0.7 -2h0.8m-0.8 9.3h0.8m-0.5 -15.6h0.8m-0.8 14.5h0.8m-0.8 -6.1h0.8m-0.7 2.4h0.8m-0.8 1.4h0.8m-0.7 -9.4h0.8m-0.8 15.8h0.8m-0.7 0.3h0.8m-0.7 -8.5h0.8m-0.8 6.6h0.8m-0.6 -3.7h0.8m-0.8 -3.3h0.8m-0.7 10.2h0.8m-0.7 -9.9h0.8m-0.8 -7.4h0.8m-0.7 3.7h0.8m-0.8 -0.4h0.8m-0.7 2.2h0.8m-0.7 9.2h0.8m-0.4 10.6h0.8m-0.7 -23.2h0.8m-0.7 12h0.8m-0.7 -3.2h0.8m-0.6 -5.1h0.8m-0.7 2.8h0.8m-0.7 -5.6h0.8m-0.7 15.2h0.8m-0.7 -4.8h0.8m-0.7 -7.2h0.8m-0.8 5.6h0.8m-0.8 -7.3h0.8m-0.6 4.5h0.8m-0.6 -1h0.8m-0.8 14.6h0.8m-0.7 -3.3h0.8m-0.7 -9.4h0.8m-0.8 8.6h0.8m-0.7 -19h0.8m-0.8 9.5h0.8m-0.7 -12.9h0.8m-0.8 15h0.8m-0.8 5h0.8m-0.8 -5.9h0.8m-0.6 -3.5h0.8m-0.7 0.9h0.8m-0.6 -2.3h0.8m-0.7 2.5h0.8m-0.8 -13.4h0.8m-0.6 19h0.8m-0.6 -18.4h0.8m-0.8 10h0.8m-0.7 -10h0.8m-0.7 12.2h0.8m-0.7 -4.9h0.8m-0.8 -4.5h0.8m-0.3 19.5h0.8m-0.8 -19.4h0.8m-0.5 6.2h0.8m-0.7 -3.7h0.8m-0.7 25.1h0.8m-0.8 -20.5h0.8m-0.7 8.9h0.8m-0.8 -5.4h0.8m-0.8 15.3h0.8m-0.8 -27.8h0.8m-0.7 5.6h0.8m-0.8 -3.2h0.8m-0.8 6.4h0.8m-0.6 4.6h0.8m-0.8 -5.1h0.8m-0.8 -2.7h0.8m-0.7 18.3h0.8m-0.6 -11.7h0.8m-0.8 1.8h0.8m-0.7 -2h0.8m-0.7 16h0.8m-0.7 0.8h0.8m-0.6 -19.9h0.8m-0.8 -3.2h0.8m-0.7 5h0.8m-0.8 -0.8h0.8m-0.4 2.3h0.8m-0.4 -5.9h0.8m-0.7 -5.6h0.8m-0.8 5.7h0.8m-0.6 -5.3h0.8m-0.6 14.2h0.8m-0.7 -1.1h0.8m-0.6 -10.6h0.8m-0.8 6.9h0.8m-0.5 18.9h0.8m-0.8 -17.6h0.8m-0.8 -1.1h0.8m-0.5 -0.9h0.8m-0.8 10.1h0.8m-0.8 -11.3h0.8m-0.7 12.2h0.8m-0.8 -20.4h0.8m-0.8 14.9h0.8m-0.7 5.9h0.8m-0.7 -9.9h0.8m-0.8 -8.4h0.8m-0.6 8.2h0.8m-0.6 -2.9h0.8m-0.8 -10h0.8m-0.8 13.1h0.8m-0.7 15.3h0.8m-0.7 -14.9h0.8m-0.8 -7.5h0.8m-0.8 -1.3h0.8m-0.7 6.1h0.8m-0.7 -2h0.8m-0.7 6.8h0.8m-0.7 -4.2h0.8m-0.8 0.6h0.8m-0.8 9h0.8m-0.7 -11.9h0.8m-0.8 -0.7h0.8m-0.8 -6.7h0.8m-0.7 3h0.8m-0.6 1.4h0.8m-0.5 5h0.8m-0.8 3.3h0.8m-0.6 -8.3h0.8m-0.7 4.7h0.8m-0.6 -3.7h0.8m-0.4 8.5h0.8m-0.8 -9.4h0.8m-0.8 5.3h0.8m-0.7 -2.5h0.8m-0.8 -8.2h0.8m-0.7 11.1h0.8m-0.8 3.2h0.8m-0.8 -11.8h0.8m-0.5 10.7h0.8m-0.6 -0.4h0.8m-0.7 -1.7h0.8m-0.8 8.7h0.8m-0.6 -11.5h0.8m-0.8 0.1h0.8m-0.7 -1.7h0.8m-0.8 8h0.8m-0.5 -8h0.8m-0.5 10.2h0.8m-0.8 -7.2h0.8m-0.6 8.8h0.8m-0.7 -2.2h0.8m-0.7 -9.3h0.8m-0.7 4h0.8m-0.7 8.5h0.8m-0.7 -5.7h0.8m-0.7 -4.9h0.8m-0.8 -1.1h0.8m-0.8 1.6h0.8m-0.6 6.3h0.8m-0.7 -1.5h0.8m-0.7 12h0.8m-0.8 -17.4h0.8m-0.6 3.2h0.8m-0.8 -9.6h0.8m-0.7 6.9h0.8m-0.8 4.9h0.8m-0.7 -2h0.8m-0.5 -4.2h0.8m-0.8 -3.8h0.8m-0.7 -3.9h0.8m-0.8 18.3h0.8m-0.8 -6.6h0.8m-0.7 6.6h0.8m-0.8 -11.4h0.8m-0.8 6.8h0.8m-0.7 -9.5h0.8m-0.6 -0.9h0.8m-0.7 8.4h0.8m-0.8 -6.8h0.8m-0.6 16.4h0.8m-0.4 -8.5h0.8m-0.6 -8.9h0.8m-0.6 -1.6h0.8m-0.6 12.4h0.8m-0.8 0h0.8m-0.8 -5.6h0.8m-0.5 5.1h0.8m-0.8 4.2h0.8m-0.8 -6.7h0.8m-0.6 -7.1h0.8m-0.8 12.5h0.8m-0.3 -17.2h0.8m-0.7 4.9h0.8m-0.8 8.5h0.8m-0.8 -5.9h0.8m-0.8 2.6h0.8m-0.7 8.3h0.8m-0.7 -4.5h0.8m-0.6 -2.7h0.8m-0.7 -8.8h0.8m-0.8 12.6h0.8m-0.6 2.2h0.8m-0.8 -0.6h0.8m-0.7 -7.5h0.8m-0.5 5.3h0.8m-0.7 0.2h0.8m-0.8 0h0.8m-0.6 -13h0.8m-0.7 8.2h0.8m-0.8 9.9h0.8m-0.7 -2.8h0.8m-0.7 -4.3h0.8m-0.8 -1.6h0.8m-0.7 -6.5h0.8m-0.4 2.7h0.8m-0.7 21.2h0.8m-0.7 -20.6h0.8m-0.7 6.2h0.8m-0.7 -0.9h0.8m-0.6 5h0.8m-0.8 -8.8h0.8m-0.7 2.6h0.8m-0.7 -7.6h0.8m-0.7 8.6h0.8m-0.7 0.3h0.8m-0.8 -0.9h0.8m-0.8 7.1h0.8m-0.8 -11.5h0.8m-0.7 7.7h0.8m-0.8 -1.6h0.8m-0.5 -2.3h0.8m-0.7 -7h0.8m-0.7 25.9h0.8m-0.7 -8.7h0.8m-0.8 -2h0.8m-0.7 3h0.8m-0.8 -12.4h0.8m-0.8 -1.4h0.8m-0.7 1.2h0.8m-0.8 0.4h0.8m-0.7 1h0.8m-0.7 -6.2h0.8m-0.7 4.2h0.8m-0.8 8.9h0.8m-0.7 -1h0.8m-0.7 2.3h0.8m-0.7 5.6h0.8m-0.8 -19.7h0.8m-0.6 1.6h0.8m-0.6 15.6h0.8m-0.7 -4.1h0.8m-0.5 -3.7h0.8m-0.8 1.2h0.8m-0.7 -1.3h0.8m-0.8 5.1h0.8m-0.6 -3h0.8m-0.7 -1h0.8m-0.7 -5.8h0.8m-0.8 1.2h0.8m-0.7 0.7h0.8m-0.8 -8.9h0.8m-0.7 8.7h0.8m-0.8 6h0.8m-0.7 -5.4h0.8m-0.7 6.7h0.8m-0.6 -0.2h0.8m-0.7 4.6h0.8m-0.6 -12.1h0.8m-0.7 2.7h0.8m-0.5 4.6h0.8m-0.7 -2h0.8m-0.7 -3.4h0.8m-0.7 9.2h0.8m-0.8 -1.5h0.8m-0.6 -18.7h0.8m-0.7 22.8h0.8m-0.6 2.2h0.8m-0.7 -26.9h0.8m-0.7 12.8h0.8m-0.7 14.1h0.8m-0.6 -11.3h0.8m-0.3 -10h0.8m-0.7 11.6h0.8m-0.7 -14.6h0.8m-0.8 7.1h0.8m-0.8 1.6h0.8m-0.7 12.7h0.8m-0.8 -20.1h0.8m-0.7 4.1h0.8m-0.7 6.4h0.8m-0.7 -2.5h0.8m-0.6 3.6h0.8m-0.6 3.1h0.8m-0.7 1.3h0.8m-0.7 -18.2h0.8m-0.7 15.7h0.8m-0.7 -1h0.8m-0.7 1.4h0.8m-0.8 -9.5h0.8m-0.7 3h0.8m-0.8 1.6h0.8m-0.8 1h0.8m-0.7 0.3h0.8m-0.4 7.6h0.8m-0.8 -0.2h0.8m-0.8 2.8h0.8m-0.7 -6.9h0.8m-0.8 -13.6h0.8m-0.6 4.8h0.8m-0.7 15.3h0.8m-0.8 -10.4h0.8m-0.6 2.4h0.8m-0.8 3.3h0.8m-0.6 -17.1h0.8m-0.8 6.2h0.8m-0.8 7.3h0.8m-0.8 10.5h0.8m-0.8 -18.8h0.8m-0.5 7.2h0.8m-0.7 -4.7h0.8m-0.6 9h0.8m-0.7 -7.4h0.8m-0.7 2.3h0.8m-0.8 -2.1h0.8m-0.8 -8.8h0.8m-0.6 3.4h0.8m-0.7 2.8h0.8m-0.7 10.3h0.8m-0.2 -12.2h0.8m-0.7 -6.8h0.8m-0.3 6.8h0.8m-0.7 2.8h0.8m-0.7 3.1h0.8m-0.8 -3.9h0.8m-0.4 15.5h0.8m-0.7 -16.9h0.8m-0.4 2.8h0.8m-0.8 0.1h0.8m-0.8 -0.2h0.8m-0.7 18.2h0.8m-0.6 -20.6h0.8m-0.7 18.3h0.8m-0.7 -14.2h0.8m-0.4 6.8h0.8m-0.7 -7.9h0.8m-0.8 -1.9h0.8m-0.7 6.7h0.8m-0.8 4.7h0.8m-0.7 -5.7h0.8m-0.7 -10.9h0.8m-0.8 5.8h0.8m-0.6 1.6h0.8m-0.7 9.2h0.8m-0.7 -1.1h0.8m-0.7 -6.3h0.8m-0.7 0.2h0.8m-0.8 -9.3h0.8m-0.8 8.7h0.8m-0.8 -2.4h0.8m-0.7 4.5h0.8m-0.7 5.6h0.8m-0.7 -7.5h0.8m-0.8 9.5h0.8m-0.6 -8.8h0.8m-0.7 8.1h0.8m-0.7 -16.6h0.8m-0.8 -3h0.8m-0.7 15.4h0.8m-0.8 -11.9h0.8m-0.8 12.7h0.8m-0.7 -4.5h0.8m-0.7 -6.7h0.8m-0.8 8.2h0.8m-0.6 -12.2h0.8m-0.5 9.2h0.8m-0.8 3.5h0.8m-0.8 -8.8h0.8m-0.8 -0.2h0.8m-0.8 21.9h0.8m-0.7 -16.1h0.8m-0.8 -7h0.8m-0.6 0.8h0.8m-0.8 2.9h0.8m-0.7 0.8h0.8m-0.8 -3h0.8m-0.7 3.2h0.8m-0.8 4.8h0.8m-0.8 -6.1h0.8m-0.7 -1.6h0.8m-0.7 4.6h0.8m-0.6 0.6h0.8m-0.8 15.2h0.8m-0.6 -26.2h0.8m-0.8 13h0.8m-0.6 -8.3h0.8m-0.8 3.9h0.8m-0.7 -1.5h0.8m-0.8 -2.4h0.8m-0.7 2.6h0.8m-0.8 4.7h0.8m-0.8 -9.7h0.8m-0.4 8.1h0.8m-0.8 7.1h0.8m-0.8 -12.5h0.8m-0.7 9.5h0.8m-0.6 -8.1h0.8m-0.8 3.5h0.8m-0.7 -6.3h0.8m-0.6 3h0.8m-0.8 13.2h0.8m-0.7 -15.9h0.8m-0.7 -1.9h0.8m-0.8 16h0.8m-0.6 -6.5h0.8m-0.3 -7.7h0.8m-0.7 6h0.8m-0.7 -4h0.8m-0.7 1.8h0.8m-0.7 5.3h0.8m-0.8 -2.6h0.8m-0.7 -3h0.8m-0.6 -6.3h0.8m-0.6 -0.2h0.8m-0.7 -3.4h0.8m-0.8 23.4h0.8m-0.7 -11.9h0.8m-0.7 2.7h0.8m-0.8 -1.6h0.8m-0.8 -11.4h0.8m-0.7 4.8h0.8m-0.8 7.4h0.8m-0.7 0.3h0.8m-0.6 -3.6h0.8m-0.8 7.3h0.8m-0.8 4.9h0.8m-0.8 -18.6h0.8m-0.8 2.3h0.8m-0.8 4.1h0.8m-0.7 -4.2h0.8m-0.6 9h0.8m-0.8 -12.3h0.8m-0.7 3.9h0.8m-0.8 7.3h0.8m-0.5 -0.3h0.8m-0.7 9.2h0.8m-0.7 -16.6h0.8m-0.2 8.6h0.8m-0.8 7.1h0.8m-0.8 -13.4h0.8m-0.7 0.7h0.8m-0.8 11.2h0.8m-0.7 -11.4h0.8m-0.8 -7.6h0.8m-0.7 2.1h0.8m-0.8 8.7h0.8m-0.7 0.8h0.8m-0.8 -3.3h0.8m-0.7 4.6h0.8m-0.4 3.2h0.8m-0.7 -5.7h0.8m-0.7 -2.3h0.8m-0.8 4.4h0.8m-0.7 -2.1h0.8m-0.6 11h0.8m-0.8 -3.9h0.8m-0.6 -5.1h0.8m-0.2 -6h0.8m-0.7 -0.9h0.8m-0.7 7.6h0.8m-0.5 -2.4h0.8m-0.6 -1h0.8m-0.7 -3.4h0.8m-0.8 -0.5h0.8m-0.8 -4h0.8m-0.8 2.7h0.8m-0.7 22.3h0.8m-0.8 -18.1h0.8m-0.6 1h0.8m-0.8 -6h0.8m-0.6 9.8h0.8m-0.7 -5h0.8m-0.6 8.5h0.8m-0.8 0.2h0.8m-0.7 -1.6h0.8m-0.8 -10.1h0.8m-0.6 14.2h0.8m-0.7 -3.8h0.8m-0.8 0.5h0.8m-0.8 -2.9h0.8m-0.8 -8.9h0.8m-0.7 2.5h0.8m-0.8 3.3h0.8m-0.6 1.3h0.8m-0.6 16.8h0.8m-0.8 -17.5h0.8m-0.7 -9.4h0.8m-0.8 12.7h0.8m-0.3 -0.5h0.8m-0.8 3.6h0.8m-0.7 -12.6h0.8m-0.8 0h0.8m-0.5 0.6h0.8m-0.8 3.6h0.8m-0.6 1.8h0.8m-0.8 7.1h0.8m-0.8 -4h0.8m-0.8 -5.4h0.8m-0.7 -0.5h0.8m-0.6 8.6h0.8m-0.8 -9.2h0.8m-0.5 20h0.8m-0.8 -17h0.8m-0.6 -1.8h0.8m-0.8 -6.6h0.8m-0.7 3.7h0.8m-0.7 -7.7h0.8m-0.5 13.1h0.8m-0.7 -6.3h0.8m-0.4 -1.2h0.8m-0.8 5.1h0.8m-0.7 16.4h0.8m-0.7 -17.1h0.8m-0.7 8.3h0.8m-0.8 -16.8h0.8m-0.7 14.8h0.8m-0.7 -8.9h0.8m-0.7 22.4h0.8m-0.8 -19.4h0.8m-0.8 9.9h0.8m-0.6 -14.7h0.8m-0.8 4.3h0.8m-0.6 -5.3h0.8m-0.7 7.9h0.8m-0.7 -8.2h0.8m-0.7 8.6h0.8m-0.8 -3.6h0.8m-0.7 -4h0.8m-0.8 3.3h0.8m-0.5 5.9h0.8m-0.7 -5.3h0.8m-0.7 0.7h0.8m-0.8 1.7h0.8m-0.7 3.1h0.8m-0.8 -12.8h0.8m-0.7 9.4h0.8m-0.5 -7.3h0.8m-0.6 2.5h0.8m-0.8 5.7h0.8m-0.5 -1.5h0.8m-0.8 6.5h0.8m-0.7 -14.2h0.8m-0.7 4h0.8m-0.7 -6.6h0.8m-0.6 8h0.8m-0.7 -3.4h0.8m-0.7 0.7h0.8m-0.8 5.1h0.8m-0.7 5.7h0.8m-0.7 -7.3h0.8m-0.8 -0.1h0.8m-0.8 -8.5h0.8m-0.7 9.4h0.8m-0.8 15.1h0.8m-0.5 -12.2h0.8m-0.8 -8.5h0.8m-0.6 0.9h0.8m-0.7 19.7h0.8m-0.8 6.7h0.8m-0.7 -13.8h0.8m-0.5 7h0.8m-0.7 0.1h0.8m-0.8 -12.9h0.8m-0.8 5.1h0.8m-0.7 -2.6h0.8m-0.8 0.4h0.8m-0.5 4.5h0.8m-0.7 -9.7h0.8m-0.3 0.3h0.8m-0.5 17.2h0.8m-0.7 -2h0.8m-0.8 -6.1h0.8m-0.7 3.9h0.8m-0.6 5.3h0.8m-0.7 -4.2h0.8m-0.6 5h0.8m-0.7 -2h0.8m-0.6 -3.4h0.8m-0.8 -1.1h0.8m-0.7 1.8h0.8m-0.7 -2.1h0.8m-0.7 7.1h0.8m-0.8 -11.8h0.8m-0.8 -2.8h0.8m-0.6 -11.1h0.8m-0.8 18.8h0.8m-0.8 1.7h0.8m-0.6 0.5h0.8m-0.7 6.6h0.8m-0.4 -4.6h0.8m-0.7 3.6h0.8m-0.3 -2.8h0.8m-0.6 -13.4h0.8m-0.8 -5.7h0.8m-0.7 17.1h0.8m-0.5 1.4h0.8m-0.7 -14.5h0.8m-0.7 18.6h0.8m-0.7 -26.2h0.8m-0.8 24.4h0.8m-0.6 -5.9h0.8m-0.8 -14.6h0.8m-0.7 19.3h0.8m-0.7 -1h0.8m-0.7 -2.5h0.8m-0.8 4.5h0.8m-0.8 1.8h0.8m-0.7 -11.3h0.8m-0.5 -0.5h0.8m-0.6 4.7h0.8m-0.8 0.6h0.8m-0.5 1.5h0.8m-0.8 -8.5h0.8m-0.8 11.2h0.8m-0.7 -0.5h0.8m-0.6 -1.2h0.8m-0.8 0.6h0.8m-0.7 -1h0.8m-0.7 -3.2h0.8m-0.7 -0.7h0.8m-0.5 2.6h0.8m-0.8 -2.3h0.8m-0.2 -0.3h0.8m-0.6 2h0.8m-0.8 -15.4h0.8m-0.7 10.1h0.8m-0.8 12h0.8m-0.5 -24.4h0.8m-0.8 13h0.8m-0.7 -17.3h0.8m-0.7 3.3h0.8m-0.8 17.7h0.8m-0.8 7.5h0.8m-0.7 -8.9h0.8m-0.8 2.1h0.8m-0.4 2.4h0.8m-0.7 0.8h0.8m-0.3 -0.2h0.8m-0.8 1.8h0.8m-0.6 -0.4h0.8m-0.7 -26.4h0.8m-0.8 17.7h0.8m-0.6 10.8h0.8m-0.7 -0.4h0.8m-0.8 -17.3h0.8m-0.7 -3.8h0.8m-0.7 -0.3h0.8m-0.8 -3.9h0.8m-0.4 5h0.8m-0.7 4h0.8m-0.6 -3.6h0.8m-0.6 -1.4h0.8m-0.6 5h0.8m-0.7 1.3h0.8m-0.8 -11.5h0.8m-0.8 7.1h0.8m-0.7 -2.7h0.8m-0.8 -7.8h0.8m-0.8 16h0.8m-0.8 -11h0.8m-0.6 -0.1h0.8m-0.7 0.2h0.8m-0.4 2.1h0.8m-0.7 2.2h0.8m-0.7 -1.5h0.8m-0.8 10.6h0.8m-0.8 1.9h0.8m-0.5 -16.7h0.8m-0.8 9.8h0.8m-0.8 -3.5h0.8m-0.7 -3.9h0.8m-0.7 16.7h0.8m-0.8 -17.4h0.8m-0.5 0.3h0.8m-0.8 8.7h0.8m-0.8 -14.9h0.8m-0.8 6h0.8m-0.7 -5h0.8m-0.8 2.9h0.8m-0.7 -2.8h0.8m-0.7 7.2h0.8m-0.8 -3.5h0.8m-0.8 23.8h0.8m-0.7 -6.3h0.8m-0.6 -12.6h0.8m-0.7 3.3h0.8m-0.8 -7h0.8m-0.4 -0.9h0.8m-0.7 0.7h0.8m-0.8 9.4h0.8m-0.8 -9.1h0.8m-0.7 2.9h0.8m-0.7 -0.8h0.8m-0.7 1.8h0.8m-0.7 -0.6h0.8m-0.8 1.6h0.8m-0.7 -10.6h0.8m-0.8 7.4h0.8m-0.5 4.2h0.8m-0.8 3.6h0.8m-0.7 -7.6h0.8m-0.7 -3.3h0.8m-0.8 13.4h0.8m-0.7 -9h0.8m-0.6 -4.1h0.8m-0.7 1.9h0.8m-0.7 -5.2h0.8m-0.7 12.7h0.8m-0.8 16.7h0.8m-0.7 -28h0.8m-0.7 2.2h0.8m-0.8 -4.8h0.8m-0.7 6.9h0.8m-0.7 0.2h0.8m-0.8 16.6h0.8m-0.7 -8.8h0.8m-0.6 -10.4h0.8m-0.8 1h0.8m-0.7 4h0.8m-0.5 -3.2h0.8m-0.8 0.9h0.8m-0.8 4h0.8m-0.7 5.3h0.8m-0.6 -7.6h0.8m-0.7 0.3h0.8m-0.5 6.3h0.8m-0.7 -11.6h0.8m-0.3 5.8h0.8m-0.6 -3.3h0.8m-0.7 5.9h0.8m-0.8 0.8h0.8m-0.7 1h0.8m-0.8 -5h0.8m-0.5 -6.7h0.8m-0.6 0.6h0.8m-0.7 18.9h0.8m-0.8 -5.7h0.8m-0.8 -8h0.8m-0.6 16h0.8m-0.7 -17.3h0.8m-0.5 12.2h0.8m-0.8 -3.4h0.8m-0.7 -1.1h0.8m-0.7 -5.6h0.8m-0.8 2.4h0.8m-0.7 3.3h0.8m-0.6 -0.1h0.8m-0.8 -1h0.8m-0.7 -3.9h0.8m-0.7 -8.2h0.8m-0.8 0.1h0.8m-0.8 0.4h0.8m-0.8 7h0.8m-0.8 -3.3h0.8m-0.7 3.4h0.8m-0.8 2.6h0.8m-0.8 0.3h0.8m-0.7 4.4h0.8m-0.7 -10.8h0.8m-0.5 3.6h0.8m-0.6 0.8h0.8m-0.8 -3.1h0.8m-0.8 2.5h0.8m-0.7 -3.1h0.8m-0.7 8.4h0.8m-0.8 -4.1h0.8m-0.5 1.2h0.8m-0.7 -8.4h0.8m-0.7 11.6h0.8m-0.7 9.3h0.8m-0.6 -9.7h0.8m-0.7 -0.8h0.8m-0.8 0h0.8m-0.3 10.8h0.8m-0.7 0.1h0.8m-0.8 -7.9h0.8m-0.5 -9.7h0.8m-0.8 3.6h0.8m-0.8 -1.6h0.8m-0.6 8.9h0.8m-0.7 -3.4h0.8m-0.5 -3.2h0.8m-0.7 3.9h0.8m-0.8 6.2h0.8m-0.8 -10.7h0.8m-0.7 8.5h0.8m-0.8 -8.5h0.8m-0.7 10.6h0.8m-0.4 -8.8h0.8m-0.8 -6.2h0.8m-0.8 5.3h0.8m-0.5 6h0.8m-0.8 -6.8h0.8m-0.8 -7h0.8m-0.6 0.4h0.8m-0.7 8.7h0.8m-0.6 -2.7h0.8m-0.7 4.5h0.8m-0.6 -1.6h0.8m-0.8 -7.4h0.8m-0.6 0.2h0.8m-0.7 19.7h0.8m-0.8 -10.7h0.8m-0.7 -8h0.8m-0.7 22.1h0.8m-0.7 -26.9h0.8m-0.7 15.1h0.8m-0.7 1.3h0.8m-0.7 -1.2h0.8m-0.7 -2.9h0.8m-0.8 -7.1h0.8m-0.6 7.7h0.8m-0.6 -12.7h0.8m-0.8 3h0.8m-0.6 13.5h0.8m-0.8 -12.5h0.8m-0.6 1.5h0.8m-0.7 1.6h0.8m-0.7 14.3h0.8m-0.8 -13.8h0.8m-0.8 -4.6h0.8m-0.6 2.6h0.8m-0.8 -4h0.8m-0.5 8.4h0.8m-0.8 4h0.8m-0.6 8h0.8m-0.8 0.3h0.8m-0.4 2.3h0.8m-0.8 -6.9h0.8m-0.7 1.3h0.8m-0.8 -15.6h0.8m-0.6 25.4h0.8m-0.8 -27.4h0.8m-0.7 23.4h0.8m-0.6 -15.9h0.8m-0.8 15.1h0.8m-0.7 -18.4h0.8m-0.7 14.1h0.8m-0.8 -2.8h0.8m-0.4 0.1h0.8m-0.5 7.6h0.8m-0.6 -6.7h0.8m-0.7 7.7h0.8m-0.8 0.6h0.8m-0.6 -23.7h0.8m-0.6 12.2h0.8m-0.6 6h0.8m-0.7 6.8h0.8m-0.7 -0.4h0.8m-0.7 -8.5h0.8m-0.7 -11.1h0.8m-0.7 15.3h0.8m-0.7 -18.1h0.8m-0.7 12.6h0.8m-0.8 1.7h0.8m-0.7 5.7h0.8m-0.8 -14.2h0.8m-0.7 6.4h0.8m-0.6 3.8h0.8m-0.6 3h0.8m-0.8 -2.7h0.8m-0.7 -3.8h0.8m-0.6 -1.9h0.8m-0.5 9.7h0.8m-0.6 3.3h0.8m-0.8 -27.9h0.8m-0.7 17.7h0.8m-0.6 6.7h0.8m-0.7 -23.9h0.8m-0.8 15.1h0.8m-0.7 8.1h0.8m-0.6 1.1h0.8m-0.8 -1.8h0.8m-0.7 1.1h0.8m-0.7 1.4h0.8m-0.8 -9.8h0.8m-0.7 -8.6h0.8m-0.4 21.4h0.8m-0.7 -0.3h0.8m-0.6 -5.2h0.8m-0.5 3.3h0.8m-0.7 -5.2h0.8m-0.8 -0.6h0.8m-0.6 2.1h0.8m-0.7 -4.7h0.8m-0.8 6.5h0.8m-0.6 0.8h0.8m-0.5 -0.8h0.8m-0.7 3.9h0.8m-0.7 -24.8h0.8m-0.8 14.6h0.8m-0.8 -0.8h0.8m-0.7 -0.4h0.8m-0.7 -6.3h0.8m-0.5 -5.1h0.8m-0.6 22h0.8m-0.8 -20.4h0.8m-0.7 -5.6h0.8m-0.6 17.9h0.8m-0.7 -15.7h0.8m-0.7 -2.8h0.8m-0.8 11.2h0.8m-0.7 -8.4h0.8m-0.8 -2.8h0.8m-0.7 7.5h0.8m-0.5 -2.3h0.8m-0.6 -5.2h0.8m-0.7 18.4h0.8m-0.5 -12.6h0.8m-0.7 0.7h0.8m-0.5 1.9h0.8m-0.7 -11.7h0.8m-0.7 9.2h0.8m-0.8 -7.1h0.8m-0.6 2.7h0.8m-0.8 0.8h0.8m-0.7 4.5h0.8m-0.7 18.9h0.8m-0.6 -17h0.8m-0.7 5.7h0.8m-0.8 -13.2h0.8m-0.7 2.3h0.8m-0.7 -1.5h0.8m-0.8 16.2h0.8m-0.6 -8.3h0.8m-0.8 -6h0.8m-0.7 7.5h0.8m-0.8 -8.5h0.8m-0.4 -1.6h0.8m-0.8 8.4h0.8m-0.6 4.7h0.8m-0.8 -7.8h0.8m-0.8 2.2h0.8m-0.4 -12.8h0.8m-0.8 7.3h0.8m-0.7 18.4h0.8m-0.7 -2.6h0.8m-0.7 -14.9h0.8m-0.5 -0.5h0.8m-0.8 3.2h0.8m-0.6 1.8h0.8m-0.7 -3.2h0.8m-0.6 -5.2h0.8m-0.7 -3.4h0.8m-0.8 19.7h0.8m-0.8 -4.8h0.8m-0.7 3.5h0.8m-0.8 -5.6h0.8m-0.5 -3h0.8m-0.7 10.3h0.8m-0.6 -12.4h0.8m-0.8 13.8h0.8m-0.7 -20h0.8m-0.8 6.6h0.8m-0.6 17.8h0.8m-0.8 -11h0.8m-0.7 -4h0.8m-0.7 -10.7h0.8m-0.8 16h0.8m-0.7 -11.3h0.8m-0.7 10.7h0.8m-0.6 14.4h0.8m-0.8 -29.4h0.8m-0.8 9.8h0.8m-0.7 -1.8h0.8m-0.7 -4.2h0.8m-0.8 3.1h0.8m-0.5 11.2h0.8m-0.7 -5.9h0.8m-0.7 9.1h0.8m-0.8 -17.3h0.8m-0.7 -2.6h0.8m-0.8 5.9h0.8m-0.7 -4.4h0.8m-0.7 18.5h0.8m-0.7 4h0.8m-0.8 -17.5h0.8m-0.6 16.4h0.8m-0.7 -8.6h0.8m-0.6 12.4h0.8m-0.8 -4.3h0.8m-0.6 3.6h0.8m-0.8 0.8h0.8m-0.7 -8.5h0.8m-0.8 4.6h0.8m-0.8 -3.8h0.8m-0.7 9.3h0.8m-0.8 -2.1h0.8m-0.7 -2.4h0.8m-0.8 -18.9h0.8m-0.8 10.9h0.8m-0.8 8.1h0.8m-0.5 -0.6h0.8m-0.5 -2.7h0.8m-0.8 -8.4h0.8m-0.7 8.5h0.8m-0.8 6.9h0.8m-0.6 -8h0.8m-0.6 7.1h0.8m-0.7 -4.9h0.8m-0.7 3.9h0.8m-0.7 -4h0.8m-0.7 5.6h0.8m-0.8 -14.6h0.8m-0.6 11.6h0.8m-0.8 -11.4h0.8m-0.5 11.9h0.8m-0.6 1.6h0.8m-0.8 -8.5h0.8m-0.7 -2.8h0.8m-0.8 1h0.8m-0.5 -1.7h0.8m-0.8 7.7h0.8m-0.7 5.4h0.8m-0.6 -1.3h0.8m-0.7 -14.3h0.8m-0.8 1h0.8m-0.7 9.9h0.8m-0.8 -14.6h0.8m-0.6 10.7h0.8m-0.7 3.1h0.8m-0.4 5.9h0.8m-0.3 -3.4h0.8m-0.8 -24.3h0.8m-0.8 24.5h0.8m-0.7 -6.1h0.8m-0.7 -3.5h0.8m-0.7 11.2h0.8m-0.8 -4.4h0.8m-0.6 6.2h0.8m-0.7 -12.2h0.8m-0.4 6.1h0.8m-0.7 5.3h0.8m-0.4 -1.1h0.8m-0.7 0.3h0.8m-0.7 -1.4h0.8m-0.7 -20.8h0.8m-0.7 19.5h0.8m-0.8 -1h0.8m-0.7 -1.2h0.8m-0.8 4.9h0.8m-0.5 -6h0.8m-0.7 -1.7h0.8m-0.7 -1.9h0.8m-0.8 11h0.8m-0.7 -10.4h0.8m-0.8 10.8h0.8m-0.8 -4.7h0.8m-0.7 -1.8h0.8m-0.5 1.5h0.8m-0.6 -2.4h0.8m-0.6 -9.2h0.8m-0.7 -7.4h0.8m-0.7 2.2h0.8m-0.6 9h0.8m-0.7 -11.9h0.8m-0.8 -3.1h0.8m-0.8 8h0.8m-0.8 11.8h0.8m-0.8 -4.6h0.8m-0.7 -16.6h0.8m-0.8 11.5h0.8m-0.7 1h0.8m-0.6 1.8h0.8m-0.8 -3.3h0.8m-0.8 8.7h0.8m-0.7 -12.8h0.8m-0.8 8.8h0.8m-0.6 -2.4h0.8m-0.8 7.5h0.8m-0.8 -3.1h0.8m-0.8 -3.9h0.8m-0.7 -7.7h0.8m-0.8 2h0.8m-0.7 0.6h0.8m-0.8 11.9h0.8m-0.5 -9.2h0.8m-0.6 4.5h0.8m-0.8 2.5h0.8m-0.7 -0.6h0.8m-0.6 -5.5h0.8m-0.6 0.8h0.8m-0.6 -1.4h0.8m-0.6 8h0.8m-0.8 -3.4h0.8m-0.8 -11.7h0.8m-0.7 20.2h0.8m-0.7 -16.6h0.8m-0.7 -1.4h0.8m-0.8 8.6h0.8m-0.7 -15.9h0.8m-0.8 3.9h0.8m-0.7 9.6h0.8m-0.8 -5.2h0.8m-0.7 6.5h0.8m-0.7 1.3h0.8m-0.8 -2.3h0.8m-0.7 3.5h0.8m-0.8 -13.4h0.8m-0.8 9h0.8m-0.6 13.5h0.8m0.1 -7.5h0.8m-0.8 -4h0.8m-0.5 1.5h0.8m-0.8 3h0.8m-0.8 -1.3h0.8m-0.7 2.7h0.8m-0.6 -8.8h0.8m-0.8 4.4h0.8m-0.7 -4.7h0.8m-0.8 -12.9h0.8m-0.8 19.8h0.8m-0.6 2.8h0.8m-0.4 -10.9h0.8m-0.5 1h0.8m-0.8 13.1h0.8m-0.8 -8.1h0.8m-0.7 0.9h0.8m-0.7 -1.2h0.8m-0.8 0.5h0.8m-0.8 -11h0.8m-0.7 -5.7h0.8m-0.8 9.7h0.8m-0.5 5.6h0.8m-0.7 2.9h0.8m-0.6 -2.4h0.8m-0.7 0.9h0.8m-0.8 -7.6h0.8m-0.7 19.3h0.8m-0.8 -13.2h0.8m-0.2 1.1h0.8m-0.8 -10.2h0.8m-0.6 20.4h0.8m-0.8 -12.2h0.8m-0.7 7.2h0.8m-0.8 -19.6h0.8m-0.7 9h0.8m-0.6 4.4h0.8m-0.7 2.6h0.8m-0.7 11.4h0.8m-0.8 -25.1h0.8m-0.5 25.2h0.8m-0.6 -1.2h0.8m-0.6 -6.4h0.8m-0.7 4.8h0.8m-0.8 3.4h0.8m-0.6 -13.4h0.8m-0.8 2.5h0.8m-0.4 2.5h0.8m-0.7 -5.1h0.8m-0.6 -8.9h0.8m-0.7 8.6h0.8m-0.8 13h0.8m-0.7 -2.9h0.8m-0.5 -11.5h0.8m-0.7 7.1h0.8m-0.8 -2.7h0.8m-0.6 6.8h0.8m-0.8 1.7h0.8m-0.7 1.7h0.8m-0.7 -4.7h0.8m-0.6 1.5h0.8m-0.5 -4.9h0.8m-0.8 -1.7h0.8m-0.7 6.4h0.8m-0.8 -1.4h0.8m-0.7 1.4h0.8m-0.6 2h0.8m-0.5 -11.6h0.8m-0.6 8.6h0.8m-0.8 4.2h0.8m-0.8 -30h0.8m-0.8 22h0.8m-0.7 0.6h0.8m-0.8 -20.2h0.8m-0.5 24.3h0.8m-0.6 -7.5h0.8m-0.7 -5.3h0.8m-0.7 10.4h0.8m-0.8 -0.6h0.8m-0.6 -24.8h0.8m-0.2 27.4h0.8m-0.7 -2h0.8m-0.5 -23.6h0.8m-0.6 2.2h0.8m-0.7 9.4h0.8m-0.7 -2.4h0.8m-0.7 -10.8h0.8m-0.8 16.9h0.8m-0.7 -11.4h0.8m-0.7 7h0.8m-0.8 8.5h0.8m-0.6 -7.6h0.8m-0.8 3.6h0.8m-0.7 2.6h0.8m-0.7 -3.2h0.8m-0.6 -1.5h0.8m-0.7 -9.3h0.8m-0.7 2.6h0.8m-0.6 5.8h0.8m-0.7 -13.3h0.8m-0.8 5.1h0.8m-0.8 5.7h0.8m-0.7 0h0.8m-0.8 13.6h0.8m-0.4 -4.1h0.8m-0.8 -8.5h0.8m-0.7 8.5h0.8m-0.5 -8.9h0.8m-0.6 13.3h0.8m-0.6 -5.5h0.8m-0.7 -2.2h0.8m-0.8 -3.8h0.8m-0.4 8.2h0.8m-0.7 -8.2h0.8m-0.7 1.3h0.8m-0.7 -4.9h0.8m-0.8 5.7h0.8m-0.8 2.6h0.8m-0.6 -12.8h0.8m-0.7 -3.5h0.8m-0.8 15.8h0.8m-0.8 -5.5h0.8m-0.7 9.8h0.8m-0.7 -2.5h0.8m-0.8 -8.7h0.8m-0.8 -2.5h0.8m-0.7 9.4h0.8m-0.8 -5.5h0.8m-0.5 -7.4h0.8m-0.8 10.3h0.8m-0.7 -4.7h0.8m-0.7 -5.5h0.8m-0.8 11.2h0.8m-0.7 1.7h0.8m-0.8 0h0.8m-0.7 1.3h0.8m-0.8 -3.6h0.8m-0.7 3.2h0.8m-0.8 0.3h0.8m-0.5 -8.5h0.8m-0.8 5.2h0.8m-0.7 10.8h0.8m-0.3 -16.3h0.8m-0.8 -0.9h0.8m-0.7 5.6h0.8m-0.6 11.1h0.8m-0.3 -6h0.8m-0.8 7h0.8m-0.7 -1.8h0.8m-0.7 0.4h0.8m-0.7 1.7h0.8m-0.8 -3.6h0.8m-0.7 7.6h0.8m-0.8 -10h0.8m-0.4 5h0.8m-0.7 0h0.8m-0.7 3.2h0.8m-0.8 -7.6h0.8m-0.7 -17.7h0.8m-0.6 11.6h0.8m-0.6 4h0.8m-0.7 3.4h0.8m-0.6 -0.6h0.8m-0.7 -3.5h0.8m-0.5 0.1h0.8m-0.1 -0.2h0.8m-0.8 4.9h0.8m-0.8 5.1h0.8m-0.7 1.8h0.8m-0.7 -5.4h0.8m-0.7 2.2h0.8m-0.8 -10.9h0.8m-0.6 9h0.8m-0.8 0.6h0.8m-0.5 -0.5h0.8m-0.7 -6.3h0.8m-0.8 9.7h0.8m-0.5 -20.6h0.8m-0.7 -8.1h0.8m-0.8 15.1h0.8m-0.6 -5.2h0.8m-0.8 -4.2h0.8m-0.7 11.8h0.8m-0.7 -2.8h0.8m-0.8 3.6h0.8m-0.8 -15.1h0.8m-0.8 10.5h0.8m-0.8 -11.3h0.8m-0.3 16.8h0.8m-0.7 -2.5h0.8m-0.6 -2.9h0.8m-0.6 1.6h0.8m-0.7 1.5h0.8m-0.8 2h0.8m-0.7 -10.8h0.8m-0.8 3.4h0.8m-0.7 -4h0.8m-0.8 2.4h0.8m-0.7 6.4h0.8m-0.8 -3.6h0.8m-0.7 -10.3h0.8m-0.8 14.7h0.8m-0.7 -9.7h0.8m-0.8 19.8h0.8m-0.7 -8.3h0.8m-0.6 -9.7h0.8m-0.8 -9.9h0.8m-0.6 7.3h0.8m-0.8 17.9h0.8m-0.8 -17.6h0.8m-0.8 9.4h0.8m-0.5 -3.5h0.8m-0.4 4.3h0.8m-0.8 -5.6h0.8m-0.8 13.1h0.8m-0.6 -5.1h0.8m-0.8 3h0.8m-0.7 -8.6h0.8m0 -7.3h0.8m-0.2 5.1h0.8m-0.7 -0.9h0.8m-0.6 -8.2h0.8m-0.7 2.6h0.8m-0.8 10.4h0.8m-0.8 7.2h0.8m-0.8 -12.8h0.8m-0.8 3.6h0.8m-0.7 -1.9h0.8m-0.6 5.1h0.8m-0.6 -8.5h0.8m-0.6 9.7h0.8m-0.8 -10.8h0.8m-0.6 9.9h0.8m-0.5 -10h0.8m-0.8 20h0.8m-0.7 -19.4h0.8m-0.8 8.9h0.8m-0.7 -11h0.8m-0.8 14.1h0.8m-0.6 -7.3h0.8m-0.8 4.2h0.8m-0.6 -16.7h0.8m-0.6 17h0.8m-0.7 -8.6h0.8m-0.8 20h0.8m-0.8 0.9h0.8m-0.8 -30h0.8m-0.8 22.3h0.8m-0.6 -13.7h0.8m-0.7 11.2h0.8m-0.7 0.9h0.8m-0.7 -8.9h0.8m-0.8 7.7h0.8m-0.7 -3.3h0.8m-0.7 4.7h0.8m-0.8 9.9h0.8m-0.6 -13.8h0.8m-0.8 -1.5h0.8m-0.7 -8.6h0.8m-0.7 -4.4h0.8m-0.7 6.3h0.8m-0.8 20.8h0.8m-0.6 -6h0.8m-0.8 -12.6h0.8m-0.8 -3.7h0.8m-0.8 3.4h0.8m-0.7 -0.7h0.8m-0.6 5.9h0.8m-0.8 0h0.8m-0.7 3.5h0.8m-0.7 -2.9h0.8m-0.7 -8.4h0.8m-0.6 0.9h0.8m-0.8 0.3h0.8m-0.7 -0.2h0.8m-0.6 -5.2h0.8m-0.5 19.2h0.8m-0.8 -1.6h0.8m-0.7 8.8h0.8m-0.6 -16.4h0.8m-0.7 13.1h0.8m-0.6 2.3h0.8m-0.8 -26.6h0.8m-0.7 25.7h0.8m-0.5 3.1h0.8m-0.6 -6.6h0.8m-0.7 3.7h0.8m-0.7 -0.6h0.8m-0.8 -5.4h0.8m-0.8 -17.7h0.8m-0.7 26.7h0.8m-0.7 -0.3h0.8m-0.7 -13.7h0.8m-0.7 8.1h0.8m-0.5 0.2h0.8m-0.8 2.2h0.8m-0.7 -1.9h0.8m-0.6 -0.8h0.8m-0.7 3.6h0.8m-0.7 -3.2h0.8m-0.5 5.4h0.8m-0.5 -20.5h0.8m-0.8 12.6h0.8m-0.8 -3.1h0.8m-0.7 3.1h0.8m-0.7 1.1h0.8m-0.7 -14.3h0.8m-0.7 10.5h0.8m-0.7 -5.2h0.8m-0.8 3.1h0.8m-0.7 -3.1h0.8m-0.7 16h0.8m-0.7 -10.6h0.8m-0.6 10.3h0.8m-0.8 -13.7h0.8m-0.5 4.1h0.8m-0.8 2.8h0.8m-0.8 -11.5h0.8m-0.8 1h0.8m-0.7 2.3h0.8m-0.6 -5.4h0.8m-0.6 15.3h0.8m-0.7 -14.7h0.8m-0.6 6.7h0.8m-0.8 -0.6h0.8m-0.7 2.1h0.8m-0.7 2.4h0.8m-0.8 -7.7h0.8m-0.7 -11.3h0.8m-0.7 14.8h0.8m-0.5 0h0.8m-0.7 0.4h0.8m-0.6 -4.5h0.8m-0.8 -8.8h0.8m-0.7 14.1h0.8m-0.8 -6.8h0.8m-0.8 9.9h0.8m-0.7 -6.7h0.8m-0.8 -7.6h0.8m-0.7 6.7h0.8m-0.8 -11.3h0.8m-0.6 10.8h0.8m-0.7 -2.4h0.8m-0.7 0.8h0.8m-0.7 5.6h0.8m-0.5 -3.9h0.8m-0.8 8.9h0.8m-0.8 -19.9h0.8m-0.8 0.8h0.8m-0.3 2.9h0.8m-0.5 3.5h0.8m-0.8 7.2h0.8m-0.7 -6.4h0.8m-0.7 -1.9h0.8m-0.8 0.3h0.8m-0.7 7.7h0.8m-0.7 -14.3h0.8m-0.8 17.6h0.8m-0.7 -5.1h0.8m-0.6 12.3h0.8m-0.7 -5.2h0.8m-0.7 2.5h0.8m-0.7 0.4h0.8m-0.8 -2.2h0.8m-0.7 0.9h0.8m-0.7 2.4h0.8m-0.7 -10.6h0.8m-0.7 6h0.8m-0.5 5.3h0.8m-0.7 1.6h0.8m-0.6 -5.6h0.8m-0.7 -2.1h0.8m-0.7 -14h0.8m-0.7 21.8h0.8m-0.8 -10.6h0.8m-0.3 6.8h0.8m-0.8 5.3h0.8m-0.8 -2.4h0.8m-0.3 3.4h0.8m-0.8 -7.5h0.8m-0.4 7.2h0.8m-0.8 -4.1h0.8m-0.8 -6.6h0.8m-0.8 3.7h0.8m-0.7 4.3h0.8m-0.7 0.7h0.8m-0.7 -6.7h0.8m-0.5 5.5h0.8m-0.6 -1.9h0.8m-0.6 -5.3h0.8m-0.8 2.8h0.8m-0.6 3.4h0.8m-0.6 -7.9h0.8m-0.8 2.4h0.8m-0.7 3.7h0.8m-0.5 3.9h0.8m-0.7 -1.7h0.8m-0.8 -1.6h0.8m-0.7 5.4h0.8m-0.6 -1.7h0.8m-0.7 -25.7h0.8m-0.8 6.8h0.8m-0.7 4.3h0.8m-0.7 -5.9h0.8m-0.7 -3.4h0.8m-0.2 9.2h0.8m-0.6 4.2h0.8m-0.8 -0.5h0.8m-0.8 -13.9h0.8m-0.8 12.8h0.8m-0.7 -0.3h0.8m-0.8 -7.5h0.8m-0.7 6.5h0.8m-0.8 3.5h0.8m-0.6 -0.1h0.8m-0.7 -0.2h0.8m-0.7 -7.7h0.8m-0.6 1.3h0.8m-0.7 1.8h0.8m-0.7 -2.9h0.8m-0.8 7.1h0.8m-0.7 0.7h0.8m-0.8 -7.8h0.8m-0.8 6.8h0.8m-0.6 6.2h0.8m-0.7 -16.7h0.8m-0.5 8.7h0.8m-0.8 -16.8h0.8m-0.8 0.1h0.8m-0.7 19.7h0.8m-0.6 -5.6h0.8m-0.7 -0.6h0.8m-0.6 3.9h0.8m-0.7 -12.1h0.8m-0.8 -1.1h0.8m-0.4 16.6h0.8m-0.8 -9.3h0.8m-0.5 3.8h0.8m-0.7 3.1h0.8m-0.7 3.5h0.8m-0.8 -6.5h0.8m-0.5 -5.3h0.8m-0.8 -0.3h0.8m-0.7 -8.2h0.8m-0.5 6h0.8m-0.8 -5.5h0.8m-0.6 10.8h0.8m-0.7 6.2h0.8m-0.6 -5.6h0.8m-0.7 -10.7h0.8m-0.8 10.7h0.8m-0.8 -11.1h0.8m-0.7 8.7h0.8m-0.8 4.4h0.8m-0.7 -12.1h0.8m-0.8 14.5h0.8m-0.7 -8.1h0.8m-0.8 1h0.8m-0.7 3.6h0.8m-0.7 0.5h0.8m-0.7 -14.2h0.8m-0.8 1.3h0.8m-0.6 20.2h0.8m-0.8 -8.8h0.8m-0.7 -2.2h0.8m-0.6 -1.5h0.8m-0.8 6.4h0.8m-0.7 -7h0.8m-0.8 3.6h0.8m-0.7 -7.9h0.8m-0.8 -3.2h0.8m-0.8 5.5h0.8m-0.6 4h0.8m-0.8 -5.2h0.8m-0.7 -1.3h0.8m-0.3 0.2h0.8m-0.7 -0.9h0.8m-0.8 2.5h0.8m-0.6 2.8h0.8m-0.7 -5h0.8m-0.8 6.8h0.8m-0.8 3.5h0.8m-0.7 -6.4h0.8m-0.8 7.9h0.8m-0.7 -0.2h0.8m-0.8 -9h0.8m-0.7 -3.4h0.8m-0.8 1h0.8m-0.8 6.5h0.8m-0.6 -4.9h0.8m-0.6 0.1h0.8m-0.5 0.8h0.8m-0.8 6.6h0.8m-0.7 7.7h0.8m-0.5 -6.9h0.8m-0.7 -1.2h0.8m-0.5 7.2h0.8m-0.8 3h0.8m-0.8 -5.6h0.8m-0.7 -6h0.8m-0.7 6h0.8m-0.7 -5.7h0.8m-0.8 4.7h0.8m-0.8 -13.9h0.8m-0.7 9.4h0.8m-0.8 -1h0.8m-0.8 -3.3h0.8m-0.6 15.7h0.8m-0.7 -15.1h0.8m-0.8 13h0.8m-0.7 -10.2h0.8m-0.7 5.7h0.8m-0.8 -9.8h0.8m-0.8 4.5h0.8m-0.6 6.8h0.8m-0.7 -2h0.8m-0.4 -0.1h0.8m-0.6 10.7h0.8m-0.8 -23.1h0.8m-0.7 17.7h0.8m-0.8 1.7h0.8m-0.4 5.5h0.8" stroke="#b0b0b0" stroke-width="0.8" fill="none"/>
<path d="M470.6 151.7V185.5M485.4 151.7V185.5M500.9 151.7V185.5M513.8 151.7V185.5M525.5 151.7V185.5M537.5 151.7V185.5M548.8 151.7V185.5M559.5 151.7V185.5M568.2 151.7V185.5M575.5 151.7V185.5M584.3 151.7V185.5M592.5 151.7V185.5M601.6 151.7V185.5M607.8 151.7V185.5M613.5 151.7V185.5M618.8 151.7V185.5M623.3 151.7V185.5M627.9 151.7V185.5M632.4 151.7V185.5M636.3 151.7V185.5M640.3 151.7V185.5M642.1 151.7V185.5M644.0 151.7V185.5M645.8 151.7V185.5M655.3 151.7V185.5" stroke="#222" stroke-width="0.85" stroke-dasharray="2 2.1" fill="none"/>
<line x1="463.5" y1="164.7" x2="662.5" y2="164.7" stroke="#40dae4" stroke-width="1.25" stroke-dasharray="4.2 3"/>
<line x1="463.5" y1="172.6" x2="662.5" y2="172.6" stroke="#40dae4" stroke-width="1.25" stroke-dasharray="4.2 3"/>
<path d="M470.6 168.3H473.5V181.6H478.3V168.3H485.2V163.8H500.4V168.3H513.6V165.0H537.7V181.6H548.6V162.3H558.5V165.0H567.0V181.6H575.6V162.3H584.4V181.6H592.7V168.6H601.6V181.6H607.7V168.6H614.1V181.6H618.9V168.6H628.9V181.6H633.7V168.6H638.0V181.6H643.3V168.6H645.7V165.0H655.8" stroke="#1a1a1a" stroke-width="1.3" fill="none"/>
<rect x="463.5" y="151.7" width="199" height="33.8" fill="none" stroke="#8a8a8a" stroke-width="0.9"/>
<line x1="470.6" y1="185.5" x2="470.6" y2="188.1" stroke="#555" stroke-width="0.8" />
<line x1="501.15" y1="185.5" x2="501.15" y2="188.1" stroke="#555" stroke-width="0.8" />
<line x1="531.7" y1="185.5" x2="531.7" y2="188.1" stroke="#555" stroke-width="0.8" />
<line x1="562.25" y1="185.5" x2="562.25" y2="188.1" stroke="#555" stroke-width="0.8" />
<line x1="592.8" y1="185.5" x2="592.8" y2="188.1" stroke="#555" stroke-width="0.8" />
<line x1="623.35" y1="185.5" x2="623.35" y2="188.1" stroke="#555" stroke-width="0.8" />
<line x1="653.9" y1="185.5" x2="653.9" y2="188.1" stroke="#555" stroke-width="0.8" />
<path d="M439.3 184.0L452.3 168.8H463.5" stroke="#151a28" stroke-width="1.3" fill="none"/>
<text x="470.6" y="199" font-size="10.5" text-anchor="middle" fill="#111" font-weight="normal" >0.0</text>
<text x="501.15" y="199" font-size="10.5" text-anchor="middle" fill="#111" font-weight="normal" >0.5</text>
<text x="531.7" y="199" font-size="10.5" text-anchor="middle" fill="#111" font-weight="normal" >1.0</text>
<text x="562.25" y="199" font-size="10.5" text-anchor="middle" fill="#111" font-weight="normal" >1.5</text>
<text x="592.8" y="199" font-size="10.5" text-anchor="middle" fill="#111" font-weight="normal" >2.0</text>
<text x="623.35" y="199" font-size="10.5" text-anchor="middle" fill="#111" font-weight="normal" >2.5</text>
<text x="653.9" y="199" font-size="10.5" text-anchor="middle" fill="#111" font-weight="normal" >3.0</text>
<text x="569.6" y="214.6" font-size="12" text-anchor="middle" fill="#111" font-weight="normal" textLength="127" lengthAdjust="spacingAndGlyphs" >Genome coordinates (Gb)</text>
<text x="670.2" y="110.9" font-size="12.2" text-anchor="middle" fill="#111" font-weight="normal" transform="rotate(90 670.2 110.9)" textLength="131" lengthAdjust="spacingAndGlyphs" >Copy number ratio (log2)</text>
<text x="0.9" y="254.8" font-size="24.5" text-anchor="start" fill="#000" font-weight="bold" >c</text>
<line x1="46.5" y1="347" x2="213.7" y2="347" stroke="#2a2ad8" stroke-width="1.4" stroke-dasharray="7.5 5.5" stroke-dashoffset="1.5"/>
<line x1="156.7" y1="255.4" x2="156.7" y2="410.6" stroke="#2a2ad8" stroke-width="1.4" stroke-dasharray="7.5 5.5" stroke-dashoffset="4"/>
<circle cx="52" cy="261.1" r="2.3" fill="#e0262e"/>
<circle cx="74.2" cy="279.1" r="2.3" fill="#e0262e"/>
<circle cx="82.4" cy="294" r="2.3" fill="#e0262e"/>
<circle cx="93.1" cy="311.7" r="2.3" fill="#e0262e"/>
<circle cx="96.6" cy="298.9" r="2.3" fill="#e0262e"/>
<circle cx="102.3" cy="293.5" r="2.3" fill="#e0262e"/>
<circle cx="105.6" cy="308.4" r="2.3" fill="#e0262e"/>
<circle cx="108.2" cy="311.9" r="2.3" fill="#e0262e"/>
<circle cx="112.7" cy="309.1" r="2.3" fill="#e0262e"/>
<circle cx="121" cy="315.2" r="2.3" fill="#e0262e"/>
<circle cx="127.2" cy="343.3" r="2.3" fill="#e0262e"/>
<circle cx="141.8" cy="328" r="2.3" fill="#e0262e"/>
<circle cx="152.2" cy="333.6" r="2.3" fill="#e0262e"/>
<circle cx="153.4" cy="322" r="2.3" fill="#e0262e"/>
<circle cx="149.1" cy="366" r="2.3" fill="#000000"/>
<circle cx="161" cy="349.7" r="2.3" fill="#000000"/>
<circle cx="169.2" cy="347.4" r="2.3" fill="#000000"/>
<circle cx="162.6" cy="357.5" r="2.3" fill="#000000"/>
<circle cx="169.5" cy="357" r="2.3" fill="#000000"/>
<circle cx="163.8" cy="365.8" r="2.3" fill="#000000"/>
<circle cx="168.8" cy="369.8" r="2.3" fill="#000000"/>
<circle cx="163.8" cy="373.3" r="2.3" fill="#000000"/>
<circle cx="161" cy="377.8" r="2.3" fill="#000000"/>
<circle cx="175.6" cy="375.5" r="2.3" fill="#000000"/>
<circle cx="183.4" cy="358.5" r="2.3" fill="#000000"/>
<circle cx="193.3" cy="360.6" r="2.3" fill="#000000"/>
<circle cx="187" cy="371.7" r="2.3" fill="#000000"/>
<circle cx="201.4" cy="375.5" r="2.3" fill="#000000"/>
<circle cx="200" cy="389.9" r="2.3" fill="#000000"/>
<circle cx="205.6" cy="391.3" r="2.3" fill="#000000"/>
<circle cx="207.5" cy="405.5" r="2.3" fill="#000000"/>
<path d="M46.5 410.6V255.4" stroke="#1a1a1a" stroke-width="1.1" fill="none"/>
<path d="M46.0 255.4H213.7" stroke="#5a5a5a" stroke-width="1.2" fill="none"/>
<path d="M46.5 410.6H213.7V255.4" stroke="#38386a" stroke-width="1.0" fill="none"/>
<line x1="41" y1="270.7" x2="46.5" y2="270.7" stroke="#222" stroke-width="1" />
<text x="39" y="274.4" font-size="10.3" text-anchor="end" fill="#111" font-weight="normal" >0.25</text>
<line x1="41" y1="315" x2="46.5" y2="315" stroke="#222" stroke-width="1" />
<text x="39" y="318.7" font-size="10.3" text-anchor="end" fill="#111" font-weight="normal" >0.2</text>
<line x1="41" y1="359.3" x2="46.5" y2="359.3" stroke="#222" stroke-width="1" />
<text x="39" y="363" font-size="10.3" text-anchor="end" fill="#111" font-weight="normal" >0.15</text>
<line x1="41" y1="403.6" x2="46.5" y2="403.6" stroke="#222" stroke-width="1" />
<text x="39" y="407.3" font-size="10.3" text-anchor="end" fill="#111" font-weight="normal" >0.1</text>
<line x1="77.5" y1="410.6" x2="77.5" y2="415.1" stroke="#222" stroke-width="1" />
<text x="77.5" y="425.5" font-size="10.3" text-anchor="middle" fill="#111" font-weight="normal" >35</text>
<line x1="109.3" y1="410.6" x2="109.3" y2="415.1" stroke="#222" stroke-width="1" />
<text x="109.3" y="425.5" font-size="10.3" text-anchor="middle" fill="#111" font-weight="normal" >40</text>
<line x1="141.1" y1="410.6" x2="141.1" y2="415.1" stroke="#222" stroke-width="1" />
<text x="141.1" y="425.5" font-size="10.3" text-anchor="middle" fill="#111" font-weight="normal" >45</text>
<line x1="172.9" y1="410.6" x2="172.9" y2="415.1" stroke="#222" stroke-width="1" />
<text x="172.9" y="425.5" font-size="10.3" text-anchor="middle" fill="#111" font-weight="normal" >50</text>
<line x1="204.7" y1="410.6" x2="204.7" y2="415.1" stroke="#222" stroke-width="1" />
<text x="204.7" y="425.5" font-size="10.3" text-anchor="middle" fill="#111" font-weight="normal" >55</text>
<text x="133.2" y="439.2" font-size="11.5" text-anchor="middle" fill="#111" font-weight="normal" textLength="142.5" lengthAdjust="spacingAndGlyphs" >Amplification start time (A.U.)</text>
<text x="13.6" y="336.8" font-size="11.5" text-anchor="middle" fill="#111" font-weight="normal" transform="rotate(-90 13.6 336.8)" textLength="116.4" lengthAdjust="spacingAndGlyphs" >Area under lorenz curve</text>
<text x="236.6" y="254.9" font-size="24.5" text-anchor="start" fill="#000" font-weight="bold" >d</text>
<line x1="385.5" y1="255.6" x2="385.5" y2="412.1" stroke="#2a2ad8" stroke-width="1.4" stroke-dasharray="7.5 5.5" stroke-dashoffset="4"/>
<circle cx="279.5" cy="263.8" r="2.3" fill="#e0262e"/>
<circle cx="301.9" cy="272.7" r="2.3" fill="#e0262e"/>
<circle cx="310.4" cy="269.6" r="2.3" fill="#e0262e"/>
<circle cx="320.9" cy="278.8" r="2.3" fill="#e0262e"/>
<circle cx="324.7" cy="280.1" r="2.3" fill="#e0262e"/>
<circle cx="330.1" cy="265.6" r="2.3" fill="#e0262e"/>
<circle cx="333.5" cy="283.5" r="2.3" fill="#e0262e"/>
<circle cx="336.4" cy="282.1" r="2.3" fill="#e0262e"/>
<circle cx="340.6" cy="266" r="2.3" fill="#e0262e"/>
<circle cx="349.1" cy="278.4" r="2.3" fill="#e0262e"/>
<circle cx="355" cy="272.4" r="2.3" fill="#e0262e"/>
<circle cx="370.1" cy="262.2" r="2.3" fill="#e0262e"/>
<circle cx="380.6" cy="263.3" r="2.3" fill="#e0262e"/>
<circle cx="381.2" cy="272.1" r="2.3" fill="#e0262e"/>
<circle cx="377.4" cy="269.2" r="2.3" fill="#000000"/>
<circle cx="390.9" cy="261.6" r="2.3" fill="#000000"/>
<circle cx="397.3" cy="264.7" r="2.3" fill="#000000"/>
<circle cx="404.1" cy="265.4" r="2.3" fill="#000000"/>
<circle cx="397.6" cy="271" r="2.3" fill="#000000"/>
<circle cx="415" cy="266.7" r="2.3" fill="#000000"/>
<circle cx="421.5" cy="273" r="2.3" fill="#000000"/>
<circle cx="428" cy="277.7" r="2.3" fill="#000000"/>
<circle cx="433.8" cy="278.1" r="2.3" fill="#000000"/>
<circle cx="391.5" cy="297.1" r="2.3" fill="#000000"/>
<circle cx="389.3" cy="305.9" r="2.3" fill="#000000"/>
<circle cx="411.7" cy="309.2" r="2.3" fill="#000000"/>
<circle cx="429.3" cy="306.3" r="2.3" fill="#000000"/>
<circle cx="391.8" cy="323.9" r="2.3" fill="#000000"/>
<circle cx="435.6" cy="332.7" r="2.3" fill="#000000"/>
<circle cx="388.8" cy="341.9" r="2.3" fill="#000000"/>
<circle cx="397.3" cy="406.3" r="2.3" fill="#000000"/>
<path d="M273.6 412.1V255.6" stroke="#1a1a1a" stroke-width="1.1" fill="none"/>
<path d="M273.1 255.6H441.6" stroke="#5a5a5a" stroke-width="1.2" fill="none"/>
<path d="M273.6 412.1H441.6V255.6" stroke="#38386a" stroke-width="1.0" fill="none"/>
<line x1="268.1" y1="255.6" x2="273.6" y2="255.6" stroke="#222" stroke-width="1" />
<text x="266" y="259.3" font-size="10.3" text-anchor="end" fill="#111" font-weight="normal" >1.0</text>
<line x1="268.1" y1="288.04" x2="273.6" y2="288.04" stroke="#222" stroke-width="1" />
<text x="266" y="291.74" font-size="10.3" text-anchor="end" fill="#111" font-weight="normal" >0.8</text>
<line x1="268.1" y1="320.48" x2="273.6" y2="320.48" stroke="#222" stroke-width="1" />
<text x="266" y="324.18" font-size="10.3" text-anchor="end" fill="#111" font-weight="normal" >0.6</text>
<line x1="268.1" y1="352.92" x2="273.6" y2="352.92" stroke="#222" stroke-width="1" />
<text x="266" y="356.62" font-size="10.3" text-anchor="end" fill="#111" font-weight="normal" >0.4</text>
<line x1="268.1" y1="385.36" x2="273.6" y2="385.36" stroke="#222" stroke-width="1" />
<text x="266" y="389.06" font-size="10.3" text-anchor="end" fill="#111" font-weight="normal" >0.2</text>
<line x1="305.6" y1="412.1" x2="305.6" y2="416.6" stroke="#222" stroke-width="1" />
<text x="305.6" y="425.5" font-size="10.3" text-anchor="middle" fill="#111" font-weight="normal" >35</text>
<line x1="337.5" y1="412.1" x2="337.5" y2="416.6" stroke="#222" stroke-width="1" />
<text x="337.5" y="425.5" font-size="10.3" text-anchor="middle" fill="#111" font-weight="normal" >40</text>
<line x1="369.4" y1="412.1" x2="369.4" y2="416.6" stroke="#222" stroke-width="1" />
<text x="369.4" y="425.5" font-size="10.3" text-anchor="middle" fill="#111" font-weight="normal" >45</text>
<line x1="401.3" y1="412.1" x2="401.3" y2="416.6" stroke="#222" stroke-width="1" />
<text x="401.3" y="425.5" font-size="10.3" text-anchor="middle" fill="#111" font-weight="normal" >50</text>
<line x1="433.2" y1="412.1" x2="433.2" y2="416.6" stroke="#222" stroke-width="1" />
<text x="433.2" y="425.5" font-size="10.3" text-anchor="middle" fill="#111" font-weight="normal" >55</text>
<text x="361.3" y="439.2" font-size="11.5" text-anchor="middle" fill="#111" font-weight="normal" textLength="142.5" lengthAdjust="spacingAndGlyphs" >Amplification start time (A.U.)</text>
<text x="244.9" y="325.8" font-size="11.5" text-anchor="middle" fill="#111" font-weight="normal" transform="rotate(-90 244.9 325.8)" textLength="54" lengthAdjust="spacingAndGlyphs" >Correlation</text>
<text x="466.6" y="254.9" font-size="25" text-anchor="start" fill="#000" font-weight="bold" >e</text>
<line x1="574.8" y1="255.6" x2="574.8" y2="412.6" stroke="#2a2ad8" stroke-width="1.4" stroke-dasharray="7.5 5.5" stroke-dashoffset="4"/>
<circle cx="578.2" cy="273" r="2.3" fill="#e0262e"/>
<circle cx="588.5" cy="263.7" r="2.3" fill="#e0262e"/>
<circle cx="594.6" cy="262.4" r="2.3" fill="#e0262e"/>
<circle cx="600.8" cy="272.3" r="2.3" fill="#e0262e"/>
<circle cx="608.2" cy="278.8" r="2.3" fill="#e0262e"/>
<circle cx="612.4" cy="279.2" r="2.3" fill="#e0262e"/>
<circle cx="612.2" cy="282.6" r="2.3" fill="#e0262e"/>
<circle cx="615.8" cy="283.9" r="2.3" fill="#e0262e"/>
<circle cx="615.1" cy="266.5" r="2.3" fill="#e0262e"/>
<circle cx="626.3" cy="280.3" r="2.3" fill="#e0262e"/>
<circle cx="631.9" cy="266" r="2.3" fill="#e0262e"/>
<circle cx="631.5" cy="270.5" r="2.3" fill="#e0262e"/>
<circle cx="648.2" cy="273" r="2.3" fill="#e0262e"/>
<circle cx="667.2" cy="263.8" r="2.3" fill="#e0262e"/>
<circle cx="543.1" cy="265.6" r="2.3" fill="#000000"/>
<circle cx="548" cy="266.9" r="2.3" fill="#000000"/>
<circle cx="549.8" cy="265.1" r="2.3" fill="#000000"/>
<circle cx="553.6" cy="269.4" r="2.3" fill="#000000"/>
<circle cx="559.2" cy="273" r="2.3" fill="#000000"/>
<circle cx="563" cy="271.2" r="2.3" fill="#000000"/>
<circle cx="562.8" cy="261.8" r="2.3" fill="#000000"/>
<circle cx="525.9" cy="278.6" r="2.3" fill="#000000"/>
<circle cx="527.9" cy="278.1" r="2.3" fill="#000000"/>
<circle cx="553.8" cy="297.6" r="2.3" fill="#000000"/>
<circle cx="543.1" cy="306.5" r="2.3" fill="#000000"/>
<circle cx="561.7" cy="309.7" r="2.3" fill="#000000"/>
<circle cx="571.5" cy="305.9" r="2.3" fill="#000000"/>
<circle cx="545.6" cy="324.4" r="2.3" fill="#000000"/>
<circle cx="510.7" cy="333.4" r="2.3" fill="#000000"/>
<circle cx="541.1" cy="342.5" r="2.3" fill="#000000"/>
<circle cx="573.1" cy="407.2" r="2.3" fill="#000000"/>
<path d="M504.5 412.6V255.6" stroke="#1a1a1a" stroke-width="1.1" fill="none"/>
<path d="M504.0 255.6H674.2" stroke="#5a5a5a" stroke-width="1.2" fill="none"/>
<path d="M504.5 412.6H674.2V255.6" stroke="#38386a" stroke-width="1.0" fill="none"/>
<line x1="499" y1="257" x2="504.5" y2="257" stroke="#222" stroke-width="1" />
<text x="497" y="260.7" font-size="10.3" text-anchor="end" fill="#111" font-weight="normal" >1.0</text>
<line x1="499" y1="289.3" x2="504.5" y2="289.3" stroke="#222" stroke-width="1" />
<text x="497" y="293" font-size="10.3" text-anchor="end" fill="#111" font-weight="normal" >0.8</text>
<line x1="499" y1="321.6" x2="504.5" y2="321.6" stroke="#222" stroke-width="1" />
<text x="497" y="325.3" font-size="10.3" text-anchor="end" fill="#111" font-weight="normal" >0.6</text>
<line x1="499" y1="353.9" x2="504.5" y2="353.9" stroke="#222" stroke-width="1" />
<text x="497" y="357.6" font-size="10.3" text-anchor="end" fill="#111" font-weight="normal" >0.4</text>
<line x1="499" y1="386.2" x2="504.5" y2="386.2" stroke="#222" stroke-width="1" />
<text x="497" y="389.9" font-size="10.3" text-anchor="end" fill="#111" font-weight="normal" >0.2</text>
<line x1="512.1" y1="412.6" x2="512.1" y2="417.1" stroke="#222" stroke-width="1" />
<text x="512.1" y="429.8" font-size="10.3" text-anchor="middle" fill="#111" font-weight="normal" >0.1</text>
<line x1="560.8" y1="412.6" x2="560.8" y2="417.1" stroke="#222" stroke-width="1" />
<text x="560.8" y="429.8" font-size="10.3" text-anchor="middle" fill="#111" font-weight="normal" >0.15</text>
<line x1="609.5" y1="412.6" x2="609.5" y2="417.1" stroke="#222" stroke-width="1" />
<text x="609.5" y="429.8" font-size="10.3" text-anchor="middle" fill="#111" font-weight="normal" >0.2</text>
<line x1="658.2" y1="412.6" x2="658.2" y2="417.1" stroke="#222" stroke-width="1" />
<text x="658.2" y="429.8" font-size="10.3" text-anchor="middle" fill="#111" font-weight="normal" >0.25</text>
<text x="590.6" y="441" font-size="11.5" text-anchor="middle" fill="#111" font-weight="normal" textLength="117.2" lengthAdjust="spacingAndGlyphs" >Area under lorenz curve</text>
<text x="475.9" y="325.8" font-size="11.5" text-anchor="middle" fill="#111" font-weight="normal" transform="rotate(-90 475.9 325.8)" textLength="54" lengthAdjust="spacingAndGlyphs" >Correlation</text>
<text x="1.4" y="454.8" font-size="24.5" text-anchor="start" fill="#000" font-weight="bold" >f</text>
<rect x="52.3" y="481.1" width="45" height="8.8" fill="#c4c4c4" opacity="0.8"/>
<rect x="97.3" y="479.2" width="12.31" height="8.8" fill="#c4c4c4" opacity="0.8"/>
<rect x="109.61" y="485.5" width="8.94" height="8.8" fill="#c4c4c4" opacity="0.8"/>
<rect x="118.55" y="481.1" width="33.38" height="8.8" fill="#c4c4c4" opacity="0.8"/>
<rect x="151.93" y="472.6" width="1.12" height="8.8" fill="#c4c4c4" opacity="0.8"/>
<rect x="153.05" y="485.3" width="1.25" height="8.8" fill="#c4c4c4" opacity="0.8"/>
<rect x="154.3" y="481.1" width="5.81" height="8.8" fill="#c4c4c4" opacity="0.8"/>
<rect x="160.11" y="485.3" width="1.25" height="8.8" fill="#c4c4c4" opacity="0.8"/>
<rect x="161.36" y="481.1" width="35.94" height="8.8" fill="#c4c4c4" opacity="0.8"/>
<rect x="197.3" y="484.1" width="1.56" height="8.8" fill="#c4c4c4" opacity="0.8"/>
<rect x="198.86" y="481.1" width="11.56" height="8.8" fill="#c4c4c4" opacity="0.8"/>
<rect x="210.43" y="484.3" width="1.88" height="8.8" fill="#c4c4c4" opacity="0.8"/>
<rect x="212.3" y="481.1" width="3.75" height="8.8" fill="#c4c4c4" opacity="0.8"/>
<rect x="216.05" y="479.3" width="6.25" height="8.8" fill="#c4c4c4" opacity="0.8"/>
<rect x="222.3" y="481.1" width="10" height="8.8" fill="#c4c4c4" opacity="0.8"/>
<rect x="232.3" y="484.3" width="10" height="8.8" fill="#c4c4c4" opacity="0.8"/>
<path d="M52.6 483.8h0.8m-0.2 3.6h0.8m-0.6 -1.2h0.8m-0.8 1.9h0.8m-0.7 -1h0.8m-0.8 -0.3h0.8m-0.3 -0.9h0.8m-0.7 3h0.8m-0.4 -3.3h0.8m-0.7 -0.9h0.8m-0.8 -0.6h0.8m-0.4 -4.2h0.8m-0.7 3.8h0.8m-0.5 2.4h0.8m-0.8 6.8h0.8m-0.7 -10.3h0.8m-0.5 3.3h0.8m-0.7 2.1h0.8m-0.8 -1.3h0.8m-0.5 -2.2h0.8m-0.7 -6.3h0.8m-0.6 8.5h0.8m-0.7 -6.3h0.8m-0.5 4.7h0.8m-0.7 4.5h0.8m-0.5 -4.4h0.8m-0.7 5.2h0.8m-0.4 -7.3h0.8m-0.7 6.9h0.8m-0.8 4.4h0.8m-0.6 -13.2h0.8m-0.7 0.6h0.8m-0.2 3.4h0.8m-0.4 0.6h0.8m-0.1 -7.7h0.8m-0.7 13.5h0.8m-0.8 -4.3h0.8m-0.8 -2.1h0.8m-0.7 0.7h0.8m-0.6 4.4h0.8m-0.8 -5.3h0.8m-0.7 4.3h0.8m-0.6 1.2h0.8m-0.8 -6.3h0.8m-0.8 2.4h0.8m-0.7 -1.6h0.8m-0.7 0.3h0.8m-0.7 -0.6h0.8m-0.5 0.3h0.8m-0.7 -1.8h0.8m-0.8 3.2h0.8m-0.7 7h0.8m-0.4 -5.2h0.8m-0.5 0.6h0.8m-0.7 -0.6h0.8m-0.8 5h0.8m-0.7 -8.6h0.8m-0.7 -4.3h0.8m-0.7 0.9h0.8m-0.5 -7.7h0.8m-0.7 11h0.8m-0.8 2.5h0.8m-0.7 -6.1h0.8m-0.8 1.9h0.8m-0.8 -0.2h0.8m-0.7 6.2h0.8m-0.7 0.1h0.8m-0.6 -3.9h0.8m-0.7 -3.3h0.8m-0.7 5.2h0.8m-0.7 0.7h0.8m-0.7 -0.5h0.8m-0.6 -1.2h0.8m-0.5 -0.3h0.8m-0.8 -1.5h0.8m-0.7 -1.8h0.8m-0.8 5.4h0.8m-0.5 0.1h0.8m-0.8 -4.9h0.8m-0.4 11h0.8m-0.4 -7.6h0.8m-0.7 -1.8h0.8m-0.7 9.3h0.8m-0.7 -5.7h0.8m-0.7 0.4h0.8m-0.5 -4.8h0.8m-0.7 2.4h0.8m-0.7 0h0.8m-0.7 -3.8h0.8m-0.8 2h0.8m-0.7 -0.8h0.8m-0.6 -1h0.8m-0.8 3.2h0.8m-0.8 -2h0.8m-0.3 -1.4h0.8m-0.8 2.3h0.8m-0.8 -0.4h0.8m-0.6 -2.5h0.8m-0.5 7.5h0.8m-0.7 -7.7h0.8m-0.8 2.7h0.8m-0.6 0.1h0.8m-0.8 4.5h0.8m-0.8 -6h0.8m-0.8 -2.6h0.8m-0.7 6.2h0.8m-0.8 1.1h0.8m-0.5 -0.6h0.8m-0.6 -2.6h0.8m-0.7 -2.2h0.8m-0.6 0.5h0.8m-0.8 2.1h0.8m-0.7 2.1h0.8m-0.4 -2.3h0.8m-0.8 2.1h0.8m-0.5 1.2h0.8m-0.1 -0.5h0.8m-0.5 -0.4h0.8m-0.7 -3.9h0.8m-0.6 2.3h0.8m-0.7 0.9h0.8m-0.8 1.9h0.8m-0.8 -3.8h0.8m-0.7 -0.4h0.8m-0.4 3.3h0.8m-0.8 -6.7h0.8m-0.7 5.3h0.8m-0.8 6.1h0.8m-0.3 -7.9h0.8m-0.7 5.8h0.8m-0.2 -3.7h0.8m-0.5 -0.5h0.8m-0.8 2.7h0.8m-0.7 -0.1h0.8m-0.3 -4.5h0.8m-0.7 -3.1h0.8m-0.8 10.3h0.8m-0.7 -9.5h0.8m-0.8 6.8h0.8m-0.7 3h0.8m-0.8 -5.1h0.8m-0.5 -3.6h0.8m-0.7 0.7h0.8m-0.2 4.1h0.8m-0.1 -3.8h0.8m-0.7 4.1h0.8m-0.8 -2.5h0.8m-0.8 2.7h0.8m-0.7 -0.4h0.8m-0.5 -1.3h0.8m-0.8 -4.7h0.8m-0.8 3.7h0.8m-0.8 -2.8h0.8m-0.8 -4.5h0.8m-0.6 8.7h0.8m-0.5 3.1h0.8m-0.7 -10.6h0.8m-0.6 1.8h0.8m-0.5 -0.6h0.8m-0.5 9h0.8m-0.7 -2.9h0.8m-0.3 -3.1h0.8m-0.6 5.9h0.8m-0.8 -6.7h0.8m-0.7 3.9h0.8m-0.8 1.7h0.8m-0.6 -0.8h0.8m-0.7 -0.4h0.8m-0.8 -1.9h0.8m-0.7 0.5h0.8m-0.7 2.1h0.8m-0.6 -2.1h0.8m-0.4 0.5h0.8m-0.8 -1h0.8m-0.7 4.3h0.8m-0.7 -7h0.8m-0.5 5.1h0.8m-0.6 6.9h0.8m-0.8 -9.9h0.8m-0.8 2h0.8m-0.6 3h0.8m-0.7 0.6h0.8m-0.7 -2h0.8m-0.6 -1.4h0.8m-0.7 3.3h0.8m-0.7 -2.1h0.8m-0.7 -3.6h0.8m-0.8 -2.3h0.8m-0.8 1.1h0.8m-0.7 0.9h0.8m-0.6 -0.9h0.8m-0.7 1.1h0.8m-0.5 1.2h0.8m-0.8 4.2h0.8m-0.8 -7.1h0.8m-0.8 0.6h0.8m-0.7 7.5h0.8m-0.5 -1.9h0.8m-0.8 -3.5h0.8m-0.7 -0.9h0.8m-0.8 5.2h0.8m-0.7 -6.8h0.8m-0.8 5.1h0.8m-0.6 -0.6h0.8m-0.3 -2.9h0.8m-0.6 5.2h0.8m-0.7 -2h0.8m-0.7 -0.2h0.8m-0.6 -6.5h0.8m-0.7 3h0.8m-0.7 3h0.8m-0.7 3h0.8m-0.7 -2.8h0.8m-0.8 1.2h0.8m-0.7 -1.2h0.8m-0.7 -2h0.8m-0.8 -1.9h0.8m-0.6 1.5h0.8m-0.5 -1h0.8m-0.6 -1.5h0.8m-0.7 3.6h0.8m-0.6 -3.1h0.8m-0.6 0.9h0.8m-0.7 3.2h0.8m-0.8 1.3h0.8m-0.7 -2.7h0.8m-0.5 -4.4h0.8m-0.7 4.2h0.8m-0.8 -1.6h0.8m-0.8 0h0.8m-0.7 3h0.8m-0.5 -5.6h0.8m-0.7 5.6h0.8m-0.8 -9.1h0.8m-0.6 12h0.8m-0.8 -3.7h0.8m-0.8 -4.3h0.8m-0.8 5.4h0.8m-0.7 0.6h0.8m-0.6 -0.4h0.8m-0.8 1h0.8m-0.7 0.2h0.8m-0.8 -2.4h0.8m-0.5 1.3h0.8m-0.6 -2.2h0.8m-0.8 0.3h0.8m-0.4 -1.9h0.8m-0.8 8h0.8m-0.7 -5.6h0.8m-0.7 -3.5h0.8m-0.6 9h0.8m-0.6 -3.4h0.8m-0.8 1.5h0.8m-0.8 -0.8h0.8m-0.7 -6.2h0.8m-0.5 7.5h0.8m-0.7 -4.6h0.8m-0.4 4.8h0.8m0 -8.8h0.8m-0.7 9.3h0.8m-0.8 -7.5h0.8m-0.8 -1.4h0.8m-0.7 5.9h0.8m-0.7 -2.6h0.8m-0.7 5.2h0.8m-0.3 -1.1h0.8m-0.8 -5.2h0.8m-0.7 5.9h0.8m-0.8 1.2h0.8m-0.7 -4h0.8m-0.7 -1.1h0.8m-0.8 0.5h0.8m-0.8 2.8h0.8m-0.5 -5.5h0.8m-0.6 3.3h0.8m-0.6 2.9h0.8m-0.8 -6.6h0.8m-0.7 -1.8h0.8m-0.8 4.8h0.8m-0.7 -1h0.8m-0.8 1.9h0.8m-0.6 3.6h0.8m-0.7 -10.1h0.8m-0.5 5.8h0.8m-0.7 -4h0.8m-0.6 3.4h0.8m-0.8 -1.3h0.8m-0.7 -0.6h0.8m-0.7 -0.3h0.8m-0.8 -0.6h0.8m-0.7 7h0.8m-0.7 -2.2h0.8m-0.7 -1.1h0.8m-0.8 0.6h0.8m-0.7 -2.4h0.8m-0.7 2.1h0.8m-0.6 -2h0.8m-0.8 -2.4h0.8m-0.7 -1.3h0.8m-0.6 8.2h0.8m-0.7 2.1h0.8m-0.8 -8.3h0.8m-0.6 -2.7h0.8m-0.7 2.1h0.8m-0.8 3.7h0.8m-0.6 0.7h0.8m-0.6 -0.6h0.8m-0.4 -0.3h0.8m-0.8 -6h0.8m-0.5 5h0.8m-0.8 -4.2h0.8m-0.8 4.7h0.8m-0.1 -5.7h0.8m-0.8 4.3h0.8m-0.7 3.5h0.8m-0.6 -6.2h0.8m-0.7 5.4h0.8m-0.5 -6.3h0.8m-0.6 4.8h0.8m-0.7 -7.7h0.8m-0.6 8.9h0.8m-0.8 -7.7h0.8m-0.8 4.8h0.8m-0.7 0.3h0.8m-0.8 -0.8h0.8m-0.3 -3.7h0.8m-0.3 6.7h0.8m-0.7 -2.6h0.8m-0.8 1.7h0.8m-0.5 0.2h0.8m-0.8 2.3h0.8m-0.7 0.3h0.8m-0.7 -2.7h0.8m-0.8 -4.4h0.8m-0.3 1.7h0.8m-0.7 4.6h0.8m-0.8 -5.8h0.8m-0.6 -0.6h0.8m-0.6 -0.4h0.8m-0.8 0.1h0.8m-0.8 5.8h0.8m-0.6 -0.1h0.8m-0.7 -2.1h0.8m-0.7 -4.1h0.8m-0.6 6.9h0.8m-0.6 -5.7h0.8m-0.7 1.1h0.8m-0.1 0.5h0.8m-0.7 -0.1h0.8m-0.8 5.8h0.8m-0.6 -8.7h0.8m-0.7 0.6h0.8m-0.6 5h0.8m-0.8 -6.3h0.8m-0.7 6.2h0.8m-0.6 -2.1h0.8m-0.7 2.5h0.8m-0.7 -2.7h0.8m-0.6 3.8h0.8m-0.8 0.1h0.8m-0.8 -1.3h0.8m-0.7 -3.7h0.8m-0.7 4h0.8m-0.6 -2.3h0.8m-0.6 -2.6h0.8m-0.8 3.8h0.8m-0.7 4h0.8m-0.7 -8.3h0.8m-0.6 4.7h0.8m-0.7 -3.4h0.8m-0.5 1.6h0.8m-0.5 4.8h0.8m-0.3 -6.8h0.8m-0.8 2h0.8m-0.6 -1.1h0.8m-0.6 -1.1h0.8m-0.6 2.1h0.8m-0.7 -0.6h0.8m-0.7 1.2h0.8m-0.6 4.2h0.8m-0.5 -7.3h0.8m-0.8 1.1h0.8m-0.7 -0.2h0.8m-0.8 2.8h0.8m-0.7 -1.8h0.8m-0.8 -3.9h0.8m-0.7 3.9h0.8m-0.7 0.1h0.8m-0.7 -3.4h0.8m-0.8 5.4h0.8m-0.6 0.3h0.8m-0.7 -10.3h0.8m-0.7 9.1h0.8m-0.6 -4.6h0.8m-0.5 9h0.8m-0.4 -7.2h0.8m-0.7 -2.7h0.8m-0.7 2.4h0.8m-0.8 5.3h0.8m-0.8 -4.5h0.8m-0.8 2.4h0.8m-0.5 6h0.8m-0.7 2.5h0.8m-0.6 -0.8h0.8m-0.4 -0.4h0.8m-0.7 -3.1h0.8m-0.8 3.7h0.8m-0.7 -5.8h0.8m-0.6 0.1h0.8m-0.6 8.5h0.8m-0.7 -5.3h0.8m-0.8 3.4h0.8m-0.8 -8.1h0.8m-0.5 3.3h0.8m-0.8 2.4h0.8m-0.7 -0.1h0.8m-0.7 -5.6h0.8m-0.7 6.7h0.8m-0.7 -2.8h0.8m-0.6 -1.7h0.8m-0.5 2.4h0.8m-0.8 0h0.8m-0.7 5.4h0.8m-0.7 -5.2h0.8m-0.4 1.8h0.8m-0.8 -10h0.8m-0.6 10.3h0.8m-0.7 0.4h0.8m-0.3 1.9h0.8m-0.8 -1.5h0.8m-0.6 -2.6h0.8m-0.6 5.6h0.8m-0.6 -8.2h0.8m-0.6 0.6h0.8m-0.8 4.4h0.8m-0.6 -1.9h0.8m-0.8 -2.5h0.8m-0.7 2.8h0.8m-0.8 -3.1h0.8m-0.6 5.9h0.8m-0.2 -0.1h0.8m-0.6 -8.4h0.8m-0.7 2.7h0.8m-0.5 3.3h0.8m-0.8 -1.7h0.8m-0.7 0.2h0.8m-0.8 0.2h0.8m-0.8 -0.6h0.8m-0.7 -2.8h0.8m-0.7 -0.6h0.8m-0.7 4.5h0.8m-0.6 -4.4h0.8m-0.2 6.3h0.8m-0.8 -1.4h0.8m-0.7 -0.6h0.8m-0.5 -1.9h0.8m-0.7 1.3h0.8m-0.7 1.4h0.8m-0.7 -4.2h0.8m-0.7 3.7h0.8m-0.7 -0.8h0.8m-0.7 0.2h0.8m-0.7 -2.2h0.8m-0.7 -0.7h0.8m-0.8 3.7h0.8m-0.6 -4.6h0.8m-0.2 3.2h0.8m-0.7 -4.6h0.8m-0.8 3.1h0.8m-0.5 -1.8h0.8m-0.7 -1.5h0.8m-0.2 6.2h0.8m-0.7 -2.3h0.8m-0.6 -0.1h0.8m-0.7 -2.8h0.8m-0.6 5.1h0.8m-0.7 -1h0.8m-0.8 -3h0.8m-0.7 7.7h0.8m-0.8 -8.5h0.8m-0.6 2.9h0.8m-0.8 -3.1h0.8m-0.6 -0.1h0.8m-0.5 -2.6h0.8m-0.6 0.3h0.8m-0.7 0.9h0.8m-0.7 1.8h0.8m-0.8 1.1h0.8m-0.5 0.5h0.8m-0.4 -2.6h0.8m-0.8 7.1h0.8m-0.5 -5.2h0.8m-0.6 -4.1h0.8m-0.7 2.7h0.8m-0.7 -2.7h0.8m-0.6 -1.1h0.8m-0.7 6.6h0.8m-0.8 0.1h0.8m-0.7 -4.7h0.8m-0.8 4h0.8m-0.6 -0.7h0.8m-0.8 -1.5h0.8m-0.6 2.7h0.8m-0.6 -1h0.8m-0.8 -8.2h0.8m-0.5 6.7h0.8m-0.8 -3.4h0.8m-0.7 3.4h0.8m-0.8 2.5h0.8m-0.8 0h0.8m-0.7 -3h0.8m-0.7 0.3h0.8m-0.8 -1h0.8m-0.7 3h0.8m-0.6 -2.5h0.8m-0.6 4.3h0.8m-0.6 -3.1h0.8m-0.6 2h0.8m-0.6 -10.1h0.8m-0.7 8.2h0.8m-0.7 0.6h0.8m-0.6 -0.7h0.8m-0.6 -3.2h0.8m-0.7 7.3h0.8m-0.8 -1.3h0.8m-0.7 -1.6h0.8m-0.3 0.1h0.8m-0.7 -7.1h0.8m-0.6 15.5h0.8m-0.7 -9.9h0.8m-0.6 6.3h0.8m-0.7 -7.7h0.8m-0.6 7.5h0.8m-0.6 -7.1h0.8m-0.6 6.2h0.8m-0.8 -4.9h0.8m-0.7 -3.2h0.8m-0.7 -5.2h0.8m-0.4 11.2h0.8m-0.3 -0.3h0.8m-0.7 -2.2h0.8m-0.7 1.7h0.8m-0.8 -9.5h0.8m-0.8 4.8h0.8m-0.5 6.2h0.8m-0.5 -4.1h0.8m-0.8 -1.2h0.8m-0.7 4.1h0.8m-0.7 3.2h0.8m-0.8 -10.8h0.8m-0.6 2.9h0.8m-0.7 5.8h0.8m-0.4 -5.2h0.8m-0.5 -4.8h0.8m-0.7 8.6h0.8m-0.7 -2.4h0.8m-0.3 -3.8h0.8m-0.8 4.2h0.8m-0.6 -2.9h0.8m-0.5 0.5h0.8m-0.5 -0.5h0.8m-0.5 5.7h0.8m-0.8 -4.2h0.8m-0.6 0h0.8m-0.7 1.3h0.8m-0.8 6.4h0.8m-0.7 -0.8h0.8m-0.7 -8.7h0.8m-0.6 -0.6h0.8m-0.8 -1.2h0.8m-0.7 5h0.8m-0.8 -10.5h0.8m-0.7 9.9h0.8m-0.5 1.3h0.8m-0.7 -0.1h0.8m-0.3 -4h0.8m-0.7 0.9h0.8m-0.7 6.1h0.8m-0.7 -4.5h0.8m-0.8 -0.7h0.8m-0.3 -1.8h0.8m-0.7 8h0.8m-0.8 -8.7h0.8m-0.7 0.9h0.8m-0.6 0.2h0.8m-0.7 -1.7h0.8m-0.7 6.9h0.8m-0.7 -1.9h0.8m-0.8 -1h0.8m-0.5 -8.4h0.8m-0.7 6.8h0.8m-0.7 4.2h0.8m-0.7 1.6h0.8m-0.8 -1.8h0.8m-0.6 -1.4h0.8m-0.8 1.4h0.8m-0.8 1.7h0.8m-0.7 -7.6h0.8m-0.8 0.7h0.8m-0.7 0.3h0.8m-0.8 9.2h0.8m-0.7 -8.7h0.8m-0.8 4.5h0.8m-0.6 -5.9h0.8m-0.4 4h0.8m-0.7 -3.1h0.8m-0.7 -1h0.8m-0.8 0.8h0.8m-0.8 7.4h0.8m-0.6 -1.6h0.8m-0.7 -4.8h0.8m-0.7 6.4h0.8m-0.3 -6h0.8m-0.7 1.5h0.8m-0.8 -1.9h0.8m-0.6 -0.1h0.8m-0.7 -3.5h0.8m-0.7 4h0.8m-0.7 3.4h0.8m-0.5 2.6h0.8m-0.8 -4.8h0.8m-0.5 1.4h0.8m-0.3 -3.8h0.8m-0.7 4.6h0.8m-0.8 -4.7h0.8m-0.8 3.4h0.8m-0.7 -6h0.8m-0.5 2.5h0.8m-0.8 4.4h0.8m0.1 -1.5h0.8m-0.7 1.6h0.8m-0.7 2.8h0.8m-0.8 -1.3h0.8m-0.7 -2.1h0.8m-0.7 -4.3h0.8m-0.8 4.6h0.8m-0.6 -0.4h0.8m-0.7 -1.3h0.8m-0.8 -2.7h0.8m-0.8 -2h0.8m-0.6 4.7h0.8m-0.8 -1.6h0.8m-0.2 6.2h0.8m-0.7 4.3h0.8m-0.7 -9.6h0.8m-0.8 -0.6h0.8m-0.7 -1.2h0.8m-0.1 1.8h0.8m-0.8 -2.9h0.8m-0.6 3.5h0.8m-0.7 -1.8h0.8m-0.8 1.6h0.8m-0.8 2.5h0.8m-0.5 -2.7h0.8m-0.8 0.9h0.8m-0.8 1h0.8m-0.3 1.2h0.8m-0.8 -0.5h0.8m-0.7 -4h0.8m-0.7 3.3h0.8m-0.6 -2.3h0.8m-0.7 0.3h0.8m-0.8 2.5h0.8m-0.5 -3.1h0.8m-0.6 -9.2h0.8m-0.7 10.3h0.8m-0.7 4.7h0.8m-0.8 -6.8h0.8m-0.5 -4h0.8m-0.5 6.3h0.8m-0.7 0h0.8m-0.7 1.9h0.8m-0.8 -2.5h0.8m-0.7 2.3h0.8m-0.2 -1.5h0.8m-0.8 0h0.8m-0.7 -3.5h0.8m-0.7 -6.5h0.8m-0.7 11h0.8m-0.8 -0.2h0.8m-0.7 1h0.8m-0.5 -4.3h0.8m-0.5 5.9h0.8m-0.8 -4.7h0.8m-0.7 -0.6h0.8m-0.8 0.7h0.8m-0.7 2.3h0.8m-0.6 -0.9h0.8m-0.8 3.1h0.8m-0.6 -3.6h0.8m-0.8 0h0.8m-0.7 -5.9h0.8m-0.8 5.3h0.8m-0.8 -1.9h0.8m-0.8 5.6h0.8m-0.6 -0.9h0.8m-0 -9.3h0.8m-0.8 0.6h0.8m-0.7 3.2h0.8m-0.8 -1.3h0.8m-0.6 -5.2h0.8m-0.7 0.5h0.8m-0.5 2.3h0.8m-0.6 4.8h0.8m-0.4 12h0.8m-0.7 -3.2h0.8m-0.8 0.1h0.8m-0.6 4.2h0.8m-0.8 -7.5h0.8m-0.6 1.1h0.8m-0.6 -1.3h0.8m-0.4 -2.5h0.8m-0.6 -0.1h0.8m-0.7 -2.3h0.8m-0.8 5.5h0.8m-0.6 -0.3h0.8m-0.8 -7.9h0.8m-0.6 3.2h0.8m-0.5 3.2h0.8m-0.7 -3.3h0.8m-0.8 -0.4h0.8m-0.8 4.8h0.8m-0.6 -6.3h0.8m-0.8 3.8h0.8m-0.6 -2.4h0.8m-0.7 3.3h0.8m-0.7 -1.7h0.8m-0.8 -2.3h0.8m-0.4 5.2h0.8m-0.6 -1.9h0.8m-0.8 7.1h0.8m-0.6 -9.9h0.8m-0.7 2.2h0.8m-0.8 0.9h0.8m-0.7 -0.3h0.8m-0.7 -1.6h0.8m-0.8 1.6h0.8m-0.4 -3.7h0.8m-0.5 3h0.8m-0.6 2.6h0.8m-0.8 -6h0.8m-0.7 5.7h0.8m-0.5 -2.5h0.8m-0.6 0.9h0.8m-0.6 -1.7h0.8m-0.6 4.2h0.8m-0.7 -1.5h0.8m-0.7 1h0.8m-0.7 1.6h0.8m-0.8 -5.1h0.8m-0.3 -2.1h0.8m-0.7 3.8h0.8m-0.6 3.2h0.8m-0.7 1.2h0.8m-0.7 -1.3h0.8m-0.8 2.7h0.8m-0.8 -2.8h0.8m-0.7 3h0.8m-0.4 -5.7h0.8m-0.5 -3.6h0.8m-0.6 -0.3h0.8m-0.8 5.6h0.8m-0.6 -4.9h0.8m-0.4 6.5h0.8m-0.6 -5.4h0.8m-0.7 1.9h0.8m-0.7 -1h0.8m-0.6 1.6h0.8m-0.5 -0.1h0.8m-0.6 0.5h0.8m-0.6 -0.3h0.8m-0.6 -1.9h0.8m-0.6 0.4h0.8m-0.8 2h0.8m-0.7 -1.9h0.8m-0.5 -3.9h0.8m-0.5 -1h0.8m-0.8 8.3h0.8m-0.4 -8.6h0.8m-0.5 1.2h0.8m-0.7 8.6h0.8m-0.5 -1.9h0.8m-0.5 -4.5h0.8m-0.8 8.2h0.8m-0.8 -7.1h0.8m-0.7 -0.6h0.8m-0.3 0.5h0.8m-0.6 4.4h0.8m-0.7 -6.1h0.8m-0.6 2.3h0.8m-0.3 -4.6h0.8m-0.6 -4.3h0.8m-0.6 8.3h0.8m-0.7 0.7h0.8m-0.7 -1.6h0.8m-0.8 -1.7h0.8m-0.7 3.5h0.8m-0.7 -4.1h0.8m-0.7 7.3h0.8m-0.6 -0.7h0.8m-0.7 -6.5h0.8m-0.8 4.8h0.8m-0.6 0.2h0.8m-0.6 -0.2h0.8m-0.2 -2h0.8m-0.7 3.5h0.8m-0.7 -2.9h0.8m-0.7 -3.8h0.8m-0.8 4.2h0.8m-0.6 2.3h0.8m-0.8 -6.1h0.8m-0.6 4.8h0.8m-0.8 0.4h0.8m-0.5 -1h0.8m-0.5 1.1h0.8m-0.7 -0.6h0.8m-0.6 -0.7h0.8m-0.7 -2.7h0.8m-0.6 -3h0.8m-0.8 4.6h0.8m-0.7 3.5h0.8m-0.8 1.4h0.8m-0.3 -2.9h0.8m-0.8 -2.2h0.8m-0.8 -0.6h0.8m-0.7 8.7h0.8m-0.7 -8.8h0.8m-0.6 -1.8h0.8m-0.6 2.2h0.8m-0.8 4h0.8m-0.7 -1.9h0.8m-0.4 -5.9h0.8m-0.6 7h0.8m-0.5 -1.4h0.8m-0.7 -4h0.8m-0.6 6.8h0.8m-0.8 -0.4h0.8m-0.7 -2.4h0.8m-0.6 -1.1h0.8m-0.7 1.5h0.8m-0.8 -3.3h0.8m-0.7 3.7h0.8m-0.7 -0.3h0.8m-0.7 2h0.8m-0.8 -4.7h0.8m-0.8 0.8h0.8m-0.6 0.4h0.8m-0.7 -2.9h0.8m-0.8 3.5h0.8m-0.7 2h0.8m-0.6 -0.5h0.8m-0.4 -0.1h0.8m-0.5 1.2h0.8m-0.3 -5.4h0.8m-0.8 0.2h0.8m-0.4 2.1h0.8m-0.8 -1.1h0.8m-0.7 5.1h0.8m-0.8 -4.7h0.8m-0.4 -0.1h0.8m-0.8 -2.4h0.8m-0.7 9.3h0.8m-0.5 -3.5h0.8m-0.5 -3.5h0.8m-0.8 0.2h0.8m-0.8 0.6h0.8m-0.8 3.3h0.8m-0.8 -2.9h0.8m-0.8 3.3h0.8m-0.2 -3.2h0.8m-0.7 -5.1h0.8m-0.7 10.5h0.8m-0.7 -6.2h0.8m-0.5 -0.3h0.8m-0.6 -1.1h0.8m-0.7 0.8h0.8m-0.4 -2.1h0.8m-0.7 7.4h0.8m-0.6 -4.3h0.8m-0.6 -1.8h0.8m-0.7 5.3h0.8m-0.8 -8.2h0.8m-0.7 7.9h0.8m-0.8 -1.6h0.8m-0.7 -5.3h0.8m-0.7 -0.4h0.8m-0.6 -0.1h0.8m-0.8 2.7h0.8m-0.6 5.5h0.8m-0.5 -3.8h0.8m-0.8 -1.3h0.8m-0.4 -2.5h0.8m-0.5 3.6h0.8m-0.8 -1h0.8m-0.7 2h0.8m-0.8 1.1h0.8m-0.7 1.5h0.8m-0.7 1.9h0.8m-0.8 -2.4h0.8m-0.8 -0.8h0.8m-0.7 1.2h0.8m-0.8 -4.7h0.8m-0.5 -0.6h0.8m-0.2 4.9h0.8m-0.6 -2.5h0.8m-0.7 1.1h0.8m-0.7 0.5h0.8m-0.8 -6.3h0.8m-0.8 10.3h0.8m-0.7 -6.7h0.8m-0.7 1.8h0.8m-0.8 -0.8h0.8m-0.6 1.8h0.8m-0.7 -6.4h0.8m-0.7 4.4h0.8m-0.5 -0.7h0.8m-0.6 2.4h0.8m-0.5 -1.8h0.8m-0.4 3.2h0.8m-0.8 -7.4h0.8m-0.7 10.2h0.8m-0.7 -5.4h0.8m-0.6 -3.3h0.8m-0.8 7.7h0.8m-0.8 -5.6h0.8m-0.8 5.9h0.8m-0.6 -3.9h0.8m-0.6 3.3h0.8m-0.7 -2.9h0.8m-0.8 0.1h0.8m-0.4 -0.2h0.8m-0.7 1.2h0.8m-0.8 0.6h0.8m-0.8 -0.9h0.8m-0.7 0h0.8m-0.6 -3.2h0.8m-0.8 -1.4h0.8m-0.5 1.7h0.8m-0.6 -0.2h0.8m-0.7 3h0.8m-0.8 -0.7h0.8m-0.7 1.9h0.8m-0.8 -1.5h0.8m-0.7 -6.4h0.8m-0.8 8.1h0.8m-0.7 -0.9h0.8m-0.8 -7.3h0.8m-0.6 6.6h0.8m-0.6 -3.9h0.8m-0.1 7.1h0.8m-0.6 -3h0.8m-0.7 3.5h0.8m-0.7 -6.7h0.8m-0.6 7.1h0.8m-0.7 -7.1h0.8m-0.8 -0.1h0.8m-0.8 5.5h0.8m-0.7 -3.8h0.8m-0.7 5.9h0.8m-0.7 -8.9h0.8m-0.8 -2.1h0.8m-0.7 4.2h0.8m-0.6 1.2h0.8m-0.6 -3.4h0.8m-0.2 -0.6h0.8m-0.8 2.2h0.8m-0.8 1.2h0.8m-0.7 -1.9h0.8m-0.6 -0.3h0.8m-0.8 -2h0.8m-0.7 6.1h0.8m-0.7 -3.3h0.8m-0.5 -7.2h0.8m-0.5 4.3h0.8m-0.6 -0.9h0.8m-0.6 3.6h0.8m-0.8 7.4h0.8m-0.5 -6.1h0.8m-0.7 6.9h0.8m-0.7 -8.6h0.8m-0.5 -0.7h0.8m-0.7 3.5h0.8m-0.8 -5.4h0.8m-0.7 6.2h0.8m-0.8 -4.8h0.8m-0.3 2.5h0.8m-0.7 -2.8h0.8m-0.8 -0.7h0.8m-0.8 2.2h0.8m-0.7 2.8h0.8m-0.6 -0.8h0.8m-0.8 -2.7h0.8m-0.7 4.4h0.8m-0.6 -3.6h0.8m-0.7 -1h0.8m-0.8 2.2h0.8m-0.6 0h0.8m-0.5 5.6h0.8m-0.8 -9.9h0.8m-0.7 8.3h0.8m-0.8 -9.9h0.8m-0.5 4.9h0.8m-0.7 3.8h0.8m-0.6 -2.8h0.8m-0.7 -0.6h0.8m-0.7 3h0.8m-0.8 -1.4h0.8m-0.6 0.7h0.8m-0.8 -7.6h0.8m-0.8 11.2h0.8m-0.6 -2.5h0.8m-0.5 -2.7h0.8m-0.6 4.8h0.8m-0.7 3.3h0.8m-0.7 -1.6h0.8m-0.7 -5.6h0.8m-0.8 5.1h0.8m-0.6 -3.2h0.8m-0.8 2.5h0.8m-0.7 -1.5h0.8m-0.4 -2h0.8m-0.5 1.5h0.8m-0.7 -1.9h0.8m-0.4 -6.3h0.8m-0.8 -0.7h0.8m-0.5 5h0.8m-0.7 0.5h0.8m-0.7 -2.3h0.8m-0.8 3.4h0.8m-0.7 -1.5h0.8m-0.8 0.2h0.8m-0.7 2.7h0.8m-0.8 0.8h0.8m-0.6 -4.6h0.8m-0.5 -0.9h0.8m-0.8 1.8h0.8m-0.8 0.6h0.8m-0.7 8.6h0.8m-0.8 -2.6h0.8m-0.8 -4.4h0.8m-0.4 -2.2h0.8m-0.7 0.9h0.8m-0.8 4.3h0.8m-0.7 -2.1h0.8m-0.7 -2.9h0.8m-0.5 2.9h0.8m-0.6 -3.7h0.8m-0.8 8.3h0.8m-0.8 -6.1h0.8m-0.6 1.2h0.8m-0.6 -6h0.8m-0.8 3.5h0.8m-0.7 -3.9h0.8m-0.7 8.3h0.8m-0.6 -3.3h0.8m-0.5 -2.7h0.8m-0.4 0.8h0.8m-0.6 0.5h0.8m-0.8 -3.9h0.8m-0.8 0.9h0.8m-0.1 1.8h0.8m-0.4 -0.2h0.8m-0.7 -0.2h0.8m-0.8 0.1h0.8m-0.7 7.4h0.8m-0.7 -9.7h0.8m-0.7 6.8h0.8m-0.8 -1.1h0.8m-0.8 -6.5h0.8m-0.6 3.5h0.8m-0.8 3.5h0.8m-0.4 3.8h0.8m-0.7 -8h0.8m-0.7 4.7h0.8m0.1 -2.9h0.8m-0.8 -0.1h0.8m-0.7 -0.4h0.8m-0.8 2.7h0.8m-0.6 -2.1h0.8m-0.6 0.4h0.8m-0.7 0.3h0.8m-0.7 -1h0.8m-0.7 -0.5h0.8m-0.6 -2h0.8m-0.6 0.5h0.8m-0.7 5.2h0.8m-0.8 1h0.8m-0.7 -5.1h0.8m-0.7 4.7h0.8m-0.7 -6.4h0.8m-0.3 6.6h0.8m-0.7 -0.2h0.8m-0.7 -1h0.8m-0.6 -8.8h0.8m-0.8 -1.1h0.8m-0.7 3.5h0.8m-0.7 3.2h0.8m-0.5 4.5h0.8m-0.8 -4.7h0.8m-0.6 1.8h0.8m-0.6 7.6h0.8m-0.7 -5.2h0.8m-0.6 -3.2h0.8m-0.7 1.6h0.8m-0.7 -1.9h0.8m-0.8 7.5h0.8m-0.7 -0.4h0.8m-0.7 -0.7h0.8m-0.7 -2h0.8m-0.2 1.3h0.8m-0.8 -3.1h0.8m-0.8 -1.3h0.8m-0.5 2.3h0.8m-0.7 -6.5h0.8m-0.7 1.9h0.8m-0.7 0.1h0.8m-0.8 0.2h0.8m-0.7 1.2h0.8m-0.7 4.7h0.8m-0.6 -1.6h0.8m-0.6 -7.6h0.8m-0.7 8.7h0.8m-0.7 0.2h0.8m-0.7 -0.4h0.8m-0.8 -2.9h0.8m-0.7 -0.2h0.8m-0.8 -4.3h0.8m-0.8 2.3h0.8m-0.6 -3.9h0.8m-0.7 4.8h0.8m-0.4 0.7h0.8m-0.4 3.6h0.8m-0.7 -6.6h0.8m-0.6 4.2h0.8m-0.6 -3.7h0.8m-0.7 -3.6h0.8m-0.6 5.9h0.8m-0.8 2.9h0.8m-0.8 -4.3h0.8m0.3 -0.9h0.8m-0.8 3.2h0.8m-0.6 -15.3h0.8m-0.8 13.3h0.8m-0.7 -0.1h0.8m-0.7 0.1h0.8m-0.6 -0.7h0.8m-0.6 -3h0.8m-0.7 3h0.8m-0.7 0.3h0.8m-0.8 1.6h0.8m-0.8 -6.3h0.8m-0.3 4.3h0.8m-0.7 -2.1h0.8m-0.7 1.9h0.8m-0.7 -2.2h0.8m-0.6 6.2h0.8m-0.8 0h0.8m-0.8 -4.8h0.8m-0.4 3.7h0.8m-0.7 -6.8h0.8m-0.3 7.3h0.8m-0.8 -4.3h0.8m-0.3 -2.2h0.8m-0.7 5.3h0.8m-0.8 -1.6h0.8m-0.6 3.4h0.8m-0.8 -10.5h0.8m-0.7 14.3h0.8m-0.5 -8.5h0.8m-0.7 1.4h0.8m-0.6 3.7h0.8m-0.5 -1h0.8m-0.7 -0.2h0.8m-0.7 -4.6h0.8m-0.8 7.7h0.8m-0.7 -5.7h0.8m-0.7 2.5h0.8m-0.6 -0.5h0.8m-0.8 -7.8h0.8m-0.7 6.1h0.8m-0.7 1h0.8m-0.7 -3.2h0.8m-0.6 2.7h0.8m-0.7 3.5h0.8m-0.8 -0.1h0.8m-0.7 -6.3h0.8m-0.4 0.9h0.8m-0.7 6.2h0.8m-0.5 -1.6h0.8m-0.8 -3.7h0.8m-0.5 1h0.8m-0.8 1.2h0.8m-0.5 -7.5h0.8m-0.6 15.2h0.8m-0.5 -8.2h0.8m-0.7 1.2h0.8m-0.6 -2.7h0.8m-0.6 0.1h0.8m-0.7 -0.8h0.8m-0.7 2.5h0.8m-0.7 0.6h0.8m-0.6 -4.4h0.8m-0.7 5.9h0.8m-0.8 -7.7h0.8m-0.8 -1.9h0.8m-0.5 2.7h0.8m-0.7 5.2h0.8m-0.7 0.5h0.8m-0.6 -0.1h0.8m-0.8 -0.8h0.8m-0.7 -1.6h0.8m0.1 1h0.8m-0.5 9.2h0.8m-0.8 -11.2h0.8m-0.8 -2.2h0.8m-0.6 5.7h0.8m-0.7 1.2h0.8m-0.5 -0.6h0.8m-0.6 -6.6h0.8m-0.7 3.5h0.8m-0.8 10.4h0.8m-0.8 -11.6h0.8m-0.7 4.2h0.8m-0.8 -1.6h0.8m-0.7 6h0.8m-0.8 -11.1h0.8m-0.7 -2.5h0.8m-0.8 5.3h0.8m-0.7 0h0.8m-0.8 3.6h0.8m-0.8 -4h0.8m-0.3 3.5h0.8m-0.7 -5.9h0.8m-0.7 7.7h0.8m-0.7 -4.6h0.8m-0.5 1.9h0.8m-0.7 -3.8h0.8m-0.8 0.5h0.8m-0.8 3.9h0.8m-0.6 -2.7h0.8m-0.8 3.6h0.8m-0.6 -1.7h0.8m-0.7 2.9h0.8m-0.4 -1.3h0.8m-0.7 0.6h0.8m-0.7 -0.5h0.8m-0.6 -3.9h0.8m-0.6 3.7h0.8m-0.4 -1.1h0.8m-0.7 0.2h0.8m-0.8 0.6h0.8m-0.3 -6.7h0.8m-0.5 10.7h0.8m-0.7 -0.2h0.8m-0.7 -6h0.8m-0.8 4.4h0.8m-0.8 -2.2h0.8m-0.7 -0.4h0.8m-0.8 4.1h0.8m-0.8 -2.7h0.8m-0.5 1.4h0.8m-0.8 -1.9h0.8m-0.6 -1.2h0.8m-0.2 6.9h0.8m-0.7 -7.8h0.8m-0.7 9.4h0.8m-0.6 -4.8h0.8m-0.7 -1.5h0.8m-0.7 2.6h0.8m-0.4 3.5h0.8m-0.8 -4.6h0.8m-0.6 -2.5h0.8m-0.8 6.6h0.8m-0.7 -1.9h0.8m-0.7 0.2h0.8m-0.7 0.2h0.8m-0.6 -0.6h0.8m-0.8 0.2h0.8m0.3 -6.8h0.8m-0.8 -1h0.8m-0.8 2h0.8m-0.7 6.2h0.8m-0.7 -4.1h0.8m-0.7 4.2h0.8m-0.8 -4.3h0.8m-0.7 2.8h0.8m-0.7 -0.6h0.8m-0.7 2h0.8m-0.8 -6.8h0.8m-0.6 -6.2h0.8m-0.7 10.6h0.8m-0.7 -0.4h0.8m-0.7 1.7h0.8m-0.7 -0.6h0.8m-0.7 -2.6h0.8m-0.2 -5.6h0.8m-0.6 6.6h0.8m-0.6 -2.1h0.8m-0.8 -2.5h0.8m-0.7 6.1h0.8m-0.8 0.1h0.8m-0.8 -0.4h0.8m-0.5 0.9h0.8m-0.6 -2.6h0.8m-0.4 0.5h0.8m-0.8 5.2h0.8m-0.8 -5.8h0.8m-0.7 0.5h0.8m-0.6 4.6h0.8m-0.8 -3.7h0.8m-0.7 -3.4h0.8m-0.3 0.1h0.8m-0.4 3h0.8m-0.8 -1.3h0.8m-0.7 -1.4h0.8m-0.8 3.4h0.8m-0.7 -1.1h0.8m-0.6 0.8h0.8m-0.7 -6.2h0.8m-0.8 7h0.8m-0.8 2.6h0.8" stroke="#a8a8a8" stroke-width="0.8" fill="none"/>
<path d="M52.3 468.5V503.3M67.6 468.5V503.3M83.7 468.5V503.3M97.1 468.5V503.3M109.4 468.5V503.3M121.4 468.5V503.3M133.4 468.5V503.3M144.0 468.5V503.3M152.9 468.5V503.3M160.2 468.5V503.3M168.9 468.5V503.3M177.6 468.5V503.3M186.8 468.5V503.3M193.5 468.5V503.3M198.6 468.5V503.3M203.7 468.5V503.3M209.6 468.5V503.3M214.6 468.5V503.3M219.5 468.5V503.3M223.4 468.5V503.3M227.0 468.5V503.3M228.6 468.5V503.3M230.1 468.5V503.3M231.5 468.5V503.3M241.9 468.5V503.3" stroke="#222" stroke-width="1.0" stroke-dasharray="1.9 2.3" fill="none"/>
<line x1="45.4" y1="481.7" x2="250" y2="481.7" stroke="#62e0e8" stroke-width="1.35" stroke-dasharray="3.8 3.6"/>
<line x1="45.4" y1="490.1" x2="250" y2="490.1" stroke="#62e0e8" stroke-width="1.35" stroke-dasharray="3.8 3.6"/>
<path d="M52.3 485.7H97.3V483.8H109.6V490.1H118.5V485.7H151.9V477.2H153.1V489.9H154.3V485.7H160.1V489.9H161.4V485.7H197.3V488.7H198.9V485.7H210.4V488.9H212.3V485.7H216.1V483.9H222.3V485.7H232.3V488.9H242.3" stroke="#2e8c60" stroke-width="1.25" fill="none"/>
<rect x="45.4" y="468.5" width="204.6" height="34.8" fill="none" stroke="#8c8c8c" stroke-width="0.9"/>
<line x1="42.4" y1="469.1" x2="45.4" y2="469.1" stroke="#555" stroke-width="0.8" />
<line x1="42.4" y1="477.43" x2="45.4" y2="477.43" stroke="#555" stroke-width="0.8" />
<line x1="42.4" y1="485.76" x2="45.4" y2="485.76" stroke="#555" stroke-width="0.8" />
<line x1="42.4" y1="494.09" x2="45.4" y2="494.09" stroke="#555" stroke-width="0.8" />
<line x1="42.4" y1="502.42" x2="45.4" y2="502.42" stroke="#555" stroke-width="0.8" />
<text x="41.4" y="469.6" font-size="9.8" text-anchor="end" fill="#111" font-weight="normal" >4</text>
<text x="41.4" y="486.26" font-size="9.8" text-anchor="end" fill="#111" font-weight="normal" >0</text>
<text x="41.4" y="502.92" font-size="9.8" text-anchor="end" fill="#111" font-weight="normal" >-4</text>
<line x1="52.3" y1="503.3" x2="52.3" y2="506.1" stroke="#555" stroke-width="0.8" />
<line x1="83.55" y1="503.3" x2="83.55" y2="506.1" stroke="#555" stroke-width="0.8" />
<line x1="114.8" y1="503.3" x2="114.8" y2="506.1" stroke="#555" stroke-width="0.8" />
<line x1="146.05" y1="503.3" x2="146.05" y2="506.1" stroke="#555" stroke-width="0.8" />
<line x1="177.3" y1="503.3" x2="177.3" y2="506.1" stroke="#555" stroke-width="0.8" />
<line x1="208.55" y1="503.3" x2="208.55" y2="506.1" stroke="#555" stroke-width="0.8" />
<line x1="239.8" y1="503.3" x2="239.8" y2="506.1" stroke="#555" stroke-width="0.8" />
<text x="146" y="464.9" font-size="9.5" text-anchor="middle" fill="#111" font-weight="normal" >0 shot</text>
<rect x="269" y="481.1" width="45" height="8.8" fill="#c4c4c4" opacity="0.8"/>
<rect x="314" y="479.2" width="12.31" height="8.8" fill="#c4c4c4" opacity="0.8"/>
<rect x="326.31" y="485.5" width="8.94" height="8.8" fill="#c4c4c4" opacity="0.8"/>
<rect x="335.25" y="481.1" width="33.38" height="8.8" fill="#c4c4c4" opacity="0.8"/>
<rect x="368.62" y="472.6" width="1.12" height="8.8" fill="#c4c4c4" opacity="0.8"/>
<rect x="369.75" y="485.3" width="1.25" height="8.8" fill="#c4c4c4" opacity="0.8"/>
<rect x="371" y="481.1" width="5.81" height="8.8" fill="#c4c4c4" opacity="0.8"/>
<rect x="376.81" y="485.3" width="1.25" height="8.8" fill="#c4c4c4" opacity="0.8"/>
<rect x="378.06" y="481.1" width="35.94" height="8.8" fill="#c4c4c4" opacity="0.8"/>
<rect x="414" y="484.1" width="1.56" height="8.8" fill="#c4c4c4" opacity="0.8"/>
<rect x="415.56" y="481.1" width="11.56" height="8.8" fill="#c4c4c4" opacity="0.8"/>
<rect x="427.12" y="484.3" width="1.88" height="8.8" fill="#c4c4c4" opacity="0.8"/>
<rect x="429" y="481.1" width="3.75" height="8.8" fill="#c4c4c4" opacity="0.8"/>
<rect x="432.75" y="479.3" width="6.25" height="8.8" fill="#c4c4c4" opacity="0.8"/>
<rect x="439" y="481.1" width="10" height="8.8" fill="#c4c4c4" opacity="0.8"/>
<rect x="449" y="484.3" width="10" height="8.8" fill="#c4c4c4" opacity="0.8"/>
<path d="M269.0 487.7h0.8m-0.7 -2.2h0.8m-0.8 -5.9h0.8m-0.7 4.6h0.8m-0.7 -1.9h0.8m-0.6 7h0.8m-0.5 1.4h0.8m-0.8 -6.7h0.8m-0.7 1.7h0.8m-0.7 7.9h0.8m-0.6 -4.3h0.8m-0.8 -2.4h0.8m-0.6 -1.7h0.8m-0.8 0.1h0.8m-0.6 -1.1h0.8m-0.8 4.2h0.8m-0.7 -5h0.8m-0.8 -3.7h0.8m-0.7 3.4h0.8m-0.7 3.9h0.8m-0.7 0.6h0.8m-0.5 1.5h0.8m-0.6 5.8h0.8m-0.6 -3.8h0.8m-0.7 -4.3h0.8m-0.6 0.4h0.8m-0.8 -3.1h0.8m-0.7 6.1h0.8m-0.7 -3.1h0.8m-0.8 -2.8h0.8m-0.6 -0.7h0.8m-0.6 -4.1h0.8m-0.7 9.3h0.8m-0.6 -1.6h0.8m-0.6 -3.8h0.8m-0.7 -0.8h0.8m-0.6 1.1h0.8m-0.6 -0.2h0.8m-0.7 3.2h0.8m-0.8 -0.8h0.8m-0.7 -5.3h0.8m-0.8 5.9h0.8m-0.5 0.8h0.8m-0.7 -1.2h0.8m-0.7 1.3h0.8m-0.6 -1.9h0.8m-0.7 0.2h0.8m-0.7 -5h0.8m-0.5 7.2h0.8m-0.7 -1.5h0.8m-0.7 0h0.8m-0.8 -4.3h0.8m-0.6 9.8h0.8m-0.5 -9.3h0.8m-0.6 6h0.8m-0.3 4.4h0.8m-0.4 -6h0.8m-0.7 -3.3h0.8m-0.8 -0.9h0.8m-0.6 2.5h0.8m-0.8 -1.4h0.8m-0.8 0.8h0.8m-0.8 -2.3h0.8m-0.5 8.5h0.8m-0.7 -6.7h0.8m0.1 3.4h0.8m-0.8 -4.7h0.8m-0.8 3.7h0.8m-0.7 3.3h0.8m-0.8 -4.7h0.8m-0.7 2.1h0.8m-0.6 -1.9h0.8m-0.7 0.3h0.8m-0.7 5.4h0.8m-0.4 -3.5h0.8m-0.8 2.7h0.8m-0.7 -12.7h0.8m-0.7 10.2h0.8m-0.7 -3.3h0.8m-0.8 -2h0.8m-0.6 7.7h0.8m-0.4 0.1h0.8m-0.6 -7.1h0.8m-0.5 5.4h0.8m-0.7 -1.6h0.8m-0.6 -8.1h0.8m-0.3 7.7h0.8m-0.7 -4h0.8m-0.7 0.9h0.8m-0.7 4.2h0.8m-0.7 -9.4h0.8m-0.8 10.7h0.8m-0.7 3.4h0.8m-0.7 -5.8h0.8m-0.7 -7.1h0.8m-0.8 1.9h0.8m-0.7 0.8h0.8m-0.8 1.3h0.8m-0.7 3.6h0.8m-0.8 0.5h0.8m-0.7 -3.5h0.8m-0.7 -1.9h0.8m-0.7 6.5h0.8m-0.5 -6.5h0.8m-0.5 6h0.8m-0.6 -4.1h0.8m-0.7 -1.2h0.8m-0.6 3.4h0.8m-0.7 1.1h0.8m-0.7 -6.6h0.8m-0.6 2.4h0.8m-0.4 -4.8h0.8m-0.8 7.5h0.8m-0.4 0.5h0.8m-0.7 2.8h0.8m-0.7 -4h0.8m-0.7 -1.7h0.8m-0.8 5.9h0.8m-0.3 -6.7h0.8m-0.5 5.7h0.8m-0.7 -2.4h0.8m-0.7 -1.2h0.8m-0.8 4.1h0.8m-0.6 -7.7h0.8m-0.7 6.7h0.8m-0.8 -1.8h0.8m-0.8 1.5h0.8m-0.5 -3.7h0.8m-0.7 4.9h0.8m-0.6 -5.6h0.8m-0.6 4.1h0.8m-0.7 6.7h0.8m-0.6 -10.6h0.8m-0.8 -2.8h0.8m-0.6 5.3h0.8m-0.3 -2h0.8m-0.7 0.8h0.8m-0.8 2.9h0.8m-0.7 -7.1h0.8m-0.7 4.1h0.8m-0.7 0.5h0.8m-0.8 3.6h0.8m-0.4 -4.6h0.8m-0.4 2.4h0.8m-0.6 -0.7h0.8m-0.7 1.8h0.8m-0.6 -7.9h0.8m-0.8 11.2h0.8m-0.7 0.4h0.8m-0.6 -6.3h0.8m-0.8 -0.4h0.8m-0.8 2.8h0.8m-0.5 0h0.8m-0.7 1.5h0.8m-0.5 -5.5h0.8m-0.8 -2.4h0.8m-0.6 6.9h0.8m-0.8 -1.5h0.8m-0.6 2.3h0.8m-0.6 -1.2h0.8m-0.7 -4.8h0.8m-0.8 8.5h0.8m-0.7 -9.2h0.8m-0.5 3.5h0.8m-0.3 -1.1h0.8m-0.5 4.9h0.8m-0.7 -8.8h0.8m-0.7 7.2h0.8m-0.6 0.4h0.8m-0.8 0.3h0.8m-0.8 -0.6h0.8m-0.8 -2.9h0.8m-0.7 2.1h0.8m-0.8 2.1h0.8m-0.4 -3.3h0.8m-0.4 -4.8h0.8m-0.5 7h0.8m-0.7 0.7h0.8m-0.8 -2.3h0.8m-0.7 -3.5h0.8m-0.7 0.8h0.8m-0.6 11.9h0.8m-0.1 -7.6h0.8m-0.7 -4.2h0.8m-0.8 5.7h0.8m-0.6 -0.6h0.8m-0.8 -6.4h0.8m-0.8 5.9h0.8m-0.7 -0.6h0.8m-0.3 -1.2h0.8m-0.7 -4.2h0.8m-0.7 -1.5h0.8m-0.8 3.7h0.8m-0.7 4.7h0.8m-0.8 -2.3h0.8m-0.7 -0.2h0.8m-0.5 -1.9h0.8m-0.8 1.8h0.8m-0.7 -7.7h0.8m-0.8 1.9h0.8m-0.6 7.4h0.8m-0.5 -7.4h0.8m-0.8 4.8h0.8m-0.4 -4.6h0.8m-0.8 1.3h0.8m-0.5 7h0.8m-0.7 -3.7h0.8m-0.6 2h0.8m-0.8 0.4h0.8m-0.8 -0.4h0.8m-0.7 -5.4h0.8m-0.6 2.8h0.8m-0.7 0.9h0.8m-0.7 -1.2h0.8m-0.4 3.6h0.8m-0.6 -2.8h0.8m-0.1 2.8h0.8m-0.7 -6.1h0.8m-0.8 6.5h0.8m-0.2 -7.2h0.8m-0.8 -5.2h0.8m-0.8 11.1h0.8m-0.7 5h0.8m-0.6 -6.8h0.8m-0.8 2.1h0.8m-0.5 -2.1h0.8m-0.6 -0.6h0.8m-0.3 1h0.8m-0.7 -3.5h0.8m-0.8 -1.7h0.8m-0.6 1.4h0.8m-0.8 4.6h0.8m-0.6 -1.8h0.8m-0.8 0.9h0.8m-0.4 -8.1h0.8m-0.7 9.2h0.8m-0.5 2.2h0.8m-0.7 -3.8h0.8m-0.7 -1.5h0.8m-0.8 3.3h0.8m-0.6 -4.4h0.8m-0.8 -4.4h0.8m-0.6 7h0.8m-0.7 -3.1h0.8m-0.7 -0.4h0.8m-0.8 4.3h0.8m-0.8 -2.7h0.8m-0.4 3.1h0.8m-0.7 1.6h0.8m-0.7 3.1h0.8m-0.6 -10.7h0.8m-0.8 2.9h0.8m-0.8 3.8h0.8m-0.8 -6.2h0.8m-0.4 7.4h0.8m-0.7 -1.9h0.8m-0.7 -0.2h0.8m-0.7 -2.2h0.8m-0.8 -1.5h0.8m-0.2 5.6h0.8m-0.4 -5.6h0.8m-0.7 3.6h0.8m-0.6 2h0.8m-0.8 -1.9h0.8m-0.7 -0.3h0.8m-0.8 0.6h0.8m-0.8 -0.5h0.8m-0.6 -0.4h0.8m-0.7 -4h0.8m-0.7 9.8h0.8m-0.7 -6.4h0.8m-0.8 -0.1h0.8m-0.7 -0.5h0.8m-0.8 -3h0.8m-0.8 -2.3h0.8m-0.7 9.5h0.8m-0.7 2.1h0.8m-0.8 -2.4h0.8m-0.7 -1.9h0.8m-0.8 -2.3h0.8m-0.8 -2.2h0.8m-0.4 6.5h0.8m-0.7 1.4h0.8m-0.7 -5.4h0.8m-0.7 6.2h0.8m-0.8 -5.7h0.8m-0.8 -2.8h0.8m-0.7 7.3h0.8m-0.7 -3.4h0.8m-0.6 -6.5h0.8m-0.4 7.2h0.8m-0.6 1.1h0.8m-0.5 -2.8h0.8m-0.5 0h0.8m-0.1 1.9h0.8m-0.7 0.4h0.8m-0.5 -2.5h0.8m-0.7 4.7h0.8m-0.6 -3.9h0.8m-0.6 -3h0.8m-0.7 0.2h0.8m-0.7 0.8h0.8m-0.7 -1h0.8m-0.8 8.6h0.8m-0.4 -9.3h0.8m-0.8 2.5h0.8m-0.8 3.6h0.8m-0.7 0.7h0.8m-0.7 -2.6h0.8m-0.8 0.1h0.8m-0.8 1.1h0.8m-0.6 -1.9h0.8m-0.8 -2.2h0.8m-0.8 4.3h0.8m-0.7 1h0.8m-0.7 -0.4h0.8m-0.7 -0.5h0.8m-0.2 -6.8h0.8m-0.7 -6.6h0.8m-0.7 3.5h0.8m-0.5 7h0.8m-0.8 -3.3h0.8m-0.8 -0.2h0.8m-0.7 2.2h0.8m-0.6 -2.1h0.8m-0.8 0.2h0.8m-0.7 6.3h0.8m-0.8 -3.2h0.8m-0.8 1.3h0.8m-0.8 -5.3h0.8m-0.7 -1.9h0.8m-0.8 3.3h0.8m-0.6 -2.2h0.8m-0.7 3h0.8m-0.7 4.2h0.8m-0.7 -4.9h0.8m-0.8 -0.7h0.8m-0.2 5h0.8m-0.6 0h0.8m-0.6 -2.6h0.8m-0.8 2.7h0.8m-0.4 -8.1h0.8m-0.7 1.1h0.8m-0.5 1.6h0.8m-0.8 6h0.8m-0.5 -5.9h0.8m-0.6 -4.7h0.8m-0.8 7.1h0.8m-0.8 -3h0.8m-0.7 4.1h0.8m-0.8 -1h0.8m-0.5 7.7h0.8m-0.5 -13.5h0.8m-0.6 6.2h0.8m-0.4 -2.3h0.8m-0.5 -0.6h0.8m-0.7 2.3h0.8m-0.8 -8h0.8m-0.7 6h0.8m-0.8 0h0.8m-0.8 1.1h0.8m-0.7 -2.9h0.8m-0.4 6.5h0.8m-0.7 -6.2h0.8m-0.7 -0.9h0.8m-0.5 1.6h0.8m-0.7 1.2h0.8m-0.7 1.4h0.8m-0.8 -1.3h0.8m-0.8 -6.2h0.8m-0.5 10.1h0.8m-0.7 -4.4h0.8m-0.7 -2.3h0.8m-0.6 3.2h0.8m-0.6 -2h0.8m-0.8 1.9h0.8m-0.7 3.4h0.8m-0.7 -4h0.8m-0.7 0.9h0.8m-0.5 2.8h0.8m-0.8 -5.2h0.8m-0.7 3.6h0.8m-0.6 -2.2h0.8m-0.7 0.2h0.8m-0.6 2.1h0.8m-0.8 -3.9h0.8m-0.7 6h0.8m-0.8 -2.8h0.8m-0.6 -2.4h0.8m-0.6 5.5h0.8m-0.8 -0.6h0.8m-0.8 0.9h0.8m-0.6 -3.6h0.8m-0.5 3.7h0.8m-0.8 -3.6h0.8m-0.4 -0.8h0.8m-0.7 3.7h0.8m-0.5 -8.3h0.8m-0.8 5.8h0.8m-0.8 -1.1h0.8m-0.6 -5.5h0.8m-0 10.7h0.8m-0.7 4.4h0.8m-0.7 -3.3h0.8m-0.5 0.6h0.8m-0.8 -2h0.8m-0.7 -1.1h0.8m-0.6 3.6h0.8m-0.8 0.8h0.8m-0.6 -4.4h0.8m-0.8 7.4h0.8m-0.6 -5.2h0.8m-0.4 4.3h0.8m-0.8 -1.9h0.8m-0.7 1.7h0.8m-0.7 -4.2h0.8m-0.8 4h0.8m-0.8 -9.3h0.8m-0.8 4h0.8m-0.7 1h0.8m-0.7 2h0.8m-0.8 -0.9h0.8m-0.8 0.2h0.8m-0.7 0.1h0.8m-0.6 0.2h0.8m-0.8 4.5h0.8m-0.8 -6.7h0.8m-0.6 3.9h0.8m-0.8 0.2h0.8m-0.7 -5.4h0.8m-0.6 7.5h0.8m-0.6 -5.7h0.8m-0.4 -4.1h0.8m-0.7 9.3h0.8m-0.6 -2.7h0.8m-0.7 2.6h0.8m-0.8 -8h0.8m-0.8 4h0.8m-0.6 -3.1h0.8m-0.5 0.3h0.8m-0.5 6.8h0.8m-0.5 -2.2h0.8m-0.7 -2.1h0.8m-0.7 -0.7h0.8m-0.6 6.5h0.8m-0.8 -4.5h0.8m-0.8 -0.6h0.8m-0.6 0.9h0.8m-0.5 -0.4h0.8m-0.5 -3.1h0.8m-0.6 0.1h0.8m-0.6 4h0.8m-0.6 -15.5h0.8m-0.6 18h0.8m-0.8 -2.3h0.8m-0.8 -3.9h0.8m-0.7 -3.2h0.8m-0.8 9.3h0.8m-0.8 0.6h0.8m-0.6 0.8h0.8m-0.6 0.1h0.8m0.3 -5.8h0.8m-0.7 4.7h0.8m-0.5 -7.4h0.8m-0.8 -3.9h0.8m-0.4 -1.2h0.8m-0.7 6.1h0.8m-0.7 1.3h0.8m-0.7 -6.8h0.8m-0.7 2.3h0.8m-0.7 -5.8h0.8m-0.1 5.1h0.8m-0.6 -1.7h0.8m-0.5 -0.5h0.8m-0.7 4.7h0.8m-0.5 1.1h0.8m-0.8 -6h0.8m-0.8 6.3h0.8m-0.5 0.3h0.8m-0.5 -4.3h0.8m-0.1 1.1h0.8m-0.4 -5.2h0.8m-0.7 3.6h0.8m-0.7 2.9h0.8m-0.5 0.5h0.8m-0.6 -2.2h0.8m-0.8 -1.6h0.8m-0.7 0.4h0.8m-0.1 4.8h0.8m-0.8 4h0.8m-0.8 -15.3h0.8m-0.6 10.7h0.8m-0.7 -8.7h0.8m-0.8 7.6h0.8m-0.7 0.8h0.8m-0.8 -7.4h0.8m-0.6 8.8h0.8m-0.8 0.9h0.8m-0.4 -3.2h0.8m-0.2 0.3h0.8m-0.7 0.1h0.8m-0.6 -2h0.8m-0.7 0.9h0.8m-0.7 -2.3h0.8m-0.7 4.2h0.8m-0.7 -3.3h0.8m-0.8 -1.6h0.8m-0.8 7h0.8m-0.3 -4.3h0.8m-0.7 -9.4h0.8m-0.8 13.8h0.8m-0.3 -0.7h0.8m-0.7 -4.4h0.8m-0.3 0.2h0.8m-0.8 -0.4h0.8m-0.7 -4.4h0.8m-0.8 7.3h0.8m-0.5 -1.9h0.8m-0.7 -0.3h0.8m-0.8 -1.6h0.8m-0.4 2.6h0.8m-0.7 -2.7h0.8m-0.8 3.8h0.8m-0.8 2.4h0.8m-0.6 -11.3h0.8m-0.6 13.8h0.8m-0.7 -4.1h0.8m-0.8 -8.7h0.8m-0.8 3.7h0.8m-0.6 4.6h0.8m-0.8 -6.3h0.8m-0.8 1.8h0.8m-0.5 5.2h0.8m-0.7 -1.6h0.8m-0.8 -2.1h0.8m-0.7 1.8h0.8m-0.7 -3.3h0.8m-0.7 -3.5h0.8m-0.7 -0.3h0.8m-0.7 -6.5h0.8m-0.8 15h0.8m-0.8 -3.5h0.8m-0.5 0.4h0.8m-0.5 0.7h0.8m-0.7 -6h0.8m-0.7 2.5h0.8m-0.6 7.5h0.8m-0.4 -0.2h0.8m-0.7 -4.5h0.8m-0.7 -0.3h0.8m-0.7 -3.4h0.8m-0.6 4.8h0.8m-0.8 0.7h0.8m-0.6 5.7h0.8m-0.6 -7.2h0.8m-0.6 1.3h0.8m-0.7 -4.6h0.8m-0.7 3.3h0.8m-0.8 3h0.8m-0.6 -3.5h0.8m-0.7 0.2h0.8m-0.7 -1.4h0.8m-0.8 3.4h0.8m-0.6 -3.2h0.8m-0.8 1h0.8m-0.7 1.9h0.8m-0.7 -4.2h0.8m-0.7 5.2h0.8m-0.5 0.4h0.8m-0.6 -4.8h0.8m-0.8 7.2h0.8m-0.8 -5.4h0.8m-0.7 -5.4h0.8m-0.7 5h0.8m-0.7 4.6h0.8m-0.7 -6.5h0.8m-0.8 4.9h0.8m-0.7 1.1h0.8m-0.7 -1.3h0.8m-0.2 -8.8h0.8m-0.8 3.1h0.8m-0.8 4.3h0.8m-0.7 3.3h0.8m-0.7 -1.8h0.8m-0.5 3.7h0.8m-0.6 -7h0.8m-0.8 4h0.8m-0.8 2.8h0.8m-0.6 -3.4h0.8m-0.7 -2.7h0.8m-0.7 1.5h0.8m-0.8 -2.5h0.8m-0.8 1.2h0.8m-0.3 -3.8h0.8m-0.8 8h0.8m-0.8 -2.8h0.8m-0.8 -0.6h0.8m-0.7 1.9h0.8m-0.7 -3h0.8m-0.8 -5.6h0.8m-0.6 3.5h0.8m-0.3 4.8h0.8m-0.8 -4.4h0.8m-0.5 3.7h0.8m0.2 -4.4h0.8m-0.8 -0.3h0.8m-0.8 6.9h0.8m-0.5 -5.7h0.8m-0.8 1.3h0.8m-0.5 0.6h0.8m-0.8 5.9h0.8m-0.7 -4.5h0.8m-0.7 0.7h0.8m-0.8 1.1h0.8m-0.4 -0.9h0.8m-0.8 -1.7h0.8m-0.6 -3.3h0.8m-0.8 6h0.8m-0.7 -0.5h0.8m-0.7 -9.1h0.8m-0.8 4.3h0.8m-0.7 2.7h0.8m-0.7 -4h0.8m-0.8 4.6h0.8m-0.6 1.8h0.8m-0.7 -3.6h0.8m-0.8 0.6h0.8m-0.5 -3.7h0.8m-0.6 5.3h0.8m-0.7 -2.6h0.8m-0.6 -0.1h0.8m-0.8 1h0.8m-0.7 5h0.8m-0.7 -5.7h0.8m-0.8 -0.2h0.8m-0.8 2.8h0.8m-0.5 1.6h0.8m-0.4 -4.7h0.8m-0.5 6.6h0.8m-0.7 -1.1h0.8m-0.7 -4.9h0.8m-0.7 2.2h0.8m-0.8 0.4h0.8m-0.7 -3.4h0.8m-0.8 6.2h0.8m-0.7 0h0.8m-0.8 1.6h0.8m-0.6 2.4h0.8m-0.8 -6h0.8m-0.7 -4.5h0.8m-0.4 1.8h0.8m-0.7 1.5h0.8m-0.7 -2h0.8m-0.8 -1.3h0.8m-0.4 -1h0.8m-0.6 5.7h0.8m-0.6 2.5h0.8m-0.8 -3.8h0.8m-0.7 -3.6h0.8m-0.6 0.5h0.8m-0.7 2.7h0.8m-0.7 0h0.8m-0.7 -3.6h0.8m-0.8 3.7h0.8m-0.7 -2.7h0.8m-0.5 -1h0.8m-0.7 2.3h0.8m-0.6 -5.7h0.8m0 1.8h0.8m-0.7 6.7h0.8m-0.8 -4.2h0.8m-0.7 -4.4h0.8m-0.8 3.6h0.8m-0.6 8.7h0.8m-0.7 -2.2h0.8m-0.5 -5.8h0.8m-0.8 1.6h0.8m-0.6 -1.5h0.8m-0.8 2h0.8m-0.5 2.6h0.8m-0.5 -3.8h0.8m-0.7 2.1h0.8m-0.8 -3.6h0.8m-0.6 8.6h0.8m-0.6 -7.4h0.8m-0.8 0.7h0.8m-0.8 -3.8h0.8m-0.7 5.1h0.8m-0.7 3h0.8m-0.6 -1.6h0.8m-0.7 -5.3h0.8m-0.6 3.7h0.8m-0.5 -2.4h0.8m-0.4 0.5h0.8m-0.8 1.4h0.8m-0.8 -4.5h0.8m-0.7 -0.7h0.8m-0.6 -1.2h0.8m-0.8 -6.4h0.8m-0.8 5.1h0.8m-0.7 -0.8h0.8m-0.6 -0.6h0.8m-0.3 5.4h0.8m-0.5 7.5h0.8m-0.5 0h0.8m-0.7 -1.3h0.8m-0.8 3.9h0.8m-0.7 -3h0.8m-0.7 -0.2h0.8m-0.7 -3.4h0.8m-0.8 5.2h0.8m-0.1 -4h0.8m-0.8 -3.3h0.8m-0.6 2h0.8m-0.6 -2.4h0.8m-0.3 -3.1h0.8m-0.7 9h0.8m-0.7 -4.1h0.8m-0.8 -3.8h0.8m-0.5 7h0.8m-0.8 1.5h0.8m-0.7 -2.6h0.8m-0.6 -5.7h0.8m-0.7 9.1h0.8m-0.8 -3.7h0.8m-0.7 -1.8h0.8m-0.7 -2h0.8m-0.7 4.8h0.8m-0.7 -6.9h0.8m-0.8 5.7h0.8m-0.5 -4h0.8m-0.5 6.5h0.8m-0.8 -1h0.8m-0.7 9.6h0.8m-0.6 -12.2h0.8m-0.6 -1.4h0.8m-0.6 5.9h0.8m-0.5 -9.1h0.8m-0.7 1.2h0.8m-0.8 2.5h0.8m-0.7 0.2h0.8m-0.7 1h0.8m-0.4 -4.6h0.8m-0.8 7.5h0.8m-0.7 -3.2h0.8m-0.8 2h0.8m-0.6 -4.1h0.8m-0.7 5.1h0.8m-0.6 -3.4h0.8m-0.6 6.3h0.8m-0.7 -8h0.8m-0.6 3.4h0.8m-0.7 11.9h0.8m-0.8 -5.6h0.8m-0.2 -2.2h0.8m-0.8 -1.8h0.8m-0.8 4.3h0.8m-0.7 -9.6h0.8m-0.7 11.1h0.8m-0.6 -8.1h0.8m-0.7 -5h0.8m-0.7 4.2h0.8m-0.6 -2.3h0.8m-0.3 -1.6h0.8m-0.8 3.6h0.8m-0.7 1.5h0.8m-0.7 -0.7h0.8m-0.7 3h0.8m-0.8 -3.1h0.8m-0.4 -2.5h0.8m-0.8 3.3h0.8m-0.6 -2.4h0.8m-0.8 2.9h0.8m-0.8 -6.9h0.8m-0.7 2.5h0.8m-0.8 2.6h0.8m-0.6 -2.7h0.8m-0.7 0.9h0.8m-0.8 6.7h0.8m-0.8 -5.8h0.8m-0.7 5.6h0.8m-0.6 -5.4h0.8m-0.7 4.9h0.8m-0.4 0.8h0.8m-0.7 4h0.8m-0.7 -9.9h0.8m-0.8 4.2h0.8m-0.6 -5.6h0.8m-0.8 5h0.8m-0.5 -0.4h0.8m-0.7 -4.6h0.8m-0.4 4.2h0.8m-0.7 -6.8h0.8m-0.6 5h0.8m-0.8 2.4h0.8m-0.7 2.8h0.8m-0.6 -7.7h0.8m-0.5 1.3h0.8m-0.2 2.6h0.8m-0.7 -2.1h0.8m-0.6 0.2h0.8m-0.7 -4.7h0.8m-0.5 -0.5h0.8m-0.7 8.7h0.8m-0.8 -2.4h0.8m-0.8 0.9h0.8m-0.8 -1.8h0.8m-0.7 -0.3h0.8m-0.5 1.7h0.8m-0.8 0.9h0.8m-0.6 -0.4h0.8m-0.3 -2.3h0.8m-0.4 4.1h0.8m-0.7 -4.4h0.8m-0.6 0.8h0.8m-0.6 -2.4h0.8m-0.8 -1.2h0.8m-0.8 -0.9h0.8m-0.7 4.4h0.8m-0.6 0.8h0.8m-0.8 0.4h0.8m-0.8 -1.3h0.8m-0.7 3.8h0.8m-0.7 -4.5h0.8m-0.8 4.9h0.8m-0.6 0h0.8m-0.7 1h0.8m-0.8 -7h0.8m-0.6 2h0.8m-0.7 -0.6h0.8m-0.6 4.8h0.8m-0.6 1.7h0.8m-0.6 -1.3h0.8m-0.8 -5.5h0.8m-0.7 -4.8h0.8m-0.7 5.4h0.8m-0.6 4.8h0.8m-0.7 -3h0.8m-0.7 -0.4h0.8m-0.7 -6.1h0.8m-0.6 5.2h0.8m-0.7 3.9h0.8m-0.8 -5.4h0.8m-0.7 1h0.8m-0.7 0.4h0.8m-0.8 -0.5h0.8m-0.8 1h0.8m-0.8 -0.9h0.8m-0.7 2.4h0.8m-0.6 -0.5h0.8m-0.8 3.2h0.8m0.6 3.2h0.8m-0.5 -11.8h0.8m-0.7 3.7h0.8m-0.6 -0.3h0.8m-0.7 1h0.8m-0.7 2.4h0.8m-0.8 -3.4h0.8m-0.6 -0.5h0.8m-0.8 -0.5h0.8m-0.6 -1.7h0.8m-0.6 2.2h0.8m-0.8 0.2h0.8m-0.6 -0.3h0.8m-0.8 2.6h0.8m-0.5 -2h0.8m-0.7 0.2h0.8m-0.8 8h0.8m-0.7 -6.7h0.8m-0.8 -0.3h0.8m-0.3 2.1h0.8m-0.5 -0.1h0.8m-0.6 3.4h0.8m-0.8 -6.2h0.8m-0.6 4.3h0.8m-0.6 3h0.8m-0.7 -1.2h0.8m-0.8 -5.5h0.8m-0.7 -5.8h0.8m-0.8 2.8h0.8m-0.7 7.5h0.8m-0.8 -7.3h0.8m-0.4 2.9h0.8m-0.6 0.6h0.8m-0.8 -7.4h0.8m-0.8 14h0.8m-0.6 -4.7h0.8m-0.4 -4.5h0.8m-0.8 1.1h0.8m-0.6 3h0.8m-0.7 -6.6h0.8m-0.7 6.4h0.8m-0.8 -1.2h0.8m-0.5 -0.5h0.8m-0.7 -2.4h0.8m-0.6 2.5h0.8m-0.8 -0.8h0.8m-0.7 2.2h0.8m-0.8 -5h0.8m-0.6 0.8h0.8m-0.5 -2.1h0.8m-0.7 3.3h0.8m-0.8 4.8h0.8m-0.7 -2.8h0.8m-0.7 0.1h0.8m-0.8 1.9h0.8m-0.7 -7.7h0.8m-0.8 3.2h0.8m-0.7 -1.4h0.8m-0.7 0.8h0.8m-0.7 0.5h0.8m-0.6 3h0.8m-0.8 7.9h0.8m-0.3 -11.5h0.8m-0.8 3.6h0.8m-0.6 1.6h0.8m-0.8 -8.8h0.8m-0.8 3.7h0.8m-0.7 1.5h0.8m-0.5 -5.2h0.8m-0.7 7.5h0.8m-0.8 -1.6h0.8m-0.6 -1.7h0.8m-0.8 -3.8h0.8m-0.5 9.2h0.8m-0.7 -4h0.8m-0.7 3.3h0.8m-0.7 -1.7h0.8m-0.7 -0.7h0.8m-0.7 3.3h0.8m-0.8 -4.2h0.8m-0.4 -0.1h0.8m-0.6 2.8h0.8m-0.7 -5.2h0.8m-0.7 7.2h0.8m-0.7 -7.5h0.8m-0.8 -0.6h0.8m-0.7 3.5h0.8m-0.8 0.5h0.8m-0.8 1.3h0.8m-0.4 1.4h0.8m-0.6 -5.6h0.8m-0.7 -0.6h0.8m-0.7 -1.8h0.8m-0.6 9h0.8m-0.7 -10.8h0.8m-0.6 8.7h0.8m-0.6 -1.1h0.8m-0.4 -3.2h0.8m-0.7 -0.6h0.8m-0.6 0.2h0.8m-0.5 6h0.8m-0.6 -11h0.8m-0.8 6.5h0.8m-0.7 -0.1h0.8m-0.3 3.8h0.8m-0.7 -8.1h0.8m-0.7 2.4h0.8m-0.8 1.2h0.8m-0.6 -2.1h0.8m-0.6 4.5h0.8m-0.8 1.4h0.8m-0.6 -3.8h0.8m-0.6 0.6h0.8m-0.6 9.3h0.8m-0.7 -4.9h0.8m-0.6 -4.2h0.8m-0.3 1.5h0.8m-0.7 -0.2h0.8m-0.8 -0.1h0.8m-0.8 -3.1h0.8m-0.7 4.7h0.8m-0.6 1h0.8m-0.8 -1.5h0.8m-0.7 -3.1h0.8m-0.6 -2.7h0.8m-0.6 3.4h0.8m-0.8 -1.7h0.8m-0.6 3.7h0.8m-0.8 4.6h0.8m-0.7 -7.6h0.8m-0.2 2h0.8m-0.8 -1.2h0.8m-0.3 0h0.8m-0.6 2.2h0.8m-0.8 -3.2h0.8m-0.6 2.2h0.8m-0.8 -0.2h0.8m-0.6 1.6h0.8m-0.7 -1.1h0.8m-0.3 4.5h0.8m-0.7 -6.1h0.8m-0.8 7.3h0.8m-0.7 -3.2h0.8m-0.8 -2.9h0.8m-0.7 -1.9h0.8m-0.7 4.5h0.8m-0.8 -3.2h0.8m-0 2.5h0.8m-0.7 -11.6h0.8m-0.3 11h0.8m-0.8 -3.8h0.8m-0.8 7.1h0.8m-0.5 -2.9h0.8m-0.6 2.5h0.8m-0.4 -5.4h0.8m-0.7 3.8h0.8m-0.7 0.8h0.8m-0.7 -5.1h0.8m-0.6 0.4h0.8m-0.6 -0.2h0.8m-0.6 2.3h0.8m-0.6 4.6h0.8m-0.7 -1.6h0.8m-0.7 3.1h0.8m-0.7 -1.2h0.8m-0.7 -2.9h0.8m-0.5 4h0.8m-0.6 -3.2h0.8m-0.6 2.2h0.8m-0.7 -3.3h0.8m-0.6 -1.2h0.8m-0.3 -1.8h0.8m-0.7 1.8h0.8m-0.6 -1.4h0.8m-0.8 6.2h0.8m-0.5 -1.8h0.8m-0.7 -3.7h0.8m-0.8 5.7h0.8m-0.7 -11.1h0.8m-0.4 3.3h0.8m-0.8 1h0.8m-0.8 -5.2h0.8m-0.3 8.1h0.8m-0.8 -4.2h0.8m-0.6 -2.7h0.8m-0.8 -0.5h0.8m-0.8 1.6h0.8m-0.4 1.3h0.8m-0.7 2.7h0.8m-0.8 3.9h0.8m-0.7 -3.7h0.8m-0.5 -0.1h0.8m-0.8 2.3h0.8m-0.6 -5h0.8m-0.7 2.9h0.8m-0.8 1.8h0.8m-0.7 -3.8h0.8m-0.8 4.7h0.8m-0.6 -10.9h0.8m-0.7 9.2h0.8m-0.8 -2.2h0.8m-0.8 -7h0.8m-0.5 7.7h0.8m-0.7 -1.1h0.8m-0.8 -4.6h0.8m-0.8 1.7h0.8m-0.6 1h0.8m-0.7 -0.3h0.8m-0.7 4.2h0.8m-0.7 -1.4h0.8m-0.7 -7.7h0.8m-0.8 9.3h0.8m-0.7 -1.7h0.8m-0.5 2.9h0.8m-0.6 -2.4h0.8m-0.6 -2.8h0.8m-0.7 -3.7h0.8m-0.7 14.7h0.8m-0.7 -10.1h0.8m-0.8 1.3h0.8m-0.6 2.7h0.8m-0.6 -3.8h0.8m-0.5 1.3h0.8m-0.7 -1.6h0.8m-0.4 0.2h0.8m-0.6 -0.3h0.8m-0.8 0.1h0.8m-0.7 6h0.8m-0.2 -1.6h0.8m-0.8 4.5h0.8m-0.8 -10.5h0.8m-0.8 -0.7h0.8m-0.7 7.2h0.8m-0.4 -2.4h0.8m-0.8 0.7h0.8m-0.6 -2.8h0.8m-0.7 2.9h0.8m-0.7 0.6h0.8m-0.6 7.4h0.8m-0.7 -12.4h0.8m-0.8 0.8h0.8m-0.7 6.2h0.8m-0.7 -2h0.8m-0.3 -9h0.8m-0.8 5.3h0.8m-0.7 0.4h0.8m-0.8 -2.5h0.8m-0.4 2.6h0.8m-0.6 2.3h0.8m-0.3 3.8h0.8m-0.6 3.1h0.8m-0.7 -0.2h0.8m-0.7 -9.1h0.8m-0.8 -0.9h0.8m-0.2 7.9h0.8m-0.6 0.2h0.8m-0.7 -1.8h0.8m-0.8 -1.1h0.8m-0.7 2.2h0.8m-0.7 -1.7h0.8m-0.7 -1.5h0.8m-0.8 -0.1h0.8m-0.6 -0.6h0.8m-0.7 1.9h0.8m-0.8 -6.5h0.8m-0.7 7.2h0.8m-0.5 -7.2h0.8m-0.7 -3.6h0.8m-0.6 6.1h0.8m-0.7 5.5h0.8m-0.6 -3.7h0.8m-0.8 -5.7h0.8m-0.6 6.9h0.8m-0.8 0.9h0.8m-0.4 -2.1h0.8m-0.8 0.5h0.8m-0.8 -9.4h0.8m-0.5 3h0.8m-0.8 6.8h0.8m-0.4 0.1h0.8m-0.6 -5.8h0.8m-0.7 2.1h0.8m-0.7 5.1h0.8m-0.8 -0.2h0.8m-0.6 -0.7h0.8m-0.7 -2.8h0.8m-0.7 4.6h0.8m-0.5 -5.1h0.8m-0.5 -7.3h0.8m-0.5 4.1h0.8m-0.6 -0.7h0.8m-0.7 1.3h0.8m-0.6 4h0.8m-0.7 -2.9h0.8m-0.7 0.4h0.8m-0.7 2.1h0.8m-0.7 -3.1h0.8m-0.7 3h0.8m-0.8 1.9h0.8m-0.4 -2.7h0.8m-0.6 -11.7h0.8m-0.8 11.1h0.8m-0.6 0.8h0.8m-0.6 -1.4h0.8m-0.8 8.6h0.8m-0.7 -16h0.8m-0.8 2.6h0.8m-0.4 5.9h0.8m-0.8 -5.4h0.8m-0.7 -0.8h0.8m-0.7 2h0.8m-0.5 3.5h0.8m-0.8 3.1h0.8m-0.7 1.7h0.8m-0.8 -4.9h0.8m-0.8 -2.2h0.8m-0.5 -7.2h0.8m-0.7 6.9h0.8m-0.7 -1.9h0.8m-0.5 8.8h0.8m-0.6 -7.2h0.8m-0.5 4.3h0.8m-0.8 -3.1h0.8m-0.7 5.3h0.8m-0.2 -2.2h0.8m-0.7 5h0.8m-0.7 -5.4h0.8m-0.7 -1.5h0.8m-0.8 2.2h0.8m-0.6 -1.2h0.8m-0.5 -0.8h0.8m-0.6 5.8h0.8m-0.5 -3h0.8m-0.6 -2.6h0.8m-0.5 2.3h0.8m-0.6 -1.2h0.8m-0.7 -4.1h0.8m-0.7 7.1h0.8m-0.6 -1.1h0.8m-0.5 -1.9h0.8m-0.7 6.9h0.8m-0.7 -8.2h0.8m-0.7 -1.3h0.8m-0.5 5.2h0.8m-0.8 3.4h0.8m-0.7 -0.3h0.8m-0.7 -7.7h0.8m-0.5 6.2h0.8m-0.7 0.5h0.8m-0.7 -3.8h0.8m-0.5 -1.6h0.8m-0.7 4.2h0.8m-0.8 -6h0.8m-0.6 0.2h0.8m-0.8 6.3h0.8m-0.6 -13.8h0.8m-0.7 6.8h0.8m-0.7 6.8h0.8m-0.8 -2.4h0.8m-0.7 0.5h0.8m-0.7 0.7h0.8m-0.3 1.4h0.8m-0.8 -2.3h0.8m-0.8 -6.3h0.8m-0.6 1.8h0.8m-0.8 -4.1h0.8m-0.4 8.5h0.8m-0.7 -8.1h0.8m-0.6 6.1h0.8m-0.7 -0.8h0.8m-0.8 -1.8h0.8m-0.7 2.9h0.8m-0.8 3.9h0.8m-0.5 -4h0.8m-0.7 4.3h0.8m-0.7 -4.7h0.8m-0.7 5.9h0.8m-0.8 -3.6h0.8m-0.6 -0.8h0.8m-0.8 -0.3h0.8m-0.8 -1.9h0.8m-0.7 -0.6h0.8m-0.8 -0.2h0.8m-0.7 2.7h0.8m-0.6 -2h0.8m0.3 2h0.8m-0.7 0.4h0.8m-0.7 4.2h0.8m-0.8 -4.5h0.8m-0.7 0.4h0.8m-0.7 -6.1h0.8m-0.6 4.7h0.8m-0.8 -0.4h0.8m-0.2 2.5h0.8m-0.8 2.5h0.8m-0.7 -5.4h0.8m-0.6 6.6h0.8m-0.8 -0.5h0.8m-0.7 -8.7h0.8m-0.8 1.6h0.8m-0.6 7.6h0.8m-0.7 2.1h0.8m-0.6 -6.4h0.8m-0.8 2.9h0.8m-0.6 0.8h0.8m-0.8 -3.2h0.8m-0.8 6.4h0.8m-0.7 -1.6h0.8m-0.6 -7.4h0.8m-0.8 3h0.8m-0.7 4.2h0.8m-0.5 -4h0.8m-0.6 5.4h0.8m-0.8 -4h0.8m-0.8 4.6h0.8m-0.7 -3h0.8m-0.7 -10.5h0.8m-0.6 11.5h0.8m-0.7 1.1h0.8m-0.5 -2.3h0.8m-0.6 1.8h0.8m-0.7 -7h0.8m-0.8 -1.1h0.8m-0.7 1.7h0.8m-0.8 2.7h0.8m-0.6 -1.1h0.8m-0.5 1.3h0.8m-0.6 -2.1h0.8m-0.8 5.3h0.8m-0.7 -7.3h0.8m-0.7 1.6h0.8m-0.6 3.2h0.8m-0.7 -8.9h0.8m-0.8 15.4h0.8m-0.6 -2.6h0.8m-0.7 3.3h0.8m-0.8 -6.9h0.8m-0.7 -2.3h0.8m-0.8 4.2h0.8m-0.5 -0.8h0.8m-0.8 0.6h0.8m-0.8 2.6h0.8m-0.6 -6.2h0.8m-0.8 0.2h0.8m-0.6 -4.5h0.8m-0.5 9.7h0.8m-0.7 -5.7h0.8m-0.5 1h0.8m-0.2 -2.2h0.8m-0.8 -0.9h0.8m0 0.7h0.8m-0.8 4.8h0.8m-0.3 -3.2h0.8m-0.5 2.1h0.8m-0.6 0.8h0.8m-0.7 -0.1h0.8m-0.6 -0.9h0.8m-0.7 4.9h0.8m-0.7 -1.8h0.8m-0.7 -4.2h0.8m-0.8 -0.3h0.8m-0.6 5.3h0.8m-0.7 -0.5h0.8m-0.8 -5.2h0.8m-0.7 1.9h0.8m-0.7 3.6h0.8m-0.6 -7.6h0.8m-0.7 4.7h0.8m-0.6 2.9h0.8m-0.8 -2.1h0.8" stroke="#a8a8a8" stroke-width="0.8" fill="none"/>
<path d="M269.0 468.5V503.3M284.3 468.5V503.3M300.4 468.5V503.3M313.8 468.5V503.3M326.1 468.5V503.3M338.1 468.5V503.3M350.1 468.5V503.3M360.7 468.5V503.3M369.6 468.5V503.3M376.9 468.5V503.3M385.6 468.5V503.3M394.3 468.5V503.3M403.5 468.5V503.3M410.2 468.5V503.3M415.3 468.5V503.3M420.4 468.5V503.3M426.3 468.5V503.3M431.3 468.5V503.3M436.2 468.5V503.3M440.1 468.5V503.3M443.7 468.5V503.3M445.3 468.5V503.3M446.8 468.5V503.3M448.2 468.5V503.3M458.6 468.5V503.3" stroke="#222" stroke-width="1.0" stroke-dasharray="1.9 2.3" fill="none"/>
<line x1="262.1" y1="481.7" x2="466.7" y2="481.7" stroke="#62e0e8" stroke-width="1.35" stroke-dasharray="3.8 3.6"/>
<line x1="262.1" y1="490.1" x2="466.7" y2="490.1" stroke="#62e0e8" stroke-width="1.35" stroke-dasharray="3.8 3.6"/>
<path d="M269.0 485.7H314.0V483.8H326.3V490.1H335.2V485.7H368.6V477.2H369.8V489.9H371.0V485.7H376.8V489.9H378.1V485.7H414.0V488.7H415.6V485.7H427.1V488.9H429.0V485.7H432.8V483.9H439.0V485.7H449.0V488.9H459.0" stroke="#27a9c6" stroke-width="1.25" fill="none"/>
<rect x="262.1" y="468.5" width="204.6" height="34.8" fill="none" stroke="#8c8c8c" stroke-width="0.9"/>
<line x1="259.1" y1="469.1" x2="262.1" y2="469.1" stroke="#555" stroke-width="0.8" />
<line x1="259.1" y1="477.43" x2="262.1" y2="477.43" stroke="#555" stroke-width="0.8" />
<line x1="259.1" y1="485.76" x2="262.1" y2="485.76" stroke="#555" stroke-width="0.8" />
<line x1="259.1" y1="494.09" x2="262.1" y2="494.09" stroke="#555" stroke-width="0.8" />
<line x1="259.1" y1="502.42" x2="262.1" y2="502.42" stroke="#555" stroke-width="0.8" />
<line x1="269" y1="503.3" x2="269" y2="506.1" stroke="#555" stroke-width="0.8" />
<line x1="300.25" y1="503.3" x2="300.25" y2="506.1" stroke="#555" stroke-width="0.8" />
<line x1="331.5" y1="503.3" x2="331.5" y2="506.1" stroke="#555" stroke-width="0.8" />
<line x1="362.75" y1="503.3" x2="362.75" y2="506.1" stroke="#555" stroke-width="0.8" />
<line x1="394" y1="503.3" x2="394" y2="506.1" stroke="#555" stroke-width="0.8" />
<line x1="425.25" y1="503.3" x2="425.25" y2="506.1" stroke="#555" stroke-width="0.8" />
<line x1="456.5" y1="503.3" x2="456.5" y2="506.1" stroke="#555" stroke-width="0.8" />
<text x="362.7" y="464.9" font-size="9.5" text-anchor="middle" fill="#111" font-weight="normal" >1 shot</text>
<rect x="486.1" y="481.1" width="45" height="8.8" fill="#c4c4c4" opacity="0.8"/>
<rect x="531.1" y="479.2" width="12.31" height="8.8" fill="#c4c4c4" opacity="0.8"/>
<rect x="543.41" y="485.5" width="8.94" height="8.8" fill="#c4c4c4" opacity="0.8"/>
<rect x="552.35" y="481.1" width="33.38" height="8.8" fill="#c4c4c4" opacity="0.8"/>
<rect x="585.72" y="472.6" width="1.12" height="8.8" fill="#c4c4c4" opacity="0.8"/>
<rect x="586.85" y="485.3" width="1.25" height="8.8" fill="#c4c4c4" opacity="0.8"/>
<rect x="588.1" y="481.1" width="5.81" height="8.8" fill="#c4c4c4" opacity="0.8"/>
<rect x="593.91" y="485.3" width="1.25" height="8.8" fill="#c4c4c4" opacity="0.8"/>
<rect x="595.16" y="481.1" width="35.94" height="8.8" fill="#c4c4c4" opacity="0.8"/>
<rect x="631.1" y="484.1" width="1.56" height="8.8" fill="#c4c4c4" opacity="0.8"/>
<rect x="632.66" y="481.1" width="11.56" height="8.8" fill="#c4c4c4" opacity="0.8"/>
<rect x="644.22" y="484.3" width="1.88" height="8.8" fill="#c4c4c4" opacity="0.8"/>
<rect x="646.1" y="481.1" width="3.75" height="8.8" fill="#c4c4c4" opacity="0.8"/>
<rect x="649.85" y="479.3" width="6.25" height="8.8" fill="#c4c4c4" opacity="0.8"/>
<rect x="656.1" y="481.1" width="10" height="8.8" fill="#c4c4c4" opacity="0.8"/>
<rect x="666.1" y="484.9" width="10" height="8.8" fill="#c4c4c4" opacity="0.8"/>
<path d="M486.1 483.4h0.8m-0.4 6.5h0.8m-0.7 -6.7h0.8m-0.7 6h0.8m-0.8 -6.1h0.8m-0.7 -0.5h0.8m-0.7 -0.6h0.8m-0.8 4.1h0.8m-0.5 -2.1h0.8m-0.7 3.9h0.8m-0.8 -0.8h0.8m-0.7 -8.7h0.8m-0.8 7.3h0.8m-0.6 0.2h0.8m-0.8 0h0.8m-0.7 -5.9h0.8m-0.7 4.4h0.8m-0.1 5.3h0.8m-0.8 -3.4h0.8m-0.7 -0.4h0.8m-0.5 -6.2h0.8m-0.8 0.5h0.8m-0.7 6h0.8m-0.7 1.6h0.8m-0.5 -2.6h0.8m-0.6 2.6h0.8m-0.5 -5.5h0.8m-0.8 2.5h0.8m-0.8 0.1h0.8m-0.7 1.3h0.8m-0.7 -3.3h0.8m-0.7 1.6h0.8m-0.8 -1.3h0.8m-0.7 8h0.8m-0.6 -6.1h0.8m-0.8 0.4h0.8m-0.7 0.5h0.8m-0.7 -1.7h0.8m-0.7 1.3h0.8m-0.7 -1.8h0.8m-0.7 -2.2h0.8m-0.8 3.6h0.8m-0.8 0.1h0.8m-0.8 0.7h0.8m-0.5 0.8h0.8m-0.8 0.4h0.8m-0.7 0.3h0.8m-0.8 -5.1h0.8m-0.8 0.3h0.8m-0.6 0.4h0.8m-0.5 -3.2h0.8m0.1 6.1h0.8m-0.8 1.3h0.8m-0.7 -4.3h0.8m-0.8 4h0.8m-0.8 -9.7h0.8m-0.7 7h0.8m-0.4 3h0.8m-0.7 -1.6h0.8m-0.6 -1.4h0.8m-0.3 3h0.8m-0.6 -0.4h0.8m-0.8 -3.6h0.8m-0.3 8.9h0.8m-0.8 -1.2h0.8m-0.6 -6.5h0.8m-0.8 0.4h0.8m-0.6 4.8h0.8m-0.7 -5.3h0.8m-0.7 -3.2h0.8m-0.8 4.3h0.8m-0.4 3.1h0.8m-0.7 -0.5h0.8m-0.7 3.3h0.8m-0.3 -9.4h0.8m-0.7 1.3h0.8m-0.8 1.3h0.8m-0.8 -5.6h0.8m-0.7 6.3h0.8m-0.8 2.9h0.8m-0.7 -4.9h0.8m-0.6 4.8h0.8m-0.8 -3.9h0.8m-0 2h0.8m-0.8 -3h0.8m-0.6 7.3h0.8m-0.8 -6.5h0.8m-0.3 -0.6h0.8m-0.7 6.4h0.8m-0.8 -5.6h0.8m-0.8 -1.6h0.8m-0.6 3.9h0.8m-0.8 3.6h0.8m-0.7 3.1h0.8m-0.6 -10h0.8m-0.6 2.9h0.8m-0.8 -5.5h0.8m-0.8 -0.2h0.8m-0.5 4.8h0.8m-0.8 9.5h0.8m-0.6 -4.8h0.8m-0.8 7.8h0.8m-0.8 -17.6h0.8m-0.3 2.7h0.8m-0.8 4.9h0.8m-0.8 -1.8h0.8m-0.2 -9.3h0.8m-0.5 8.7h0.8m-0.7 3.6h0.8m-0.5 -1h0.8m-0.6 0.8h0.8m-0.8 0.6h0.8m-0.3 -2.2h0.8m-0.7 -3h0.8m-0.6 1.4h0.8m-0.8 2.4h0.8m-0.7 -7.2h0.8m-0.7 5.7h0.8m-0.8 1.6h0.8m-0.8 1.4h0.8m-0.8 -5.4h0.8m-0.7 2.4h0.8m-0.8 -3h0.8m-0.7 5h0.8m-0.6 0.9h0.8m-0.8 -3.1h0.8m-0.7 -3.3h0.8m-0.7 6.1h0.8m-0.8 -2.4h0.8m-0.5 -0.6h0.8m-0.8 -3.7h0.8m-0.6 2.2h0.8m-0.7 6.4h0.8m-0.8 -10.4h0.8m-0.8 6.1h0.8m-0.7 -2.4h0.8m-0.4 -13.9h0.8m-0.7 15.2h0.8m-0.8 5.1h0.8m-0.7 -8.8h0.8m-0.7 3.2h0.8m-0.6 0h0.8m-0.7 -6h0.8m-0.7 6.3h0.8m-0.6 -6.1h0.8m-0.7 12.3h0.8m-0.4 -10.3h0.8m-0.5 3.9h0.8m-0.5 -0.1h0.8m-0.8 -0.5h0.8m-0.7 4.2h0.8m-0.6 -4h0.8m-0.7 2.9h0.8m-0.8 -5.2h0.8m-0.7 4.4h0.8m-0.7 -1.3h0.8m-0.5 2.6h0.8m-0.7 -6.1h0.8m-0.7 0.4h0.8m-0.8 2.2h0.8m-0.7 0.7h0.8m-0.8 2.3h0.8m-0.6 -4.8h0.8m-0.7 -4h0.8m-0.6 5.2h0.8m-0.6 -0.3h0.8m-0.2 0.1h0.8m-0.5 0.9h0.8m-0.8 -1.1h0.8m-0.7 -0.9h0.8m-0.6 1.7h0.8m-0.5 3.2h0.8m-0.7 -3.5h0.8m-0.6 2.2h0.8m-0.7 -2.7h0.8m-0.6 0.8h0.8m-0.8 1.9h0.8m-0.5 -0.1h0.8m-0.6 -3.4h0.8m-0.5 -0.5h0.8m-0.8 3.8h0.8m-0.2 -1h0.8m-0.6 0.9h0.8m-0.8 4.8h0.8m-0.7 -3.4h0.8m-0.3 -6.4h0.8m-0.8 3.8h0.8m-0.8 -0.5h0.8m-0.7 -0.3h0.8m-0.6 2.1h0.8m-0.8 -7.8h0.8m-0.4 14.5h0.8m-0.8 0.4h0.8m-0.7 -7.5h0.8m-0.8 0.1h0.8m-0.5 -0.3h0.8m-0.7 -0.1h0.8m-0.7 1.5h0.8m-0.8 -1.8h0.8m-0.8 -5h0.8m-0.7 0.5h0.8m-0.6 3.1h0.8m-0.7 5.3h0.8m-0.8 -0.3h0.8m-0.6 -2.7h0.8m-0.7 1.4h0.8m-0.5 -4h0.8m-0.8 -1.9h0.8m-0.8 5.8h0.8m-0.7 -3.7h0.8m-0.8 6.3h0.8m-0.8 -3.7h0.8m-0.7 -3.1h0.8m-0.6 3.5h0.8m-0.7 -0.9h0.8m-0.8 4.3h0.8m-0.4 -4.4h0.8m-0.7 -3.9h0.8m-0.8 7.1h0.8m-0.2 -6.1h0.8m-0.8 5.5h0.8m-0.7 2.3h0.8m-0.6 -2.5h0.8m-0.8 -4.2h0.8m-0.7 -0.3h0.8m-0.8 1.1h0.8m-0.7 4.6h0.8m-0.8 -4.7h0.8m-0.7 0.3h0.8m-0.7 -1.6h0.8m-0.5 3.4h0.8m-0.7 -0.8h0.8m-0.6 -2.7h0.8m-0.6 4h0.8m-0.8 1.8h0.8m-0.7 -5.9h0.8m-0.8 -2h0.8m-0.8 3.9h0.8m-0.3 -0.8h0.8m-0.8 -1.5h0.8m-0.7 0.5h0.8m-0.7 1.3h0.8m-0.7 4.1h0.8m-0.6 -5.8h0.8m-0.7 -2.6h0.8m-0.6 4.6h0.8m-0.6 0.6h0.8m-0.6 1.9h0.8m-0.7 -3.3h0.8m-0.6 4.9h0.8m-0.8 -6.4h0.8m-0.5 1.9h0.8m-0.8 4.5h0.8m-0.7 -4.3h0.8m-0.5 -1.2h0.8m-0.6 -2.7h0.8m-0.7 2.6h0.8m-0.8 1.7h0.8m-0.8 2.4h0.8m-0.4 -1h0.8m-0.5 -3.5h0.8m-0.5 -2.3h0.8m-0.5 4.7h0.8m-0.8 2.2h0.8m-0.7 -3.4h0.8m-0.8 0.5h0.8m-0.6 -1.7h0.8m-0.4 5.1h0.8m-0.6 -5.7h0.8m-0.8 2.4h0.8m-0.5 4.1h0.8m-0.7 -4.3h0.8m-0.4 0h0.8m-0.7 -3.3h0.8m-0.8 5.1h0.8m-0.4 1.3h0.8m0 -4.7h0.8m-0.7 3.9h0.8m-0.4 -1.8h0.8m-0.8 1.3h0.8m-0.6 -2.5h0.8m-0.7 -1.2h0.8m-0.8 3.5h0.8m-0.7 -0.3h0.8m-0.7 1.4h0.8m-0.8 -0.2h0.8m-0.7 -4.7h0.8m-0.4 1h0.8m-0.8 3.2h0.8m-0.3 -5.8h0.8m-0.7 8.8h0.8m-0.8 -7.7h0.8m-0.6 6.3h0.8m-0.5 -3.2h0.8m-0.7 0.3h0.8m-0.8 4.5h0.8m-0.5 -4.4h0.8m-0.6 -0.7h0.8m-0.5 -5.3h0.8m-0.7 1.7h0.8m-0.8 7.6h0.8m-0.7 -5.6h0.8m-0.7 6h0.8m-0.6 -3.2h0.8m-0.5 0.6h0.8m-0.8 -3.7h0.8m-0.7 3.9h0.8m-0.8 -6.2h0.8m-0.6 3h0.8m-0.7 5.2h0.8m-0.8 -1.4h0.8m-0.7 -0.4h0.8m-0.7 -4.3h0.8m-0.5 -0.1h0.8m-0.5 8h0.8m-0.7 -4.9h0.8m-0.2 -2.4h0.8m-0.7 0.1h0.8m-0.8 7.6h0.8m-0.7 -10.8h0.8m-0.6 3.6h0.8m-0.8 3h0.8m-0.7 -4.8h0.8m-0.7 3.4h0.8m-0.8 1.8h0.8m-0.8 -4.8h0.8m-0.8 0.4h0.8m-0.6 0.2h0.8m-0.8 1.6h0.8m-0.6 -1.9h0.8m-0.8 -3.5h0.8m-0.8 11.3h0.8m-0.7 -7.1h0.8m-0.7 0.9h0.8m-0.2 1.8h0.8m-0.5 -6.8h0.8m-0.6 2.4h0.8m-0.7 1.5h0.8m-0.7 0.6h0.8m-0.8 -3.9h0.8m-0.5 0.8h0.8m-0.7 5.6h0.8m-0.7 2.6h0.8m-0.4 -8.7h0.8m-0.7 3.9h0.8m-0.7 2.5h0.8m-0.4 -7.3h0.8m-0.8 4h0.8m-0.3 5.8h0.8m-0.8 -2.9h0.8m-0.6 -4.8h0.8m-0.8 6.8h0.8m-0.7 -2.1h0.8m-0.8 0.6h0.8m-0.7 -4.3h0.8m-0.3 2.9h0.8m-0.6 -2h0.8m-0.5 8.2h0.8m-0.6 -4.6h0.8m-0.5 -2.8h0.8m-0.8 -2.8h0.8m-0.4 3.8h0.8m-0.7 -0.2h0.8m-0.7 3.8h0.8m-0.6 -1.6h0.8m-0.7 -1.8h0.8m-0.8 -3.3h0.8m-0.7 -2.5h0.8m-0.7 -0.3h0.8m-0.4 3.6h0.8m-0.6 -3h0.8m-0.7 3.2h0.8m-0.8 0.6h0.8m-0.7 3.6h0.8m-0.8 -7.2h0.8m-0.7 1h0.8m-0.8 5.2h0.8m-0.6 -6.9h0.8m-0.8 3.2h0.8m-0.6 0.2h0.8m-0.5 1.6h0.8m-0.7 -0.3h0.8m-0.7 -5.2h0.8m-0.6 2.9h0.8m-0.7 -4.2h0.8m-0.7 5.5h0.8m-0.7 -0.1h0.8m-0.6 -0.8h0.8m-0.8 -1.1h0.8m-0.7 0.5h0.8m-0.8 -3.6h0.8m-0.6 7.3h0.8m-0.8 -2.8h0.8m-0.7 4.9h0.8m-0.8 -3.5h0.8m-0.4 3.2h0.8m-0.7 -1.4h0.8m-0.6 2h0.8m-0.7 -4h0.8m-0.7 1.5h0.8m-0.8 1.7h0.8m-0.5 1h0.8m-0.5 0.6h0.8m-0.6 2h0.8m-0.8 -4.3h0.8m-0.7 3.3h0.8m-0.8 3.2h0.8m-0.6 -1.3h0.8m-0.8 -3.5h0.8m-0.7 8.9h0.8m-0.8 -4.9h0.8m-0.7 -14.4h0.8m-0.2 15.8h0.8m-0.8 -6.6h0.8m-0.7 8h0.8m-0.5 -6.5h0.8m-0.6 2.4h0.8m-0.5 -1.5h0.8m-0.7 3.2h0.8m-0.8 -0.4h0.8m-0.7 -4.4h0.8m-0.6 1.7h0.8m-0.8 4.2h0.8m-0.8 -3.2h0.8m-0.6 -5.8h0.8m-0.6 6.8h0.8m-0.8 -2h0.8m-0.6 2.1h0.8m-0.7 -3.9h0.8m-0.7 6.1h0.8m-0.7 -5.6h0.8m-0.7 4.1h0.8m-0.7 -2.1h0.8m-0.8 -4.9h0.8m-0.8 4.9h0.8m-0.7 -1.7h0.8m-0.3 5.7h0.8m0.1 -7.9h0.8m-0.8 1.6h0.8m-0.6 -3.7h0.8m-0.6 2.9h0.8m-0.6 -0.7h0.8m-0.8 5.5h0.8m-0.8 -0.9h0.8m-0.7 0h0.8m-0.8 0h0.8m-0.5 -4h0.8m-0.7 4.9h0.8m-0.3 -7.4h0.8m-0.7 3h0.8m-0.6 5.4h0.8m-0.8 -2.1h0.8m-0.7 -2.6h0.8m-0.8 1.4h0.8m-0.7 0.5h0.8m-0.8 2.7h0.8m-0.3 3.1h0.8m-0.7 -8.3h0.8m-0.7 3.6h0.8m-0.7 2.1h0.8m-0.7 -0.5h0.8m-0.8 1.3h0.8m-0.4 -4h0.8m-0.7 -2h0.8m-0.8 -3.6h0.8m-0.7 3h0.8m-0.8 -1.2h0.8m-0.6 4.1h0.8m-0.1 -3.3h0.8m-0.8 -1h0.8m-0.6 1.4h0.8m-0.5 -2.6h0.8m-0.8 0h0.8m-0.8 -0.9h0.8m-0.7 2.3h0.8m-0.3 2h0.8m-0.7 3.5h0.8m-0.6 -11.7h0.8m-0.8 7.6h0.8m-0.6 -4.7h0.8m0 0.9h0.8m-0.5 9.4h0.8m-0.7 -9.4h0.8m-0.6 5.9h0.8m-0.5 -4h0.8m-0.7 -1.7h0.8m-0.6 3.2h0.8m-0.7 -1.6h0.8m-0.8 1.7h0.8m-0.7 -1h0.8m-0.7 -2.3h0.8m-0.8 8h0.8m-0.8 -2h0.8m-0.5 -6.4h0.8m-0.7 8.1h0.8m-0.5 -10.2h0.8m-0.7 1.2h0.8m-0.7 4.9h0.8m-0.6 -0.5h0.8m-0.7 -2.7h0.8m-0.6 0.2h0.8m-0.7 1.6h0.8m-0.8 4.9h0.8m-0.8 -3h0.8m-0.8 -1.4h0.8m-0.4 0.6h0.8m-0.7 -1.2h0.8m-0.6 0.9h0.8m-0.6 -1.7h0.8m-0.5 1.9h0.8m-0.8 -2.4h0.8m-0.8 -2.7h0.8m-0.8 -1.4h0.8m-0.7 2.9h0.8m-0.3 2.8h0.8m-0.5 6.3h0.8m-0.8 -4.9h0.8m-0.8 4.4h0.8m-0.7 -7.7h0.8m-0.6 -2.5h0.8m-0.8 0.5h0.8m-0.7 -2.7h0.8m-0.8 3.7h0.8m-0.6 0.8h0.8m-0.8 0.8h0.8m-0.6 1.6h0.8m-0.7 3.6h0.8m-0.5 -6.7h0.8m-0.6 3.2h0.8m-0.7 -3.6h0.8m-0.7 10h0.8m-0.7 -9h0.8m-0.8 2.2h0.8m-0.6 -0.4h0.8m-0.8 -0.6h0.8m-0.7 3.4h0.8m-0.7 -3.7h0.8m-0.3 -2.9h0.8m-0.8 4.6h0.8m-0.6 -2.2h0.8m-0.7 6.6h0.8m-0.7 -5.6h0.8m-0.7 -0.6h0.8m-0.8 2.7h0.8m-0.7 -9h0.8m-0.7 12h0.8m-0.7 -4.1h0.8m-0.8 -0.1h0.8m-0.6 2.6h0.8m-0.7 -2.7h0.8m-0.8 -2.7h0.8m-0.8 -0.5h0.8m-0.5 6.7h0.8m-0.6 -6.4h0.8m-0.5 5.2h0.8m-0.7 -4.4h0.8m-0.4 -1.1h0.8m-0.2 -2h0.8m-0.7 11h0.8m-0.8 -9.5h0.8m-0.5 4.6h0.8m-0.7 2h0.8m-0.6 -5.1h0.8m-0.5 1.6h0.8m-0.4 -0.1h0.8m-0.8 -1h0.8m-0.7 4.3h0.8m-0.8 0.3h0.8m-0.7 -6.8h0.8m-0.8 10.8h0.8m-0.7 -2.7h0.8m-0.7 -5.7h0.8m-0.8 4.7h0.8m-0.6 -1h0.8m-0.7 0.3h0.8m-0.6 -1.4h0.8m-0.8 -5.9h0.8m-0.7 0.4h0.8m-0.7 4.1h0.8m-0.8 -3.2h0.8m-0.6 1.7h0.8m-0.4 2.9h0.8m-0.6 -0.2h0.8m-0.8 -3.8h0.8m-0.7 2.5h0.8m-0.6 -2.1h0.8m-0.3 1h0.8m-0.6 2h0.8m-0.3 -3h0.8m-0.5 -1.7h0.8m-0.7 8.6h0.8m-0.8 -6.3h0.8m-0.7 2.7h0.8m-0.5 -0.7h0.8m-0.4 -1.8h0.8m-0.8 0.1h0.8m-0.7 -1h0.8m-0.7 0.3h0.8m-0.7 -1.4h0.8m-0.7 -1.4h0.8m-0.8 3.4h0.8m-0.6 3.3h0.8m-0.3 -7.1h0.8m-0.5 8.4h0.8m-0.6 -5.4h0.8m-0.8 1.8h0.8m-0.7 -4.5h0.8m-0.8 4.7h0.8m-0.8 2.6h0.8m-0.7 -1.7h0.8m-0.6 -2.2h0.8m-0.5 -1.1h0.8m-0.7 0.9h0.8m-0.8 5.5h0.8m-0.7 -1.4h0.8m-0.8 -5h0.8m-0.7 0.3h0.8m-0.8 0h0.8m-0.7 3.1h0.8m-0.4 -0.9h0.8m-0.5 -0.7h0.8m-0.7 -5.3h0.8m-0.6 7.2h0.8m-0.8 -4.9h0.8m-0.5 7.2h0.8m-0.4 -5.6h0.8m-0.7 2.2h0.8m-0.8 -1h0.8m-0.5 0.4h0.8m-0.7 4.3h0.8m-0.7 -3.3h0.8m-0.7 0.3h0.8m-0.6 -2h0.8m-0.7 -0.2h0.8m-0.6 -1.2h0.8m-0.8 4.3h0.8m-0.6 -3.4h0.8m-0.4 5.3h0.8m-0.8 -2.5h0.8m-0.8 -1.6h0.8m-0.8 -2.9h0.8m-0.8 3.6h0.8m-0.8 3.7h0.8m-0.2 -10.8h0.8m-0.5 4.1h0.8m-0.8 1.5h0.8m-0.5 1.6h0.8m-0.5 3.3h0.8m-0.8 2.7h0.8m-0.7 -7.1h0.8m-0.4 3.7h0.8m-0.6 -2.6h0.8m-0.8 6.2h0.8m-0.5 -12.7h0.8m-0.5 16.5h0.8m-0.7 -11h0.8m-0.7 1.3h0.8m-0.7 -6.4h0.8m-0.7 2.4h0.8m-0.8 -0.2h0.8m-0.7 7.3h0.8m-0.7 -5.9h0.8m-0.8 6.6h0.8m-0.7 -0.2h0.8m-0.8 -4.4h0.8m-0.8 3h0.8m-0.4 -4.6h0.8m-0.7 7h0.8m-0.7 -9.1h0.8m-0.5 6.6h0.8m-0.7 0.9h0.8m-0.7 -3.6h0.8m-0.7 -4.9h0.8m-0.8 2.6h0.8m-0.7 0.4h0.8m-0.7 1.4h0.8m-0.4 -4.4h0.8m-0.8 4.5h0.8m-0.7 1.5h0.8m-0.6 -2.3h0.8m-0.8 -4.5h0.8m-0.8 -3.9h0.8m-0.2 9.3h0.8m-0.7 -4h0.8m-0.7 5h0.8m-0.7 0h0.8m-0.7 -2h0.8m-0.7 1.4h0.8m-0.8 -0.2h0.8m-0.8 -2.5h0.8m-0.8 1h0.8m-0.8 0.4h0.8m-0.6 2.3h0.8m-0.8 -3.7h0.8m-0.8 1.5h0.8m-0.7 -1.9h0.8m-0.5 -10.2h0.8m-0.8 2.2h0.8m-0.8 5.8h0.8m-0.6 -9.3h0.8m-0.7 9.5h0.8m-0.7 -5.2h0.8m-0.7 6h0.8m-0.2 11.7h0.8m-0.7 -6.3h0.8m-0.7 -1.8h0.8m-0.6 0.7h0.8m-0.8 5.8h0.8m-0.7 -3.8h0.8m-0.5 0.4h0.8m-0.8 2.3h0.8m-0.2 -7.5h0.8m-0.4 -0.9h0.8m-0.8 8.1h0.8m-0.8 -5.5h0.8m-0.7 -0.4h0.8m-0.7 2.2h0.8m-0.7 4.6h0.8m-0.8 -4h0.8m-0.7 -2.6h0.8m-0.6 -0.5h0.8m-0.5 -1.2h0.8m-0.6 -0.7h0.8m-0.8 7.9h0.8m-0.7 -12.6h0.8m-0.7 12.8h0.8m-0.7 -3.9h0.8m-0.6 3.7h0.8m-0.6 -6.4h0.8m-0.7 3.6h0.8m-0.8 3.7h0.8m-0.6 -7h0.8m-0.6 0.8h0.8m-0.5 2h0.8m-0.6 -3.5h0.8m-0.7 -0.8h0.8m-0.6 2h0.8m-0.8 7.6h0.8m-0.7 -9.3h0.8m-0.7 2.6h0.8m-0.8 1.1h0.8m-0.8 -9.1h0.8m-0.7 -0.2h0.8m-0.8 5.4h0.8m-0.7 3h0.8m-0.7 1.7h0.8m-0.2 0.8h0.8m-0.7 -1h0.8m-0.7 -1.3h0.8m-0.6 1.1h0.8m-0.4 -6.3h0.8m-0.7 11.7h0.8m-0.5 -7.9h0.8m-0.8 7.3h0.8m-0.4 -0.8h0.8m-0.7 1.2h0.8m-0.7 -3.2h0.8m-0.7 -3h0.8m-0.7 8.4h0.8m-0.3 -12.5h0.8m-0.7 6.3h0.8m-0.5 0.1h0.8m-0.5 -1.1h0.8m-0.8 -7.3h0.8m-0.7 3.3h0.8m-0.7 0.7h0.8m-0.7 4.1h0.8m-0.6 -1.3h0.8m-0.6 3.4h0.8m-0.7 -5.7h0.8m-0.8 3.9h0.8m-0.7 -2.8h0.8m-0.6 -0.6h0.8m-0.5 -0.1h0.8m-0.8 3.9h0.8m-0.7 3.8h0.8m-0.5 -4.8h0.8m-0.8 -1h0.8m-0.6 3h0.8m-0.8 -5.9h0.8m-0.6 -1.2h0.8m-0.8 -1h0.8m-0.5 9.7h0.8m-0.7 -10.4h0.8m-0.7 0.6h0.8m-0.5 3.4h0.8m-0.7 5h0.8m-0.7 -0.4h0.8m-0.6 -3.4h0.8m-0.5 -0.2h0.8m-0.7 -0.4h0.8m-0.7 -2.6h0.8m-0.7 2.8h0.8m-0.8 -3.3h0.8m-0.5 5.3h0.8m-0.8 -1.3h0.8m-0.6 -4h0.8m-0.5 0.6h0.8m-0.5 5.6h0.8m-0.6 -8.8h0.8m-0.8 7.3h0.8m-0.6 -1.1h0.8m-0.6 -0.8h0.8m-0.8 0.4h0.8m-0.7 -2h0.8m-0.8 -1.6h0.8m-0.7 3.6h0.8m-0.7 -1.9h0.8m-0.7 0.5h0.8m-0.7 3.9h0.8m-0.7 0.3h0.8m-0.7 -1h0.8m-0.7 1.5h0.8m-0.8 -2.6h0.8m-0.3 -0.6h0.8m-0.5 -2.4h0.8m-0.7 3.8h0.8m-0.7 -0.6h0.8m-0.6 0.4h0.8m-0.8 0.1h0.8m-0.7 3h0.8m-0.6 -3.8h0.8m-0.7 -3.8h0.8m-0.8 5.1h0.8m-0.6 -2.4h0.8m-0.7 0.8h0.8m-0.8 -2h0.8m-0.3 3.8h0.8m-0.6 -2h0.8m-0.7 1.2h0.8m-0.7 -2.7h0.8m-0.5 0.6h0.8m-0.6 6.6h0.8m-0.6 -4.9h0.8m-0.8 0.8h0.8m-0.7 -1.5h0.8m-0.2 -3.1h0.8m-0.7 1.4h0.8m-0.8 -2.4h0.8m-0.5 3.1h0.8m-0.4 2.8h0.8m-0.5 1.8h0.8m-0.6 5.4h0.8m-0.2 -15.7h0.8m-0.7 1.9h0.8m-0.8 1.8h0.8m-0.5 12.5h0.8m-0.7 -9.4h0.8m-0.7 -3.5h0.8m-0.6 6h0.8m-0.7 -0.8h0.8m-0.6 -3.7h0.8m-0.8 2.5h0.8m-0.2 -5.2h0.8m-0.8 2.8h0.8m-0.5 2.1h0.8m-0.6 -4.1h0.8m-0.8 2.1h0.8m-0.8 3.4h0.8m-0.5 0.1h0.8m-0.8 1h0.8m-0.8 1.4h0.8m-0.6 -5h0.8m-0.6 1.3h0.8m-0.6 -1.3h0.8m-0.5 1.4h0.8m-0.7 -2.1h0.8m-0.7 2.8h0.8m-0.7 2.3h0.8m-0.6 -7h0.8m-0.8 7.1h0.8m-0.8 -11h0.8m-0.6 7.9h0.8m-0.6 -3.8h0.8m-0.6 2.1h0.8m-0.8 2.5h0.8m-0.8 0h0.8m-0.6 -2h0.8m-0.8 3.9h0.8m-0.7 -1.6h0.8m-0.7 -0.8h0.8m-0.4 -1.6h0.8m-0.8 6.7h0.8m-0.6 -6.8h0.8m-0.7 0.6h0.8m-0.8 -2.2h0.8m-0.6 4.2h0.8m-0.7 2.7h0.8m-0.8 -6.3h0.8m-0.8 1.2h0.8m-0.8 -5.4h0.8m-0.3 15.6h0.8m-0.7 -10.7h0.8m-0.7 5.5h0.8m-0.7 -8.6h0.8m-0.6 6.7h0.8m-0.8 -5.4h0.8m-0.7 -0.2h0.8m-0.8 4.7h0.8m-0.7 -1.9h0.8m-0.3 0.2h0.8m-0.6 2.5h0.8m-0.6 -2.4h0.8m-0.8 -5h0.8m-0.5 2.5h0.8m-0.7 -1.9h0.8m-0.8 5h0.8m-0.8 0h0.8m-0.6 3.2h0.8m-0.6 -5.1h0.8m-0.7 -1.2h0.8m-0.8 0.5h0.8m-0.6 2.2h0.8m-0.7 1.1h0.8m-0.7 -1.3h0.8m-0.6 -5.6h0.8m-0.3 5.6h0.8m-0.7 0.8h0.8m-0.6 -5.3h0.8m-0.8 1.3h0.8m-0.7 2.6h0.8m-0.5 1.9h0.8m-0.7 2.3h0.8m-0.8 -1.3h0.8m-0.6 -2.3h0.8m-0.6 -3.8h0.8m-0.7 -0.2h0.8m-0.5 1.9h0.8m-0.8 -0.3h0.8m-0.7 12.6h0.8m-0.7 -6.2h0.8m-0.8 -4h0.8m-0.8 -2h0.8m-0.7 4.3h0.8m-0.5 -3.6h0.8m-0.8 2.6h0.8m-0.7 -1.6h0.8m-0.5 -2.6h0.8m-0.8 -2.6h0.8m-0.8 3.3h0.8m-0.3 -0.8h0.8m-0.8 6.1h0.8m-0.8 -0.6h0.8m-0.8 4.2h0.8m-0.8 -5.6h0.8m-0.7 -1h0.8m-0.7 -2.1h0.8m-0.5 2.7h0.8m-0.5 -0.5h0.8m-0.7 -2.9h0.8m-0.6 3.8h0.8m-0.6 2.8h0.8m-0.8 -5.2h0.8m-0.6 5.9h0.8m-0.6 -6h0.8m-0.7 2.7h0.8m-0.8 1h0.8m-0.8 0.2h0.8m-0.5 -4.8h0.8m-0.8 4.3h0.8m-0.6 0.5h0.8m-0.3 -5h0.8m-0.8 -0.4h0.8m-0.6 -1.9h0.8m-0.7 3.1h0.8m-0.8 0.8h0.8m-0.8 0.5h0.8m-0.7 3h0.8m-0.8 -0.7h0.8m-0.6 -5.3h0.8m-0.3 -0.9h0.8m-0.4 1.9h0.8m-0.7 6.3h0.8m-0.8 -5.9h0.8m-0.6 0.5h0.8m-0.8 5.5h0.8m-0.7 -4.9h0.8m-0.5 3.7h0.8m-0.8 -3.7h0.8m-0.8 -1.3h0.8m-0.8 2.2h0.8m-0.5 3.3h0.8m-0.6 -3.4h0.8m-0.7 5.1h0.8m-0.8 -5.1h0.8m-0.4 2h0.8m-0.7 -2.9h0.8m-0.5 4.1h0.8m-0.8 -3.4h0.8m-0.4 5h0.8m-0.7 1.9h0.8m-0.5 -3.3h0.8m-0.8 -3.2h0.8m-0.7 0.7h0.8m-0.7 -0.8h0.8m-0.8 0.1h0.8m-0.7 -1.2h0.8m-0.6 2.4h0.8m-0.7 -6h0.8m-0.7 1.4h0.8m-0.7 2.5h0.8m-0.8 -1.5h0.8m-0.6 4.9h0.8m-0.8 0.5h0.8m-0.7 -10.8h0.8m-0.8 7h0.8m-0.7 -2h0.8m-0.7 1.3h0.8m-0.7 2.8h0.8m-0.8 -2.4h0.8m-0.2 9h0.8m-0.7 -7.4h0.8m-0.8 4.6h0.8m-0.7 -5.8h0.8m-0.3 5h0.8m-0.7 -5.2h0.8m-0.8 1.5h0.8m-0.6 0.6h0.8m-0.7 5.1h0.8m-0.6 0.1h0.8m-0.5 -1.2h0.8m-0.7 -4.4h0.8m-0.7 -1.3h0.8m-0.8 0.5h0.8m-0.8 2.3h0.8m-0.2 0.3h0.8m-0.5 -5.8h0.8m-0.7 1.4h0.8m-0.8 2.3h0.8m-0.8 5.9h0.8m-0.7 -0.6h0.8m-0.8 -9.7h0.8m-0.7 5.3h0.8m-0.8 -2.5h0.8m-0.7 -0.3h0.8m-0.8 -1h0.8m-0.6 6.4h0.8m-0.6 -7.1h0.8m-0.6 3.8h0.8m-0.7 -1.1h0.8m-0.7 -5.3h0.8m-0.3 8.8h0.8m-0.8 -4.9h0.8m-0.7 5.3h0.8m-0.8 -7.8h0.8m-0.6 1.1h0.8m-0.7 18.7h0.8m-0.6 -15.3h0.8m-0.5 -1.9h0.8m-0.7 1.5h0.8m-0.6 1.9h0.8m-0.5 2.6h0.8m-0.3 -2.8h0.8m-0.6 -3.4h0.8m-0.8 10h0.8m-0.6 -3.5h0.8m-0.7 -1.3h0.8m-0.7 -3.7h0.8m-0.7 3.2h0.8m-0.8 -5.1h0.8m-0.7 4.7h0.8m-0.6 -2.5h0.8m-0.8 4.1h0.8m-0.7 -5.7h0.8m-0.7 2.4h0.8m-0.7 3.8h0.8m-0.8 -5h0.8m-0.8 -1.4h0.8m-0.4 -0.5h0.8m-0.7 7.5h0.8m-0.5 -8.4h0.8m-0.6 0.2h0.8m-0.7 2.7h0.8m-0.8 -2.8h0.8m-0.7 9h0.8m-0.5 -5.9h0.8m-0.7 7.9h0.8m-0.5 -5.2h0.8m-0.7 -5.3h0.8m-0.5 1.8h0.8m-0.8 -2.1h0.8m-0.6 2.6h0.8m-0.3 0.9h0.8m-0.5 4.9h0.8m-0.7 -5.9h0.8m-0.8 -6.7h0.8m-0.4 14.4h0.8m-0.8 -13.8h0.8m-0.7 3.9h0.8m-0.7 1.2h0.8m-0.7 5.5h0.8m-0.7 -6.2h0.8m-0.7 0.5h0.8m-0.7 3.4h0.8m-0.6 -6.5h0.8m-0.8 1.2h0.8m-0.7 6.6h0.8m-0.7 -1.2h0.8m-0.7 5.4h0.8m-0.4 -1.2h0.8m-0.6 -4.2h0.8m-0.8 -1.5h0.8m-0.5 2.3h0.8m-0.7 2.9h0.8m-0.6 4.7h0.8m-0.7 -7.1h0.8m-0.7 0.9h0.8m-0.7 -4.5h0.8m-0.7 3.6h0.8m-0.7 -0.3h0.8m-0.8 1.4h0.8m-0.5 -6.4h0.8m-0.6 7.8h0.8m-0.4 -8.9h0.8m-0.6 5.3h0.8m-0.7 -0.4h0.8m-0.7 -0.4h0.8m-0.8 -2.7h0.8m-0.5 0.7h0.8m-0.5 8.7h0.8m-0.7 -3.4h0.8m-0.7 -10.8h0.8m-0.7 8.4h0.8m-0.7 -0.7h0.8m-0.8 -7.2h0.8m-0.7 4.1h0.8m-0.5 2.3h0.8m-0.7 -8.3h0.8m-0.7 5.4h0.8m-0.5 -2.7h0.8m-0.8 8h0.8m-0.6 -4.1h0.8m-0.7 4.8h0.8m-0.8 -5.1h0.8m-0.5 0.5h0.8m-0.7 7.3h0.8m-0.6 5.2h0.8m-0.6 -15.7h0.8m-0.8 0.7h0.8m-0.6 -2.4h0.8m-0.8 3.6h0.8m-0.7 -2.1h0.8m-0.7 0.1h0.8m-0.7 4.9h0.8m-0.7 -1.5h0.8m-0.8 -1.7h0.8m-0.8 0.6h0.8m-0.7 -6.2h0.8m-0.7 6.9h0.8m-0.7 -3.7h0.8m-0.6 3.4h0.8m-0.7 -0.6h0.8m-0.6 0.4h0.8m-0.8 -1.4h0.8m-0.6 -4h0.8m-0.7 3.7h0.8m-0.7 0.4h0.8m-0.6 10.6h0.8m-0.8 -7.5h0.8m-0.2 4.1h0.8m-0.6 -0.2h0.8m-0.7 -4.7h0.8m-0.7 -0.4h0.8m-0.7 3.1h0.8m-0.6 -5.5h0.8m-0.6 4.9h0.8m-0.7 -4.2h0.8m0.1 4.9h0.8m-0.7 -3.5h0.8m-0.6 -2.2h0.8m-0.6 3.3h0.8m-0.5 -3.8h0.8m-0.8 5.4h0.8m-0.7 -5.1h0.8m-0.6 5.6h0.8m-0.8 -9.3h0.8m-0.5 9.1h0.8m-0.8 -5.4h0.8m-0.7 4.3h0.8m-0.7 -1.5h0.8m-0.8 3.4h0.8m-0.7 -1.2h0.8m-0.5 1.5h0.8m-0.4 0.5h0.8m-0.7 -4.3h0.8m-0.8 3h0.8m-0.8 -3.7h0.8m-0.6 2.8h0.8m-0.5 0.3h0.8m0.1 2.2h0.8m-0.8 -1.7h0.8m-0.7 3h0.8m0.1 0.8h0.8m-0.8 0.5h0.8m-0.7 -8.9h0.8m-0.7 4.6h0.8m-0.8 -2.6h0.8m-0.7 2.6h0.8m-0.7 -2.5h0.8m-0.6 0.7h0.8m-0.3 -0.7h0.8m-0.7 0.6h0.8m-0.7 0.9h0.8m-0.7 -0.7h0.8m-0.7 -2.7h0.8m-0.6 3.5h0.8m-0.6 -0.7h0.8m-0.8 -3h0.8m-0.8 0.2h0.8m-0.7 3.6h0.8m-0.6 2.4h0.8m-0.7 -3.8h0.8m-0.8 1.1h0.8m-0.4 -1h0.8m-0.8 -1.3h0.8m-0.7 0.3h0.8m-0.8 2.9h0.8m-0.6 -3.8h0.8m-0.6 1h0.8m-0.4 3.3h0.8m-0.7 -4.9h0.8m-0.7 2.3h0.8m-0.8 4.7h0.8m-0.6 -2.5h0.8m-0.8 -3.5h0.8m-0.7 5.8h0.8m-0.7 -4h0.8m-0.7 2.2h0.8m-0.7 -1h0.8m-0.8 -3h0.8m-0.7 -3h0.8m-0.8 2.1h0.8m-0.7 2.7h0.8m-0.8 -0.4h0.8m-0.6 4.1h0.8m-0.7 -5.6h0.8m-0.8 4.5h0.8m-0.6 -1.4h0.8m-0.3 4.8h0.8m-0.7 -5.5h0.8m-0.7 -3.2h0.8m-0.8 5.6h0.8m-0.6 -3.2h0.8m-0.7 -2.1h0.8m-0.7 3.2h0.8m-0.7 -5.3h0.8m-0.8 7.6h0.8m-0.7 -1.3h0.8m-0.6 0.1h0.8m-0.6 -0.8h0.8m-0.8 5.7h0.8m-0.7 -5h0.8m-0.7 -4.7h0.8m-0.8 12.4h0.8m-0.5 -0.5h0.8m-0.5 -6.5h0.8m-0.6 -2.5h0.8m-0.7 8.5h0.8m-0.7 -4.9h0.8m-0.1 -0.4h0.8m-0.5 4.3h0.8m-0.8 -2.1h0.8m-0.5 1.7h0.8m-0.4 -7.4h0.8m-0.6 8.8h0.8m-0.7 -1.5h0.8m-0.7 -6.2h0.8m-0.4 3.9h0.8m-0.7 -6h0.8m-0.8 5.2h0.8m-0.6 -0.2h0.8m-0.6 3.4h0.8m-0.8 -4.4h0.8m-0.6 -0.2h0.8m-0.6 1.6h0.8m-0.4 -0.2h0.8m-0.6 -4h0.8m-0.8 2.3h0.8m-0.8 3.1h0.8m-0.8 -7.4h0.8m-0.5 4.4h0.8m-0.5 3.4h0.8m-0.6 -1.4h0.8m-0.8 3.1h0.8m-0.7 -4.3h0.8m-0.7 1.1h0.8m-0.8 5.6h0.8m-0.8 -7.1h0.8m-0.7 1.6h0.8m-0.8 0.1h0.8m-0.7 -0.6h0.8m-0.8 4.7h0.8m-0.6 1.1h0.8m-0.8 -5.1h0.8m-0.7 2.2h0.8m-0.6 -3.5h0.8m-0.8 3.1h0.8m-0.6 -4.4h0.8m-0.7 0.5h0.8m-0.6 4.3h0.8m-0.7 -6h0.8m-0.8 2.4h0.8m-0.6 4h0.8m-0.8 -4.7h0.8m-0.5 0.1h0.8m-0.8 5.7h0.8m-0.7 -6.8h0.8m-0.7 1.1h0.8m-0.7 2.7h0.8m-0.6 -4.8h0.8m-0.6 3.3h0.8m-0.7 1.2h0.8m-0.7 2.9h0.8m-0.7 -9.9h0.8m-0.7 -0.2h0.8m-0.8 2.7h0.8m-0.5 1.6h0.8m-0.7 7.3h0.8m-0.3 -4.7h0.8m-0.8 -2.7h0.8m-0.8 3.2h0.8" stroke="#a8a8a8" stroke-width="0.8" fill="none"/>
<path d="M486.1 468.5V503.3M501.4 468.5V503.3M517.5 468.5V503.3M530.9 468.5V503.3M543.2 468.5V503.3M555.2 468.5V503.3M567.2 468.5V503.3M577.8 468.5V503.3M586.7 468.5V503.3M594.0 468.5V503.3M602.7 468.5V503.3M611.4 468.5V503.3M620.6 468.5V503.3M627.3 468.5V503.3M632.4 468.5V503.3M637.5 468.5V503.3M643.4 468.5V503.3M648.4 468.5V503.3M653.3 468.5V503.3M657.2 468.5V503.3M660.8 468.5V503.3M662.4 468.5V503.3M663.9 468.5V503.3M665.3 468.5V503.3M675.7 468.5V503.3" stroke="#222" stroke-width="1.0" stroke-dasharray="1.9 2.3" fill="none"/>
<line x1="479.2" y1="481.7" x2="683.8" y2="481.7" stroke="#62e0e8" stroke-width="1.35" stroke-dasharray="3.8 3.6"/>
<line x1="479.2" y1="490.1" x2="683.8" y2="490.1" stroke="#62e0e8" stroke-width="1.35" stroke-dasharray="3.8 3.6"/>
<path d="M486.1 485.7H531.1V483.8H543.4V490.1H552.3V485.7H585.7V477.2H586.8V489.9H588.1V485.7H593.9V489.9H595.2V485.7H631.1V488.7H632.7V485.7H644.2V488.9H646.1V485.7H649.8V483.9H656.1V485.7H666.1V489.5H676.1" stroke="#f0a040" stroke-width="1.25" fill="none"/>
<rect x="479.2" y="468.5" width="204.6" height="34.8" fill="none" stroke="#8c8c8c" stroke-width="0.9"/>
<line x1="476.2" y1="469.1" x2="479.2" y2="469.1" stroke="#555" stroke-width="0.8" />
<line x1="476.2" y1="477.43" x2="479.2" y2="477.43" stroke="#555" stroke-width="0.8" />
<line x1="476.2" y1="485.76" x2="479.2" y2="485.76" stroke="#555" stroke-width="0.8" />
<line x1="476.2" y1="494.09" x2="479.2" y2="494.09" stroke="#555" stroke-width="0.8" />
<line x1="476.2" y1="502.42" x2="479.2" y2="502.42" stroke="#555" stroke-width="0.8" />
<line x1="486.1" y1="503.3" x2="486.1" y2="506.1" stroke="#555" stroke-width="0.8" />
<line x1="517.35" y1="503.3" x2="517.35" y2="506.1" stroke="#555" stroke-width="0.8" />
<line x1="548.6" y1="503.3" x2="548.6" y2="506.1" stroke="#555" stroke-width="0.8" />
<line x1="579.85" y1="503.3" x2="579.85" y2="506.1" stroke="#555" stroke-width="0.8" />
<line x1="611.1" y1="503.3" x2="611.1" y2="506.1" stroke="#555" stroke-width="0.8" />
<line x1="642.35" y1="503.3" x2="642.35" y2="506.1" stroke="#555" stroke-width="0.8" />
<line x1="673.6" y1="503.3" x2="673.6" y2="506.1" stroke="#555" stroke-width="0.8" />
<text x="579.8" y="464.9" font-size="9.5" text-anchor="middle" fill="#111" font-weight="normal" >10 shots</text>
<rect x="52.3" y="533.4" width="45" height="8.8" fill="#c4c4c4" opacity="0.8"/>
<rect x="97.3" y="531.5" width="12.31" height="8.8" fill="#c4c4c4" opacity="0.8"/>
<rect x="109.61" y="537.8" width="8.94" height="8.8" fill="#c4c4c4" opacity="0.8"/>
<rect x="118.55" y="533.4" width="33.38" height="8.8" fill="#c4c4c4" opacity="0.8"/>
<rect x="151.93" y="524.9" width="1.12" height="8.8" fill="#c4c4c4" opacity="0.8"/>
<rect x="153.05" y="537.6" width="1.25" height="8.8" fill="#c4c4c4" opacity="0.8"/>
<rect x="154.3" y="533.4" width="1.12" height="8.8" fill="#c4c4c4" opacity="0.8"/>
<rect x="155.43" y="533.4" width="0.62" height="8.8" fill="#c4c4c4" opacity="0.8"/>
<rect x="156.05" y="533.4" width="4.06" height="8.8" fill="#c4c4c4" opacity="0.8"/>
<rect x="160.11" y="537.6" width="1.25" height="8.8" fill="#c4c4c4" opacity="0.8"/>
<rect x="161.36" y="533.4" width="34.69" height="8.8" fill="#c4c4c4" opacity="0.8"/>
<rect x="196.05" y="536.4" width="1.25" height="8.8" fill="#c4c4c4" opacity="0.8"/>
<rect x="197.3" y="536.4" width="1.56" height="8.8" fill="#c4c4c4" opacity="0.8"/>
<rect x="198.86" y="533.4" width="11.56" height="8.8" fill="#c4c4c4" opacity="0.8"/>
<rect x="210.43" y="536.6" width="1.88" height="8.8" fill="#c4c4c4" opacity="0.8"/>
<rect x="212.3" y="533.4" width="3.75" height="8.8" fill="#c4c4c4" opacity="0.8"/>
<rect x="216.05" y="531.6" width="6.25" height="8.8" fill="#c4c4c4" opacity="0.8"/>
<rect x="222.3" y="533.4" width="10" height="8.8" fill="#c4c4c4" opacity="0.8"/>
<rect x="232.3" y="537.2" width="10" height="8.8" fill="#c4c4c4" opacity="0.8"/>
<path d="M52.3 534.6h0.8m-0.7 3.1h0.8m-0.7 -8h0.8m-0.7 11.5h0.8m-0.6 -0.6h0.8m-0.2 -2.4h0.8m-0.8 -2.7h0.8m-0.6 1.5h0.8m-0.8 0.9h0.8m-0.7 0h0.8m-0.8 0.3h0.8m-0.8 -5.6h0.8m-0.7 8.7h0.8m-0.8 -4.9h0.8m-0.7 1.7h0.8m-0.6 -2.5h0.8m-0.8 2.2h0.8m-0.8 7.3h0.8m-0.6 -7.4h0.8m-0.6 -1.1h0.8m-0.1 3.7h0.8m-0.8 -4.5h0.8m-0.7 -1.3h0.8m-0.7 8.8h0.8m-0.8 -4.9h0.8m-0.7 2.7h0.8m-0.7 -1.8h0.8m0.1 0.1h0.8m-0.8 -6.9h0.8m-0.5 3.7h0.8m-0.8 -1.7h0.8m-0.7 4.7h0.8m-0.7 -3.5h0.8m-0.7 -0.7h0.8m-0.7 -1.1h0.8m-0.7 0h0.8m-0.8 0.4h0.8m-0.7 3.5h0.8m-0.7 3.7h0.8m-0.7 -0.5h0.8m-0.8 -2.6h0.8m-0.8 2.6h0.8m-0.7 5.3h0.8m-0.5 -7.6h0.8m-0.8 -0.4h0.8m-0.7 4.8h0.8m-0.6 -7.1h0.8m-0.7 2.7h0.8m-0.7 -3.5h0.8m-0.8 3.9h0.8m-0.5 -4.3h0.8m-0.7 0.4h0.8m-0.7 3.6h0.8m-0.7 -1.4h0.8m-0.7 -1.5h0.8m-0.7 5.2h0.8m-0.7 -5h0.8m-0.7 5.4h0.8m-0.7 -6.4h0.8m-0.7 -1.6h0.8m-0.8 1.8h0.8m-0.6 3.3h0.8m-0.7 0.6h0.8m-0.6 -6h0.8m-0.8 8.6h0.8m-0.7 -0.4h0.8m-0.6 -1.8h0.8m-0.5 -4.2h0.8m-0.7 3.9h0.8m-0.7 -6.8h0.8m-0.8 7.1h0.8m-0.5 -3.9h0.8m-0.8 -1.5h0.8m-0.8 10.6h0.8m-0.8 -6.8h0.8m-0.8 -2h0.8m-0.4 5h0.8m-0.7 -6h0.8m-0.6 -0.3h0.8m-0.6 8.3h0.8m-0.7 -11.4h0.8m-0.8 11.9h0.8m-0.3 -5.1h0.8m-0.6 1.6h0.8m-0.8 -0.1h0.8m-0.7 -6.9h0.8m-0.6 6.5h0.8m-0.7 -0.9h0.8m-0.8 3.9h0.8m-0.7 -3.9h0.8m-0.7 -5.2h0.8m-0.7 3.5h0.8m-0.6 -1h0.8m-0.6 0.7h0.8m-0.7 1.7h0.8m-0.6 -4h0.8m-0.8 -1.8h0.8m-0.6 2.3h0.8m-0.7 4.8h0.8m-0.7 -3.7h0.8m-0.6 0h0.8m-0.6 3.4h0.8m-0.6 -2.1h0.8m-0.7 -4.2h0.8m-0.3 3h0.8m-0.8 5.3h0.8m-0.4 -2.5h0.8m-0.7 -1.2h0.8m-0.7 -5.7h0.8m-0.4 3.4h0.8m-0.6 4.7h0.8m-0.7 1.1h0.8m-0.3 -4.4h0.8m-0.7 0.2h0.8m-0.6 2.4h0.8m-0.8 1h0.8m-0.5 -4.6h0.8m-0.8 1.3h0.8m-0.7 6.7h0.8m-0.8 0.6h0.8m-0.8 -6.4h0.8m-0.7 -1.6h0.8m-0.6 -0.6h0.8m-0.6 -2.5h0.8m-0.7 7.1h0.8m-0.6 -5h0.8m-0.8 2.9h0.8m-0.7 4.1h0.8m-0.8 -7.4h0.8m-0.6 3.7h0.8m-0.8 0h0.8m-0.6 0.8h0.8m-0.8 0.9h0.8m-0.5 -3.9h0.8m-0.6 -0.2h0.8m-0.8 4.7h0.8m-0.7 -4.9h0.8m-0.6 -0.4h0.8m-0.7 1.7h0.8m-0.8 4.7h0.8m-0.5 -2.5h0.8m-0.4 -2.8h0.8m-0.7 8.9h0.8m-0.5 -18.7h0.8m-0.6 10.7h0.8m-0.7 -9.1h0.8m-0.6 11h0.8m-0.7 7.8h0.8m-0.8 -7h0.8m-0.6 -0.5h0.8m-0.7 -3.7h0.8m-0.8 2.5h0.8m-0.7 0.4h0.8m-0.8 0.9h0.8m-0.2 -3.7h0.8m-0.8 1h0.8m-0.7 0.7h0.8m-0.8 -1.5h0.8m-0.8 -3.4h0.8m-0.8 9.7h0.8m-0.4 -7.8h0.8m-0.5 5.4h0.8m-0.7 -4.4h0.8m-0.8 4h0.8m-0.5 -1.2h0.8m-0.8 -5.8h0.8m-0.6 4.7h0.8m-0.6 -2.8h0.8m-0.5 3.3h0.8m-0.7 2.5h0.8m-0.7 -4.6h0.8m-0.8 2.9h0.8m-0.6 3.5h0.8m-0.8 -4.1h0.8m-0.8 -2.7h0.8m-0.4 6h0.8m-0.8 -1.7h0.8m-0.4 1.5h0.8m-0.5 0h0.8m-0.7 -4.7h0.8m-0.8 -0.5h0.8m-0.6 2.6h0.8m-0.4 2.7h0.8m-0.6 -6.2h0.8m-0.8 4h0.8m-0.8 -3h0.8m-0.3 5.2h0.8m-0.6 -5.8h0.8m-0.4 7.2h0.8m-0.7 -14.8h0.8m-0.8 9.7h0.8m-0.8 2.8h0.8m-0.8 -3.1h0.8m-0.7 -1.4h0.8m-0.8 3.6h0.8m-0.7 -0.3h0.8m-0.7 -4.9h0.8m-0.6 3.1h0.8m-0.8 -1.2h0.8m-0.6 -3.6h0.8m-0.8 0.7h0.8m-0.7 3.4h0.8m-0.6 -4.7h0.8m-0.8 6.2h0.8m-0.5 1h0.8m-0.8 -4.5h0.8m-0.6 -0.3h0.8m-0.6 0.2h0.8m-0.8 6h0.8m-0.8 -5.7h0.8m-0.7 -3h0.8m-0.6 3.7h0.8m-0.7 2.1h0.8m-0.8 1.9h0.8m-0.8 0.7h0.8m-0.7 -4h0.8m-0.7 2.4h0.8m-0.8 1.9h0.8m-0.7 -9.2h0.8m-0.8 3.4h0.8m-0.8 -0.5h0.8m-0.5 -1.3h0.8m-0.6 7.2h0.8m-0.6 -2.3h0.8m-0.6 0h0.8m-0.8 -1.7h0.8m-0.7 -3h0.8m-0.8 4.9h0.8m-0.7 0.8h0.8m-0.7 6.9h0.8m-0.5 -7.5h0.8m-0.6 0.2h0.8m-0.7 -0.8h0.8m-0.7 -0.4h0.8m-0.8 0.4h0.8m-0.5 1.1h0.8m-0.7 1.3h0.8m-0.7 -2.6h0.8m0 -3.3h0.8m-0.2 2.2h0.8m-0.8 -2.1h0.8m-0.7 2h0.8m-0.7 3.7h0.8m-0.6 -3.6h0.8m-0.4 1.1h0.8m-0.8 -6.6h0.8m-0.4 5.1h0.8m-0.2 -1.6h0.8m-0.3 7.1h0.8m-0.8 -1.1h0.8m-0.7 -1.5h0.8m-0.6 -4.2h0.8m-0.8 8.5h0.8m-0.5 -4.2h0.8m-0.8 1.2h0.8m-0.4 -3.3h0.8m-0.7 -1.4h0.8m-0.8 1.5h0.8m-0.8 1.2h0.8m-0.5 -3.8h0.8m-0.6 1.2h0.8m-0.2 -4.3h0.8m-0.7 6.7h0.8m-0.7 -0.3h0.8m-0.6 0.1h0.8m-0.5 5.1h0.8m-0.6 -3.2h0.8m-0.6 -3.2h0.8m-0.8 2.8h0.8m-0.7 -0.7h0.8m-0.8 -1h0.8m-0.8 -0.4h0.8m-0.7 -1.2h0.8m-0.6 4.3h0.8m-0.7 -2.8h0.8m-0.5 -0.3h0.8m-0.4 -3.4h0.8m-0.8 2.7h0.8m-0.7 -3.6h0.8m-0.3 0.2h0.8m-0.8 4.6h0.8m-0.5 -3.3h0.8m-0.8 7.3h0.8m-0.7 -4.9h0.8m-0.5 -4.2h0.8m-0.7 3.8h0.8m-0.8 1.1h0.8m-0.5 1.9h0.8m-0.8 -1.1h0.8m-0.7 3.2h0.8m-0.8 -4h0.8m-0.7 7.2h0.8m-0.8 -3.3h0.8m-0.6 -1.8h0.8m-0.4 -3.3h0.8m-0.6 -6.7h0.8m-0.7 7h0.8m-0.6 7.5h0.8m-0.7 -6.8h0.8m-0.8 1.9h0.8m0.1 6h0.8m-0.7 -9h0.8m-0.8 -2.4h0.8m-0.6 4.3h0.8m-0.6 -0.4h0.8m-0.7 -1.1h0.8m-0.7 1.7h0.8m-0.6 2.4h0.8m-0.7 0h0.8m-0.7 -2.5h0.8m-0.8 -6.8h0.8m-0.8 0.3h0.8m-0.8 2.4h0.8m-0.7 8.7h0.8m-0.8 -4.6h0.8m-0.5 -4.1h0.8m-0.7 2.2h0.8m-0.8 0.2h0.8m-0.6 -0.8h0.8m-0.7 -1.3h0.8m-0.8 6h0.8m-0.6 -6.7h0.8m-0.5 3.5h0.8m-0.7 8.1h0.8m-0.6 -12.9h0.8m-0.7 6h0.8m-0.7 -3.2h0.8m-0.6 -8.3h0.8m-0.4 9.6h0.8m-0.5 -2.3h0.8m-0.7 -9.1h0.8m-0.5 12.4h0.8m-0.7 -1.5h0.8m-0.7 -6.7h0.8m-0.3 4.1h0.8m-0.7 1.5h0.8m-0.7 -1.2h0.8m-0.4 1.8h0.8m-0.5 -4h0.8m-0.6 4.1h0.8m-0.8 -6.7h0.8m-0.5 4h0.8m-0.7 6.9h0.8m-0.6 -2.9h0.8m-0.8 -3.2h0.8m-0.8 -1.8h0.8m-0.4 4.4h0.8m-0.8 -1.5h0.8m-0.7 4.8h0.8m-0.6 -4.6h0.8m-0.7 3h0.8m-0.7 -0.3h0.8m-0.5 -1.6h0.8m-0.8 -2.8h0.8m-0.6 0.5h0.8m-0.7 -0.2h0.8m-0.7 2.9h0.8m-0.8 1.6h0.8m-0.7 -2.5h0.8m-0.7 5.1h0.8m-0.6 -0.8h0.8m-0.8 -2h0.8m-0.7 -2.2h0.8m-0.7 -3h0.8m-0.7 -0.1h0.8m-0.7 2.3h0.8m-0.8 -3.8h0.8m-0.8 2.7h0.8m-0.7 4.5h0.8m-0.5 -5.9h0.8m-0.7 8.1h0.8m-0.7 -8.5h0.8m-0.8 0h0.8m-0.5 2.8h0.8m-0.7 1.2h0.8m-0.1 -1.8h0.8m-0.6 0.4h0.8m-0.7 3.3h0.8m-0.8 -5.3h0.8m-0.7 5.3h0.8m-0.6 -2.3h0.8m-0.7 0.5h0.8m-0.8 -4.5h0.8m-0.6 -0.5h0.8m-0.6 3.8h0.8m-0.8 4h0.8m-0.8 0.7h0.8m-0.4 -4.8h0.8m-0.8 2.9h0.8m-0.7 5.3h0.8m-0.7 -14.4h0.8m-0.6 0.5h0.8m-0.8 5.9h0.8m-0.7 4.2h0.8m-0.8 -0.2h0.8m-0.7 2.4h0.8m-0.7 -8.1h0.8m-0.4 6.5h0.8m-0.7 0.3h0.8m-0.8 -4.8h0.8m-0.5 3.7h0.8m-0.8 2.9h0.8m-0.6 -3.6h0.8m-0.8 3.5h0.8m-0.7 -5.8h0.8m-0.8 8.4h0.8m-0.5 -6h0.8m-0.8 4.9h0.8m-0.6 -4h0.8m-0.7 3.3h0.8m-0.7 2.3h0.8m-0.8 2.2h0.8m-0.8 1.5h0.8m-0.5 -8h0.8m-0.7 -1.4h0.8m-0.7 3.2h0.8m-0.6 -3h0.8m-0.8 2.7h0.8m-0.7 -1.4h0.8m-0.7 1.8h0.8m-0.8 -1h0.8m-0.7 2.7h0.8m-0.6 -5.4h0.8m-0.8 4.7h0.8m-0.7 -0.5h0.8m-0.7 -0.7h0.8m-0.5 -0.4h0.8m-0.7 2.1h0.8m-0.6 -7.3h0.8m-0.7 4.1h0.8m-0.7 2.6h0.8m-0.7 -1.2h0.8m-0.2 11.3h0.8m-0.7 -5.3h0.8m-0.7 -2.4h0.8m-0.5 -1.3h0.8m-0.8 -2h0.8m-0.7 1.6h0.8m-0.7 -3.4h0.8m-0.3 0h0.8m-0.6 -0.2h0.8m-0.2 7.6h0.8m-0.8 -9.4h0.8m-0.7 3.8h0.8m-0.7 -3.7h0.8m-0.6 5.4h0.8m-0.5 0h0.8m-0.6 -2h0.8m-0.7 1h0.8m-0.8 1.6h0.8m-0.4 -0.7h0.8m-0.7 -8.4h0.8m-0.8 8.5h0.8m-0.7 -2.8h0.8m-0.8 -1.9h0.8m-0.7 0h0.8m-0.7 -3.3h0.8m-0.8 8h0.8m-0.6 -1h0.8m-0.3 -5.1h0.8m-0.6 -0.4h0.8m-0.7 4.1h0.8m-0.7 1.2h0.8m-0.6 -0.8h0.8m-0.6 -3.1h0.8m-0.6 -5h0.8m-0.6 4.1h0.8m-0.7 1.9h0.8m-0.8 -4h0.8m-0.6 4.5h0.8m-0.4 -5.1h0.8m-0.8 3.3h0.8m-0.8 4.5h0.8m-0.7 -8.3h0.8m-0.6 2.7h0.8m-0.6 -1.8h0.8m-0.6 1.6h0.8m-0.5 -4.9h0.8m-0.7 -3.4h0.8m-0.4 10.6h0.8m-0.8 -2.3h0.8m-0.6 3.1h0.8m-0.7 -4.6h0.8m-0.7 3.9h0.8m-0.5 -3.2h0.8m-0.7 2.2h0.8m-0.4 -12.2h0.8m-0.5 15.2h0.8m-0.5 -3.5h0.8m-0.7 2.7h0.8m-0.8 -7.4h0.8m-0.7 6h0.8m-0.5 -1h0.8m-0.5 0.7h0.8m-0.5 0.2h0.8m-0.8 2.3h0.8m-0.7 -12.8h0.8m-0.6 9.9h0.8m-0.8 -0.5h0.8m-0.7 0.3h0.8m-0.8 0.6h0.8m-0.6 -1.6h0.8m-0.8 -0.7h0.8m-0.8 -0.5h0.8m-0.3 -3.5h0.8m-0.6 3.7h0.8m-0.8 5.1h0.8m-0.3 -3.1h0.8m-0.8 -3.5h0.8m-0.6 0h0.8m-0.7 5.7h0.8m-0.3 0.7h0.8m-0.5 2.4h0.8m-0.8 -13.2h0.8m-0.8 10.5h0.8m-0.7 -4.7h0.8m-0.8 0.7h0.8m-0.8 4.2h0.8m-0.7 -4.8h0.8m-0.8 3.9h0.8m-0.6 -3.9h0.8m-0.8 -2.5h0.8m-0.7 0.7h0.8m-0.7 -2.1h0.8m-0.7 2.4h0.8m-0.8 1.1h0.8m-0.7 0.9h0.8m-0.1 2.7h0.8m-0.7 -2.5h0.8m-0.8 -1.7h0.8m-0.4 0.7h0.8m-0.7 -2h0.8m-0.8 0.2h0.8m-0.6 -0.7h0.8m-0.6 -1h0.8m-0.6 0.8h0.8m-0.5 -0.5h0.8m-0.5 9.8h0.8m-0.8 -2.7h0.8m-0.7 -7.6h0.8m-0.7 1.4h0.8m-0.8 7.7h0.8m-0.6 -4.9h0.8m-0.8 -0.6h0.8m-0.8 -1.8h0.8m-0.7 5.6h0.8m-0.7 -0.2h0.8m-0.3 -5.2h0.8m-0.8 2.2h0.8m-0.6 2.9h0.8m-0.8 -4.5h0.8m-0.8 -2.6h0.8m-0.7 12.1h0.8m-0.8 -5.9h0.8m-0.6 -3.4h0.8m-0.8 3.6h0.8m-0.7 4.1h0.8m-0.8 -3.8h0.8m-0.2 -3.3h0.8m-0.5 -3.2h0.8m-0.6 5.4h0.8m-0.8 -1.3h0.8m-0.8 -1.1h0.8m-0.8 -2h0.8m-0.8 5.2h0.8m-0.7 -3.4h0.8m-0.8 5.4h0.8m-0.5 -4.3h0.8m-0.7 3.9h0.8m-0.6 -5.3h0.8m-0.8 1.1h0.8m-0.5 2.5h0.8m-0.8 3h0.8m-0.6 -3.1h0.8m-0.6 -1.3h0.8m-0.5 5.8h0.8m-0.8 -5.7h0.8m-0.8 -1.2h0.8m-0.5 -1.8h0.8m-0.8 6.1h0.8m-0.1 -6.9h0.8m-0.6 6h0.8m-0.7 -2.1h0.8m-0.7 -2.3h0.8m-0.6 1.5h0.8m-0.8 2.5h0.8m-0.5 -7.1h0.8m-0.7 4.2h0.8m-0.8 1.5h0.8m0 -1.8h0.8m-0.7 1.3h0.8m-0.7 1.2h0.8m-0.8 1.2h0.8m-0.6 -4.3h0.8m-0.8 -4.7h0.8m-0.6 3h0.8m-0.8 5.9h0.8m-0.7 -4.9h0.8m-0.6 0.3h0.8m-0.6 0.4h0.8m-0.8 1.8h0.8m-0.4 -1.2h0.8m-0.5 3.8h0.8m-0.8 -7.1h0.8m-0.6 7.8h0.8m-0.5 -9.8h0.8m-0.8 10.3h0.8m-0.6 -2.3h0.8m-0.8 -0.7h0.8m-0.6 0.1h0.8m-0.8 2.8h0.8m-0.8 -4.7h0.8m-0.6 -0.6h0.8m-0.7 1.3h0.8m-0.6 4.3h0.8m-0.8 -3.8h0.8m-0.4 -0.3h0.8m-0.7 3.4h0.8m-0.7 3.4h0.8m-0.8 -10.2h0.8m-0.5 -1.6h0.8m-0.5 4.1h0.8m-0.8 -1.7h0.8m-0.7 5.1h0.8m-0.7 0h0.8m-0.8 -4h0.8m-0.6 1.5h0.8m-0.6 5.7h0.8m-0.7 -7.6h0.8m-0.5 1.5h0.8m-0.7 2.9h0.8m-0.7 -5.9h0.8m-0.4 1.6h0.8m-0.8 1.6h0.8m-0.6 1.8h0.8m-0.7 -3.1h0.8m-0.6 2h0.8m-0.5 -2.1h0.8m-0.8 -1h0.8m-0.7 3h0.8m-0.8 4.2h0.8m-0.6 -3.3h0.8m-0.6 2.3h0.8m-0.8 -1.5h0.8m-0.8 3.4h0.8m-0.6 -8h0.8m-0.5 -0.3h0.8m-0.7 8.1h0.8m-0.6 -7.8h0.8m-0.7 4.8h0.8m-0.7 -6.5h0.8m-0.3 -0.2h0.8m-0.6 7.5h0.8m-0.4 -1h0.8m-0.6 0.4h0.8m-0.8 -4.6h0.8m-0.8 0.6h0.8m-0.8 -4.7h0.8m-0.6 4.9h0.8m-0.7 8.8h0.8m-0.6 -10.1h0.8m-0.6 1.7h0.8m-0.6 -1.4h0.8m-0.8 6.5h0.8m-0.7 -1.1h0.8m-0.8 -3.7h0.8m-0.7 0.3h0.8m-0.6 -2.9h0.8m-0.8 10.1h0.8m-0.6 -10.4h0.8m-0.7 3.2h0.8m-0.8 0.7h0.8m-0.8 1.7h0.8m-0.7 -0.4h0.8m-0.7 1.9h0.8m-0.7 -5.5h0.8m-0.8 -6.2h0.8m-0.7 7.7h0.8m-0.5 -1.4h0.8m-0.8 -1h0.8m-0.8 -1.6h0.8m-0.4 1.8h0.8m-0.8 2.3h0.8m-0.8 1.3h0.8m-0.5 3.3h0.8m-0.8 -8h0.8m-0.7 4.6h0.8m-0.6 -0.1h0.8m-0.7 -0.3h0.8m-0.7 -3h0.8m-0.8 1.3h0.8m-0.7 -1.7h0.8m-0.7 7h0.8m-0.3 -0.9h0.8m-0.7 -0.5h0.8m-0.7 -2h0.8m-0.6 -5.6h0.8m-0.7 -5.3h0.8m-0.5 0.6h0.8m-0.5 -3.6h0.8m-0.6 3.8h0.8m-0.8 2.3h0.8m-0.7 1.5h0.8m-0.7 9.2h0.8m-0.5 -1.4h0.8m-0.6 2.1h0.8m-0.6 -2h0.8m-0.7 1.4h0.8m-0.8 0.1h0.8m-0.7 1.5h0.8m-0.5 1.4h0.8m-0.5 -13.6h0.8m-0.8 5.8h0.8m-0.7 3.4h0.8m-0.6 0.8h0.8m-0.8 -5.1h0.8m-0.5 5.1h0.8m-0.7 -7.4h0.8m-0.6 6.3h0.8m-0.8 -6.6h0.8m-0.8 1h0.8m-0.4 0.3h0.8m-0.5 6.1h0.8m-0.7 -1.3h0.8m-0.7 -1.4h0.8m-0.7 -3.8h0.8m-0.8 2.7h0.8m-0.7 -2.4h0.8m-0.6 0.8h0.8m-0.6 -1.6h0.8m-0.7 -4.2h0.8m-0.6 9.9h0.8m-0.4 -0.8h0.8m-0.7 -2.5h0.8m-0.8 -1.4h0.8m-0.7 3.9h0.8m-0.6 -2h0.8m-0.8 7.1h0.8m-0.8 -6.2h0.8m-0.7 0.4h0.8m-0.7 0.4h0.8m-0.4 -3.1h0.8m-0.6 3.6h0.8m-0.8 -2.3h0.8m-0.8 -7.3h0.8m-0.6 12.7h0.8m-0.5 -6.5h0.8m-0.8 1h0.8m-0.5 0.5h0.8m-0.8 1.6h0.8m-0.4 2.7h0.8m-0.7 5.9h0.8m-0.6 -4.7h0.8m-0.7 2.3h0.8m-0.5 -5.6h0.8m-0.3 1.5h0.8m-0.8 -4h0.8m-0.8 9.8h0.8m-0.7 0.9h0.8m-0.8 -11.2h0.8m-0.7 0.2h0.8m-0.7 4.8h0.8m-0.7 6.2h0.8m-0.8 -9.7h0.8m-0.7 1.7h0.8m-0.8 -4.9h0.8m-0.7 1.4h0.8m-0.7 1.3h0.8m-0.7 6.2h0.8m-0.7 -2.2h0.8m-0.8 -1.6h0.8m-0.8 -1.6h0.8m-0.3 -1.7h0.8m-0.7 1.6h0.8m-0.6 4.5h0.8m-0.3 -5.9h0.8m-0.6 -1.9h0.8m-0.6 3.4h0.8m-0.8 4h0.8m-0.7 -4.6h0.8m-0.4 1.5h0.8m-0.8 -2.2h0.8m-0.8 0h0.8m-0.7 1h0.8m-0.7 7h0.8m-0.8 -8.4h0.8m-0.6 2.1h0.8m-0.6 -1.2h0.8m-0.8 3.9h0.8m-0.6 -1.1h0.8m-0.6 -2.7h0.8m-0.5 5h0.8m-0.7 -5.3h0.8m-0.7 2.6h0.8m-0.3 4.2h0.8m-0.3 -3.7h0.8m-0.8 1.2h0.8m-0.7 0.8h0.8m-0.6 -6.5h0.8m-0.6 -2.9h0.8m-0.8 1.5h0.8m-0.7 2.1h0.8m-0.6 7.4h0.8m-0.8 -1.1h0.8m-0.6 -4.4h0.8m-0.6 0.5h0.8m-0.7 0.6h0.8m-0.8 2.2h0.8m-0.7 -3.3h0.8m-0.7 1.4h0.8m-0.8 1.8h0.8m-0.4 -4.9h0.8m-0.8 3.1h0.8m-0.8 -5.5h0.8m-0.7 1.4h0.8m-0.8 -2.3h0.8m-0.7 5.5h0.8m-0.6 0.8h0.8m-0.8 -2h0.8m-0.7 -0.5h0.8m-0.8 1.2h0.8m-0.3 0.1h0.8m-0 -2.3h0.8m-0.7 1.8h0.8m-0.7 2.7h0.8m-0.6 -6h0.8m-0.8 2.3h0.8m-0.7 2.3h0.8m-0.5 3.5h0.8m-0.7 -4h0.8m-0.7 1.8h0.8m-0.5 -3.3h0.8m-0.7 3.7h0.8m-0.6 -5.3h0.8m-0.8 -1h0.8m-0.8 4.6h0.8m-0.7 0.4h0.8m-0.4 -2.3h0.8m-0.6 3h0.8m-0.7 -2.7h0.8m-0.8 2.3h0.8m-0.7 2.8h0.8m-0.7 -1.5h0.8m-0.3 -7.7h0.8m0 12.1h0.8m-0.8 -6.9h0.8m-0.7 0.7h0.8m-0.7 -8.3h0.8m-0.4 7.7h0.8m-0.8 -1.1h0.8m-0.4 -1.1h0.8m-0.7 1.8h0.8m-0.8 4.2h0.8m-0.8 -2.5h0.8m-0.7 -0.4h0.8m-0.6 -5.5h0.8m-0.4 5h0.8m-0.6 -0.8h0.8m-0.7 -4.5h0.8m-0.8 3.3h0.8m-0.7 -3.1h0.8m-0.7 7.3h0.8m-0.5 -5.4h0.8m-0.4 1.5h0.8m-0.8 7.5h0.8m-0.8 -6.2h0.8m-0.8 -4.6h0.8m-0.6 6.7h0.8m-0.6 -1.6h0.8m-0.7 2.2h0.8m-0.8 -4.3h0.8m-0.8 3.2h0.8m-0.3 3.4h0.8m-0.7 -9.6h0.8m-0.7 5.1h0.8m-0.8 2.8h0.8m-0.6 -7.1h0.8m-0.8 4.9h0.8m-0.7 -6.4h0.8m-0.6 10.8h0.8m-0.7 -4.9h0.8m-0.7 5.6h0.8m-0.6 -8.6h0.8m-0.7 -5.8h0.8m-0.3 6.9h0.8m-0.7 -9.2h0.8m-0.7 13.8h0.8m-0.7 -2h0.8m-0.6 -5h0.8m-0.7 5h0.8m-0.5 4.7h0.8m-0.6 -10h0.8m-0.7 6.6h0.8m-0.7 -3.9h0.8m-0.8 -0.6h0.8m-0.7 1.7h0.8m-0.6 0.5h0.8m-0.7 -0.6h0.8m-0.3 1.5h0.8m-0.6 1.2h0.8m-0.8 -3.6h0.8m-0.7 1.6h0.8m-0.7 -2.6h0.8m-0.6 -0.1h0.8m-0.5 0.9h0.8m-0.7 -1.3h0.8m-0.7 1.7h0.8m-0.6 -2.1h0.8m-0.8 6.8h0.8m-0.8 -5.5h0.8m-0.4 -0.1h0.8m-0.7 3.2h0.8m-0.7 2.4h0.8m-0.7 -6.3h0.8m-0.7 -6.3h0.8m-0.8 7.6h0.8m-0.7 -0.8h0.8m-0.7 1.4h0.8m-0.6 -1.3h0.8m-0.7 6.3h0.8m-0.8 -4.5h0.8m-0.8 -4.3h0.8m-0.8 5.7h0.8m-0.7 -8.7h0.8m-0.8 3.4h0.8m-0.7 -2.3h0.8m0.1 7.5h0.8m-0.3 -6.8h0.8m-0.6 -0.4h0.8m-0.6 5.9h0.8m-0.7 -2.7h0.8m-0.5 1.5h0.8m-0.8 -3.4h0.8m-0.6 3.6h0.8m-0.8 2.1h0.8m-0.7 -4.7h0.8m-0.8 4.1h0.8m-0.7 -5.2h0.8m-0.8 -9.5h0.8m-0.7 16.6h0.8m-0.7 -5.8h0.8m-0.6 2.3h0.8m-0.6 -3.1h0.8m-0.6 0.6h0.8m-0.8 0.5h0.8m-0.4 -2.7h0.8m-0.8 7.8h0.8m-0.8 -1.4h0.8m-0.8 -5.3h0.8m-0.7 2.3h0.8m-0.8 1.6h0.8m-0.3 0.6h0.8m-0.8 0.5h0.8m-0.4 -2.5h0.8m-0.7 -1.8h0.8m-0.6 8.2h0.8m-0.7 -3h0.8m-0.8 -1.3h0.8m-0.7 4.4h0.8m-0.6 -2.9h0.8m-0.7 -7.3h0.8m-0.4 4.9h0.8m-0.6 -4.1h0.8m-0.6 -2h0.8m-0.8 5.8h0.8m-0.7 4.3h0.8m-0.7 -0.6h0.8m-0.7 -2.4h0.8m-0.7 -1.5h0.8m-0.7 1.8h0.8m-0.7 4.6h0.8m-0.7 -4.1h0.8m-0.8 0.7h0.8m-0.7 0.4h0.8m-0.5 -5.2h0.8m-0.4 0.8h0.8m-0.8 9.6h0.8m-0.7 -3.1h0.8m-0.8 -0.9h0.8m-0.7 1.6h0.8m-0.4 -2.6h0.8m-0.8 0.2h0.8m-0.8 -1.3h0.8m-0.7 -0.8h0.8m-0.7 -6h0.8m-0.7 5.2h0.8m-0.6 1.5h0.8m-0.8 -1.4h0.8m-0.7 -3h0.8m-0.6 -1.8h0.8m-0.7 8.3h0.8m-0.7 -3.8h0.8m-0.7 1.4h0.8m-0.6 -9.3h0.8m-0.8 2h0.8m-0.6 4.1h0.8m-0.7 4.5h0.8m-0.6 -4.3h0.8m-0.8 3.7h0.8m-0.5 -3h0.8m-0.5 0.5h0.8m-0.5 5.1h0.8m-0.5 2.8h0.8m-0.8 -1.3h0.8m-0.6 -3.8h0.8m-0.8 2.1h0.8m-0.8 -0.6h0.8m-0.4 -4.5h0.8m-0.6 8.3h0.8m-0.6 1h0.8m-0.7 -3.9h0.8m-0.7 0.9h0.8m-0.7 -6.2h0.8m-0.8 7.4h0.8m-0.6 -6.9h0.8m-0.7 2.6h0.8m-0.5 -3.9h0.8m-0.8 5.4h0.8m-0.5 -4.1h0.8m-0.7 2.3h0.8m-0.2 -5.3h0.8m-0.8 3.1h0.8m-0.7 -0.4h0.8m-0.7 1.3h0.8m-0.6 -4.7h0.8m-0.2 0.7h0.8m-0.3 -0.4h0.8m-0.8 11.5h0.8m-0.6 -7.2h0.8m-0.7 -1.6h0.8m-0.8 0.3h0.8m-0.6 -6.1h0.8m-0.5 9.3h0.8m-0.7 -4h0.8m-0.7 1.1h0.8m-0.6 -1.1h0.8m-0.6 2.8h0.8m-0.8 -0.6h0.8m-0.8 2.7h0.8m-0.6 -6.8h0.8m-0.8 2.2h0.8m-0.6 2.4h0.8m-0.7 3.3h0.8m-0.8 -4.3h0.8m-0.8 -6.5h0.8m-0.6 8.1h0.8m-0.8 0.2h0.8m-0.8 1.8h0.8m-0.5 -1.9h0.8m-0.6 -0.9h0.8m-0.6 -5.4h0.8m-0.5 6.5h0.8m-0.7 -2.6h0.8m-0.4 3.3h0.8m-0.7 -2.2h0.8m-0.6 -1.5h0.8m-0.7 -0.5h0.8m-0.7 -0.2h0.8m-0.8 3.3h0.8m-0.8 1.8h0.8m-0.6 -0.1h0.8m-0.7 -6.1h0.8m-0.5 -2.3h0.8m-0.7 4.3h0.8m-0.6 -1.4h0.8m-0.5 1.8h0.8m-0.3 5h0.8m-0.7 -2.1h0.8m-0.7 0.6h0.8m-0.8 3.4h0.8m-0.7 -9.9h0.8m-0.8 6.6h0.8m-0.7 -3.1h0.8m-0.7 -6.9h0.8m-0.8 -2h0.8m-0.8 9.5h0.8m-0.7 -0.5h0.8m-0.8 7.6h0.8m-0.8 -10.1h0.8m-0.8 -1.8h0.8m-0.5 2.7h0.8m-0.5 -0.4h0.8m-0.8 3.6h0.8m-0.5 -0.6h0.8m-0.8 -1.3h0.8m-0.7 -1.7h0.8m-0.7 -3h0.8m-0.8 -0.6h0.8m-0.4 7.1h0.8m-0.6 0.1h0.8m-0.7 -7.7h0.8m-0.6 13.3h0.8m-0.6 -11.7h0.8m-0.7 3.4h0.8m-0.8 -1.6h0.8m-0.7 3.1h0.8m-0.7 0.6h0.8m-0.4 -5.4h0.8m-0.6 3.9h0.8m-0.7 -0.4h0.8m-0.7 9.9h0.8m-0.7 -2.6h0.8m-0.7 -5.1h0.8m-0.7 -2.5h0.8m-0.8 2.4h0.8m-0.8 0.8h0.8m-0.7 0.1h0.8m-0.7 -0.4h0.8m-0.6 0.5h0.8m-0.4 0.4h0.8m-0.5 -3.9h0.8m-0.7 3.4h0.8m-0.7 -4.9h0.8m-0.6 7h0.8m-0.5 3.7h0.8m-0.7 -10.1h0.8m-0.7 5.2h0.8m-0.8 -6.9h0.8m-0.3 2.5h0.8m-0.7 -3.7h0.8m-0.7 8h0.8m-0.6 -3.8h0.8m-0.7 -1.8h0.8m-0.2 0.4h0.8m-0.4 10.3h0.8m-0.8 -6.4h0.8m-0.8 0.3h0.8m-0.8 -0.3h0.8m-0.7 -10h0.8m-0.8 5.1h0.8m-0.6 6.3h0.8m-0.7 -1.3h0.8m-0.8 -3.9h0.8m-0.7 -3.3h0.8m-0.8 -1.1h0.8m-0.7 8.6h0.8m-0.5 -2.1h0.8m-0.7 -2h0.8m-0.8 -4.6h0.8m-0.7 -0.5h0.8m-0.6 8.2h0.8m-0.5 -6.9h0.8m-0.5 -5.9h0.8m-0.6 9.1h0.8m-0.7 -1.7h0.8m-0.4 2.4h0.8m-0.8 1.3h0.8m-0.6 -0.5h0.8m-0.8 -5.1h0.8m-0.6 6.2h0.8m-0.8 0.8h0.8m-0.6 -0.2h0.8m-0.6 -4.1h0.8m-0.7 5.3h0.8m-0.5 -3.1h0.8m-0.7 2.1h0.8m-0.7 2.7h0.8m-0.7 0.2h0.8m-0.6 -6.7h0.8m-0.8 -1.4h0.8m-0.5 -3.6h0.8m-0.7 9.1h0.8m-0.6 -6.8h0.8m-0.8 0.6h0.8m-0.6 6.3h0.8m-0.8 -2.4h0.8m-0.8 0.8h0.8m-0.7 -7.8h0.8m-0.7 8.7h0.8m-0.8 0.3h0.8m-0.5 -4.6h0.8m-0.6 0.3h0.8m-0.8 0.9h0.8m-0.8 -1.4h0.8m-0.8 -0.6h0.8m-0.4 6.2h0.8m-0.5 -4.9h0.8m-0.5 -1.5h0.8m-0.7 9h0.8m-0.7 -10.1h0.8m-0.5 3h0.8m-0.4 7.5h0.8m-0.7 -8.4h0.8m-0.8 9.5h0.8m-0.7 -4.2h0.8m-0.7 -3.1h0.8m-0.8 3.6h0.8m-0.8 -1.4h0.8m-0.7 2.4h0.8m-0.8 -0.5h0.8m-0.7 -4.1h0.8m-0.7 3.9h0.8m-0.7 -0.1h0.8m-0.7 0.8h0.8m-0.6 -3.1h0.8m-0.8 -0.7h0.8m-0.6 2.4h0.8m-0.8 -2.2h0.8m-0.6 0.9h0.8m-0.5 -1h0.8m-0.7 -0.4h0.8m-0.8 -1h0.8m-0.7 4.1h0.8m-0.5 -1.2h0.8m-0.5 -2.3h0.8m-0.8 1.3h0.8m-0.7 -3.3h0.8m-0.6 5.4h0.8m-0.3 2.8h0.8m-0.7 -10.3h0.8m-0.8 8h0.8m-0.7 -6h0.8m0.6 4.1h0.8m-0.7 0.7h0.8m-0.7 2.2h0.8m-0.7 -4.1h0.8m-0.8 3.2h0.8m-0.8 0.4h0.8m-0.7 -4.1h0.8m-0.2 -0.7h0.8m-0.7 5.6h0.8m-0.7 -6h0.8m-0.5 1.1h0.8m-0.7 -2.4h0.8m-0.7 1.5h0.8m-0.8 0h0.8m-0.5 -2.9h0.8m-0.8 3.7h0.8m-0.8 5.6h0.8m-0.6 4h0.8m-0.7 -11.9h0.8m-0.8 -3.1h0.8m-0.7 2.5h0.8m-0.8 4.6h0.8m-0.7 0.3h0.8m-0.6 -1h0.8m-0.7 3.9h0.8m-0.8 1.3h0.8m-0.6 -5.5h0.8m-0.6 4.8h0.8m-0.5 -5.9h0.8m-0.8 4.3h0.8m-0.8 1.1h0.8m-0.5 -3.7h0.8m-0.8 -0.1h0.8m-0.6 -0.2h0.8m-0.7 2.6h0.8m-0.8 2.4h0.8m-0.3 -4.7h0.8m-0.4 2.9h0.8m-0.8 3.7h0.8m-0.7 -0.5h0.8m-0.8 -3.2h0.8m-0.4 2.7h0.8m-0.8 -1.4h0.8m-0.8 1.6h0.8m-0.7 1h0.8m-0.8 1.1h0.8m-0.5 -5.7h0.8m-0.7 0h0.8m-0.6 0.7h0.8m-0.8 2h0.8m-0.7 -5.9h0.8m-0.7 0.9h0.8m-0.8 0.6h0.8m-0.7 -1.8h0.8m-0.2 2.5h0.8m-0.5 -0.3h0.8m-0.6 1.8h0.8m-0.7 2.5h0.8m-0.8 -3.5h0.8m-0.8 3.8h0.8m-0.5 -2.8h0.8m-0.7 4.3h0.8m-0.3 -2.6h0.8m-0.7 4.1h0.8m-0.8 3.1h0.8m-0.7 -9.2h0.8m-0.6 1h0.8m-0.7 -1.1h0.8m-0.7 -1.5h0.8m-0.7 3.7h0.8m-0.8 0.9h0.8m-0.7 -4.5h0.8m-0.6 6.6h0.8m-0.7 3.3h0.8m-0.4 -3.5h0.8m-0.8 -7.3h0.8m-0.6 8.7h0.8m-0.7 -8h0.8m-0.7 0.7h0.8m-0.8 2.4h0.8m-0.7 -1.1h0.8m-0.8 -3.4h0.8m-0.7 -1h0.8m-0.8 6.2h0.8m-0.3 -1.9h0.8m-0.7 -0.2h0.8m-0.8 -3.1h0.8m-0.7 11.4h0.8m-0.7 -7.1h0.8m-0.6 -5.5h0.8m-0.7 1.3h0.8m-0.8 6.5h0.8m-0.8 -1.9h0.8m-0.5 -2.9h0.8m-0.6 4.1h0.8m-0.5 -2.1h0.8m-0.7 0.3h0.8m-0.7 -0.9h0.8m-0.5 -2.3h0.8m-0.8 2.7h0.8m-0.8 3.5h0.8m-0.6 -6.3h0.8m-0.8 8.3h0.8m-0.4 -0.7h0.8m-0.8 -11.4h0.8m-0.1 11.1h0.8m-0.7 -1.6h0.8" stroke="#a8a8a8" stroke-width="0.8" fill="none"/>
<path d="M52.3 520.8V555.5999999999999M67.6 520.8V555.5999999999999M83.7 520.8V555.5999999999999M97.1 520.8V555.5999999999999M109.4 520.8V555.5999999999999M121.4 520.8V555.5999999999999M133.4 520.8V555.5999999999999M144.0 520.8V555.5999999999999M152.9 520.8V555.5999999999999M160.2 520.8V555.5999999999999M168.9 520.8V555.5999999999999M177.6 520.8V555.5999999999999M186.8 520.8V555.5999999999999M193.5 520.8V555.5999999999999M198.6 520.8V555.5999999999999M203.7 520.8V555.5999999999999M209.6 520.8V555.5999999999999M214.6 520.8V555.5999999999999M219.5 520.8V555.5999999999999M223.4 520.8V555.5999999999999M227.0 520.8V555.5999999999999M228.6 520.8V555.5999999999999M230.1 520.8V555.5999999999999M231.5 520.8V555.5999999999999M241.9 520.8V555.5999999999999" stroke="#222" stroke-width="1.0" stroke-dasharray="1.9 2.3" fill="none"/>
<line x1="45.4" y1="534" x2="250" y2="534" stroke="#62e0e8" stroke-width="1.35" stroke-dasharray="3.8 3.6"/>
<line x1="45.4" y1="542.4" x2="250" y2="542.4" stroke="#62e0e8" stroke-width="1.35" stroke-dasharray="3.8 3.6"/>
<path d="M52.3 538.0H97.3V536.1H109.6V542.4H118.5V538.0H151.9V529.5H153.1V542.2H154.3V538.0H155.4V538.0H156.1V538.0H160.1V542.2H161.4V538.0H196.1V541.0H197.3V541.0H198.9V538.0H210.4V541.2H212.3V538.0H216.1V536.2H222.3V538.0H232.3V541.8H242.3" stroke="#e0363c" stroke-width="1.25" fill="none"/>
<rect x="45.4" y="520.8" width="204.6" height="34.8" fill="none" stroke="#8c8c8c" stroke-width="0.9"/>
<line x1="42.4" y1="521.4" x2="45.4" y2="521.4" stroke="#555" stroke-width="0.8" />
<line x1="42.4" y1="529.73" x2="45.4" y2="529.73" stroke="#555" stroke-width="0.8" />
<line x1="42.4" y1="538.06" x2="45.4" y2="538.06" stroke="#555" stroke-width="0.8" />
<line x1="42.4" y1="546.39" x2="45.4" y2="546.39" stroke="#555" stroke-width="0.8" />
<line x1="42.4" y1="554.72" x2="45.4" y2="554.72" stroke="#555" stroke-width="0.8" />
<text x="41.4" y="521.9" font-size="9.8" text-anchor="end" fill="#111" font-weight="normal" >4</text>
<text x="41.4" y="538.56" font-size="9.8" text-anchor="end" fill="#111" font-weight="normal" >0</text>
<text x="41.4" y="555.22" font-size="9.8" text-anchor="end" fill="#111" font-weight="normal" >-4</text>
<line x1="52.3" y1="555.6" x2="52.3" y2="558.4" stroke="#555" stroke-width="0.8" />
<text x="52.3" y="568.2" font-size="11" text-anchor="middle" fill="#111" font-weight="normal" >0</text>
<line x1="83.55" y1="555.6" x2="83.55" y2="558.4" stroke="#555" stroke-width="0.8" />
<text x="83.55" y="568.2" font-size="11" text-anchor="middle" fill="#111" font-weight="normal" >0.5</text>
<line x1="114.8" y1="555.6" x2="114.8" y2="558.4" stroke="#555" stroke-width="0.8" />
<text x="114.8" y="570" font-size="11" text-anchor="middle" fill="#111" font-weight="normal" >1.0</text>
<line x1="146.05" y1="555.6" x2="146.05" y2="558.4" stroke="#555" stroke-width="0.8" />
<text x="146.05" y="570" font-size="11" text-anchor="middle" fill="#111" font-weight="normal" >1.5</text>
<line x1="177.3" y1="555.6" x2="177.3" y2="558.4" stroke="#555" stroke-width="0.8" />
<text x="177.3" y="570" font-size="11" text-anchor="middle" fill="#111" font-weight="normal" >2.0</text>
<line x1="208.55" y1="555.6" x2="208.55" y2="558.4" stroke="#555" stroke-width="0.8" />
<text x="208.55" y="569.2" font-size="11" text-anchor="middle" fill="#111" font-weight="normal" >2.5</text>
<line x1="239.8" y1="555.6" x2="239.8" y2="558.4" stroke="#555" stroke-width="0.8" />
<text x="239.8" y="569.2" font-size="11" text-anchor="middle" fill="#111" font-weight="normal" >3.5</text>
<text x="146" y="517.2" font-size="9.5" text-anchor="middle" fill="#111" font-weight="normal" >50 shots</text>
<rect x="269" y="528" width="99.19" height="18" fill="#d0d0d0" opacity="0.35"/>
<rect x="368.19" y="512.5" width="0.81" height="18" fill="#d0d0d0" opacity="0.35"/>
<rect x="369" y="528" width="24.38" height="18" fill="#d0d0d0" opacity="0.35"/>
<rect x="393.38" y="525.4" width="10" height="18" fill="#d0d0d0" opacity="0.35"/>
<rect x="403.38" y="528" width="21.25" height="18" fill="#d0d0d0" opacity="0.35"/>
<rect x="424.62" y="534.5" width="1.25" height="18" fill="#d0d0d0" opacity="0.35"/>
<rect x="425.88" y="528" width="4.38" height="18" fill="#d0d0d0" opacity="0.35"/>
<rect x="430.25" y="522.5" width="5.62" height="18" fill="#d0d0d0" opacity="0.35"/>
<rect x="435.88" y="528" width="11.25" height="18" fill="#d0d0d0" opacity="0.35"/>
<rect x="447.12" y="534.4" width="11.88" height="18" fill="#d0d0d0" opacity="0.35"/>
<path d="M269.1 541.0h0.8m-0.7 -4.7h0.8m-0.8 0.8h0.8m-0.8 3.6h0.8m-0.7 -6h0.8m-0.8 -6.1h0.8m-0.7 -0.3h0.8m-0.8 10.2h0.8m-0.8 -10.8h0.8m-0.7 0.7h0.8m-0.8 8.3h0.8m-0.7 6.9h0.8m-0.8 0.8h0.8m-0.7 -2.5h0.8m-0.5 5.8h0.8m-0.7 -16.3h0.8m-0.8 2.8h0.8m-0.8 -3.5h0.8m-0.7 16.1h0.8m-0.7 -17.1h0.8m-0.7 6h0.8m-0.7 -7.3h0.8m-0.5 15.2h0.8m-0.7 5h0.8m-0.6 -13.5h0.8m-0.7 -4.7h0.8m-0.8 -6.6h0.8m-0.8 24.7h0.8m-0.7 -2.2h0.8m-0.8 -16.1h0.8m-0.7 -7.5h0.8m-0.7 8.8h0.8m-0.8 14.1h0.8m-0.5 -9.7h0.8m-0.8 -8.3h0.8m-0.7 8.6h0.8m-0.7 13.6h0.8m-0.7 -20.1h0.8m-0.7 2.1h0.8m-0.8 0.9h0.8m-0.6 -2.4h0.8m-0.8 4.1h0.8m-0.7 19.2h0.8m-0.7 -11.5h0.8m-0.7 -3.1h0.8m-0.8 1h0.8m-0.8 -5.8h0.8m-0.7 1.4h0.8m-0.8 -3.7h0.8m-0.7 -1.6h0.8m-0.8 17.4h0.8m-0.8 -9.5h0.8m-0.7 -2.3h0.8m-0.8 -11.5h0.8m-0.8 16h0.8m-0.7 -15.8h0.8m-0.8 13.9h0.8m-0.8 5.2h0.8m-0.6 1.9h0.8m-0.7 -9.1h0.8m-0.5 -8.1h0.8m-0.7 11.4h0.8m-0.8 7.9h0.8m-0.7 -15.9h0.8m-0.8 -2.4h0.8m-0.6 10.6h0.8m-0.8 -3.7h0.8m-0.6 -0.7h0.8m-0.7 -6.7h0.8m-0.7 15.1h0.8m-0.8 1.2h0.8m-0.7 -3.8h0.8m-0.8 5h0.8m-0.7 7.1h0.8m-0.5 -29.9h0.8m-0.8 12h0.8m-0.7 15.2h0.8m-0.7 -17.4h0.8m-0.8 8.6h0.8m-0.7 1.5h0.8m-0.7 -12.5h0.8m-0.7 3.3h0.8m-0.8 -3.7h0.8m-0.3 6h0.8m-0.6 10.9h0.8m-0.8 -1.1h0.8m-0.7 -16.2h0.8m-0.7 5.5h0.8m-0.4 12h0.8m-0.7 -1.4h0.8m-0.8 -21.3h0.8m-0.7 2.4h0.8m-0.8 12.5h0.8m-0.5 -1.1h0.8m-0.8 -2.3h0.8m-0.7 -9.7h0.8m-0.8 19h0.8m-0.8 -18.1h0.8m-0.5 14.1h0.8m-0.6 6.6h0.8m-0.7 -10.2h0.8m-0.8 2.8h0.8m-0.7 -12.9h0.8m-0.3 -3.7h0.8m-0.8 10.8h0.8m-0.8 15.7h0.8m-0.7 -18.1h0.8m-0.8 -8h0.8m-0.6 23.2h0.8m-0.7 -19.9h0.8m-0.7 7.7h0.8m-0.8 4.5h0.8m-0.8 0.3h0.8m-0.8 -3.3h0.8m-0.7 4.7h0.8m-0.8 -6.8h0.8m-0.6 13.1h0.8m-0.8 -6h0.8m-0.8 -3.6h0.8m-0.7 -4.5h0.8m-0.8 5.8h0.8m-0.5 2.5h0.8m-0.7 -4.1h0.8m-0.6 13.8h0.8m-0.8 -6.4h0.8m-0.5 -20h0.8m-0.3 17.2h0.8m-0.8 -21.3h0.8m-0.7 12h0.8m-0.8 -6.4h0.8m-0.7 6.8h0.8m-0.8 6.3h0.8m-0.8 -3.4h0.8m-0.7 -2.4h0.8m-0.8 2.6h0.8m-0.7 5.3h0.8m-0.5 -6.6h0.8m-0.8 11.2h0.8m-0.7 -10.2h0.8m-0.7 12.8h0.8m-0.8 -12.6h0.8m-0.7 -6.3h0.8m-0.8 8.4h0.8m-0.6 -0.5h0.8m-0.7 -4.7h0.8m-0.4 -2.3h0.8m-0.7 15.5h0.8m-0.7 -4.4h0.8m-0.6 -9.7h0.8m-0.7 -2.6h0.8m-0.8 0.5h0.8m-0.7 9.7h0.8m-0.8 -15.2h0.8m-0.8 16.6h0.8m-0.7 0h0.8m-0.8 -1.9h0.8m-0.8 0.5h0.8m-0.6 6.7h0.8m-0.8 -13.4h0.8m-0.7 -8.9h0.8m-0.6 11.9h0.8m-0.8 9.1h0.8m-0.6 -22.5h0.8m-0.8 13.5h0.8m-0.7 0.7h0.8m-0.8 -8.1h0.8m-0.7 15.1h0.8m-0.7 -10.3h0.8m-0.6 -1.4h0.8m-0.7 -2h0.8m-0.4 9.7h0.8m-0.8 4.8h0.8m-0.8 6.4h0.8m-0.8 -23.8h0.8m-0.7 11h0.8m-0.7 -8.3h0.8m-0.7 0.2h0.8m-0.7 1.1h0.8m-0.6 6.2h0.8m-0.8 1.5h0.8m-0.7 -0.8h0.8m-0.7 4.4h0.8m-0.7 -10.7h0.8m-0.8 12.2h0.8m-0.2 -7.3h0.8m-0.8 -9.3h0.8m-0.5 -0.1h0.8m-0.7 10.3h0.8m-0.8 -3.9h0.8m-0.8 -7.7h0.8m-0.6 -2.4h0.8m-0.7 4.6h0.8m-0.8 8.8h0.8m-0.7 -8.4h0.8m-0.7 18.1h0.8m-0.8 1.5h0.8m-0.4 -8.3h0.8m-0.8 5.6h0.8m-0.5 -12.3h0.8m-0.8 -8.4h0.8m-0.5 12.2h0.8m-0.8 -6.3h0.8m-0.7 2.8h0.8m-0.8 5.7h0.8m-0.8 -15.7h0.8m-0.7 12.3h0.8m-0.8 0.3h0.8m-0.8 5.7h0.8m-0.6 5.7h0.8m-0.8 -18.9h0.8m-0.7 7.4h0.8m-0.8 1.4h0.8m-0.7 4.6h0.8m-0.8 -3.8h0.8m-0.6 -9h0.8m-0.8 10h0.8m-0.7 -8.5h0.8m-0.8 13.1h0.8m-0.7 5.1h0.8m-0.8 -22.4h0.8m-0.8 8.2h0.8m-0.8 2.4h0.8m-0.8 -2.5h0.8m-0.7 -1.5h0.8m-0.8 -5.1h0.8m-0.7 22.5h0.8m-0.7 -15.3h0.8m-0.7 6h0.8m-0.7 -16h0.8m-0.8 3.5h0.8m-0.7 5h0.8m-0.7 9.2h0.8m-0.8 -2.5h0.8m-0.6 -6.7h0.8m-0.7 -9.3h0.8m-0.7 2.1h0.8m-0.7 6.5h0.8m-0.8 -4.8h0.8m-0.4 8.2h0.8m-0.8 5.6h0.8m-0.8 5.9h0.8m-0.7 -15.5h0.8m-0.7 -5.6h0.8m-0.6 16.5h0.8m-0.7 -14.8h0.8m-0.8 11.7h0.8m-0.5 0h0.8m-0.7 9.5h0.8m-0.7 -14.2h0.8m-0.8 7.9h0.8m-0.8 -0.4h0.8m-0.7 3.1h0.8m-0.8 -9.1h0.8m-0.8 -13.9h0.8m-0.7 14.1h0.8m-0.8 -10.8h0.8m-0.7 3.3h0.8m-0.7 6.9h0.8m-0.6 6.5h0.8m-0.5 -6h0.8m-0.7 0.3h0.8m-0.6 0.7h0.8m-0.8 -10.8h0.8m-0.7 14.4h0.8m-0.6 -4.8h0.8m-0.7 -5.4h0.8m-0.8 2.2h0.8m-0.8 4.3h0.8m-0.7 -2.9h0.8m-0.7 13.8h0.8m-0.8 -12.1h0.8m-0.6 -2.4h0.8m-0.8 6.9h0.8m-0.7 2.4h0.8m-0.7 -3.3h0.8m-0.8 -2.3h0.8m-0.8 10.3h0.8m-0.7 -12.3h0.8m-0.8 -9.5h0.8m-0.6 10.2h0.8m-0.8 6.1h0.8m-0.8 -14.3h0.8m-0.7 -2.6h0.8m-0.8 13.2h0.8m-0.7 -11h0.8m-0.8 4.1h0.8m-0.8 -9.7h0.8m-0.7 19.5h0.8m-0.7 -5.2h0.8m-0.5 -8.8h0.8m-0.7 -5.1h0.8m-0.8 12.3h0.8m-0.7 -9.7h0.8m-0.8 6.4h0.8m-0.6 10.7h0.8m-0.8 -8.4h0.8m-0.5 1.8h0.8m-0.8 2.3h0.8m-0.8 3h0.8m-0.7 -9.7h0.8m-0.6 -3.4h0.8m-0.8 10.7h0.8m-0.7 11.3h0.8m-0.2 -14.1h0.8m-0.7 0.1h0.8m-0.8 -1.9h0.8m-0.7 1.5h0.8m-0.8 -8.7h0.8m-0.7 8.2h0.8m-0.5 -9.5h0.8m-0.6 14.7h0.8m-0.7 8.1h0.8m-0.5 -17.7h0.8m-0.7 -3.2h0.8m-0.5 6.7h0.8m-0.5 7.6h0.8m-0.8 -6.8h0.8m-0.7 5.9h0.8m-0.8 -4.7h0.8m-0.7 -6.7h0.8m-0.7 0.6h0.8m-0.4 -4.7h0.8m-0.7 0.8h0.8m-0.7 9.3h0.8m-0.6 -0.4h0.8m-0.8 -4h0.8m-0.7 8.7h0.8m-0.8 -11h0.8m-0.8 9h0.8m-0.4 -2.2h0.8m-0.7 3.3h0.8m-0.7 6.3h0.8m-0.7 -11h0.8m-0.8 -7.5h0.8m-0.7 1.5h0.8m-0.8 5.6h0.8m-0.5 8.7h0.8m-0.6 -12.3h0.8m-0.7 -1.5h0.8m-0.8 2.5h0.8m-0.7 -6.3h0.8m-0.8 18.9h0.8m-0.6 -8.4h0.8m-0.8 2.8h0.8m-0.7 7h0.8m-0.8 -12.3h0.8m-0.7 3.4h0.8m-0.8 4.7h0.8m-0.7 1.4h0.8m-0.6 -1.7h0.8m-0.5 -15.6h0.8m-0.8 9.4h0.8m-0.7 6.1h0.8m-0.8 -0.9h0.8m-0.7 -3.8h0.8m-0.6 4.8h0.8m-0.7 -6.4h0.8m-0.8 7.6h0.8m-0.7 0.3h0.8m-0.7 -5.3h0.8m-0.8 7.8h0.8m-0.6 -11.8h0.8m-0.8 11.5h0.8m-0.7 -3.8h0.8m-0.7 -7.1h0.8m-0.7 -5.9h0.8m-0.7 4.1h0.8m-0.8 2.8h0.8m-0.7 1.3h0.8m-0.8 1.4h0.8m-0.8 -2h0.8m-0.6 -9.7h0.8m-0.7 20.9h0.8m-0.7 -4.7h0.8m-0.7 0.5h0.8m-0.8 -3.5h0.8m-0.6 12h0.8m-0.7 -17.2h0.8m-0.8 3h0.8m-0.7 0h0.8m-0.8 -6.6h0.8m-0.7 -3.1h0.8m-0.7 2h0.8m-0.7 18h0.8m-0.5 -17h0.8m-0.8 9.9h0.8m-0.6 -10h0.8m-0.6 1.5h0.8m-0.7 -4.7h0.8m-0.8 3.6h0.8m-0.7 15.6h0.8m-0.8 6h0.8m-0.3 -12.8h0.8m-0.7 1.2h0.8m-0.5 -4.1h0.8m-0.8 -1.7h0.8m-0.7 7.1h0.8m-0.7 -6.6h0.8m-0.6 5.2h0.8m-0.8 -5.1h0.8m-0.8 0.7h0.8m-0.7 0.5h0.8m-0.7 1.4h0.8m-0.8 6.1h0.8m-0.7 -19.4h0.8m-0.5 12.5h0.8m-0.8 -4h0.8m-0.8 3.3h0.8m-0.7 -12.5h0.8m-0.8 9h0.8m-0.8 1.8h0.8m-0.7 0.9h0.8m-0.8 10.2h0.8m-0.8 -3.3h0.8m-0.6 3.1h0.8m-0.8 -12.9h0.8m-0.7 7.6h0.8m-0.6 -0.7h0.8m-0.8 -1.3h0.8m-0.6 9.9h0.8m-0.7 -16.6h0.8m-0.6 13.1h0.8m-0.8 -10.1h0.8m-0.7 8.5h0.8m-0.7 -6.8h0.8m-0.5 -1.6h0.8m-0.7 6.6h0.8m-0.8 0h0.8m-0.6 4h0.8m-0.8 -17.9h0.8m-0.6 1h0.8m-0.7 2.8h0.8m-0.7 1.8h0.8m-0.7 8.4h0.8m-0.7 -14.2h0.8m-0.8 9.1h0.8m-0.8 -6.7h0.8m-0.7 7.2h0.8m-0.7 -3.7h0.8m-0.8 11.2h0.8m-0.7 -6.5h0.8m-0.7 10.9h0.8m-0.8 -26.7h0.8m-0.7 17.6h0.8m-0.7 -1.6h0.8m-0.7 2.4h0.8m-0.8 -9h0.8m-0.7 4.9h0.8m-0.6 -7.8h0.8m-0.8 13.5h0.8m-0.6 -3.3h0.8m-0.8 0.7h0.8m-0.6 -16.7h0.8m-0.7 23.8h0.8m-0.7 -22.9h0.8m-0.7 7h0.8m-0.8 4.6h0.8m-0.8 15.3h0.8m-0.6 -16.1h0.8m-0.7 -5.6h0.8m-0.8 5.3h0.8m-0.8 -2.9h0.8m-0.1 13h0.8m-0.7 -8h0.8m-0.7 -2.9h0.8m-0.7 14h0.8m-0.7 -7.9h0.8m-0.7 0.7h0.8m-0.6 -12h0.8m-0.8 -0.9h0.8m-0.7 4.5h0.8m-0.8 -1h0.8m-0.7 13.8h0.8m-0.5 -10.6h0.8m-0.8 13.7h0.8m-0.7 -12.1h0.8m-0.7 7.3h0.8m-0.8 -20.9h0.8m-0.7 14.9h0.8m-0.8 -4.6h0.8m-0.7 2.4h0.8m-0.8 -0.5h0.8m-0.6 2h0.8m-0.7 9.3h0.8m-0.8 -20.3h0.8m-0.7 7.6h0.8m-0.7 15.9h0.8m-0.5 -5.9h0.8m-0.5 -3.3h0.8m-0.7 -8h0.8m-0.8 3.2h0.8m-0.7 -4.3h0.8m-0.8 0.4h0.8m-0.8 11.8h0.8m-0.7 -15h0.8m-0.7 4.2h0.8m-0.8 6.1h0.8m-0.7 -3.1h0.8m-0.8 14h0.8m-0.7 -18.1h0.8m-0.7 12.3h0.8m-0.7 -3.9h0.8m-0.4 -4h0.8m-0.8 6.9h0.8m-0.7 1.3h0.8m-0.5 -11.7h0.8m-0.7 6.8h0.8m-0.7 -3.9h0.8m-0.8 5.9h0.8m-0.8 -14.2h0.8m-0.7 27.2h0.8m-0.7 0.3h0.8m-0.8 -9.1h0.8m-0.8 0.1h0.8m-0.7 -15h0.8m-0.7 -7.7h0.8m-0.8 19.9h0.8m-0.7 -3.5h0.8m-0.7 1.1h0.8m-0.7 -7.1h0.8m-0.6 7h0.8m-0.7 14h0.8m-0.6 -28.1h0.8m-0.7 18.3h0.8m-0.7 -7.5h0.8m-0.7 11.6h0.8m-0.7 -9.4h0.8m-0.7 11.5h0.8m-0.5 -4.7h0.8m-0.7 -18.5h0.8m-0.7 -0.2h0.8m-0.6 0.9h0.8m-0.8 7.8h0.8m-0.6 -1.1h0.8m-0.7 -0.3h0.8m-0.7 4.6h0.8m-0.6 1.3h0.8m-0.8 -14.9h0.8m-0.7 1.5h0.8m-0.7 15.5h0.8m-0.8 3.1h0.8m-0.7 -12.7h0.8m-0.7 4.8h0.8m-0.3 -1.1h0.8m-0.7 -1h0.8m-0.8 1.8h0.8m-0.7 -5.1h0.8m-0.5 -4.8h0.8m-0.7 7.7h0.8m-0.1 11.5h0.8m-0.8 -10.1h0.8m-0.4 3h0.8m-0.7 11h0.8m-0.8 -2.9h0.8m-0.7 -20.5h0.8m-0.7 17.1h0.8m-0.8 -2.5h0.8m-0.7 -3.5h0.8m-0.8 -0.1h0.8m-0.6 -14.2h0.8m-0.7 11.6h0.8m-0.7 0.9h0.8m-0.8 1.3h0.8m-0.6 5.3h0.8m-0.6 8.3h0.8m-0.7 -18.1h0.8m-0.7 4.8h0.8m-0.8 -7.8h0.8m-0.7 -0.9h0.8m-0.6 0.4h0.8m-0.8 5.6h0.8m-0.6 0.9h0.8m-0.7 -0.4h0.8m-0.6 11.2h0.8m-0.5 -21.9h0.8m-0.6 14.6h0.8m-0.7 7.1h0.8m-0.7 -22.2h0.8m-0.5 25.6h0.8m-0.8 -28h0.8m-0.6 12.9h0.8m-0.7 9.6h0.8m-0.8 -3.6h0.8m-0.7 5.3h0.8m-0.6 -6.4h0.8m-0.8 -16.2h0.8m-0.7 18.8h0.8m-0.8 0.5h0.8m-0.8 2.2h0.8m-0.8 -0.4h0.8m-0.6 -8.1h0.8m-0.2 11.5h0.8m-0.8 -4.8h0.8m-0.7 -15.4h0.8m-0.4 10.2h0.8m-0.6 10.1h0.8m-0.4 -17.9h0.8m-0.7 2.5h0.8m-0.7 6.2h0.8m-0.7 14.5h0.8m-0.4 -26.4h0.8m-0.7 13.2h0.8m-0.6 -12.3h0.8m-0.7 0.1h0.8m-0.8 -3.9h0.8m-0.7 12.1h0.8m-0.6 7h0.8m-0.8 4.6h0.8m-0.6 -21.3h0.8m-0.8 8.2h0.8m-0.6 -1h0.8m-0.8 -1.4h0.8m-0.7 7h0.8m-0.7 -6.6h0.8m-0.7 1h0.8m-0.8 -11.6h0.8m-0.8 24.4h0.8m-0.7 -18.7h0.8m-0.8 3.8h0.8m-0.8 8.5h0.8m-0.8 -1.5h0.8m-0.8 -8.7h0.8m-0.7 4.4h0.8m-0.8 2.3h0.8m-0.6 -4.2h0.8m-0.8 20.5h0.8m-0.6 -13.6h0.8m-0.8 -1.5h0.8m-0.7 3.9h0.8m-0.8 -2.9h0.8m-0.7 -1.7h0.8m-0.7 -11.4h0.8m-0.8 16.1h0.8m-0.8 6.1h0.8m-0.8 -11.3h0.8m-0.6 2.9h0.8m-0.7 -4.6h0.8m-0.8 5.7h0.8m-0.8 6.6h0.8m-0.7 0.9h0.8m-0.8 -8.6h0.8m-0.7 -9.5h0.8m-0.8 0.6h0.8m-0.7 8.5h0.8m-0.7 1.5h0.8m-0.8 6.4h0.8m-0.7 -5.5h0.8m-0.6 -18.3h0.8m-0.7 28.2h0.8m0.1 -14.8h0.8m-0.8 -3.2h0.8m-0.7 0.8h0.8m-0.7 6.7h0.8m-0.7 7.7h0.8m-0.5 -12.2h0.8m-0.7 -0.9h0.8m-0.7 -4.5h0.8m-0.7 9.9h0.8m-0.8 -0.1h0.8m-0.6 0.9h0.8m-0.5 -18.7h0.8m-0.4 19.2h0.8m-0.7 -8h0.8m-0.7 -0.8h0.8m-0.7 15.9h0.8m-0.6 -27.6h0.8m-0.8 18.8h0.8m-0.7 -10.1h0.8m-0.8 9h0.8m-0.6 5.2h0.8m-0.7 -7.9h0.8m-0.7 -1.9h0.8m-0.8 -3.2h0.8m-0.2 -3h0.8m-0.6 19.9h0.8m-0.8 -5.8h0.8m-0.8 -14.3h0.8m-0.8 7.9h0.8m-0.8 -4.2h0.8m-0.7 -3.1h0.8m-0.8 -3.7h0.8m-0.7 18.4h0.8m-0.7 -4.5h0.8m-0.5 1.5h0.8m-0.8 7.3h0.8m-0.8 -10.9h0.8m-0.8 13h0.8m-0.7 0.1h0.8m-0.8 -17.5h0.8m-0.7 -1.2h0.8m-0.7 2.7h0.8m-0.7 5h0.8m-0.7 0.8h0.8m-0.8 -4.3h0.8m-0.4 11.5h0.8m-0.3 -3.8h0.8m-0.7 1.2h0.8m-0.8 -12.2h0.8m-0.6 -4.8h0.8m-0.8 14.8h0.8m-0.7 -10h0.8m-0.8 -0.3h0.8m-0.5 16.9h0.8m-0.6 -11.9h0.8m-0.7 -2.7h0.8m-0.6 -4.5h0.8m-0.6 0.7h0.8m-0.7 6.2h0.8m-0.6 -5.5h0.8m-0.6 7.4h0.8m-0.7 -12.8h0.8m-0.7 17.2h0.8m-0.8 -5.5h0.8m-0.8 0.7h0.8m-0.5 -10.9h0.8m-0.7 11.1h0.8m-0.8 11.3h0.8m-0.6 -4h0.8m-0.8 -23.1h0.8m-0.7 9h0.8m-0.8 10.6h0.8m-0.7 -11.2h0.8m-0.7 2h0.8m-0.7 17.6h0.8m-0.8 -1.6h0.8m-0.5 -6.6h0.8m-0.7 0.9h0.8m-0.7 -2.4h0.8m-0.7 -2.7h0.8m-0.8 -6.7h0.8m-0.7 -2.6h0.8m-0.6 3.6h0.8m-0.5 4.7h0.8m-0.8 8.5h0.8m-0.6 1h0.8m-0.4 -6.1h0.8m-0.7 -2.4h0.8m-0.6 -13.1h0.8m-0.6 20.1h0.8m-0.7 -6.8h0.8m-0.3 2.6h0.8m-0.8 -8.1h0.8m-0.7 6h0.8m-0.8 -7.2h0.8m-0.8 14.8h0.8m-0.6 -5.9h0.8m-0.7 -7.2h0.8m-0.8 9.5h0.8m-0.8 -4.4h0.8m-0.6 0.8h0.8m-0.8 -12.6h0.8m-0.5 9.1h0.8m-0.8 -14.1h0.8m-0.6 11.8h0.8m-0.6 0.1h0.8m-0.7 -9.1h0.8m-0.8 18h0.8m-0.7 -3.2h0.8m-0.8 0.9h0.8m-0.8 -1h0.8m-0.7 -2h0.8m-0.6 1h0.8m-0.7 -3.5h0.8m-0.4 2.3h0.8m-0.7 -1.1h0.8m-0.8 -3.4h0.8m-0.8 9.2h0.8m-0.8 -7.5h0.8m-0.8 2.2h0.8m-0.6 1.6h0.8m-0.6 -2.5h0.8m-0.8 -3.3h0.8m-0.5 9.5h0.8m-0.6 8.9h0.8m-0.8 -16.5h0.8m-0.6 -11.6h0.8m-0.7 8h0.8m-0.7 -1.8h0.8m-0.7 3.1h0.8m-0.8 11.7h0.8m-0.8 -11.5h0.8m-0.8 7.8h0.8m-0.6 -0.2h0.8m-0.7 -1.6h0.8m-0.7 4.4h0.8m-0.8 -4.1h0.8m-0.8 2.8h0.8m-0.6 -8.7h0.8m-0.7 7.7h0.8m-0.8 2.4h0.8m-0.8 -14.5h0.8m-0.7 12.7h0.8m-0.8 -1.9h0.8m-0.8 6.3h0.8m-0.5 -6.3h0.8m-0.8 -0.7h0.8m-0.6 5.9h0.8m-0.7 5.7h0.8m-0.8 -5.9h0.8m-0.7 -19.7h0.8m-0.7 4.6h0.8m-0.8 5.6h0.8m-0.4 -2.1h0.8m-0.8 9.4h0.8m-0.8 -4.8h0.8m-0.8 -5.4h0.8m-0.7 7h0.8m-0.8 -3.4h0.8m-0.6 5.4h0.8m-0.5 4.1h0.8m-0.6 -10.5h0.8m-0.8 -5.4h0.8m-0.8 13.7h0.8m-0.7 -17.3h0.8m-0.8 8.7h0.8m-0.6 6.9h0.8m-0 -4.9h0.8m-0.8 5.1h0.8m-0.6 0.8h0.8m-0.3 -15.6h0.8m-0.5 5.7h0.8m-0.8 12.9h0.8m-0.7 4.4h0.8m-0.7 -14.8h0.8m-0.8 2.4h0.8m-0.8 -2.2h0.8m-0.7 9.7h0.8m-0.8 5.6h0.8m-0.7 -27.6h0.8m-0.7 4.1h0.8m-0.8 4.4h0.8m-0.7 9.3h0.8m-0.7 -5.3h0.8m-0.7 1.4h0.8m-0.8 -0.2h0.8m-0.6 -0.8h0.8m-0.8 3.1h0.8m-0.8 6.4h0.8m-0.7 -8.5h0.8m-0.7 -9.4h0.8m-0.7 11.3h0.8m-0.7 -5.8h0.8m-0.8 -0.4h0.8m-0.3 11h0.8m-0.8 6.5h0.8m-0.8 -15.5h0.8m-0.6 -0.8h0.8m-0.7 -5h0.8m-0.8 14.1h0.8m-0.8 -12.9h0.8m-0.8 10.6h0.8m-0.8 3.1h0.8m-0.8 4.3h0.8m-0.7 -16.4h0.8m-0.7 6.2h0.8m-0.8 -2.9h0.8m-0.3 16.9h0.8m-0.7 -19.1h0.8m-0.5 -7h0.8m-0.7 15.7h0.8m-0.6 -16.2h0.8m-0.8 25.1h0.8m-0.8 -0.5h0.8m-0.6 -9.3h0.8m-0.7 7.6h0.8m-0.7 -9.9h0.8m-0.7 11.8h0.8m-0.6 -11.3h0.8m-0.8 1.5h0.8m-0.7 -1.9h0.8m-0.7 3.7h0.8m-0.7 0.6h0.8m-0.7 -14.7h0.8m-0.6 19.4h0.8m-0.8 -7.8h0.8m-0.8 -4.3h0.8m-0.6 4.3h0.8m-0.8 -3.8h0.8m-0.7 -9.7h0.8m-0.7 -2.5h0.8m-0.8 17.5h0.8m-0.6 -16.4h0.8m-0.6 11.5h0.8m-0.7 2.6h0.8m-0.8 6.1h0.8m-0.2 -9h0.8m-0.7 -11.6h0.8m-0.8 9.2h0.8m-0.8 12.6h0.8m-0.8 -2.3h0.8m-0.8 -6.3h0.8m-0.6 5.9h0.8m-0.8 -4.2h0.8m-0.8 -1.1h0.8m-0.6 5.9h0.8m-0.7 -14.2h0.8m-0.7 -0.9h0.8m-0.7 0.7h0.8m-0.8 5.4h0.8m-0.6 -3.2h0.8m-0.7 10h0.8m-0.8 -3.6h0.8m-0.5 9.9h0.8m-0.8 -16.1h0.8m-0.6 4.2h0.8m-0.8 -0.7h0.8m-0.8 0.1h0.8m-0.7 11h0.8m-0.6 -4.9h0.8m-0.7 4.3h0.8m-0.6 -14.9h0.8m-0.5 16.7h0.8m-0.7 -10.2h0.8m-0.8 -6.8h0.8m-0.7 5.6h0.8m-0.8 7.8h0.8m-0.7 -3.6h0.8m-0.8 6.3h0.8m-0.7 -13.1h0.8m-0.7 18.4h0.8m-0.6 -19.3h0.8m-0.8 10.1h0.8m-0.5 4.6h0.8m-0.8 -12h0.8m-0.7 4h0.8m-0.4 -3.8h0.8m-0.6 2.5h0.8m-0.6 -6.4h0.8m-0.7 -0.2h0.8m-0.6 0.1h0.8m-0.7 8.4h0.8m-0.6 12.4h0.8m-0.6 -9.8h0.8m-0.8 7.6h0.8m-0.8 -11.5h0.8m-0.7 0.3h0.8m-0.8 -4h0.8m-0.8 -8.8h0.8m-0.7 8.8h0.8m-0.6 -2.5h0.8m-0.8 4.3h0.8m-0.6 4.1h0.8m-0.8 -7.7h0.8m-0.7 11.7h0.8m-0.8 6.8h0.8m-0.8 -14.6h0.8m-0.8 -11h0.8m-0.5 17.3h0.8m-0.6 -5.8h0.8m-0.6 17.2h0.8m-0.7 -6.7h0.8m-0.5 1.1h0.8m-0.8 5.2h0.8m-0.7 -19.8h0.8m-0.5 -5.4h0.8m-0.2 5h0.8m-0.6 -9.3h0.8m-0.8 5.6h0.8m-0.6 16.1h0.8m-0.7 -6.6h0.8m-0.8 -5.4h0.8m-0.4 5h0.8m-0.7 -13.3h0.8m-0.6 6.7h0.8m-0.8 2.1h0.8m-0.8 -4.3h0.8m-0.7 16.2h0.8m-0.8 -13.9h0.8m-0.7 3.6h0.8m-0.7 -2.1h0.8m-0.8 10.9h0.8m-0.7 -13.4h0.8m-0.7 4.2h0.8m-0.8 -5.6h0.8m-0.2 14h0.8m-0.8 -22.1h0.8m-0.7 9h0.8m-0.6 0h0.8m-0.8 10.4h0.8m-0.6 6.6h0.8m-0.7 -18.3h0.8m-0.8 10.1h0.8m-0.8 -11.6h0.8m-0.8 9.9h0.8m-0.7 -3.3h0.8m-0.6 9.4h0.8m-0.7 -8.9h0.8m-0.7 10.1h0.8m-0.8 -5.4h0.8m-0.8 -3.6h0.8m-0.6 6.3h0.8m-0.7 -12.6h0.8m-0.5 2.7h0.8m-0.8 2.9h0.8m-0.7 15.8h0.8m-0.8 -12.6h0.8m-0.6 1.1h0.8m-0.8 -3.7h0.8m-0.7 -5.4h0.8m-0.7 10h0.8m-0.7 6.4h0.8m-0.8 -10.8h0.8m-0.7 -1.3h0.8m-0.8 -8.5h0.8m-0.5 3.9h0.8m-0.7 12.5h0.8m-0.7 0.9h0.8m-0.6 3.6h0.8m-0.5 -8.1h0.8m-0.5 8.7h0.8m-0.8 -11h0.8m-0.7 3.2h0.8m-0.7 -5.3h0.8m-0.7 -6h0.8m-0.8 2.5h0.8m-0.7 -0.3h0.8m-0.4 2h0.8m-0.8 4.5h0.8m-0.7 10.9h0.8m-0.6 -6.8h0.8m-0.8 1.5h0.8m-0.7 1.2h0.8m-0.7 -5.7h0.8m-0.8 1.2h0.8m-0.7 -8.9h0.8m-0.8 -9.6h0.8m-0.8 21.4h0.8m-0.6 -7h0.8m-0.8 -1.7h0.8m-0.7 2.1h0.8m-0.7 0.6h0.8m-0.8 7.9h0.8m-0.6 -12.7h0.8m-0.8 1.8h0.8m-0.7 12.1h0.8m-0.4 -6.8h0.8m-0.5 8.8h0.8m-0.8 -11.2h0.8m-0.8 15.3h0.8m-0.8 -16.1h0.8m-0.8 12h0.8m-0.7 -3.1h0.8m-0.7 -6.8h0.8m-0.6 -1.2h0.8m-0.6 5h0.8m-0.7 -13.1h0.8m-0.8 14.2h0.8m-0.8 -7.5h0.8m-0.7 7.6h0.8m-0.8 0.6h0.8m-0.7 -9h0.8m-0.8 -5.5h0.8m-0.7 13.7h0.8m-0.6 -2.5h0.8m-0.8 -10.2h0.8m-0.6 6.2h0.8m-0.6 -2.2h0.8m-0.6 3.4h0.8m-0.6 2.7h0.8m-0.8 -6.7h0.8m-0.7 -1.4h0.8m-0.8 11h0.8m-0.7 -14.2h0.8m-0.8 17.2h0.8m-0.7 -4.2h0.8m-0.7 -17.8h0.8m-0.8 2.5h0.8m-0.6 -0.6h0.8m-0.6 10h0.8m-0.8 5.1h0.8m-0.8 -7.9h0.8m-0.6 -10.2h0.8m-0.6 15.1h0.8m-0.7 -15.8h0.8m-0.8 12.7h0.8m-0.7 11.7h0.8m-0.7 -4.5h0.8m-0.8 -11.6h0.8m-0.8 16h0.8m-0.7 -13h0.8m-0.7 4.2h0.8m-0.6 -6.5h0.8m-0.8 -2.8h0.8m-0.8 13.7h0.8m-0.7 -5.8h0.8m-0.8 -11.9h0.8m-0.6 8.1h0.8m-0.7 5.9h0.8m-0.7 8.5h0.8m-0.8 -8h0.8m-0.7 7.2h0.8m-0.7 0.2h0.8m-0.8 -3.2h0.8m-0.7 -12.5h0.8m-0.7 6.1h0.8m-0.5 5.4h0.8m-0.8 1.7h0.8m-0.7 -10.4h0.8m-0.7 -0.1h0.8m-0.7 18.2h0.8m-0.8 -10.9h0.8m-0.6 11.1h0.8m-0.8 -20.4h0.8m-0.7 5.5h0.8m-0.8 16.7h0.8m-0.6 -20.3h0.8m-0.8 8h0.8m-0.7 -18h0.8m-0.5 8.8h0.8m-0.8 5.4h0.8m-0.7 7.7h0.8m-0.5 -7.1h0.8m-0.7 -7.6h0.8m-0.7 13.9h0.8m-0.7 -9.1h0.8m-0.6 -0.9h0.8m-0.7 2h0.8m-0.7 -7.7h0.8m-0.7 14.4h0.8m-0.7 -12.3h0.8m-0.8 0.8h0.8m-0.8 0h0.8m-0.7 14.4h0.8m-0.6 -3.1h0.8m-0.7 -4.5h0.8m-0.7 -7.7h0.8m-0.6 14.3h0.8m-0.7 -8.3h0.8m-0.7 5h0.8m-0.8 -3.1h0.8m-0.7 -3.3h0.8m-0.7 -3.1h0.8m-0.6 0.9h0.8m-0.8 4.6h0.8m-0.7 5.1h0.8m-0.5 -6.8h0.8m-0.8 6.1h0.8m-0.7 -0.2h0.8m-0.8 -6h0.8m-0.7 -14.1h0.8m-0.7 17.8h0.8m-0.7 7.5h0.8m-0.3 -16.2h0.8m-0.8 5.1h0.8m-0.7 0.8h0.8m-0.6 7.3h0.8m-0.8 -12.2h0.8m-0.7 10.1h0.8m-0.8 -3.3h0.8m-0.4 1.8h0.8m-0.5 -6.8h0.8m-0.8 -0.8h0.8m-0.6 12.1h0.8m-0.8 -6.9h0.8m-0.6 1.7h0.8m-0.8 -2.2h0.8m-0.7 4.9h0.8m-0.8 0.2h0.8m-0.7 -17.7h0.8m-0.8 1.3h0.8m-0.7 20.8h0.8m-0.6 -12.5h0.8m-0.6 2.6h0.8m-0.6 12.9h0.8m-0.7 -6.7h0.8m-0.8 -0.1h0.8m-0.5 -1.4h0.8m-0.8 -9.5h0.8m-0.6 -1.4h0.8m-0.7 0h0.8m-0.7 9.1h0.8m-0.6 -1h0.8m-0.8 1h0.8m-0.7 -8.9h0.8m-0.7 -1.6h0.8m-0.6 -4.9h0.8m-0.8 21.2h0.8m-0.7 -5.1h0.8m-0.7 -13.2h0.8m-0.8 4.9h0.8m-0.4 2.6h0.8m-0.7 -4.9h0.8m-0.7 -0.4h0.8m-0.8 17h0.8m-0.6 -16.8h0.8m-0.6 10.9h0.8m-0.7 -7.9h0.8m-0.6 -10.3h0.8m-0.7 13.8h0.8m-0.8 -4.5h0.8m-0.6 13.8h0.8m-0.7 -16.5h0.8m-0.6 9.1h0.8m-0.7 -5.2h0.8m-0.8 -3.4h0.8m-0.5 8.1h0.8m-0.8 -6.7h0.8m-0.7 7h0.8m-0.8 -8.4h0.8m-0.7 -0.6h0.8m-0.7 8.6h0.8m-0.7 0.1h0.8m-0.8 6.7h0.8m-0.8 -6.9h0.8m-0.8 3.3h0.8m-0.6 -12.4h0.8m-0.5 11h0.8m-0.8 0.2h0.8m-0.7 -6.1h0.8m-0.8 -6.8h0.8m-0.7 0.8h0.8m-0.4 2.7h0.8m-0.6 13.5h0.8m-0.7 -15.4h0.8m-0.5 0.3h0.8m-0.6 5.1h0.8m-0.8 -3.1h0.8m-0.6 16.8h0.8m-0.8 -7.7h0.8m-0.6 -17h0.8m-0.8 16.5h0.8m-0.5 -12.8h0.8m-0.8 9.4h0.8m-0.8 -5.7h0.8m-0.7 13.7h0.8m-0.7 -12h0.8m-0.6 -8.2h0.8m-0.7 1.9h0.8m-0.8 -2.9h0.8m-0.6 15.8h0.8m-0.8 1.9h0.8m-0.8 -0.8h0.8m-0.8 -2.4h0.8m-0.8 7.8h0.8m-0.4 -19.7h0.8m-0.7 3.8h0.8m-0.6 3h0.8m-0.6 1.6h0.8m-0.7 13h0.8m-0.7 2.3h0.8m-0.8 -5.9h0.8m-0.7 -12.3h0.8m-0.6 -3.5h0.8m-0.8 17.2h0.8m-0.8 -5.7h0.8m-0.7 2.2h0.8m-0.8 -2.5h0.8m-0.7 3.5h0.8m-0.7 -3.8h0.8m-0.8 5.7h0.8m-0.7 -13.4h0.8m-0.8 10.8h0.8m-0.7 -4.8h0.8m-0.7 -4.9h0.8m-0.4 -4.9h0.8m-0.8 9h0.8m-0.8 -4.1h0.8m-0.7 9.2h0.8m-0.6 -14.7h0.8m-0.7 23.8h0.8m-0.7 -4h0.8m-0.6 6.3h0.8m-0.7 -25.7h0.8m-0.7 12.8h0.8m-0.5 -0.6h0.8m-0.8 -4.4h0.8m-0.8 5.4h0.8m-0.7 5.3h0.8m-0.7 -10.1h0.8m-0.8 -5.9h0.8m-0.8 9.3h0.8m-0.7 -6.9h0.8m-0.7 11h0.8m-0.8 -21.3h0.8m-0.6 32.9h0.8m-0.7 -27.1h0.8m-0.8 14.6h0.8m-0.7 -0.7h0.8m-0.7 -2.1h0.8m-0.7 -1.5h0.8m-0.7 1.8h0.8m-0.3 -17.9h0.8m-0.3 9h0.8m-0.8 12.4h0.8m-0.7 -7.6h0.8m-0.8 5.4h0.8m-0.6 2.7h0.8m-0.8 -10h0.8m-0.6 5.3h0.8m-0.5 -10.1h0.8m-0.8 -1.7h0.8m-0.5 7.8h0.8m-0.6 6.7h0.8m-0.8 1h0.8m-0.5 -8.1h0.8m-0.8 7.1h0.8m-0.7 -5.8h0.8m-0.7 14.5h0.8m-0.8 -2.7h0.8m-0.7 -4.7h0.8m-0.5 -6.2h0.8m-0.7 -9.1h0.8m-0.8 14.7h0.8m-0.6 -18.1h0.8m-0.5 20.2h0.8m-0.8 -11.9h0.8m-0.8 -0.7h0.8m-0.7 7.8h0.8m-0.7 -2.8h0.8m-0.8 -0.5h0.8m-0.8 6.5h0.8m-0.7 -18.7h0.8m-0.8 12.9h0.8m-0.7 10.5h0.8m-0.7 3.2h0.8m-0.6 -9.8h0.8m-0.6 -5.1h0.8m-0.4 -7.5h0.8m-0.8 16.6h0.8m-0.8 -10.4h0.8m-0.7 -10.1h0.8m-0.7 18.2h0.8m-0.7 10.6h0.8m-0.6 -4.7h0.8m-0.8 -16.3h0.8m-0.8 4.7h0.8m-0.6 4h0.8m-0.8 -1.7h0.8m-0.7 -11.3h0.8m-0.8 16.3h0.8m-0.8 -9.7h0.8m-0.7 9.5h0.8m-0.8 -4.5h0.8m-0.8 -1.8h0.8m-0.5 -0.3h0.8m-0.8 4.3h0.8m-0.7 6.8h0.8m-0.8 -20.4h0.8m-0.6 -3.3h0.8m-0.8 12.9h0.8m-0.7 2.1h0.8m-0.8 -1.1h0.8m-0.7 -2.9h0.8m-0.4 5h0.8m-0.8 1.8h0.8m-0.7 -10.2h0.8m-0.7 -9.2h0.8m-0.6 14.1h0.8m-0.8 2.6h0.8m-0.8 -10.8h0.8m-0.7 17h0.8m-0.6 -5.2h0.8m-0.8 -9.7h0.8m-0.7 -5h0.8m-0.8 12.4h0.8m-0.7 5.2h0.8m-0.8 4.3h0.8m-0.7 -11h0.8m-0.7 0.3h0.8m-0.8 -1h0.8m-0.7 -3.1h0.8m-0.7 7.4h0.8m-0.8 -2.4h0.8m-0.8 0h0.8m-0.7 -12.7h0.8m-0.8 23.6h0.8m-0.8 -15h0.8m-0.8 20h0.8m-0.7 -14.8h0.8m-0.8 -3.1h0.8m-0.7 -3.5h0.8m-0.8 12.5h0.8m-0.7 -8h0.8m-0.8 -9.9h0.8m-0.7 16.9h0.8m-0.7 -8.6h0.8m-0.6 13.6h0.8m-0.7 -10.5h0.8m-0.6 15h0.8m-0.6 -9h0.8m-0.7 0.1h0.8m-0.7 -6.6h0.8m-0.7 4.9h0.8m-0.6 -12.6h0.8m-0.7 6.2h0.8m-0.6 2.6h0.8m-0.6 -9.4h0.8m-0.7 5.3h0.8m-0.7 -6h0.8m-0.8 -1.9h0.8m-0.8 13.6h0.8m-0.6 -0.3h0.8m-0.8 -6.5h0.8m-0.5 9.1h0.8m-0.8 -4.2h0.8m-0.3 1.9h0.8m-0.8 -18.4h0.8m-0.7 28.7h0.8m-0.6 -22.9h0.8m-0.7 18.7h0.8m-0.8 -21.8h0.8m-0.7 22h0.8m-0.7 -12.6h0.8m-0.8 14.3h0.8m-0.7 -4.1h0.8m-0.8 -8.4h0.8m-0.6 2.1h0.8m-0.8 -3.7h0.8m-0.7 0.5h0.8m-0.8 1.4h0.8m-0.5 15.4h0.8m-0.5 -25.3h0.8m-0.7 3.7h0.8m-0.8 14h0.8m-0.7 -2.1h0.8m-0.7 -8.2h0.8m-0.8 8.8h0.8m-0.7 0.5h0.8m-0.6 -5.3h0.8m-0.8 -10.7h0.8m-0.6 -1.8h0.8m-0.7 7.4h0.8m-0.8 -4.2h0.8m-0.8 20.9h0.8m-0.7 -15.8h0.8m-0.7 -7.1h0.8m-0.7 10.8h0.8m-0.8 -6.2h0.8m-0.5 4.5h0.8m-0.6 -4h0.8m-0.8 -1.6h0.8m-0.7 3.5h0.8m-0.8 5.2h0.8m-0.7 7h0.8m-0.7 -14.4h0.8m-0.6 6.8h0.8m-0.6 -0.4h0.8m-0.8 -8.9h0.8m-0.8 5.4h0.8m-0.7 1.2h0.8m-0.6 4.9h0.8m-0.7 -7.2h0.8m-0.7 14h0.8m-0.8 -13h0.8m-0.7 -8.9h0.8m-0.7 11.2h0.8m-0.7 7h0.8m-0.8 -4h0.8m-0.5 -9.1h0.8m-0.7 18.6h0.8m-0.7 -10.2h0.8m-0.8 6.5h0.8m-0.7 -13.8h0.8m-0.5 6.3h0.8m-0.6 -8.1h0.8m-0.8 -1.8h0.8m-0.6 13.9h0.8m-0.4 7.5h0.8m-0.7 -3.1h0.8m-0.6 -5.9h0.8m-0.6 -14.4h0.8m-0.7 16.9h0.8m-0.7 0.4h0.8m-0.7 -15h0.8m-0.7 10.1h0.8m-0.8 12.3h0.8m-0.8 -15.6h0.8m-0.6 -4.6h0.8m-0.8 9.3h0.8m-0.3 -1.3h0.8m-0.7 -5.9h0.8m-0.5 15.9h0.8m-0.8 -10.1h0.8m-0.5 -11.4h0.8m-0.8 6.9h0.8m-0.4 -1.3h0.8m-0.4 4.7h0.8m-0.7 5.1h0.8m-0.8 -17.1h0.8m-0.7 7.7h0.8m-0.7 13.2h0.8m-0.8 0.9h0.8m-0.8 -8.6h0.8m-0.8 -0.8h0.8m-0.7 9h0.8m-0.8 -10.7h0.8m-0.8 15.3h0.8m-0.6 -14.3h0.8m-0.4 2.6h0.8m-0.7 -11.3h0.8m-0.8 21.6h0.8m-0.7 -0.4h0.8m-0.7 -8.1h0.8m-0.8 9.7h0.8m-0.6 -15h0.8m-0.8 2.4h0.8m-0.6 4.8h0.8m-0.8 7.6h0.8m-0.7 -7.8h0.8m-0.6 -1.8h0.8m-0.8 -8.5h0.8m-0.8 -6.5h0.8m-0.7 11.9h0.8m-0.7 -4.9h0.8m-0.3 12.8h0.8m-0.8 -13.4h0.8m-0.6 -10.9h0.8m-0.8 14.4h0.8m-0.6 -3h0.8m-0.8 4.7h0.8m-0.8 -1.7h0.8m-0.5 1.2h0.8m-0.8 2.5h0.8m-0.7 8.5h0.8m-0.7 -2.6h0.8m-0.8 -5.5h0.8m-0.6 4.4h0.8m-0.8 -18.6h0.8m-0.8 17.2h0.8m-0.7 -12.1h0.8m-0.7 3.2h0.8m-0.8 7.7h0.8m-0.8 0.3h0.8m-0.6 -2.7h0.8m-0.8 12.8h0.8m-0.8 1.3h0.8m-0.8 -20h0.8m-0.6 -11.1h0.8m-0.4 12.9h0.8m-0.8 1.4h0.8m-0.7 -3h0.8m-0.7 -7.9h0.8m-0.7 8.1h0.8m-0.8 3h0.8m-0.6 5.2h0.8m-0.8 -0.2h0.8m-0.8 -19.8h0.8m-0.5 19.4h0.8m-0.8 -0.7h0.8m-0.8 -7.9h0.8m-0.1 -3h0.8m-0.7 4.4h0.8m-0.8 -7.4h0.8m-0.7 -2.5h0.8m-0.6 3.9h0.8m-0.8 14.2h0.8m-0.7 -1.7h0.8m-0.7 -10.8h0.8m-0.7 14.6h0.8m-0.8 -4.4h0.8m-0.7 -0.9h0.8m-0.8 -1.7h0.8m-0.7 -5.1h0.8m-0.8 3.1h0.8m-0.7 9.5h0.8m-0.8 -20.2h0.8m-0.7 -3.6h0.8m-0.7 3.9h0.8m-0.6 17.8h0.8m-0.7 -19.8h0.8m-0.6 2h0.8m-0.7 16.7h0.8m-0.8 -19.3h0.8m-0.6 4.7h0.8m-0.6 0.3h0.8m-0.7 6.2h0.8m-0.5 8h0.8m-0.7 -16.3h0.8m-0.8 5.9h0.8m-0.7 -1h0.8m-0.7 -3.9h0.8m-0.7 12.8h0.8m-0.7 -11.8h0.8m-0.8 -0.9h0.8m-0.7 2.3h0.8m-0.8 -1.3h0.8m-0.4 0.3h0.8m-0.7 14.3h0.8m-0.8 -9.8h0.8m-0.7 0.8h0.8m-0.6 -0.4h0.8m-0.5 3.8h0.8m-0.8 2.2h0.8m-0.5 3h0.8m-0.8 -13.5h0.8m-0.7 12.3h0.8m-0.8 -4.6h0.8m-0.6 -10.3h0.8m-0.7 -1.7h0.8m-0.8 25.8h0.8m-0.7 -8.3h0.8m-0.8 -2.9h0.8m-0.7 0.2h0.8m-0.7 -5.7h0.8m-0.6 1.9h0.8m-0.7 5.7h0.8m-0.6 -11.9h0.8m-0.7 -5.6h0.8m-0.8 -0.1h0.8m-0.7 7.8h0.8m-0.6 -6.8h0.8m-0.7 6.1h0.8m-0.6 10.5h0.8m-0.8 -3.7h0.8m-0.7 -15.7h0.8m-0.7 15.2h0.8m-0.7 -4.8h0.8m-0.8 3.7h0.8m-0.5 -7.9h0.8m-0.7 -3.1h0.8m-0.7 26h0.8m-0.6 -16.7h0.8m-0.6 -2.2h0.8m-0.7 9h0.8m-0.7 0h0.8m-0.7 4.4h0.8m-0.7 -8.5h0.8m-0.8 5.3h0.8m-0.7 -6.5h0.8m-0.7 4.3h0.8m-0.7 -7.7h0.8m-0.7 7.9h0.8m-0.7 -14.8h0.8m-0.6 17.5h0.8m-0.5 6.9h0.8m-0.7 -11.2h0.8m-0.7 -14.3h0.8m-0.8 -1.1h0.8m-0.8 17.1h0.8m-0.7 7.5h0.8m-0.8 -16.6h0.8m-0.7 -0.3h0.8m-0.7 8.7h0.8m-0.7 -12.3h0.8m-0.8 24.9h0.8m-0.6 -15.5h0.8m-0.7 4.1h0.8m-0.8 6h0.8m-0.2 -7.7h0.8m-0.8 3.1h0.8m-0.8 -4.5h0.8m-0.5 -14.7h0.8m-0.7 16.6h0.8m-0.7 -1.6h0.8m-0.7 -1.1h0.8m-0.8 -3.6h0.8m-0.7 -1.6h0.8m-0.8 -2.6h0.8m-0.7 12.8h0.8m-0.7 -4h0.8m-0.8 5.3h0.8m-0.2 -20h0.8m-0.7 16.4h0.8m-0.6 -7.9h0.8m-0.8 4.3h0.8m-0.7 -3.1h0.8m-0.3 -3.3h0.8m-0.8 25h0.8m-0.6 -25.9h0.8m-0.8 6.2h0.8m-0.8 -8.1h0.8m-0.6 -0.9h0.8m-0.7 7.6h0.8m-0.4 13.3h0.8m-0.8 -13h0.8m-0.8 -0.4h0.8m-0.4 -4.2h0.8m-0.8 13.6h0.8m-0.8 8.1h0.8m-0.7 -18.1h0.8m-0.8 -4.4h0.8m-0.8 0.7h0.8m-0.7 -7.3h0.8m-0.7 19.3h0.8m-0.8 -13.7h0.8m-0.7 7.4h0.8m-0.6 1.7h0.8m-0.8 6.5h0.8m-0.7 1.2h0.8m-0.8 -6.5h0.8m-0.5 -7h0.8m-0.8 10.4h0.8m-0.8 -8.7h0.8m-0.7 11.4h0.8m-0.7 2.2h0.8m-0.8 -10.9h0.8m-0.8 16.8h0.8m-0.8 -22h0.8m-0.6 6.5h0.8m-0.8 0.7h0.8m-0.8 9.1h0.8m-0.5 2h0.8m-0.7 -18.3h0.8m-0.8 6.1h0.8m-0.8 0.9h0.8m-0.8 15.7h0.8m-0.6 -21.8h0.8m-0.5 11.7h0.8m-0.6 -2.2h0.8m-0.5 -5.4h0.8m-0.7 10.2h0.8m-0.7 1.6h0.8m-0.7 -13h0.8m-0.7 10h0.8m-0.8 -0.6h0.8m-0.5 5.7h0.8m-0.6 -4.5h0.8m-0.8 -1.5h0.8m-0.8 -3.5h0.8m-0.5 0.5h0.8m-0.8 1.9h0.8m-0.8 5.6h0.8m-0.5 -2.4h0.8m-0.7 -18.3h0.8m-0.7 27.9h0.8m-0.6 -12h0.8m-0.7 -0.7h0.8m-0.6 3h0.8m-0.7 -4.9h0.8m-0.3 3.5h0.8m-0.8 -5.2h0.8m-0.7 6.4h0.8m-0.8 -4.5h0.8m-0.8 13.1h0.8m-0.8 -21.6h0.8m-0.8 17.2h0.8m-0.7 2.1h0.8m-0.8 -12.5h0.8m-0.5 -13.3h0.8m-0.8 17h0.8m-0.8 7.5h0.8m-0.7 1.5h0.8m-0.7 -1.1h0.8m-0.8 -25.9h0.8m-0.6 22.2h0.8m-0.7 -7.6h0.8m-0.7 2.3h0.8m-0.8 10.8h0.8m-0.5 -6.3h0.8m-0.8 5.8h0.8m-0.7 -15.3h0.8m-0.8 -5.6h0.8m-0.7 2.4h0.8m-0.8 4.8h0.8m-0.7 8.2h0.8m-0.7 7.2h0.8m-0.6 -3h0.8m-0.8 -16.3h0.8m-0.6 15.5h0.8m-0.8 -11.1h0.8m-0.8 -6.3h0.8m-0.6 22.5h0.8m-0.4 -3.9h0.8m-0.7 -12h0.8m-0.7 8.5h0.8m-0.7 -15.4h0.8m-0.6 14.8h0.8m-0.6 -9.4h0.8m-0.8 -0.1h0.8m-0.7 12.6h0.8m-0.7 -15.6h0.8m-0.4 -2.5h0.8m-0.6 8.2h0.8m-0.8 2.1h0.8m-0.8 0.9h0.8m-0.7 -4.1h0.8m-0.4 1h0.8m-0.7 -7.7h0.8m-0.7 8.7h0.8m-0.4 -3.3h0.8m-0.8 1.9h0.8m-0.6 9.3h0.8m-0.7 -25.5h0.8m-0.7 16.9h0.8m-0.8 -13.5h0.8m-0.7 14.5h0.8m-0.6 2.1h0.8m-0.8 -9.2h0.8m-0.7 12.1h0.8m-0.8 -4.9h0.8m-0.6 -1.1h0.8m-0.8 0.6h0.8m-0.8 6.4h0.8m-0.8 -10.8h0.8m-0.8 5.5h0.8m-0.6 -6.8h0.8m-0.8 13.2h0.8m-0.8 4.4h0.8m-0.8 -15.7h0.8m-0.6 1.5h0.8m-0.7 2.4h0.8m-0.6 4.1h0.8m-0.8 -4.2h0.8m-0.7 7.2h0.8m-0.8 2.7h0.8m-0.7 -17.3h0.8m-0.6 10.3h0.8m-0.8 6.8h0.8m-0.8 -8.3h0.8m-0.7 7h0.8m-0.7 -2.9h0.8m-0.5 -5.5h0.8m-0.8 2.7h0.8m-0.8 2.6h0.8m-0.7 8.9h0.8m-0.6 -11.8h0.8m-0.8 5.6h0.8m-0.8 5.8h0.8m-0.7 -19.4h0.8m-0.7 16.8h0.8m-0.7 -17.1h0.8m-0.8 15.7h0.8" stroke="#a2a2a2" stroke-width="0.8" fill="none"/>
<path d="M269.0 520.8V555.5999999999999M284.3 520.8V555.5999999999999M300.4 520.8V555.5999999999999M313.8 520.8V555.5999999999999M326.1 520.8V555.5999999999999M338.1 520.8V555.5999999999999M350.1 520.8V555.5999999999999M360.7 520.8V555.5999999999999M369.6 520.8V555.5999999999999M376.9 520.8V555.5999999999999M385.6 520.8V555.5999999999999M394.3 520.8V555.5999999999999M403.5 520.8V555.5999999999999M410.2 520.8V555.5999999999999M415.3 520.8V555.5999999999999M420.4 520.8V555.5999999999999M426.3 520.8V555.5999999999999M431.3 520.8V555.5999999999999M436.2 520.8V555.5999999999999M440.1 520.8V555.5999999999999M443.7 520.8V555.5999999999999M445.3 520.8V555.5999999999999M446.8 520.8V555.5999999999999M448.2 520.8V555.5999999999999M458.6 520.8V555.5999999999999" stroke="#222" stroke-width="1.0" stroke-dasharray="1.9 2.3" fill="none"/>
<line x1="262.1" y1="534" x2="466.7" y2="534" stroke="#62e0e8" stroke-width="1.35" stroke-dasharray="3.8 3.6"/>
<line x1="262.1" y1="542.4" x2="466.7" y2="542.4" stroke="#62e0e8" stroke-width="1.35" stroke-dasharray="3.8 3.6"/>
<path d="M269.0 538.0H368.2V522.5H369.0V538.0H393.4V535.4H403.4V538.0H424.6V544.5H425.9V538.0H430.2V532.5H435.9V538.0H447.1V544.4H459.0" stroke="#9a3db8" stroke-width="1.25" fill="none"/>
<rect x="262.1" y="520.8" width="204.6" height="34.8" fill="none" stroke="#8c8c8c" stroke-width="0.9"/>
<line x1="259.1" y1="521.4" x2="262.1" y2="521.4" stroke="#555" stroke-width="0.8" />
<line x1="259.1" y1="529.73" x2="262.1" y2="529.73" stroke="#555" stroke-width="0.8" />
<line x1="259.1" y1="538.06" x2="262.1" y2="538.06" stroke="#555" stroke-width="0.8" />
<line x1="259.1" y1="546.39" x2="262.1" y2="546.39" stroke="#555" stroke-width="0.8" />
<line x1="259.1" y1="554.72" x2="262.1" y2="554.72" stroke="#555" stroke-width="0.8" />
<line x1="269" y1="555.6" x2="269" y2="558.4" stroke="#555" stroke-width="0.8" />
<text x="269" y="568.2" font-size="11" text-anchor="middle" fill="#111" font-weight="normal" >0</text>
<line x1="300.25" y1="555.6" x2="300.25" y2="558.4" stroke="#555" stroke-width="0.8" />
<text x="300.25" y="568.2" font-size="11" text-anchor="middle" fill="#111" font-weight="normal" >0.5</text>
<line x1="331.5" y1="555.6" x2="331.5" y2="558.4" stroke="#555" stroke-width="0.8" />
<text x="331.5" y="570" font-size="11" text-anchor="middle" fill="#111" font-weight="normal" >1.0</text>
<line x1="362.75" y1="555.6" x2="362.75" y2="558.4" stroke="#555" stroke-width="0.8" />
<text x="362.75" y="570" font-size="11" text-anchor="middle" fill="#111" font-weight="normal" >1.5</text>
<line x1="394" y1="555.6" x2="394" y2="558.4" stroke="#555" stroke-width="0.8" />
<text x="394" y="570" font-size="11" text-anchor="middle" fill="#111" font-weight="normal" >2.0</text>
<line x1="425.25" y1="555.6" x2="425.25" y2="558.4" stroke="#555" stroke-width="0.8" />
<text x="425.25" y="569.2" font-size="11" text-anchor="middle" fill="#111" font-weight="normal" >2.5</text>
<line x1="456.5" y1="555.6" x2="456.5" y2="558.4" stroke="#555" stroke-width="0.8" />
<text x="456.5" y="569.2" font-size="11" text-anchor="middle" fill="#111" font-weight="normal" >3.5</text>
<text x="362.7" y="517.2" font-size="9.5" text-anchor="middle" fill="#111" font-weight="normal" >Formalin</text>
<path d="M487.0 536.6h0.8m1.1 -1h0.8m0.2 1.7h0.8m1.5 0.5h0.8m-0.5 4.7h0.8m1.5 -4.2h0.8m-0.8 -1.8h0.8m0.7 2.7h0.8m0.6 -3.2h0.8m2.8 -0.3h0.8m0.1 -4.1h0.8m1.4 8.5h0.8m1.3 1.8h0.8m1.2 -8h0.8m2.9 3h0.8m4.7 -0.6h0.8m5.6 -0.6h0.8m6.2 3.1h0.8m-0.7 -3.9h0.8m0 4.2h0.8m1 -4.9h0.8m3 2h0.8m8.4 7.3h0.8m1.7 0.7h0.8m1.3 -1.3h0.8m3.3 -3.2h0.8m-0.4 -4.8h0.8m1.6 -6.3h0.8m0 4.2h0.8m0.2 6.4h0.8m4.3 -1.3h0.8m1.2 -3.7h0.8m1.2 3.1h0.8m7.2 10.1h0.8m-0.1 -10.7h0.8m1.5 10.2h0.8m3.6 -8.7h0.8m-0.3 0h0.8m4.4 3h0.8m2.4 2h0.8m3.8 -3.1h0.8m0.2 -5.3h0.8m2.8 3.4h0.8m-0.6 -0.6h0.8m6.5 -1.5h0.8m-0.5 5.3h0.8m2.7 -3.9h0.8m1.5 -4h0.8m2.8 1.2h0.8m0.2 2.8h0.8m-0.4 -4.5h0.8m4.6 4.4h0.8m-0.2 2.4h0.8m8.2 3.4h0.8m-0.8 0.1h0.8m2.4 -7.7h0.8m1.2 0.5h0.8m7 0.7h0.8m5 1.2h0.8m-0.2 -3.1h0.8m0.3 1.8h0.8m2.1 -4.5h0.8m0.5 -0.1h0.8m7 8.3h0.8m-0.8 2h0.8m0.6 -0.8h0.8m3.1 -2.3h0.8" stroke="#a8a8a8" stroke-width="0.8" fill="none"/>
<path d="M486.1 520.8V555.5999999999999M501.4 520.8V555.5999999999999M517.5 520.8V555.5999999999999M530.9 520.8V555.5999999999999M543.2 520.8V555.5999999999999M555.2 520.8V555.5999999999999M567.2 520.8V555.5999999999999M577.8 520.8V555.5999999999999M586.7 520.8V555.5999999999999M594.0 520.8V555.5999999999999M602.7 520.8V555.5999999999999M611.4 520.8V555.5999999999999M620.6 520.8V555.5999999999999M627.3 520.8V555.5999999999999M632.4 520.8V555.5999999999999M637.5 520.8V555.5999999999999M643.4 520.8V555.5999999999999M648.4 520.8V555.5999999999999M653.3 520.8V555.5999999999999M657.2 520.8V555.5999999999999M660.8 520.8V555.5999999999999M662.4 520.8V555.5999999999999M663.9 520.8V555.5999999999999M665.3 520.8V555.5999999999999M675.7 520.8V555.5999999999999" stroke="#222" stroke-width="1.0" stroke-dasharray="1.9 2.3" fill="none"/>
<line x1="479.2" y1="534" x2="683.8" y2="534" stroke="#62e0e8" stroke-width="1.35" stroke-dasharray="3.8 3.6"/>
<line x1="479.2" y1="542.4" x2="683.8" y2="542.4" stroke="#62e0e8" stroke-width="1.35" stroke-dasharray="3.8 3.6"/>
<path d="M486.1 538.0H531.1V536.5H543.4V541.8H552.3V538.0H585.7V531.0H586.4V538.0H586.8V541.5H588.6V538.0H592.3V541.5H594.8V538.0H629.8V541.0H631.7V538.0H644.2V541.2H646.1V538.0H649.8V536.0H656.1V538.0H666.1V542.0H676.1" stroke="#1e1e1e" stroke-width="1.25" fill="none"/>
<rect x="479.2" y="520.8" width="204.6" height="34.8" fill="none" stroke="#8c8c8c" stroke-width="0.9"/>
<line x1="476.2" y1="521.4" x2="479.2" y2="521.4" stroke="#555" stroke-width="0.8" />
<line x1="476.2" y1="529.73" x2="479.2" y2="529.73" stroke="#555" stroke-width="0.8" />
<line x1="476.2" y1="538.06" x2="479.2" y2="538.06" stroke="#555" stroke-width="0.8" />
<line x1="476.2" y1="546.39" x2="479.2" y2="546.39" stroke="#555" stroke-width="0.8" />
<line x1="476.2" y1="554.72" x2="479.2" y2="554.72" stroke="#555" stroke-width="0.8" />
<line x1="486.1" y1="555.6" x2="486.1" y2="558.4" stroke="#555" stroke-width="0.8" />
<text x="486.1" y="568.2" font-size="11" text-anchor="middle" fill="#111" font-weight="normal" >0</text>
<line x1="517.35" y1="555.6" x2="517.35" y2="558.4" stroke="#555" stroke-width="0.8" />
<text x="517.35" y="568.2" font-size="11" text-anchor="middle" fill="#111" font-weight="normal" >0.5</text>
<line x1="548.6" y1="555.6" x2="548.6" y2="558.4" stroke="#555" stroke-width="0.8" />
<text x="548.6" y="570" font-size="11" text-anchor="middle" fill="#111" font-weight="normal" >1.0</text>
<line x1="579.85" y1="555.6" x2="579.85" y2="558.4" stroke="#555" stroke-width="0.8" />
<text x="579.85" y="570" font-size="11" text-anchor="middle" fill="#111" font-weight="normal" >1.5</text>
<line x1="611.1" y1="555.6" x2="611.1" y2="558.4" stroke="#555" stroke-width="0.8" />
<text x="611.1" y="570" font-size="11" text-anchor="middle" fill="#111" font-weight="normal" >2.0</text>
<line x1="642.35" y1="555.6" x2="642.35" y2="558.4" stroke="#555" stroke-width="0.8" />
<text x="642.35" y="569.2" font-size="11" text-anchor="middle" fill="#111" font-weight="normal" >2.5</text>
<line x1="673.6" y1="555.6" x2="673.6" y2="558.4" stroke="#555" stroke-width="0.8" />
<text x="673.6" y="569.2" font-size="11" text-anchor="middle" fill="#111" font-weight="normal" >3.5</text>
<text x="579.8" y="517.2" font-size="9.5" text-anchor="middle" fill="#111" font-weight="normal" >Bulk</text>
<text x="154.1" y="584.3" font-size="11" text-anchor="middle" fill="#111" font-weight="normal" textLength="108" lengthAdjust="spacingAndGlyphs" >Genome position (Gb)</text>
<text x="373.3" y="584.3" font-size="11" text-anchor="middle" fill="#111" font-weight="normal" textLength="108" lengthAdjust="spacingAndGlyphs" >Genome position (Gb)</text>
<text x="588" y="584.3" font-size="11" text-anchor="middle" fill="#111" font-weight="normal" textLength="108" lengthAdjust="spacingAndGlyphs" >Genome position (Gb)</text>
<text x="23.3" y="515.3" font-size="11" text-anchor="middle" fill="#111" font-weight="normal" transform="rotate(-90 23.3 515.3)" textLength="122.6" lengthAdjust="spacingAndGlyphs" >Copy number ratio (log2)</text>
<text x="1.3" y="606.7" font-size="22.5" text-anchor="start" fill="#000" font-weight="bold" >g</text>
<path d="M54.4 770.3L225.4 614.9" stroke="#333" stroke-width="1.1" stroke-dasharray="6.2 5" fill="none"/>
<path d="M54.4 770.3L73.4 760.8L97.2 740.8L120.1 721.0L143.3 700.1L164.9 680.0L191.2 653.8L208.3 635.9L225.4 614.9" stroke="#1a1a1a" stroke-width="1.0" fill="none"/>
<path d="M54.4 770.3L56.8 770.3L59.3 770.3L61.7 770.2L64.2 770.1L66.6 770.0L69.1 769.9L71.5 769.8L73.9 769.6L76.4 769.3L78.8 769.1L81.3 768.8L83.7 768.4L86.2 768.0L88.6 767.6L91.0 767.2L93.5 766.6L95.9 766.1L98.4 765.5L100.8 764.9L103.3 764.2L105.7 763.5L108.1 762.7L110.6 761.9L113.0 761.0L115.5 760.1L117.9 759.2L120.4 758.1L122.8 757.1L125.2 756.0L127.7 754.8L130.1 753.6L132.6 752.3L135.0 751.0L137.5 749.6L139.9 748.2L142.3 746.7L144.8 745.2L147.2 743.6L149.7 742.0L152.1 740.3L154.6 738.5L157.0 736.7L159.4 734.8L161.9 732.9L164.3 730.9L166.8 728.8L169.2 726.7L171.7 724.5L174.1 722.2L176.5 719.8L179.0 717.4L181.4 714.9L183.9 712.2L186.3 709.5L188.8 706.6L191.2 703.5L193.6 700.3L196.1 696.9L198.5 693.3L201.0 689.4L203.4 685.1L205.9 680.5L208.3 675.3L210.7 669.6L213.2 663.2L215.6 656.0L218.1 647.8L220.5 638.4L223.0 627.5L225.4 614.9" stroke="#27a9c6" stroke-width="0.65" fill="none" stroke-linejoin="round" />
<path d="M54.4 770.3L56.8 770.3L59.3 770.3L61.7 770.2L64.2 770.1L66.6 770.0L69.1 769.8L71.5 769.6L73.9 769.4L76.4 769.1L78.8 768.8L81.3 768.4L83.7 768.0L86.2 767.6L88.6 767.1L91.0 766.6L93.5 766.0L95.9 765.4L98.4 764.7L100.8 764.0L103.3 763.2L105.7 762.4L108.1 761.5L110.6 760.6L113.0 759.7L115.5 758.7L117.9 757.6L120.4 756.5L122.8 755.4L125.2 754.2L127.7 752.9L130.1 751.6L132.6 750.2L135.0 748.8L137.5 747.4L139.9 745.8L142.3 744.3L144.8 742.6L147.2 740.9L149.7 739.2L152.1 737.4L154.6 735.5L157.0 733.6L159.4 731.6L161.9 729.6L164.3 727.5L166.8 725.3L169.2 723.1L171.7 720.8L174.1 718.4L176.5 715.9L179.0 713.4L181.4 710.7L183.9 708.0L186.3 705.1L188.8 702.1L191.2 698.9L193.6 695.6L196.1 692.0L198.5 688.3L201.0 684.3L203.4 679.9L205.9 675.3L208.3 670.2L210.7 664.6L213.2 658.4L215.6 651.6L218.1 644.0L220.5 635.4L223.0 625.8L225.4 614.9" stroke="#27a9c6" stroke-width="0.65" fill="none" stroke-linejoin="round" />
<path d="M54.4 770.3L56.8 770.3L59.3 770.2L61.7 770.2L64.2 770.1L66.6 769.9L69.1 769.7L71.5 769.5L73.9 769.3L76.4 768.9L78.8 768.6L81.3 768.2L83.7 767.8L86.2 767.3L88.6 766.8L91.0 766.2L93.5 765.6L95.9 764.9L98.4 764.2L100.8 763.5L103.3 762.6L105.7 761.8L108.1 760.9L110.6 759.9L113.0 758.9L115.5 757.9L117.9 756.8L120.4 755.6L122.8 754.4L125.2 753.2L127.7 751.9L130.1 750.5L132.6 749.1L135.0 747.6L137.5 746.1L139.9 744.5L142.3 742.9L144.8 741.2L147.2 739.5L149.7 737.7L152.1 735.8L154.6 733.9L157.0 731.9L159.4 729.9L161.9 727.8L164.3 725.7L166.8 723.5L169.2 721.2L171.7 718.8L174.1 716.4L176.5 713.8L179.0 711.2L181.4 708.5L183.9 705.7L186.3 702.7L188.8 699.6L191.2 696.4L193.6 693.0L196.1 689.4L198.5 685.6L201.0 681.6L203.4 677.2L205.9 672.5L208.3 667.5L210.7 662.0L213.2 656.0L215.6 649.4L218.1 642.1L220.5 634.0L223.0 625.0L225.4 614.9" stroke="#2e8c60" stroke-width="0.65" fill="none" stroke-linejoin="round" />
<path d="M54.4 770.3L56.8 770.3L59.3 770.2L61.7 770.2L64.2 770.0L66.6 769.9L69.1 769.7L71.5 769.4L73.9 769.1L76.4 768.8L78.8 768.4L81.3 768.0L83.7 767.6L86.2 767.1L88.6 766.5L91.0 765.9L93.5 765.2L95.9 764.5L98.4 763.8L100.8 763.0L103.3 762.2L105.7 761.3L108.1 760.3L110.6 759.3L113.0 758.3L115.5 757.2L117.9 756.1L120.4 754.9L122.8 753.6L125.2 752.3L127.7 751.0L130.1 749.6L132.6 748.1L135.0 746.6L137.5 745.0L139.9 743.4L142.3 741.7L144.8 740.0L147.2 738.2L149.7 736.4L152.1 734.5L154.6 732.6L157.0 730.6L159.4 728.5L161.9 726.3L164.3 724.1L166.8 721.9L169.2 719.5L171.7 717.1L174.1 714.6L176.5 712.1L179.0 709.4L181.4 706.6L183.9 703.8L186.3 700.8L188.8 697.6L191.2 694.4L193.6 690.9L196.1 687.3L198.5 683.4L201.0 679.4L203.4 675.0L205.9 670.4L208.3 665.3L210.7 659.9L213.2 654.0L215.6 647.6L218.1 640.6L220.5 632.9L223.0 624.3L225.4 614.9" stroke="#27a9c6" stroke-width="0.65" fill="none" stroke-linejoin="round" />
<path d="M54.4 770.3L56.8 770.3L59.3 770.2L61.7 770.1L64.2 770.0L66.6 769.8L69.1 769.6L71.5 769.4L73.9 769.1L76.4 768.7L78.8 768.3L81.3 767.9L83.7 767.4L86.2 766.8L88.6 766.2L91.0 765.6L93.5 764.9L95.9 764.2L98.4 763.4L100.8 762.6L103.3 761.7L105.7 760.8L108.1 759.8L110.6 758.8L113.0 757.7L115.5 756.6L117.9 755.4L120.4 754.2L122.8 752.9L125.2 751.5L127.7 750.2L130.1 748.7L132.6 747.2L135.0 745.7L137.5 744.1L139.9 742.4L142.3 740.7L144.8 739.0L147.2 737.1L149.7 735.3L152.1 733.3L154.6 731.3L157.0 729.3L159.4 727.2L161.9 725.0L164.3 722.8L166.8 720.5L169.2 718.1L171.7 715.6L174.1 713.1L176.5 710.5L179.0 707.8L181.4 705.0L183.9 702.0L186.3 699.0L188.8 695.8L191.2 692.5L193.6 689.0L196.1 685.4L198.5 681.5L201.0 677.4L203.4 673.1L205.9 668.4L208.3 663.5L210.7 658.1L213.2 652.4L215.6 646.1L218.1 639.3L220.5 631.9L223.0 623.8L225.4 614.9" stroke="#27a9c6" stroke-width="0.65" fill="none" stroke-linejoin="round" />
<path d="M54.4 770.3L56.8 770.3L59.3 770.2L61.7 770.1L64.2 770.0L66.6 769.8L69.1 769.6L71.5 769.3L73.9 769.0L76.4 768.6L78.8 768.2L81.3 767.7L83.7 767.2L86.2 766.6L88.6 766.0L91.0 765.3L93.5 764.6L95.9 763.9L98.4 763.1L100.8 762.2L103.3 761.3L105.7 760.3L108.1 759.3L110.6 758.3L113.0 757.1L115.5 756.0L117.9 754.8L120.4 753.5L122.8 752.2L125.2 750.8L127.7 749.4L130.1 747.9L132.6 746.4L135.0 744.8L137.5 743.2L139.9 741.5L142.3 739.8L144.8 738.0L147.2 736.1L149.7 734.2L152.1 732.2L154.6 730.2L157.0 728.1L159.4 726.0L161.9 723.8L164.3 721.5L166.8 719.2L169.2 716.7L171.7 714.3L174.1 711.7L176.5 709.0L179.0 706.3L181.4 703.4L183.9 700.5L186.3 697.4L188.8 694.2L191.2 690.8L193.6 687.3L196.1 683.7L198.5 679.8L201.0 675.7L203.4 671.3L205.9 666.7L208.3 661.8L210.7 656.5L213.2 650.9L215.6 644.8L218.1 638.2L220.5 631.1L223.0 623.3L225.4 614.9" stroke="#2e8c60" stroke-width="0.65" fill="none" stroke-linejoin="round" />
<path d="M54.4 770.3L56.8 770.3L59.3 770.2L61.7 770.1L64.2 770.0L66.6 769.8L69.1 769.5L71.5 769.2L73.9 768.9L76.4 768.5L78.8 768.0L81.3 767.5L83.7 767.0L86.2 766.4L88.6 765.8L91.0 765.1L93.5 764.3L95.9 763.5L98.4 762.7L100.8 761.8L103.3 760.9L105.7 759.9L108.1 758.8L110.6 757.8L113.0 756.6L115.5 755.4L117.9 754.2L120.4 752.9L122.8 751.5L125.2 750.1L127.7 748.7L130.1 747.2L132.6 745.6L135.0 744.0L137.5 742.3L139.9 740.6L142.3 738.8L144.8 737.0L147.2 735.1L149.7 733.2L152.1 731.2L154.6 729.1L157.0 727.0L159.4 724.9L161.9 722.6L164.3 720.3L166.8 717.9L169.2 715.5L171.7 713.0L174.1 710.3L176.5 707.7L179.0 704.9L181.4 702.0L183.9 699.0L186.3 695.9L188.8 692.6L191.2 689.3L193.6 685.7L196.1 682.0L198.5 678.1L201.0 674.1L203.4 669.7L205.9 665.1L208.3 660.3L210.7 655.1L213.2 649.5L215.6 643.6L218.1 637.2L220.5 630.4L223.0 622.9L225.4 614.9" stroke="#27a9c6" stroke-width="0.65" fill="none" stroke-linejoin="round" />
<path d="M54.4 770.3L56.8 770.3L59.3 770.2L61.7 770.1L64.2 769.9L66.6 769.7L69.1 769.4L71.5 769.1L73.9 768.8L76.4 768.4L78.8 767.9L81.3 767.4L83.7 766.8L86.2 766.2L88.6 765.5L91.0 764.8L93.5 764.1L95.9 763.2L98.4 762.4L100.8 761.5L103.3 760.5L105.7 759.5L108.1 758.4L110.6 757.3L113.0 756.1L115.5 754.9L117.9 753.6L120.4 752.3L122.8 750.9L125.2 749.5L127.7 748.0L130.1 746.4L132.6 744.9L135.0 743.2L137.5 741.5L139.9 739.8L142.3 738.0L144.8 736.1L147.2 734.2L149.7 732.2L152.1 730.2L154.6 728.1L157.0 726.0L159.4 723.8L161.9 721.5L164.3 719.2L166.8 716.7L169.2 714.3L171.7 711.7L174.1 709.1L176.5 706.3L179.0 703.5L181.4 700.6L183.9 697.6L186.3 694.4L188.8 691.2L191.2 687.8L193.6 684.2L196.1 680.5L198.5 676.6L201.0 672.5L203.4 668.2L205.9 663.7L208.3 658.9L210.7 653.8L213.2 648.3L215.6 642.5L218.1 636.3L220.5 629.7L223.0 622.6L225.4 614.9" stroke="#2e8c60" stroke-width="0.65" fill="none" stroke-linejoin="round" />
<path d="M54.4 770.3L56.8 770.3L59.3 770.2L61.7 770.1L64.2 769.9L66.6 769.7L69.1 769.4L71.5 769.1L73.9 768.7L76.4 768.2L78.8 767.8L81.3 767.2L83.7 766.6L86.2 766.0L88.6 765.3L91.0 764.6L93.5 763.8L95.9 762.9L98.4 762.0L100.8 761.1L103.3 760.1L105.7 759.0L108.1 757.9L110.6 756.8L113.0 755.6L115.5 754.3L117.9 753.0L120.4 751.7L122.8 750.3L125.2 748.8L127.7 747.3L130.1 745.7L132.6 744.1L135.0 742.4L137.5 740.7L139.9 739.0L142.3 737.1L144.8 735.2L147.2 733.3L149.7 731.3L152.1 729.2L154.6 727.1L157.0 724.9L159.4 722.7L161.9 720.4L164.3 718.0L166.8 715.6L169.2 713.1L171.7 710.5L174.1 707.8L176.5 705.1L179.0 702.2L181.4 699.3L183.9 696.2L186.3 693.1L188.8 689.8L191.2 686.3L193.6 682.8L196.1 679.1L198.5 675.2L201.0 671.1L203.4 666.8L205.9 662.3L208.3 657.5L210.7 652.5L213.2 647.2L215.6 641.5L218.1 635.5L220.5 629.1L223.0 622.2L225.4 614.9" stroke="#27a9c6" stroke-width="0.65" fill="none" stroke-linejoin="round" />
<path d="M54.4 770.3L56.8 770.3L59.3 770.2L61.7 770.1L64.2 769.9L66.6 769.6L69.1 769.3L71.5 769.0L73.9 768.6L76.4 768.1L78.8 767.6L81.3 767.1L83.7 766.4L86.2 765.8L88.6 765.1L91.0 764.3L93.5 763.5L95.9 762.6L98.4 761.7L100.8 760.7L103.3 759.7L105.7 758.6L108.1 757.5L110.6 756.3L113.0 755.1L115.5 753.8L117.9 752.5L120.4 751.1L122.8 749.7L125.2 748.2L127.7 746.6L130.1 745.0L132.6 743.4L135.0 741.7L137.5 740.0L139.9 738.2L142.3 736.3L144.8 734.4L147.2 732.4L149.7 730.4L152.1 728.3L154.6 726.2L157.0 724.0L159.4 721.7L161.9 719.4L164.3 717.0L166.8 714.5L169.2 711.9L171.7 709.3L174.1 706.6L176.5 703.8L179.0 701.0L181.4 698.0L183.9 694.9L186.3 691.7L188.8 688.4L191.2 685.0L193.6 681.4L196.1 677.7L198.5 673.8L201.0 669.7L203.4 665.5L205.9 661.0L208.3 656.3L210.7 651.3L213.2 646.1L215.6 640.6L218.1 634.7L220.5 628.5L223.0 621.9L225.4 614.9" stroke="#f0a040" stroke-width="0.65" fill="none" stroke-linejoin="round" />
<path d="M54.4 770.3L56.8 770.3L59.3 770.2L61.7 770.0L64.2 769.8L66.6 769.6L69.1 769.3L71.5 768.9L73.9 768.5L76.4 768.0L78.8 767.5L81.3 766.9L83.7 766.3L86.2 765.6L88.6 764.8L91.0 764.1L93.5 763.2L95.9 762.3L98.4 761.4L100.8 760.4L103.3 759.3L105.7 758.2L108.1 757.1L110.6 755.9L113.0 754.6L115.5 753.3L117.9 751.9L120.4 750.5L122.8 749.1L125.2 747.6L127.7 746.0L130.1 744.4L132.6 742.7L135.0 741.0L137.5 739.2L139.9 737.4L142.3 735.5L144.8 733.5L147.2 731.5L149.7 729.5L152.1 727.4L154.6 725.2L157.0 723.0L159.4 720.7L161.9 718.3L164.3 715.9L166.8 713.4L169.2 710.8L171.7 708.2L174.1 705.5L176.5 702.6L179.0 699.7L181.4 696.7L183.9 693.6L186.3 690.4L188.8 687.1L191.2 683.7L193.6 680.1L196.1 676.3L198.5 672.5L201.0 668.4L203.4 664.2L205.9 659.8L208.3 655.1L210.7 650.2L213.2 645.1L215.6 639.7L218.1 634.0L220.5 628.0L223.0 621.6L225.4 614.9" stroke="#2e8c60" stroke-width="0.65" fill="none" stroke-linejoin="round" />
<path d="M54.4 770.3L56.8 770.3L59.3 770.2L61.7 770.0L64.2 769.8L66.6 769.5L69.1 769.2L71.5 768.8L73.9 768.4L76.4 767.9L78.8 767.3L81.3 766.7L83.7 766.1L86.2 765.4L88.6 764.6L91.0 763.8L93.5 762.9L95.9 762.0L98.4 761.0L100.8 760.0L103.3 758.9L105.7 757.8L108.1 756.6L110.6 755.4L113.0 754.1L115.5 752.8L117.9 751.4L120.4 750.0L122.8 748.5L125.2 746.9L127.7 745.4L130.1 743.7L132.6 742.0L135.0 740.3L137.5 738.5L139.9 736.6L142.3 734.7L144.8 732.7L147.2 730.7L149.7 728.6L152.1 726.5L154.6 724.3L157.0 722.0L159.4 719.7L161.9 717.3L164.3 714.9L166.8 712.3L169.2 709.7L171.7 707.1L174.1 704.3L176.5 701.5L179.0 698.5L181.4 695.5L183.9 692.4L186.3 689.2L188.8 685.8L191.2 682.4L193.6 678.8L196.1 675.1L198.5 671.2L201.0 667.2L203.4 663.0L205.9 658.6L208.3 654.0L210.7 649.2L213.2 644.2L215.6 638.9L218.1 633.4L220.5 627.5L223.0 621.4L225.4 614.9" stroke="#e0363c" stroke-width="0.65" fill="none" stroke-linejoin="round" />
<path d="M54.4 770.3L56.8 770.3L59.3 770.2L61.7 770.0L64.2 769.8L66.6 769.5L69.1 769.1L71.5 768.7L73.9 768.3L76.4 767.8L78.8 767.2L81.3 766.6L83.7 765.9L86.2 765.2L88.6 764.4L91.0 763.6L93.5 762.7L95.9 761.7L98.4 760.7L100.8 759.7L103.3 758.6L105.7 757.4L108.1 756.2L110.6 755.0L113.0 753.7L115.5 752.3L117.9 750.9L120.4 749.4L122.8 747.9L125.2 746.3L127.7 744.7L130.1 743.1L132.6 741.3L135.0 739.6L137.5 737.7L139.9 735.8L142.3 733.9L144.8 731.9L147.2 729.9L149.7 727.8L152.1 725.6L154.6 723.4L157.0 721.1L159.4 718.7L161.9 716.3L164.3 713.8L166.8 711.3L169.2 708.7L171.7 706.0L174.1 703.2L176.5 700.3L179.0 697.4L181.4 694.3L183.9 691.2L186.3 688.0L188.8 684.6L191.2 681.1L193.6 677.6L196.1 673.8L198.5 670.0L201.0 666.0L203.4 661.8L205.9 657.5L208.3 652.9L210.7 648.2L213.2 643.3L215.6 638.1L218.1 632.7L220.5 627.1L223.0 621.1L225.4 614.9" stroke="#f0a040" stroke-width="0.65" fill="none" stroke-linejoin="round" />
<path d="M54.4 770.3L56.8 770.3L59.3 770.1L61.7 770.0L64.2 769.7L66.6 769.4L69.1 769.1L71.5 768.7L73.9 768.2L76.4 767.7L78.8 767.1L81.3 766.4L83.7 765.7L86.2 765.0L88.6 764.2L91.0 763.3L93.5 762.4L95.9 761.4L98.4 760.4L100.8 759.3L103.3 758.2L105.7 757.0L108.1 755.8L110.6 754.5L113.0 753.2L115.5 751.8L117.9 750.4L120.4 748.9L122.8 747.3L125.2 745.7L127.7 744.1L130.1 742.4L132.6 740.7L135.0 738.9L137.5 737.0L139.9 735.1L142.3 733.1L144.8 731.1L147.2 729.0L149.7 726.9L152.1 724.7L154.6 722.5L157.0 720.1L159.4 717.8L161.9 715.3L164.3 712.8L166.8 710.2L169.2 707.6L171.7 704.9L174.1 702.1L176.5 699.2L179.0 696.2L181.4 693.2L183.9 690.0L186.3 686.8L188.8 683.4L191.2 679.9L193.6 676.3L196.1 672.6L198.5 668.8L201.0 664.8L203.4 660.7L205.9 656.4L208.3 651.9L210.7 647.3L213.2 642.4L215.6 637.4L218.1 632.1L220.5 626.6L223.0 620.9L225.4 614.9" stroke="#e0363c" stroke-width="0.65" fill="none" stroke-linejoin="round" />
<path d="M54.4 770.3L56.8 770.3L59.3 770.1L61.7 770.0L64.2 769.7L66.6 769.4L69.1 769.0L71.5 768.6L73.9 768.1L76.4 767.5L78.8 766.9L81.3 766.3L83.7 765.5L86.2 764.8L88.6 763.9L91.0 763.0L93.5 762.1L95.9 761.1L98.4 760.1L100.8 759.0L103.3 757.8L105.7 756.6L108.1 755.4L110.6 754.1L113.0 752.7L115.5 751.3L117.9 749.8L120.4 748.3L122.8 746.8L125.2 745.1L127.7 743.5L130.1 741.8L132.6 740.0L135.0 738.2L137.5 736.3L139.9 734.3L142.3 732.4L144.8 730.3L147.2 728.2L149.7 726.1L152.1 723.8L154.6 721.6L157.0 719.2L159.4 716.8L161.9 714.4L164.3 711.8L166.8 709.2L169.2 706.6L171.7 703.8L174.1 701.0L176.5 698.1L179.0 695.1L181.4 692.0L183.9 688.9L186.3 685.6L188.8 682.2L191.2 678.8L193.6 675.2L196.1 671.5L198.5 667.7L201.0 663.7L203.4 659.6L205.9 655.4L208.3 651.0L210.7 646.4L213.2 641.6L215.6 636.7L218.1 631.6L220.5 626.3L223.0 620.7L225.4 614.9" stroke="#f0a040" stroke-width="0.65" fill="none" stroke-linejoin="round" />
<path d="M54.4 770.3L56.8 770.3L59.3 770.1L61.7 769.9L64.2 769.7L66.6 769.3L69.1 768.9L71.5 768.5L73.9 768.0L76.4 767.4L78.8 766.8L81.3 766.1L83.7 765.3L86.2 764.6L88.6 763.7L91.0 762.8L93.5 761.8L95.9 760.8L98.4 759.7L100.8 758.6L103.3 757.5L105.7 756.2L108.1 754.9L110.6 753.6L113.0 752.2L115.5 750.8L117.9 749.3L120.4 747.8L122.8 746.2L125.2 744.5L127.7 742.9L130.1 741.1L132.6 739.3L135.0 737.5L137.5 735.6L139.9 733.6L142.3 731.6L144.8 729.5L147.2 727.4L149.7 725.2L152.1 723.0L154.6 720.7L157.0 718.3L159.4 715.9L161.9 713.4L164.3 710.8L166.8 708.2L169.2 705.5L171.7 702.7L174.1 699.9L176.5 697.0L179.0 694.0L181.4 690.9L183.9 687.7L186.3 684.4L188.8 681.1L191.2 677.6L193.6 674.0L196.1 670.4L198.5 666.5L201.0 662.6L203.4 658.6L205.9 654.4L208.3 650.0L210.7 645.5L213.2 640.9L215.6 636.1L218.1 631.1L220.5 625.9L223.0 620.5L225.4 614.9" stroke="#e0363c" stroke-width="0.65" fill="none" stroke-linejoin="round" />
<path d="M54.4 770.3L56.8 770.2L59.3 770.1L61.7 769.9L64.2 769.6L66.6 769.3L69.1 768.9L71.5 768.4L73.9 767.9L76.4 767.3L78.8 766.6L81.3 765.9L83.7 765.2L86.2 764.3L88.6 763.5L91.0 762.5L93.5 761.5L95.9 760.5L98.4 759.4L100.8 758.3L103.3 757.1L105.7 755.8L108.1 754.5L110.6 753.2L113.0 751.8L115.5 750.3L117.9 748.8L120.4 747.2L122.8 745.6L125.2 744.0L127.7 742.2L130.1 740.5L132.6 738.6L135.0 736.8L137.5 734.8L139.9 732.9L142.3 730.8L144.8 728.7L147.2 726.6L149.7 724.4L152.1 722.1L154.6 719.8L157.0 717.4L159.4 714.9L161.9 712.4L164.3 709.8L166.8 707.2L169.2 704.5L171.7 701.7L174.1 698.8L176.5 695.9L179.0 692.9L181.4 689.8L183.9 686.6L186.3 683.3L188.8 680.0L191.2 676.5L193.6 672.9L196.1 669.3L198.5 665.5L201.0 661.6L203.4 657.6L205.9 653.4L208.3 649.1L210.7 644.7L213.2 640.2L215.6 635.5L218.1 630.6L220.5 625.5L223.0 620.3L225.4 614.9" stroke="#f0a040" stroke-width="0.65" fill="none" stroke-linejoin="round" />
<path d="M54.4 770.3L56.8 770.2L59.3 770.1L61.7 769.9L64.2 769.6L66.6 769.2L69.1 768.8L71.5 768.3L73.9 767.8L76.4 767.2L78.8 766.5L81.3 765.8L83.7 765.0L86.2 764.1L88.6 763.2L91.0 762.3L93.5 761.3L95.9 760.2L98.4 759.1L100.8 757.9L103.3 756.7L105.7 755.4L108.1 754.1L110.6 752.7L113.0 751.3L115.5 749.8L117.9 748.3L120.4 746.7L122.8 745.0L125.2 743.4L127.7 741.6L130.1 739.8L132.6 738.0L135.0 736.1L137.5 734.1L139.9 732.1L142.3 730.0L144.8 727.9L147.2 725.8L149.7 723.5L152.1 721.2L154.6 718.9L157.0 716.5L159.4 714.0L161.9 711.5L164.3 708.9L166.8 706.2L169.2 703.5L171.7 700.7L174.1 697.8L176.5 694.8L179.0 691.8L181.4 688.7L183.9 685.5L186.3 682.2L188.8 678.9L191.2 675.4L193.6 671.9L196.1 668.2L198.5 664.5L201.0 660.6L203.4 656.6L205.9 652.5L208.3 648.3L210.7 644.0L213.2 639.5L215.6 634.9L218.1 630.1L220.5 625.2L223.0 620.1L225.4 614.9" stroke="#e0363c" stroke-width="0.65" fill="none" stroke-linejoin="round" />
<path d="M54.4 770.3L56.8 770.2L59.3 770.1L61.7 769.9L64.2 769.5L66.6 769.2L69.1 768.7L71.5 768.2L73.9 767.7L76.4 767.0L78.8 766.3L81.3 765.6L83.7 764.8L86.2 763.9L88.6 763.0L91.0 762.0L93.5 761.0L95.9 759.9L98.4 758.8L100.8 757.6L103.3 756.3L105.7 755.0L108.1 753.7L110.6 752.3L113.0 750.8L115.5 749.3L117.9 747.7L120.4 746.1L122.8 744.5L125.2 742.8L127.7 741.0L130.1 739.2L132.6 737.3L135.0 735.4L137.5 733.4L139.9 731.4L142.3 729.3L144.8 727.1L147.2 724.9L149.7 722.7L152.1 720.4L154.6 718.0L157.0 715.6L159.4 713.1L161.9 710.5L164.3 707.9L166.8 705.2L169.2 702.5L171.7 699.6L174.1 696.7L176.5 693.8L179.0 690.7L181.4 687.6L183.9 684.4L186.3 681.2L188.8 677.8L191.2 674.4L193.6 670.8L196.1 667.2L198.5 663.5L201.0 659.6L203.4 655.7L205.9 651.7L208.3 647.5L210.7 643.2L213.2 638.8L215.6 634.3L218.1 629.7L220.5 624.9L223.0 620.0L225.4 614.9" stroke="#e0363c" stroke-width="0.65" fill="none" stroke-linejoin="round" />
<path d="M54.4 770.3L56.8 770.2L59.3 770.1L61.7 769.8L64.2 769.5L66.6 769.1L69.1 768.7L71.5 768.1L73.9 767.5L76.4 766.9L78.8 766.2L81.3 765.4L83.7 764.6L86.2 763.7L88.6 762.8L91.0 761.8L93.5 760.7L95.9 759.6L98.4 758.4L100.8 757.2L103.3 755.9L105.7 754.6L108.1 753.2L110.6 751.8L113.0 750.3L115.5 748.8L117.9 747.2L120.4 745.6L122.8 743.9L125.2 742.2L127.7 740.4L130.1 738.5L132.6 736.6L135.0 734.7L137.5 732.7L139.9 730.6L142.3 728.5L144.8 726.3L147.2 724.1L149.7 721.8L152.1 719.5L154.6 717.1L157.0 714.7L159.4 712.1L161.9 709.6L164.3 706.9L166.8 704.2L169.2 701.5L171.7 698.6L174.1 695.7L176.5 692.7L179.0 689.7L181.4 686.6L183.9 683.4L186.3 680.1L188.8 676.8L191.2 673.3L193.6 669.8L196.1 666.2L198.5 662.5L201.0 658.7L203.4 654.8L205.9 650.8L208.3 646.7L210.7 642.5L213.2 638.2L215.6 633.8L218.1 629.3L220.5 624.6L223.0 619.8L225.4 614.9" stroke="#e0363c" stroke-width="0.65" fill="none" stroke-linejoin="round" />
<path d="M54.4 770.3L55.8 770.2L57.2 770.1L58.7 770.0L60.1 769.9L61.5 769.8L63.0 769.7L64.4 769.6L65.8 769.5L67.2 769.5L68.7 769.4L70.1 769.3L71.5 769.2L72.9 769.1L74.3 769.0L75.8 768.9L77.2 768.8L78.6 768.7L80.0 768.6L81.5 768.5L82.9 768.3L84.3 768.2L85.8 768.1L87.2 768.0L88.6 767.8L90.0 767.7L91.5 767.5L92.9 767.3L94.3 767.2L95.7 767.0L97.2 766.8L98.6 766.6L100.0 766.4L101.4 766.2L102.8 766.0L104.3 765.8L105.7 765.5L107.1 765.3L108.5 765.0L110.0 764.8L111.4 764.5L112.8 764.2L114.2 764.0L115.7 763.7L117.1 763.4L118.5 763.1L120.0 762.7L121.4 762.4L122.8 762.1L124.2 761.7L125.7 761.3L127.1 760.9L128.5 760.4L129.9 759.9L131.3 759.4L132.8 758.8L134.2 758.3L135.6 757.7L137.1 757.1L138.5 756.4L139.9 755.8L141.3 755.2L142.8 754.5L144.2 753.8L145.6 753.1L147.0 752.5L148.5 751.8L149.9 751.1L151.3 750.4L152.7 749.7L154.2 749.0L155.6 748.2L157.0 747.5L158.4 746.7L159.8 745.9L161.3 745.1L162.7 744.3L164.1 743.4L165.6 742.5L167.0 741.6L168.4 740.7L169.8 739.7L171.2 738.7L172.7 737.7L174.1 736.7L175.5 735.6L176.9 734.5L178.4 733.3L179.8 732.2L181.2 730.9L182.7 729.7L184.1 728.3L185.5 727.0L186.9 725.6L188.3 724.1L189.8 722.6L191.2 721.1L192.6 719.5L194.1 717.8L195.5 716.1L196.9 714.3L198.3 712.5L199.8 710.5L201.2 708.4L202.6 706.3L204.0 704.0L205.4 701.5L206.9 698.9L208.3 696.2L209.7 693.3L211.2 690.2L212.6 686.9L214.0 683.3L215.4 679.2L216.8 674.5L218.3 669.2L219.7 663.0L221.1 654.2L222.5 641.8L224.0 628.0L225.4 614.9" stroke="#a23fb5" stroke-width="1.0" fill="none" stroke-linejoin="round" />
<rect x="47.4" y="608" width="185" height="168.3" fill="none" stroke="#555" stroke-width="1"/>
<path d="M47.4 776.3H232.4V608.0" stroke="#6b6bb0" stroke-width="1.0" fill="none"/>
<line x1="54.4" y1="776.3" x2="54.4" y2="779.1" stroke="#444" stroke-width="0.9" />
<text x="54.4" y="789.2" font-size="11" text-anchor="middle" fill="#111" font-weight="normal" >0.0</text>
<line x1="43.8" y1="770.3" x2="47.4" y2="770.3" stroke="#444" stroke-width="0.9" />
<text x="39.8" y="770.3" font-size="10.5" text-anchor="middle" fill="#111" font-weight="normal" transform="rotate(-90 39.8 770.3)" >0.0</text>
<line x1="88.6" y1="776.3" x2="88.6" y2="779.1" stroke="#444" stroke-width="0.9" />
<text x="88.6" y="789.2" font-size="11" text-anchor="middle" fill="#111" font-weight="normal" >0.2</text>
<line x1="43.8" y1="739.22" x2="47.4" y2="739.22" stroke="#444" stroke-width="0.9" />
<text x="39.8" y="739.22" font-size="10.5" text-anchor="middle" fill="#111" font-weight="normal" transform="rotate(-90 39.8 739.22)" >0.2</text>
<line x1="122.8" y1="776.3" x2="122.8" y2="779.1" stroke="#444" stroke-width="0.9" />
<text x="122.8" y="789.2" font-size="11" text-anchor="middle" fill="#111" font-weight="normal" >0.4</text>
<line x1="43.8" y1="708.14" x2="47.4" y2="708.14" stroke="#444" stroke-width="0.9" />
<text x="39.8" y="708.14" font-size="10.5" text-anchor="middle" fill="#111" font-weight="normal" transform="rotate(-90 39.8 708.14)" >0.4</text>
<line x1="157" y1="776.3" x2="157" y2="779.1" stroke="#444" stroke-width="0.9" />
<text x="157" y="789.2" font-size="11" text-anchor="middle" fill="#111" font-weight="normal" >0.6</text>
<line x1="43.8" y1="677.06" x2="47.4" y2="677.06" stroke="#444" stroke-width="0.9" />
<text x="39.8" y="677.06" font-size="10.5" text-anchor="middle" fill="#111" font-weight="normal" transform="rotate(-90 39.8 677.06)" >0.6</text>
<line x1="191.2" y1="776.3" x2="191.2" y2="779.1" stroke="#444" stroke-width="0.9" />
<text x="191.2" y="789.2" font-size="11" text-anchor="middle" fill="#111" font-weight="normal" >0.8</text>
<line x1="43.8" y1="645.98" x2="47.4" y2="645.98" stroke="#444" stroke-width="0.9" />
<text x="39.8" y="645.98" font-size="10.5" text-anchor="middle" fill="#111" font-weight="normal" transform="rotate(-90 39.8 645.98)" >0.8</text>
<line x1="225.4" y1="776.3" x2="225.4" y2="779.1" stroke="#444" stroke-width="0.9" />
<text x="225.4" y="789.2" font-size="11" text-anchor="middle" fill="#111" font-weight="normal" >1.0</text>
<line x1="43.8" y1="614.9" x2="47.4" y2="614.9" stroke="#444" stroke-width="0.9" />
<text x="39.8" y="614.9" font-size="10.5" text-anchor="middle" fill="#111" font-weight="normal" transform="rotate(-90 39.8 614.9)" >1.0</text>
<text x="147.2" y="802.8" font-size="11.5" text-anchor="middle" fill="#111" font-weight="normal" textLength="76" lengthAdjust="spacingAndGlyphs" >Fraction of Bins</text>
<text x="24.2" y="684.6" font-size="11.5" text-anchor="middle" fill="#111" font-weight="normal" transform="rotate(-90 24.2 684.6)" textLength="81.4" lengthAdjust="spacingAndGlyphs" >Fraction of reads</text>
<rect x="47.4" y="608" width="76.3" height="77.2" fill="#fff" stroke="#333" stroke-width="0.9"/>
<path d="M54.6 618.1H72.8" stroke="#2e8c60" stroke-width="2.2" stroke-linecap="round"/>
<text x="80.6" y="621.5" font-size="10" text-anchor="start" fill="#111" font-weight="normal" textLength="24.6" lengthAdjust="spacingAndGlyphs" >0 shot</text>
<path d="M54.6 629.2H72.8" stroke="#27a9c6" stroke-width="2.2" stroke-linecap="round"/>
<text x="80.6" y="632.6" font-size="10" text-anchor="start" fill="#111" font-weight="normal" textLength="24.6" lengthAdjust="spacingAndGlyphs" >1 shot</text>
<path d="M54.6 640.2H72.8" stroke="#f0a040" stroke-width="2.2" stroke-linecap="round"/>
<text x="80.6" y="643.6" font-size="10" text-anchor="start" fill="#111" font-weight="normal" textLength="34.1" lengthAdjust="spacingAndGlyphs" >10 shots</text>
<path d="M54.6 651.2H72.8" stroke="#e0363c" stroke-width="2.2" stroke-linecap="round"/>
<text x="80.6" y="654.6" font-size="10" text-anchor="start" fill="#111" font-weight="normal" textLength="34.1" lengthAdjust="spacingAndGlyphs" >50 shots</text>
<path d="M54.6 663.3H72.8" stroke="#a23fb5" stroke-width="2.2" stroke-linecap="round"/>
<text x="80.6" y="666.7" font-size="10" text-anchor="start" fill="#111" font-weight="normal" textLength="35.4" lengthAdjust="spacingAndGlyphs" >Formalin</text>
<path d="M54.6 675.6H72.8" stroke="#111" stroke-width="2.2" stroke-linecap="round"/>
<text x="80.6" y="679" font-size="10" text-anchor="start" fill="#111" font-weight="normal" textLength="17.4" lengthAdjust="spacingAndGlyphs" >Bulk</text>
</svg></body></html>
